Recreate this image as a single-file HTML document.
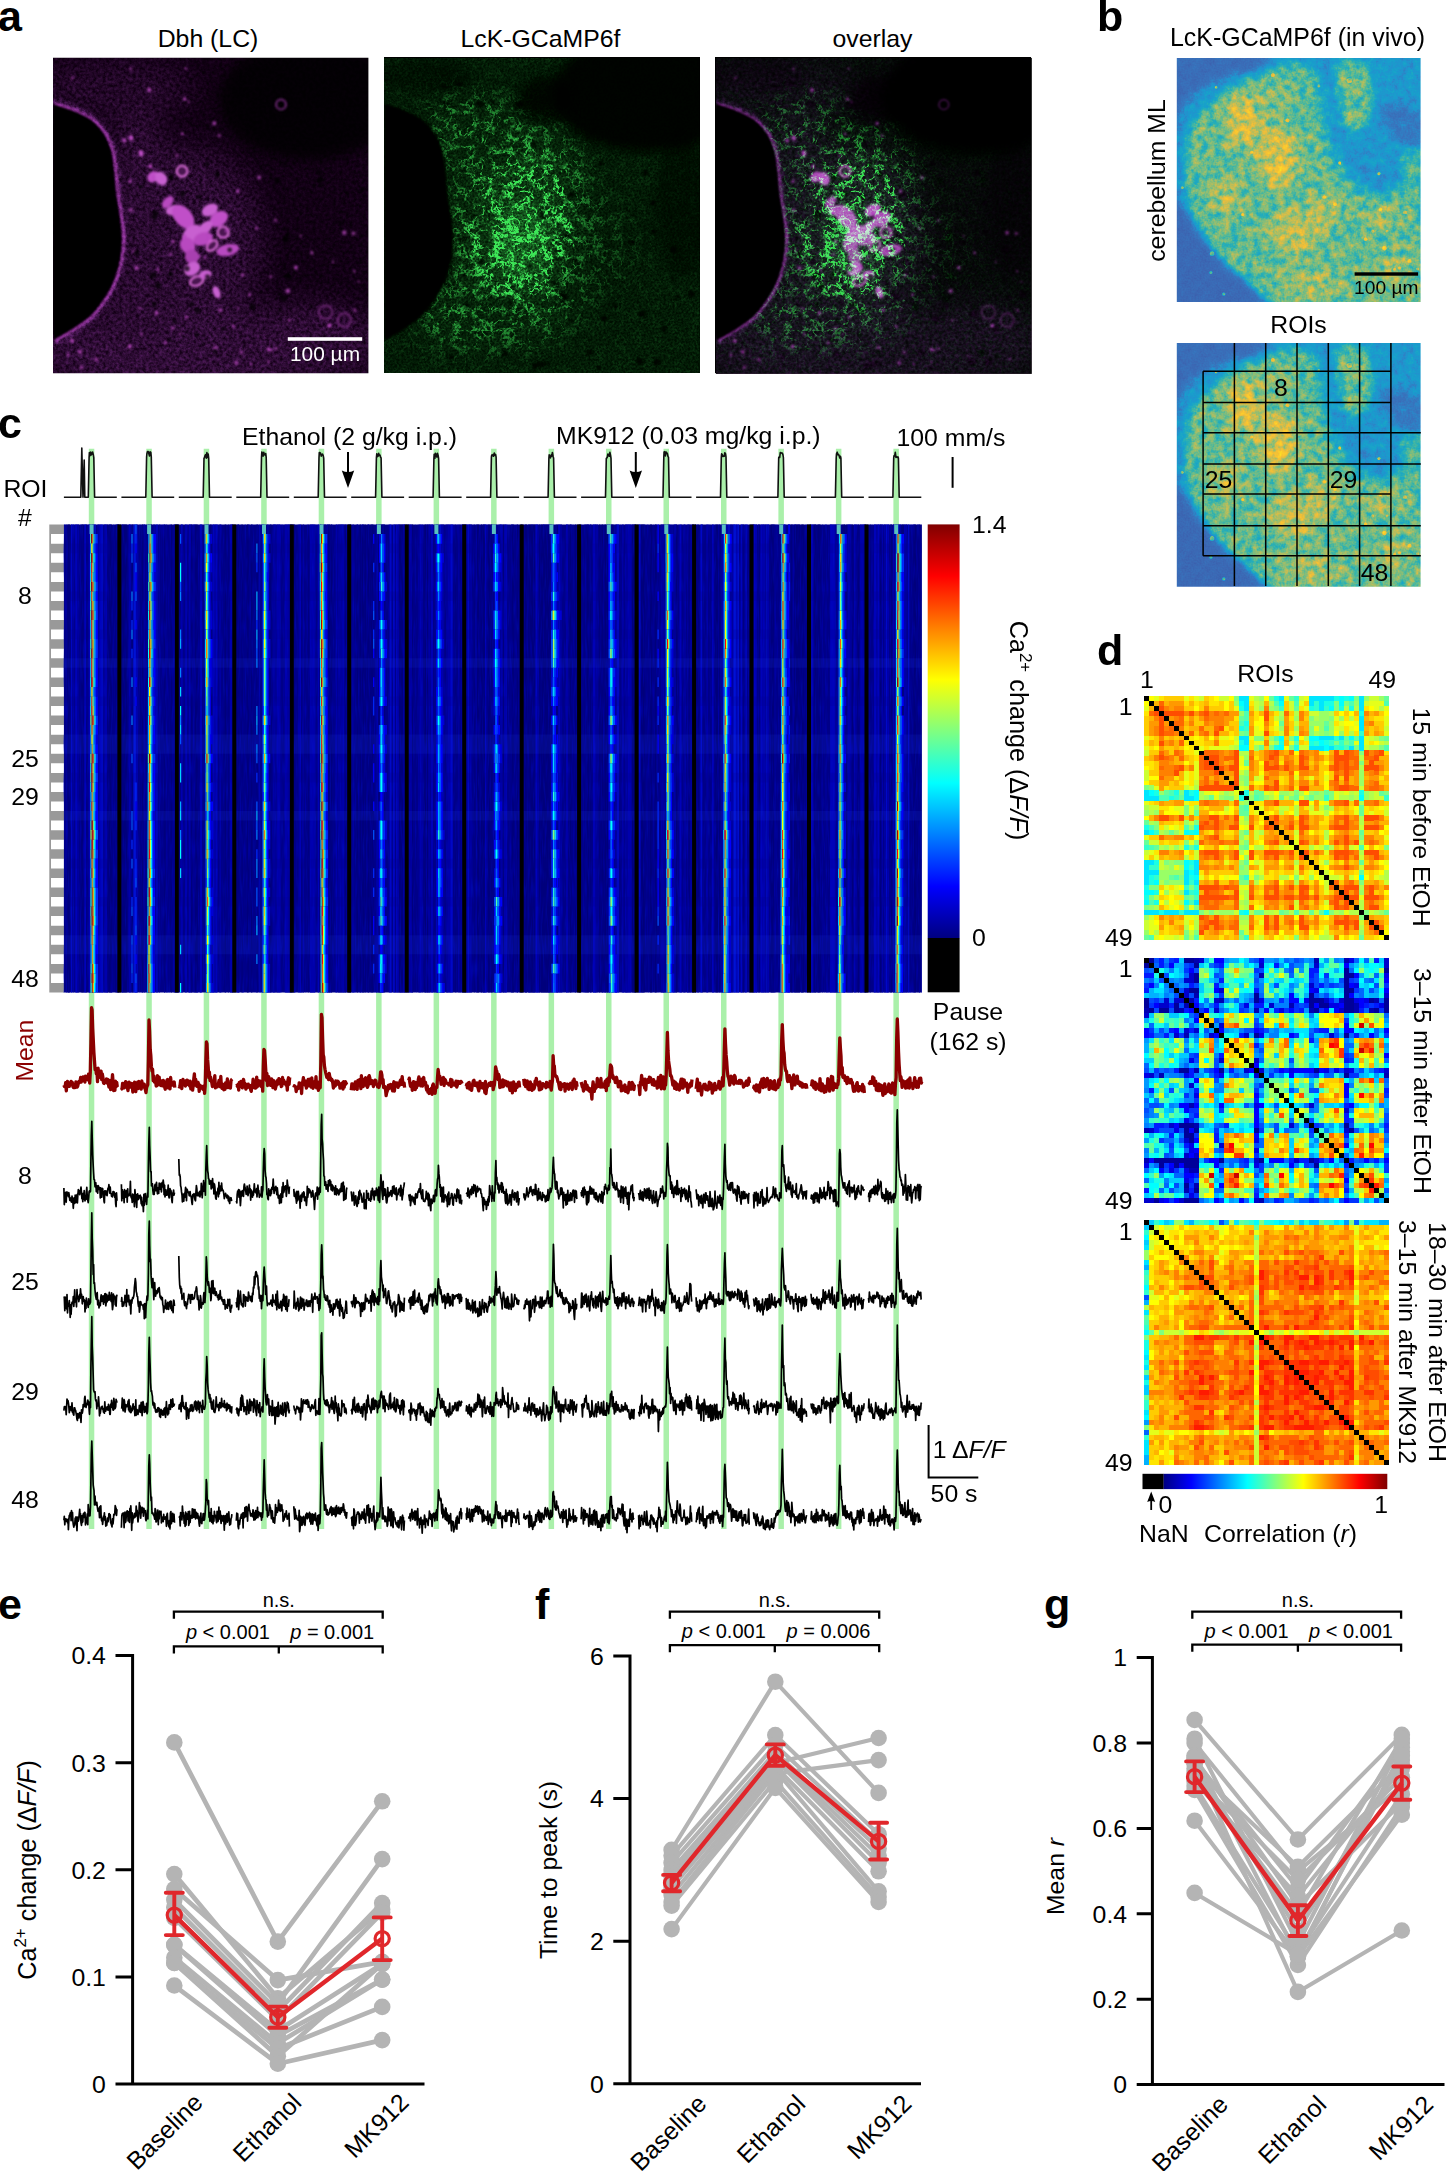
<!DOCTYPE html>
<html><head><meta charset="utf-8"><title>Figure</title>
<style>html,body{margin:0;padding:0;background:#fff}body{width:1449px;height:2171px;overflow:hidden}
svg{display:block}text{font-family:"Liberation Sans",sans-serif;fill:#000}</style></head>
<body><svg width="1449" height="2171" viewBox="0 0 1449 2171">
<rect width="1449" height="2171" fill="#fff"/>
<g stroke="#b4b4b4" stroke-width="4.7" fill="none" stroke-linecap="round" stroke-linejoin="round">
<path d="M174.3 1742.4L277.8 1941.6L382.2 1801.3"/>
<path d="M174.3 1874.1L277.8 1998.3L382.2 1909.4"/>
<path d="M174.3 1889.1L277.8 1980.1L382.2 1961.9"/>
<path d="M174.3 1899.8L277.8 2003.7L382.2 1859.1"/>
<path d="M174.3 1907.3L277.8 2011.2L382.2 1903"/>
<path d="M174.3 1918L277.8 2019.7L382.2 1912.6"/>
<path d="M174.3 1944.8L277.8 2030.5L382.2 1964"/>
<path d="M174.3 1944.8L277.8 2035.8L382.2 1979.6"/>
<path d="M174.3 1957.6L277.8 2043.3L382.2 1979.6"/>
<path d="M174.3 1963L277.8 2048.7L382.2 2006.9"/>
<path d="M174.3 1963L277.8 2056.2L382.2 1964"/>
<path d="M174.3 1985.5L277.8 2063.7L382.2 2040.1"/>
</g><g fill="#b4b4b4">
<circle cx="174.3" cy="1742.4" r="8.3"/>
<circle cx="277.8" cy="1941.6" r="8.3"/>
<circle cx="382.2" cy="1801.3" r="8.3"/>
<circle cx="174.3" cy="1874.1" r="8.3"/>
<circle cx="277.8" cy="1998.3" r="8.3"/>
<circle cx="382.2" cy="1909.4" r="8.3"/>
<circle cx="174.3" cy="1889.1" r="8.3"/>
<circle cx="277.8" cy="1980.1" r="8.3"/>
<circle cx="382.2" cy="1961.9" r="8.3"/>
<circle cx="174.3" cy="1899.8" r="8.3"/>
<circle cx="277.8" cy="2003.7" r="8.3"/>
<circle cx="382.2" cy="1859.1" r="8.3"/>
<circle cx="174.3" cy="1907.3" r="8.3"/>
<circle cx="277.8" cy="2011.2" r="8.3"/>
<circle cx="382.2" cy="1903" r="8.3"/>
<circle cx="174.3" cy="1918" r="8.3"/>
<circle cx="277.8" cy="2019.7" r="8.3"/>
<circle cx="382.2" cy="1912.6" r="8.3"/>
<circle cx="174.3" cy="1944.8" r="8.3"/>
<circle cx="277.8" cy="2030.5" r="8.3"/>
<circle cx="382.2" cy="1964" r="8.3"/>
<circle cx="174.3" cy="1944.8" r="8.3"/>
<circle cx="277.8" cy="2035.8" r="8.3"/>
<circle cx="382.2" cy="1979.6" r="8.3"/>
<circle cx="174.3" cy="1957.6" r="8.3"/>
<circle cx="277.8" cy="2043.3" r="8.3"/>
<circle cx="382.2" cy="1979.6" r="8.3"/>
<circle cx="174.3" cy="1963" r="8.3"/>
<circle cx="277.8" cy="2048.7" r="8.3"/>
<circle cx="382.2" cy="2006.9" r="8.3"/>
<circle cx="174.3" cy="1963" r="8.3"/>
<circle cx="277.8" cy="2056.2" r="8.3"/>
<circle cx="382.2" cy="1964" r="8.3"/>
<circle cx="174.3" cy="1985.5" r="8.3"/>
<circle cx="277.8" cy="2063.7" r="8.3"/>
<circle cx="382.2" cy="2040.1" r="8.3"/>
</g>
<g stroke="#e0272b" fill="none">
<path stroke-width="4.4" stroke-linejoin="round" d="M174.3 1915.1L277.8 2017.2L382.2 1938.6"/>
<path stroke-width="3.9" stroke-linecap="round" d="M174.3 1892.7V1935.1M165.8 1892.7h17M165.8 1935.1h17"/>
<circle cx="174.3" cy="1915.1" r="7.1" stroke-width="3.2"/>
<path stroke-width="3.9" stroke-linecap="round" d="M277.8 2006.6V2027.7M269.3 2006.6h17M269.3 2027.7h17"/>
<circle cx="277.8" cy="2017.2" r="7.1" stroke-width="3.2"/>
<path stroke-width="3.9" stroke-linecap="round" d="M382.2 1917.4V1960.1M373.7 1917.4h17M373.7 1960.1h17"/>
<circle cx="382.2" cy="1938.6" r="7.1" stroke-width="3.2"/>
</g>
<path d="M132.6 1654.1V2084M115.5 2084H424.5M115.5 1976.9H132.6M115.5 1869.8H132.6M115.5 1762.7H132.6M115.5 1655.6H132.6" stroke="#000" stroke-width="3" fill="none"/>
<text x="105.9" y="2092.8" font-size="24.8" text-anchor="end">0</text>
<text x="105.9" y="1985.7" font-size="24.8" text-anchor="end">0.1</text>
<text x="105.9" y="1878.6" font-size="24.8" text-anchor="end">0.2</text>
<text x="105.9" y="1771.5" font-size="24.8" text-anchor="end">0.3</text>
<text x="105.9" y="1664.4" font-size="24.8" text-anchor="end">0.4</text>
<text transform="translate(36,1870) rotate(-90)" font-size="25.2" text-anchor="middle">Ca<tspan font-size="17" dy="-10.5">2+</tspan><tspan dy="10.5"> change (Δ</tspan><tspan font-style="italic">F/F</tspan>)</text>
<path d="M173.9 1618.7V1611.7H382.7V1618.7M173.9 1653.4V1646.4H382.7V1653.4M278.8 1646.4V1653.4" stroke="#000" stroke-width="2.3" fill="none"/>
<text x="278.8" y="1607" font-size="20" text-anchor="middle">n.s.</text>
<text x="227.9" y="1639.2" font-size="20" text-anchor="middle"><tspan font-style="italic">p</tspan> &lt; 0.001</text>
<text x="332.2" y="1639.2" font-size="20" text-anchor="middle"><tspan font-style="italic">p</tspan> = 0.001</text>
<text font-size="24.8" text-anchor="end" transform="translate(204.3,2104) rotate(-45)">Baseline</text>
<text font-size="24.8" text-anchor="end" transform="translate(302.8,2104) rotate(-45)">Ethanol</text>
<text font-size="24.8" text-anchor="end" transform="translate(410.2,2104) rotate(-45)">MK912</text>
<text x="-2" y="1618.6" font-size="43" font-weight="bold">e</text>
<g stroke="#b4b4b4" stroke-width="4.1" fill="none" stroke-linecap="round" stroke-linejoin="round">
<path d="M671.6 1849.9L775.3 1681.7L878.6 1792.9"/>
<path d="M671.6 1855.6L775.3 1735.1L878.6 1834.2"/>
<path d="M671.6 1862.8L775.3 1745.1L878.6 1841.4"/>
<path d="M671.6 1869.9L775.3 1752.3L878.6 1848.5"/>
<path d="M671.6 1873.5L775.3 1755.8L878.6 1855.6"/>
<path d="M671.6 1877L775.3 1759.4L878.6 1862.8"/>
<path d="M671.6 1884.2L775.3 1763L878.6 1738"/>
<path d="M671.6 1887.7L775.3 1766.5L878.6 1871.3"/>
<path d="M671.6 1894.9L775.3 1770.1L878.6 1891.3"/>
<path d="M671.6 1902L775.3 1773.6L878.6 1760.1"/>
<path d="M671.6 1905.6L775.3 1780.8L878.6 1897"/>
<path d="M671.6 1929.1L775.3 1787.9L878.6 1902"/>
</g><g fill="#b4b4b4">
<circle cx="671.6" cy="1849.9" r="8.3"/>
<circle cx="775.3" cy="1681.7" r="8.3"/>
<circle cx="878.6" cy="1792.9" r="8.3"/>
<circle cx="671.6" cy="1855.6" r="8.3"/>
<circle cx="775.3" cy="1735.1" r="8.3"/>
<circle cx="878.6" cy="1834.2" r="8.3"/>
<circle cx="671.6" cy="1862.8" r="8.3"/>
<circle cx="775.3" cy="1745.1" r="8.3"/>
<circle cx="878.6" cy="1841.4" r="8.3"/>
<circle cx="671.6" cy="1869.9" r="8.3"/>
<circle cx="775.3" cy="1752.3" r="8.3"/>
<circle cx="878.6" cy="1848.5" r="8.3"/>
<circle cx="671.6" cy="1873.5" r="8.3"/>
<circle cx="775.3" cy="1755.8" r="8.3"/>
<circle cx="878.6" cy="1855.6" r="8.3"/>
<circle cx="671.6" cy="1877" r="8.3"/>
<circle cx="775.3" cy="1759.4" r="8.3"/>
<circle cx="878.6" cy="1862.8" r="8.3"/>
<circle cx="671.6" cy="1884.2" r="8.3"/>
<circle cx="775.3" cy="1763" r="8.3"/>
<circle cx="878.6" cy="1738" r="8.3"/>
<circle cx="671.6" cy="1887.7" r="8.3"/>
<circle cx="775.3" cy="1766.5" r="8.3"/>
<circle cx="878.6" cy="1871.3" r="8.3"/>
<circle cx="671.6" cy="1894.9" r="8.3"/>
<circle cx="775.3" cy="1770.1" r="8.3"/>
<circle cx="878.6" cy="1891.3" r="8.3"/>
<circle cx="671.6" cy="1902" r="8.3"/>
<circle cx="775.3" cy="1773.6" r="8.3"/>
<circle cx="878.6" cy="1760.1" r="8.3"/>
<circle cx="671.6" cy="1905.6" r="8.3"/>
<circle cx="775.3" cy="1780.8" r="8.3"/>
<circle cx="878.6" cy="1897" r="8.3"/>
<circle cx="671.6" cy="1929.1" r="8.3"/>
<circle cx="775.3" cy="1787.9" r="8.3"/>
<circle cx="878.6" cy="1902" r="8.3"/>
</g>
<g stroke="#e0272b" fill="none">
<path stroke-width="4.4" stroke-linejoin="round" d="M671.6 1882.9L775.3 1755.1L878.6 1841.4"/>
<path stroke-width="3.9" stroke-linecap="round" d="M671.6 1874.9V1891.3M663.1 1874.9h17M663.1 1891.3h17"/>
<circle cx="671.6" cy="1882.9" r="7.1" stroke-width="3.2"/>
<path stroke-width="3.9" stroke-linecap="round" d="M775.3 1744.4V1765.8M766.8 1744.4h17M766.8 1765.8h17"/>
<circle cx="775.3" cy="1755.1" r="7.1" stroke-width="3.2"/>
<path stroke-width="3.9" stroke-linecap="round" d="M878.6 1822.8V1859.5M870.1 1822.8h17M870.1 1859.5h17"/>
<circle cx="878.6" cy="1841.4" r="7.1" stroke-width="3.2"/>
</g>
<path d="M630 1654.5V2083.8M613.3 2083.8H921M613.3 1941.2H630M613.3 1798.6H630M613.3 1656H630" stroke="#000" stroke-width="3" fill="none"/>
<text x="603.7" y="2092.6" font-size="24.8" text-anchor="end">0</text>
<text x="603.7" y="1950" font-size="24.8" text-anchor="end">2</text>
<text x="603.7" y="1807.4" font-size="24.8" text-anchor="end">4</text>
<text x="603.7" y="1664.8" font-size="24.8" text-anchor="end">6</text>
<text transform="translate(556.5,1870) rotate(-90)" font-size="24.8" text-anchor="middle">Time to peak (s)</text>
<path d="M669.9 1618.7V1611.7H879.2V1618.7M669.9 1652.2V1645.2H879.2V1652.2M774.8 1645.2V1652.2" stroke="#000" stroke-width="2.3" fill="none"/>
<text x="774.8" y="1607" font-size="20" text-anchor="middle">n.s.</text>
<text x="723.8" y="1638" font-size="20" text-anchor="middle"><tspan font-style="italic">p</tspan> &lt; 0.001</text>
<text x="828.5" y="1638" font-size="20" text-anchor="middle"><tspan font-style="italic">p</tspan> = 0.006</text>
<text font-size="24.8" text-anchor="end" transform="translate(708.1,2105.3) rotate(-45)">Baseline</text>
<text font-size="24.8" text-anchor="end" transform="translate(806.8,2105.3) rotate(-45)">Ethanol</text>
<text font-size="24.8" text-anchor="end" transform="translate(913.1,2105.3) rotate(-45)">MK912</text>
<text x="535" y="1618.6" font-size="43" font-weight="bold">f</text>
<g stroke="#b4b4b4" stroke-width="4.1" fill="none" stroke-linecap="round" stroke-linejoin="round">
<path d="M1194.6 1719.9L1297.9 1839.5L1401.8 1734.9"/>
<path d="M1194.6 1738.7L1297.9 1943.7L1401.8 1743"/>
<path d="M1194.6 1743L1297.9 1871.1L1401.8 1785.7"/>
<path d="M1194.6 1755.8L1297.9 1956.5L1401.8 1751.5"/>
<path d="M1194.6 1760.1L1297.9 1888.2L1401.8 1747.3"/>
<path d="M1194.6 1764.3L1297.9 1930.9L1401.8 1760.1"/>
<path d="M1194.6 1768.6L1297.9 1866.8L1401.8 1764.3"/>
<path d="M1194.6 1772.9L1297.9 1913.8L1401.8 1738.7"/>
<path d="M1194.6 1777.2L1297.9 1879.6L1401.8 1777.2"/>
<path d="M1194.6 1781.4L1297.9 1896.7L1401.8 1768.6"/>
<path d="M1194.6 1785.7L1297.9 1952.2L1401.8 1794.2"/>
<path d="M1194.6 1790L1297.9 1965L1401.8 1807"/>
<path d="M1194.6 1820.7L1297.9 1956.5L1401.8 1814.7"/>
<path d="M1194.6 1892.9L1297.9 1954.4L1401.8 1755.8"/>
<path d="M1194.6 1762.2L1297.9 1991.9L1401.8 1930.5"/>
<path d="M1194.6 1757.9L1297.9 1905.3L1401.8 1802.8"/>
</g><g fill="#b4b4b4">
<circle cx="1194.6" cy="1719.9" r="8.3"/>
<circle cx="1297.9" cy="1839.5" r="8.3"/>
<circle cx="1401.8" cy="1734.9" r="8.3"/>
<circle cx="1194.6" cy="1738.7" r="8.3"/>
<circle cx="1297.9" cy="1943.7" r="8.3"/>
<circle cx="1401.8" cy="1743" r="8.3"/>
<circle cx="1194.6" cy="1743" r="8.3"/>
<circle cx="1297.9" cy="1871.1" r="8.3"/>
<circle cx="1401.8" cy="1785.7" r="8.3"/>
<circle cx="1194.6" cy="1755.8" r="8.3"/>
<circle cx="1297.9" cy="1956.5" r="8.3"/>
<circle cx="1401.8" cy="1751.5" r="8.3"/>
<circle cx="1194.6" cy="1760.1" r="8.3"/>
<circle cx="1297.9" cy="1888.2" r="8.3"/>
<circle cx="1401.8" cy="1747.3" r="8.3"/>
<circle cx="1194.6" cy="1764.3" r="8.3"/>
<circle cx="1297.9" cy="1930.9" r="8.3"/>
<circle cx="1401.8" cy="1760.1" r="8.3"/>
<circle cx="1194.6" cy="1768.6" r="8.3"/>
<circle cx="1297.9" cy="1866.8" r="8.3"/>
<circle cx="1401.8" cy="1764.3" r="8.3"/>
<circle cx="1194.6" cy="1772.9" r="8.3"/>
<circle cx="1297.9" cy="1913.8" r="8.3"/>
<circle cx="1401.8" cy="1738.7" r="8.3"/>
<circle cx="1194.6" cy="1777.2" r="8.3"/>
<circle cx="1297.9" cy="1879.6" r="8.3"/>
<circle cx="1401.8" cy="1777.2" r="8.3"/>
<circle cx="1194.6" cy="1781.4" r="8.3"/>
<circle cx="1297.9" cy="1896.7" r="8.3"/>
<circle cx="1401.8" cy="1768.6" r="8.3"/>
<circle cx="1194.6" cy="1785.7" r="8.3"/>
<circle cx="1297.9" cy="1952.2" r="8.3"/>
<circle cx="1401.8" cy="1794.2" r="8.3"/>
<circle cx="1194.6" cy="1790" r="8.3"/>
<circle cx="1297.9" cy="1965" r="8.3"/>
<circle cx="1401.8" cy="1807" r="8.3"/>
<circle cx="1194.6" cy="1820.7" r="8.3"/>
<circle cx="1297.9" cy="1956.5" r="8.3"/>
<circle cx="1401.8" cy="1814.7" r="8.3"/>
<circle cx="1194.6" cy="1892.9" r="8.3"/>
<circle cx="1297.9" cy="1954.4" r="8.3"/>
<circle cx="1401.8" cy="1755.8" r="8.3"/>
<circle cx="1194.6" cy="1762.2" r="8.3"/>
<circle cx="1297.9" cy="1991.9" r="8.3"/>
<circle cx="1401.8" cy="1930.5" r="8.3"/>
<circle cx="1194.6" cy="1757.9" r="8.3"/>
<circle cx="1297.9" cy="1905.3" r="8.3"/>
<circle cx="1401.8" cy="1802.8" r="8.3"/>
</g>
<g stroke="#e0272b" fill="none">
<path stroke-width="4.4" stroke-linejoin="round" d="M1194.6 1776.7L1297.9 1920.4L1401.8 1783.1"/>
<path stroke-width="3.9" stroke-linecap="round" d="M1194.6 1761.4V1792.1M1186.1 1761.4h17M1186.1 1792.1h17"/>
<circle cx="1194.6" cy="1776.7" r="7.1" stroke-width="3.2"/>
<path stroke-width="3.9" stroke-linecap="round" d="M1297.9 1905.3V1936M1289.4 1905.3h17M1289.4 1936h17"/>
<circle cx="1297.9" cy="1920.4" r="7.1" stroke-width="3.2"/>
<path stroke-width="3.9" stroke-linecap="round" d="M1401.8 1766.5V1799.8M1393.3 1766.5h17M1393.3 1799.8h17"/>
<circle cx="1401.8" cy="1783.1" r="7.1" stroke-width="3.2"/>
</g>
<path d="M1152.4 1656.1V2084.6M1136.7 2084.6H1444.5M1136.7 1999.2H1152.4M1136.7 1913.8H1152.4M1136.7 1828.4H1152.4M1136.7 1743H1152.4M1136.7 1657.6H1152.4" stroke="#000" stroke-width="3" fill="none"/>
<text x="1127.1" y="2093.4" font-size="24.8" text-anchor="end">0</text>
<text x="1127.1" y="2008" font-size="24.8" text-anchor="end">0.2</text>
<text x="1127.1" y="1922.6" font-size="24.8" text-anchor="end">0.4</text>
<text x="1127.1" y="1837.2" font-size="24.8" text-anchor="end">0.6</text>
<text x="1127.1" y="1751.8" font-size="24.8" text-anchor="end">0.8</text>
<text x="1127.1" y="1666.4" font-size="24.8" text-anchor="end">1</text>
<text transform="translate(1063.5,1876.5) rotate(-90)" font-size="24.8" text-anchor="middle">Mean <tspan font-style="italic">r</tspan></text>
<path d="M1192.3 1618.7V1611.7H1401.1V1618.7M1192.3 1651.7V1644.7H1401.1V1651.7M1297.9 1644.7V1651.7" stroke="#000" stroke-width="2.3" fill="none"/>
<text x="1297.9" y="1607" font-size="20" text-anchor="middle">n.s.</text>
<text x="1246.6" y="1637.5" font-size="20" text-anchor="middle"><tspan font-style="italic">p</tspan> &lt; 0.001</text>
<text x="1351" y="1637.5" font-size="20" text-anchor="middle"><tspan font-style="italic">p</tspan> &lt; 0.001</text>
<text font-size="24.8" text-anchor="end" transform="translate(1229.6,2106.1) rotate(-45)">Baseline</text>
<text font-size="24.8" text-anchor="end" transform="translate(1327.9,2106.1) rotate(-45)">Ethanol</text>
<text font-size="24.8" text-anchor="end" transform="translate(1434.8,2106.1) rotate(-45)">MK912</text>
<text x="1044" y="1618.6" font-size="43" font-weight="bold">g</text>
<defs><filter id="fg" x="0" y="0" width="315.4" height="315.4" filterUnits="userSpaceOnUse" color-interpolation-filters="sRGB"><feTurbulence type="fractalNoise" baseFrequency="0.055" numOctaves="4" seed="4" result="t"/><feComponentTransfer in="t" result="r"><feFuncR type="table" tableValues="0 0 0 0 0 0 0 0 0 0 0 0 0 0 0 0 0 0 0 .55 1 .55 0 0 0 0 0 0 0 0 0 0 0 0 0 0 0 0 0 0 0"/><feFuncG type="table" tableValues="0 0 0 0 0 0 0 0 0 0 0 0 0 0 0 0 0 0 0 .55 1 .55 0 0 0 0 0 0 0 0 0 0 0 0 0 0 0 0 0 0 0"/><feFuncB type="table" tableValues="0 0 0 0 0 0 0 0 0 0 0 0 0 0 0 0 0 0 0 .55 1 .55 0 0 0 0 0 0 0 0 0 0 0 0 0 0 0 0 0 0 0"/><feFuncA type="linear" slope="0" intercept="1"/></feComponentTransfer><feColorMatrix in="r" type="matrix" values="1 1 .5 0 0  1 1 .5 0 0  1 1 .5 0 0  0 0 0 0 1" result="rr0"/><feGaussianBlur in="rr0" stdDeviation="0.45" result="rr"/><feTurbulence type="fractalNoise" baseFrequency="0.45" numOctaves="2" seed="9" result="g0"/><feColorMatrix in="g0" type="matrix" values="2.2 0 0 0 -.6  2.2 0 0 0 -.6  2.2 0 0 0 -.6  0 0 0 0 1" result="g"/><feTurbulence type="fractalNoise" baseFrequency="0.1" numOctaves="2" seed="31" result="t3"/><feColorMatrix in="t3" type="matrix" values="4.5 0 0 0 -1.7  4.5 0 0 0 -1.7  4.5 0 0 0 -1.7  0 0 0 0 1" result="brk"/><feComposite in="rr" in2="brk" operator="arithmetic" k1="1" k2=".12" k3="0" k4="0" result="rrb"/><feComposite in="rrb" in2="g" operator="arithmetic" k1="1.3" k2=".3" k3="0" k4="0" result="rg"/><feColorMatrix in="SourceGraphic" type="matrix" values="1 0 0 0 0  1 0 0 0 0  1 0 0 0 0  0 0 0 0 1" result="sR"/><feColorMatrix in="SourceGraphic" type="matrix" values="0 1 0 0 0  0 1 0 0 0  0 1 0 0 0  0 0 0 0 1" result="sG"/><feComposite in="rg" in2="sR" operator="arithmetic" k1="1.15" k2="0" k3="0" k4="0" result="fil"/><feComposite in="g" in2="sG" operator="arithmetic" k1=".9" k2="0" k3=".5" k4="0" result="bas"/><feComposite in="fil" in2="bas" operator="arithmetic" k1="0" k2="1" k3="1" k4="0" result="m"/><feColorMatrix in="m" type="matrix" values=".26 0 0 0 -.02  .9 0 0 0 0  .36 0 0 0 -.02  0 0 0 0 1"/></filter><filter id="fm" x="0" y="0" width="315.4" height="315.4" filterUnits="userSpaceOnUse" color-interpolation-filters="sRGB"><feTurbulence type="fractalNoise" baseFrequency="0.3" numOctaves="3" seed="17" result="g0"/><feColorMatrix in="g0" type="matrix" values="0 1.8 0 0 -.4  0 1.8 0 0 -.4  0 1.8 0 0 -.4  0 0 0 0 1" result="g1"/><feGaussianBlur in="g1" stdDeviation=".6" result="g"/><feComposite in="g" in2="SourceGraphic" operator="arithmetic" k1="1.1" k2="0" k3=".45" k4="0" result="m"/><feColorMatrix in="m" type="matrix" values=".8 0 0 0 0  .36 0 0 0 -.035  .92 0 0 0 0  0 0 0 0 1"/></filter><filter id="dk" x="0" y="0" width="100%" height="100%" color-interpolation-filters="sRGB"><feComponentTransfer><feFuncR type="gamma" exponent="1.45"/><feFuncG type="gamma" exponent="1.45"/><feFuncB type="gamma" exponent="1.45"/></feComponentTransfer></filter><filter id="b2"><feGaussianBlur stdDeviation="2"/></filter><filter id="b5"><feGaussianBlur stdDeviation="6"/></filter><filter id="b12"><feGaussianBlur stdDeviation="14"/></filter><filter id="b1"><feGaussianBlur stdDeviation="0.8"/></filter><clipPath id="ca"><rect width="315.4" height="315.4"/></clipPath></defs>
<text x="-2" y="30.5" font-size="43" font-weight="bold">a</text>
<text x="208" y="46.8" font-size="24.8" text-anchor="middle">Dbh (LC)</text>
<text x="540.5" y="46.8" font-size="24.8" text-anchor="middle">LcK-GCaMP6f</text>
<text x="872.5" y="46.8" font-size="24.8" text-anchor="middle">overlay</text>
<g transform="translate(53,57.8)"><g clip-path="url(#ca)"><g filter="url(#fm)"><rect width="315.4" height="315.4" fill="#000"/><rect width="315.4" height="315.4" fill="#161616"/><g filter="url(#b12)"><ellipse cx="135" cy="185" rx="75" ry="95" fill="#363636"/><ellipse cx="130" cy="295" rx="150" ry="45" fill="#3a3a3a"/><ellipse cx="250" cy="285" rx="80" ry="40" fill="#383838"/><ellipse cx="60" cy="30" rx="80" ry="30" fill="#2c2c2c"/><ellipse cx="85" cy="120" rx="30" ry="70" fill="#343434"/><ellipse cx="85" cy="250" rx="40" ry="40" fill="#363636"/></g><g filter="url(#b5)"><ellipse cx="255" cy="42" rx="90" ry="60" fill="#000" opacity=".8"/></g><path d="M0 45.6C3.2 46.7 12.8 49.4 19 52C25.2 54.6 31.8 57.3 37 61C42.2 64.7 46.5 69.2 50 74.4C53.5 79.6 56.1 85.4 58 92C59.9 98.6 60.4 106.5 61.3 114C62.2 121.5 62.5 129.5 63.5 137C64.5 144.5 66.1 151.7 67 159C67.9 166.3 69 173.7 69 181C69 188.3 68.5 195.6 67 203C65.5 210.4 62.8 218.8 60 225.5C57.2 232.2 53.8 237.4 50 243C46.2 248.6 42.2 254.2 37 259C31.8 263.8 25.2 268 19 272C12.8 276 3.2 281.2 0 283" fill="none" stroke="#777" stroke-width="8" filter="url(#b2)"/><path d="M0 45.6C3.2 46.7 12.8 49.4 19 52C25.2 54.6 31.8 57.3 37 61C42.2 64.7 46.5 69.2 50 74.4C53.5 79.6 56.1 85.4 58 92C59.9 98.6 60.4 106.5 61.3 114C62.2 121.5 62.5 129.5 63.5 137C64.5 144.5 66.1 151.7 67 159C67.9 166.3 69 173.7 69 181C69 188.3 68.5 195.6 67 203C65.5 210.4 62.8 218.8 60 225.5C57.2 232.2 53.8 237.4 50 243C46.2 248.6 42.2 254.2 37 259C31.8 263.8 25.2 268 19 272C12.8 276 3.2 281.2 0 283Z" fill="#000" filter="url(#b1)"/></g><path d="M0 45.6C3.2 46.7 12.8 49.4 19 52C25.2 54.6 31.8 57.3 37 61C42.2 64.7 46.5 69.2 50 74.4C53.5 79.6 56.1 85.4 58 92C59.9 98.6 60.4 106.5 61.3 114C62.2 121.5 62.5 129.5 63.5 137C64.5 144.5 66.1 151.7 67 159C67.9 166.3 69 173.7 69 181C69 188.3 68.5 195.6 67 203C65.5 210.4 62.8 218.8 60 225.5C57.2 232.2 53.8 237.4 50 243C46.2 248.6 42.2 254.2 37 259C31.8 263.8 25.2 268 19 272C12.8 276 3.2 281.2 0 283" fill="none" stroke="#b040b8" stroke-width="2" opacity=".85" filter="url(#b1)" transform="translate(1.8,0)"/><g filter="url(#b1)"><ellipse cx="100.2" cy="118.9" rx="6.4" ry="5.2" fill="#c050c8" transform="rotate(-40.5 100.2 118.9)"/><ellipse cx="108" cy="120.7" rx="5.8" ry="7.2" fill="#c860d0" transform="rotate(-35.2 108 120.7)"/><ellipse cx="129.1" cy="113.3" rx="5.6" ry="5.6" fill="#4a1450" stroke="#e070e0" stroke-width="1.8" transform="rotate(-25 129.1 113.3)"/><ellipse cx="114.7" cy="144.4" rx="7.2" ry="4.3" fill="#b848c0" transform="rotate(-47.4 114.7 144.4)"/><ellipse cx="121.3" cy="152.2" rx="8.7" ry="5.2" fill="#c860d0" transform="rotate(-13.6 121.3 152.2)"/><ellipse cx="130.2" cy="158.9" rx="8.7" ry="13.9" fill="#c050c8" transform="rotate(-39.6 130.2 158.9)"/><ellipse cx="139.1" cy="176.7" rx="11.6" ry="8.1" fill="#c860d0" transform="rotate(-42.3 139.1 176.7)"/><ellipse cx="156.9" cy="152.2" rx="8.7" ry="5.8" fill="#c860d0" transform="rotate(-28.4 156.9 152.2)"/><ellipse cx="165.8" cy="161.1" rx="10.1" ry="7.2" fill="#c050c8" transform="rotate(-34.1 165.8 161.1)"/><ellipse cx="170.2" cy="174.4" rx="5.8" ry="5.8" fill="#4a1450" stroke="#e070e0" stroke-width="1.8" transform="rotate(-40.7 170.2 174.4)"/><ellipse cx="152.4" cy="170" rx="8.7" ry="5.2" fill="#c860d0" transform="rotate(-43.9 152.4 170)"/><ellipse cx="150.2" cy="181.1" rx="10.1" ry="6.4" fill="#b848c0" transform="rotate(-20.3 150.2 181.1)"/><ellipse cx="159.1" cy="187.8" rx="6.5" ry="4.2" fill="#4a1450" stroke="#e070e0" stroke-width="1.8" transform="rotate(-43.6 159.1 187.8)"/><ellipse cx="174.7" cy="192.2" rx="11.6" ry="5.8" fill="#b848c0" transform="rotate(-11.7 174.7 192.2)"/><ellipse cx="134.7" cy="187.8" rx="7.2" ry="8.7" fill="#b848c0" transform="rotate(-37.9 134.7 187.8)"/><ellipse cx="139.1" cy="198.9" rx="7.2" ry="7.2" fill="#a840b0" transform="rotate(-17.1 139.1 198.9)"/><ellipse cx="139.1" cy="211.1" rx="8.7" ry="6.4" fill="#c860d0" transform="rotate(-31.1 139.1 211.1)"/><ellipse cx="143.6" cy="223.3" rx="7" ry="4.7" fill="#4a1450" stroke="#e070e0" stroke-width="1.8" transform="rotate(-21.4 143.6 223.3)"/><ellipse cx="152.4" cy="216.7" rx="6.4" ry="4.3" fill="#c860d0" transform="rotate(-13.2 152.4 216.7)"/><ellipse cx="163.6" cy="234.4" rx="3.5" ry="6.4" fill="#c860d0" transform="rotate(-20.9 163.6 234.4)"/><ellipse cx="88" cy="95.6" rx="2.3" ry="3.5" fill="#c050c8" transform="rotate(-11.4 88 95.6)"/><ellipse cx="78" cy="80" rx="2.3" ry="2.9" fill="#b848c0" transform="rotate(-14.8 78 80)"/><circle cx="272.4" cy="254.4" r="6.7" fill="none" stroke="#702878" stroke-width="2"/><circle cx="291.3" cy="262.2" r="6.7" fill="none" stroke="#702878" stroke-width="2"/><circle cx="228" cy="46.7" r="4.9" fill="none" stroke="#702878" stroke-width="2"/><circle cx="83.7" cy="210" r="2" fill="#b848c0" opacity=".94"/><circle cx="133.5" cy="259.2" r="1.7" fill="#b848c0" opacity=".81"/><circle cx="129.3" cy="75.9" r="1.4" fill="#b848c0" opacity=".97"/><circle cx="189.8" cy="217.1" r="1.9" fill="#b848c0" opacity=".73"/><circle cx="170.2" cy="179.4" r="1.1" fill="#b848c0" opacity=".86"/><circle cx="198.1" cy="306.4" r="1.3" fill="#b848c0" opacity=".65"/><circle cx="152" cy="199.8" r="1.6" fill="#b848c0" opacity=".74"/><circle cx="131.6" cy="41.3" r="1.8" fill="#b848c0" opacity=".9"/><circle cx="120.2" cy="183.8" r="1.7" fill="#b848c0" opacity=".97"/><circle cx="90.1" cy="77" r="1" fill="#b848c0" opacity=".6"/><circle cx="294.4" cy="301.3" r="1.4" fill="#b848c0" opacity=".71"/><circle cx="215.4" cy="303.9" r="1.4" fill="#b848c0" opacity=".74"/><circle cx="119.9" cy="270.3" r="1.5" fill="#b848c0" opacity=".95"/><circle cx="301.7" cy="252.5" r="1.4" fill="#b848c0" opacity=".85"/><circle cx="223.3" cy="290.6" r="1.6" fill="#b848c0" opacity=".7"/><circle cx="97.4" cy="108.4" r="2" fill="#b848c0" opacity=".99"/><circle cx="101" cy="119.8" r="1.8" fill="#b848c0" opacity=".65"/><circle cx="112.6" cy="284.8" r="1.8" fill="#b848c0" opacity=".71"/><circle cx="154.3" cy="184.8" r="2.2" fill="#b848c0" opacity=".61"/><circle cx="117.6" cy="196.5" r="1.4" fill="#b848c0" opacity=".84"/><circle cx="236.2" cy="262.4" r="1.3" fill="#b848c0" opacity=".91"/><circle cx="301.3" cy="213.5" r="1.2" fill="#b848c0" opacity=".8"/><circle cx="105" cy="211.8" r="1.8" fill="#b848c0" opacity=".64"/><circle cx="188.2" cy="294.5" r="1.9" fill="#b848c0" opacity=".69"/><circle cx="252" cy="298" r="1.1" fill="#b848c0" opacity=".9"/><circle cx="71.5" cy="178.4" r="1.4" fill="#b848c0" opacity=".91"/><circle cx="15.3" cy="297.1" r="1.4" fill="#b848c0" opacity=".93"/><circle cx="180.3" cy="268.4" r="1.4" fill="#b848c0" opacity=".93"/><circle cx="184.8" cy="133.5" r="1.7" fill="#b848c0" opacity=".94"/><circle cx="146.7" cy="198.4" r="1.4" fill="#b848c0" opacity=".83"/><circle cx="258.9" cy="194.9" r="1.7" fill="#b848c0" opacity=".82"/><circle cx="305.7" cy="223.8" r="1" fill="#b848c0" opacity=".78"/><circle cx="234.8" cy="233.1" r="2.3" fill="#b848c0" opacity=".82"/><circle cx="276.4" cy="267.8" r="2.1" fill="#b848c0" opacity=".99"/><circle cx="161.3" cy="65.5" r="2.1" fill="#b848c0" opacity=".77"/><circle cx="77.9" cy="11.1" r="1.7" fill="#b848c0" opacity=".62"/><circle cx="43.2" cy="301.5" r="1.7" fill="#b848c0" opacity=".92"/><circle cx="88.5" cy="276.3" r="1.2" fill="#b848c0" opacity=".97"/><circle cx="153.7" cy="179.1" r="1.5" fill="#b848c0" opacity=".9"/><circle cx="80.7" cy="193.5" r="1.7" fill="#b848c0" opacity=".62"/><circle cx="103.6" cy="255" r="2.1" fill="#b848c0" opacity=".91"/><circle cx="19.1" cy="20.2" r="1.6" fill="#b848c0" opacity=".61"/><circle cx="222.4" cy="162.2" r="1.6" fill="#b848c0" opacity=".66"/><circle cx="123.8" cy="97.8" r="1.3" fill="#b848c0" opacity="1"/><circle cx="135.8" cy="43.9" r="1" fill="#b848c0" opacity=".89"/><circle cx="247.6" cy="177.9" r="1.1" fill="#b848c0" opacity=".78"/><circle cx="203.3" cy="170.1" r="1.8" fill="#b848c0" opacity=".62"/><circle cx="196.4" cy="236.8" r="1.4" fill="#b848c0" opacity=".98"/><circle cx="132.6" cy="10.5" r="1.3" fill="#b848c0" opacity=".71"/><circle cx="184.9" cy="250" r="1.3" fill="#b848c0" opacity=".65"/><circle cx="300.5" cy="175.5" r="2.1" fill="#b848c0" opacity=".65"/><circle cx="215.6" cy="291.4" r="2" fill="#b848c0" opacity=".94"/><circle cx="166.7" cy="119.8" r="1.1" fill="#b848c0" opacity=".73"/><circle cx="167.3" cy="252.5" r="1.9" fill="#b848c0" opacity=".79"/><circle cx="77" cy="123.5" r="1.7" fill="#b848c0" opacity=".83"/><circle cx="206.1" cy="119.6" r="2.1" fill="#b848c0" opacity=".74"/><circle cx="96.3" cy="32.1" r="2.3" fill="#b848c0" opacity=".83"/><circle cx="166.3" cy="77.7" r="1.7" fill="#b848c0" opacity=".64"/><circle cx="173.8" cy="172.8" r="2.1" fill="#b848c0" opacity=".67"/><circle cx="28.6" cy="309.5" r="1.8" fill="#b848c0" opacity=".78"/><circle cx="218.5" cy="292.5" r="1.3" fill="#b848c0" opacity=".84"/><circle cx="291.3" cy="174.8" r="2.3" fill="#b848c0" opacity=".75"/><circle cx="76.8" cy="288.5" r="2.1" fill="#b848c0" opacity=".99"/><circle cx="131.7" cy="178.4" r="1.8" fill="#b848c0" opacity=".97"/><circle cx="127.3" cy="275.7" r="1.2" fill="#b848c0" opacity=".8"/><circle cx="152.5" cy="218.1" r="2.2" fill="#b848c0" opacity=".83"/><circle cx="162.3" cy="290.1" r="2.1" fill="#b848c0" opacity=".82"/><circle cx="242.8" cy="209.8" r="2.1" fill="#b848c0" opacity=".84"/><circle cx="183.3" cy="305" r="2.2" fill="#b848c0" opacity=".72"/><circle cx="86.8" cy="250.2" r="1.3" fill="#b848c0" opacity=".83"/><circle cx="77.8" cy="152.2" r="2.1" fill="#b848c0" opacity=".77"/><circle cx="217.8" cy="219" r="1.3" fill="#b848c0" opacity=".83"/><circle cx="280" cy="204" r="1" fill="#b848c0" opacity="1"/><circle cx="27.1" cy="294" r="2" fill="#b848c0" opacity=".95"/><circle cx="19" cy="282.8" r="2.2" fill="#b848c0" opacity=".86"/><circle cx="71.3" cy="82.5" r="2.2" fill="#b848c0" opacity=".91"/></g><g fill="#000" opacity=".75" filter="url(#b1)"><circle cx="294.4" cy="135.6" r="1.6"/><circle cx="118.1" cy="119.1" r="2.9"/><circle cx="102.7" cy="155.5" r="3.1"/><circle cx="83.5" cy="195" r="2.7"/><circle cx="154.1" cy="106.2" r="2.1"/><circle cx="164.2" cy="116.4" r="2.6"/><circle cx="249.5" cy="202.9" r="1.7"/><circle cx="149.9" cy="285.5" r="1.6"/><circle cx="176.7" cy="192.1" r="2.4"/><circle cx="134" cy="210.8" r="2.7"/><circle cx="234.4" cy="177.4" r="2.3"/><circle cx="230.8" cy="240.7" r="3.1"/><circle cx="267.1" cy="122.5" r="3.1"/><circle cx="154.6" cy="218.9" r="2.4"/><circle cx="231.7" cy="206.8" r="1.6"/><circle cx="144.2" cy="252.9" r="2.8"/><circle cx="226.8" cy="253.3" r="1.8"/><circle cx="162.1" cy="293.2" r="2.3"/><circle cx="100.4" cy="217.6" r="3.1"/><circle cx="226.6" cy="236.4" r="2.2"/><circle cx="145.6" cy="139.2" r="2.3"/><circle cx="258.8" cy="248.1" r="1.7"/><circle cx="117.6" cy="216.3" r="2.5"/><circle cx="167.1" cy="121" r="2"/><circle cx="87.6" cy="128.7" r="2.3"/><circle cx="138.7" cy="246" r="2.4"/><circle cx="280.7" cy="298.5" r="2.3"/><circle cx="265.2" cy="114.5" r="2.3"/><circle cx="309" cy="131.8" r="2.5"/><circle cx="235.1" cy="218.5" r="3"/><circle cx="101.3" cy="246.6" r="2.5"/><circle cx="232.5" cy="182.1" r="3.2"/><circle cx="105.2" cy="227.7" r="3"/><circle cx="262.6" cy="214.4" r="1.8"/><circle cx="117" cy="282.4" r="2.1"/><circle cx="143.9" cy="276.9" r="2.3"/><circle cx="170.7" cy="271" r="2"/><circle cx="287.9" cy="165" r="2.3"/><circle cx="199.3" cy="248.5" r="3"/><circle cx="231.9" cy="106.3" r="1.8"/><circle cx="224" cy="122.6" r="2.8"/><circle cx="129.9" cy="136.4" r="2.6"/><circle cx="121.7" cy="264.3" r="1.9"/><circle cx="266" cy="294.5" r="3.1"/><circle cx="101.2" cy="159.5" r="2.6"/></g></g></g>
<g transform="translate(384.3,57.8)"><g clip-path="url(#ca)"><g filter="url(#fg)"><rect width="315.4" height="315.4" fill="#000"/><rect width="315.4" height="315.4" fill="#0c1e00"/><g filter="url(#b12)"><ellipse cx="138" cy="172" rx="72" ry="112" fill="#802e00"/><ellipse cx="92" cy="258" rx="62" ry="34" fill="#702800"/><ellipse cx="88" cy="72" rx="48" ry="34" fill="#702600"/><ellipse cx="200" cy="190" rx="50" ry="50" fill="#401e00" opacity=".7"/></g><g filter="url(#b5)"><ellipse cx="138" cy="172" rx="52" ry="72" fill="#d03a00" opacity=".85"/><ellipse cx="138" cy="182" rx="26" ry="40" fill="#ff7000" opacity=".75"/></g><g filter="url(#b5)"><ellipse cx="262" cy="36" rx="95" ry="58" fill="#000" opacity=".9"/><ellipse cx="160" cy="42" rx="26" ry="24" fill="#000" opacity=".75"/><ellipse cx="40" cy="18" rx="50" ry="16" fill="#000" opacity=".4"/><ellipse cx="300" cy="150" rx="30" ry="70" fill="#000" opacity=".45"/></g><g fill="#000" opacity=".8" filter="url(#b1)"><ellipse cx="261.4" cy="115.2" rx="2.4" ry="3.1"/><ellipse cx="89" cy="159.1" rx="3.3" ry="2.7"/><ellipse cx="96.7" cy="204.1" rx="3.2" ry="3.2"/><ellipse cx="67.1" cy="299.5" rx="2.3" ry="3.1"/><ellipse cx="187.8" cy="264" rx="2.3" ry="2.1"/><ellipse cx="82" cy="247.4" rx="3.2" ry="1.9"/><ellipse cx="108.3" cy="43.6" rx="2.3" ry="2.6"/><ellipse cx="170.3" cy="225.6" rx="2" ry="3.2"/><ellipse cx="307.5" cy="236" rx="3.8" ry="3.2"/><ellipse cx="83.9" cy="154.7" rx="2" ry="3.1"/><ellipse cx="172.1" cy="246.8" rx="3.3" ry="1.7"/><ellipse cx="272.5" cy="304.4" rx="3.8" ry="3.4"/><ellipse cx="179" cy="235.5" rx="3.9" ry="2.3"/><ellipse cx="150.2" cy="308.9" rx="2.1" ry="3.5"/><ellipse cx="288.1" cy="221" rx="2" ry="2.4"/><ellipse cx="135.2" cy="46.8" rx="4.1" ry="3.3"/><ellipse cx="292.8" cy="239.2" rx="3.4" ry="1.6"/><ellipse cx="181.3" cy="242.1" rx="3.8" ry="1.6"/><ellipse cx="62.1" cy="45.7" rx="4.3" ry="1.7"/><ellipse cx="158.3" cy="159" rx="4.2" ry="1.8"/><ellipse cx="125.9" cy="245.4" rx="2" ry="1.8"/><ellipse cx="66.3" cy="299.8" rx="2.4" ry="2.5"/><ellipse cx="155.5" cy="306.6" rx="3.7" ry="2.7"/><ellipse cx="216.7" cy="106.2" rx="2.5" ry="2.4"/><ellipse cx="107.7" cy="192.8" rx="2" ry="1.5"/><ellipse cx="95.6" cy="46.3" rx="4.2" ry="2.5"/><ellipse cx="231" cy="247.5" rx="2.2" ry="3.4"/><ellipse cx="156.8" cy="154.4" rx="3.1" ry="2.9"/><ellipse cx="268.7" cy="145" rx="2.5" ry="3.2"/><ellipse cx="279.7" cy="270.5" rx="2.7" ry="3.3"/><ellipse cx="255.5" cy="303.3" rx="3.8" ry="3.5"/><ellipse cx="180.5" cy="238.8" rx="3.9" ry="2.5"/><ellipse cx="187.1" cy="136.9" rx="4.1" ry="2.3"/><ellipse cx="248.1" cy="184.1" rx="3.7" ry="2.1"/><ellipse cx="79.9" cy="217.1" rx="2.2" ry="2.2"/><ellipse cx="289.6" cy="191.9" rx="3.3" ry="2.9"/><ellipse cx="74.4" cy="26.5" rx="3.7" ry="2.7"/><ellipse cx="221.1" cy="260.4" rx="2.5" ry="1.8"/><ellipse cx="189.9" cy="202.2" rx="4.4" ry="1.7"/><ellipse cx="174.4" cy="201.1" rx="4.1" ry="1.6"/><ellipse cx="162" cy="306.5" rx="4.1" ry="1.7"/><ellipse cx="61.2" cy="29.2" rx="3.9" ry="1.6"/><ellipse cx="257.8" cy="255.8" rx="4" ry="3.4"/><ellipse cx="219.6" cy="260.9" rx="3.3" ry="2.8"/><ellipse cx="77.6" cy="180.8" rx="4.5" ry="2.3"/><ellipse cx="181.4" cy="178.1" rx="3.9" ry="2.1"/><ellipse cx="205.5" cy="294.4" rx="2.8" ry="2.8"/><ellipse cx="214.7" cy="310.3" rx="2.6" ry="2.8"/><ellipse cx="145.6" cy="208.1" rx="2.3" ry="2.5"/><ellipse cx="149.4" cy="85.9" rx="2.2" ry="2.8"/><ellipse cx="269.5" cy="173.8" rx="3" ry="2.1"/><ellipse cx="120.3" cy="295.2" rx="3.1" ry="2.9"/></g><path d="M0 45.6C3.2 46.7 12.8 49.4 19 52C25.2 54.6 31.8 57.3 37 61C42.2 64.7 46.5 69.2 50 74.4C53.5 79.6 56.1 85.4 58 92C59.9 98.6 60.4 106.5 61.3 114C62.2 121.5 62.5 129.5 63.5 137C64.5 144.5 66.1 151.7 67 159C67.9 166.3 69 173.7 69 181C69 188.3 68.5 195.6 67 203C65.5 210.4 62.8 218.8 60 225.5C57.2 232.2 53.8 237.4 50 243C46.2 248.6 42.2 254.2 37 259C31.8 263.8 25.2 268 19 272C12.8 276 3.2 281.2 0 283Z" fill="#000" filter="url(#b1)"/></g></g></g>
<g transform="translate(715.8,57.9)"><g filter="url(#dk)"><g style="isolation:isolate"><g clip-path="url(#ca)"><g filter="url(#fm)"><rect width="315.4" height="315.4" fill="#000"/><rect width="315.4" height="315.4" fill="#161616"/><g filter="url(#b12)"><ellipse cx="135" cy="185" rx="75" ry="95" fill="#363636"/><ellipse cx="130" cy="295" rx="150" ry="45" fill="#3a3a3a"/><ellipse cx="250" cy="285" rx="80" ry="40" fill="#383838"/><ellipse cx="60" cy="30" rx="80" ry="30" fill="#2c2c2c"/><ellipse cx="85" cy="120" rx="30" ry="70" fill="#343434"/><ellipse cx="85" cy="250" rx="40" ry="40" fill="#363636"/></g><g filter="url(#b5)"><ellipse cx="255" cy="42" rx="90" ry="60" fill="#000" opacity=".8"/></g><path d="M0 45.6C3.2 46.7 12.8 49.4 19 52C25.2 54.6 31.8 57.3 37 61C42.2 64.7 46.5 69.2 50 74.4C53.5 79.6 56.1 85.4 58 92C59.9 98.6 60.4 106.5 61.3 114C62.2 121.5 62.5 129.5 63.5 137C64.5 144.5 66.1 151.7 67 159C67.9 166.3 69 173.7 69 181C69 188.3 68.5 195.6 67 203C65.5 210.4 62.8 218.8 60 225.5C57.2 232.2 53.8 237.4 50 243C46.2 248.6 42.2 254.2 37 259C31.8 263.8 25.2 268 19 272C12.8 276 3.2 281.2 0 283" fill="none" stroke="#777" stroke-width="8" filter="url(#b2)"/><path d="M0 45.6C3.2 46.7 12.8 49.4 19 52C25.2 54.6 31.8 57.3 37 61C42.2 64.7 46.5 69.2 50 74.4C53.5 79.6 56.1 85.4 58 92C59.9 98.6 60.4 106.5 61.3 114C62.2 121.5 62.5 129.5 63.5 137C64.5 144.5 66.1 151.7 67 159C67.9 166.3 69 173.7 69 181C69 188.3 68.5 195.6 67 203C65.5 210.4 62.8 218.8 60 225.5C57.2 232.2 53.8 237.4 50 243C46.2 248.6 42.2 254.2 37 259C31.8 263.8 25.2 268 19 272C12.8 276 3.2 281.2 0 283Z" fill="#000" filter="url(#b1)"/></g><path d="M0 45.6C3.2 46.7 12.8 49.4 19 52C25.2 54.6 31.8 57.3 37 61C42.2 64.7 46.5 69.2 50 74.4C53.5 79.6 56.1 85.4 58 92C59.9 98.6 60.4 106.5 61.3 114C62.2 121.5 62.5 129.5 63.5 137C64.5 144.5 66.1 151.7 67 159C67.9 166.3 69 173.7 69 181C69 188.3 68.5 195.6 67 203C65.5 210.4 62.8 218.8 60 225.5C57.2 232.2 53.8 237.4 50 243C46.2 248.6 42.2 254.2 37 259C31.8 263.8 25.2 268 19 272C12.8 276 3.2 281.2 0 283" fill="none" stroke="#b040b8" stroke-width="2" opacity=".85" filter="url(#b1)" transform="translate(1.8,0)"/><g filter="url(#b1)"><ellipse cx="100.2" cy="118.9" rx="6.4" ry="5.2" fill="#c050c8" transform="rotate(-40.5 100.2 118.9)"/><ellipse cx="108" cy="120.7" rx="5.8" ry="7.2" fill="#c860d0" transform="rotate(-35.2 108 120.7)"/><ellipse cx="129.1" cy="113.3" rx="5.6" ry="5.6" fill="#4a1450" stroke="#e070e0" stroke-width="1.8" transform="rotate(-25 129.1 113.3)"/><ellipse cx="114.7" cy="144.4" rx="7.2" ry="4.3" fill="#b848c0" transform="rotate(-47.4 114.7 144.4)"/><ellipse cx="121.3" cy="152.2" rx="8.7" ry="5.2" fill="#c860d0" transform="rotate(-13.6 121.3 152.2)"/><ellipse cx="130.2" cy="158.9" rx="8.7" ry="13.9" fill="#c050c8" transform="rotate(-39.6 130.2 158.9)"/><ellipse cx="139.1" cy="176.7" rx="11.6" ry="8.1" fill="#c860d0" transform="rotate(-42.3 139.1 176.7)"/><ellipse cx="156.9" cy="152.2" rx="8.7" ry="5.8" fill="#c860d0" transform="rotate(-28.4 156.9 152.2)"/><ellipse cx="165.8" cy="161.1" rx="10.1" ry="7.2" fill="#c050c8" transform="rotate(-34.1 165.8 161.1)"/><ellipse cx="170.2" cy="174.4" rx="5.8" ry="5.8" fill="#4a1450" stroke="#e070e0" stroke-width="1.8" transform="rotate(-40.7 170.2 174.4)"/><ellipse cx="152.4" cy="170" rx="8.7" ry="5.2" fill="#c860d0" transform="rotate(-43.9 152.4 170)"/><ellipse cx="150.2" cy="181.1" rx="10.1" ry="6.4" fill="#b848c0" transform="rotate(-20.3 150.2 181.1)"/><ellipse cx="159.1" cy="187.8" rx="6.5" ry="4.2" fill="#4a1450" stroke="#e070e0" stroke-width="1.8" transform="rotate(-43.6 159.1 187.8)"/><ellipse cx="174.7" cy="192.2" rx="11.6" ry="5.8" fill="#b848c0" transform="rotate(-11.7 174.7 192.2)"/><ellipse cx="134.7" cy="187.8" rx="7.2" ry="8.7" fill="#b848c0" transform="rotate(-37.9 134.7 187.8)"/><ellipse cx="139.1" cy="198.9" rx="7.2" ry="7.2" fill="#a840b0" transform="rotate(-17.1 139.1 198.9)"/><ellipse cx="139.1" cy="211.1" rx="8.7" ry="6.4" fill="#c860d0" transform="rotate(-31.1 139.1 211.1)"/><ellipse cx="143.6" cy="223.3" rx="7" ry="4.7" fill="#4a1450" stroke="#e070e0" stroke-width="1.8" transform="rotate(-21.4 143.6 223.3)"/><ellipse cx="152.4" cy="216.7" rx="6.4" ry="4.3" fill="#c860d0" transform="rotate(-13.2 152.4 216.7)"/><ellipse cx="163.6" cy="234.4" rx="3.5" ry="6.4" fill="#c860d0" transform="rotate(-20.9 163.6 234.4)"/><ellipse cx="88" cy="95.6" rx="2.3" ry="3.5" fill="#c050c8" transform="rotate(-11.4 88 95.6)"/><ellipse cx="78" cy="80" rx="2.3" ry="2.9" fill="#b848c0" transform="rotate(-14.8 78 80)"/><circle cx="272.4" cy="254.4" r="6.7" fill="none" stroke="#702878" stroke-width="2"/><circle cx="291.3" cy="262.2" r="6.7" fill="none" stroke="#702878" stroke-width="2"/><circle cx="228" cy="46.7" r="4.9" fill="none" stroke="#702878" stroke-width="2"/><circle cx="83.7" cy="210" r="2" fill="#b848c0" opacity=".94"/><circle cx="133.5" cy="259.2" r="1.7" fill="#b848c0" opacity=".81"/><circle cx="129.3" cy="75.9" r="1.4" fill="#b848c0" opacity=".97"/><circle cx="189.8" cy="217.1" r="1.9" fill="#b848c0" opacity=".73"/><circle cx="170.2" cy="179.4" r="1.1" fill="#b848c0" opacity=".86"/><circle cx="198.1" cy="306.4" r="1.3" fill="#b848c0" opacity=".65"/><circle cx="152" cy="199.8" r="1.6" fill="#b848c0" opacity=".74"/><circle cx="131.6" cy="41.3" r="1.8" fill="#b848c0" opacity=".9"/><circle cx="120.2" cy="183.8" r="1.7" fill="#b848c0" opacity=".97"/><circle cx="90.1" cy="77" r="1" fill="#b848c0" opacity=".6"/><circle cx="294.4" cy="301.3" r="1.4" fill="#b848c0" opacity=".71"/><circle cx="215.4" cy="303.9" r="1.4" fill="#b848c0" opacity=".74"/><circle cx="119.9" cy="270.3" r="1.5" fill="#b848c0" opacity=".95"/><circle cx="301.7" cy="252.5" r="1.4" fill="#b848c0" opacity=".85"/><circle cx="223.3" cy="290.6" r="1.6" fill="#b848c0" opacity=".7"/><circle cx="97.4" cy="108.4" r="2" fill="#b848c0" opacity=".99"/><circle cx="101" cy="119.8" r="1.8" fill="#b848c0" opacity=".65"/><circle cx="112.6" cy="284.8" r="1.8" fill="#b848c0" opacity=".71"/><circle cx="154.3" cy="184.8" r="2.2" fill="#b848c0" opacity=".61"/><circle cx="117.6" cy="196.5" r="1.4" fill="#b848c0" opacity=".84"/><circle cx="236.2" cy="262.4" r="1.3" fill="#b848c0" opacity=".91"/><circle cx="301.3" cy="213.5" r="1.2" fill="#b848c0" opacity=".8"/><circle cx="105" cy="211.8" r="1.8" fill="#b848c0" opacity=".64"/><circle cx="188.2" cy="294.5" r="1.9" fill="#b848c0" opacity=".69"/><circle cx="252" cy="298" r="1.1" fill="#b848c0" opacity=".9"/><circle cx="71.5" cy="178.4" r="1.4" fill="#b848c0" opacity=".91"/><circle cx="15.3" cy="297.1" r="1.4" fill="#b848c0" opacity=".93"/><circle cx="180.3" cy="268.4" r="1.4" fill="#b848c0" opacity=".93"/><circle cx="184.8" cy="133.5" r="1.7" fill="#b848c0" opacity=".94"/><circle cx="146.7" cy="198.4" r="1.4" fill="#b848c0" opacity=".83"/><circle cx="258.9" cy="194.9" r="1.7" fill="#b848c0" opacity=".82"/><circle cx="305.7" cy="223.8" r="1" fill="#b848c0" opacity=".78"/><circle cx="234.8" cy="233.1" r="2.3" fill="#b848c0" opacity=".82"/><circle cx="276.4" cy="267.8" r="2.1" fill="#b848c0" opacity=".99"/><circle cx="161.3" cy="65.5" r="2.1" fill="#b848c0" opacity=".77"/><circle cx="77.9" cy="11.1" r="1.7" fill="#b848c0" opacity=".62"/><circle cx="43.2" cy="301.5" r="1.7" fill="#b848c0" opacity=".92"/><circle cx="88.5" cy="276.3" r="1.2" fill="#b848c0" opacity=".97"/><circle cx="153.7" cy="179.1" r="1.5" fill="#b848c0" opacity=".9"/><circle cx="80.7" cy="193.5" r="1.7" fill="#b848c0" opacity=".62"/><circle cx="103.6" cy="255" r="2.1" fill="#b848c0" opacity=".91"/><circle cx="19.1" cy="20.2" r="1.6" fill="#b848c0" opacity=".61"/><circle cx="222.4" cy="162.2" r="1.6" fill="#b848c0" opacity=".66"/><circle cx="123.8" cy="97.8" r="1.3" fill="#b848c0" opacity="1"/><circle cx="135.8" cy="43.9" r="1" fill="#b848c0" opacity=".89"/><circle cx="247.6" cy="177.9" r="1.1" fill="#b848c0" opacity=".78"/><circle cx="203.3" cy="170.1" r="1.8" fill="#b848c0" opacity=".62"/><circle cx="196.4" cy="236.8" r="1.4" fill="#b848c0" opacity=".98"/><circle cx="132.6" cy="10.5" r="1.3" fill="#b848c0" opacity=".71"/><circle cx="184.9" cy="250" r="1.3" fill="#b848c0" opacity=".65"/><circle cx="300.5" cy="175.5" r="2.1" fill="#b848c0" opacity=".65"/><circle cx="215.6" cy="291.4" r="2" fill="#b848c0" opacity=".94"/><circle cx="166.7" cy="119.8" r="1.1" fill="#b848c0" opacity=".73"/><circle cx="167.3" cy="252.5" r="1.9" fill="#b848c0" opacity=".79"/><circle cx="77" cy="123.5" r="1.7" fill="#b848c0" opacity=".83"/><circle cx="206.1" cy="119.6" r="2.1" fill="#b848c0" opacity=".74"/><circle cx="96.3" cy="32.1" r="2.3" fill="#b848c0" opacity=".83"/><circle cx="166.3" cy="77.7" r="1.7" fill="#b848c0" opacity=".64"/><circle cx="173.8" cy="172.8" r="2.1" fill="#b848c0" opacity=".67"/><circle cx="28.6" cy="309.5" r="1.8" fill="#b848c0" opacity=".78"/><circle cx="218.5" cy="292.5" r="1.3" fill="#b848c0" opacity=".84"/><circle cx="291.3" cy="174.8" r="2.3" fill="#b848c0" opacity=".75"/><circle cx="76.8" cy="288.5" r="2.1" fill="#b848c0" opacity=".99"/><circle cx="131.7" cy="178.4" r="1.8" fill="#b848c0" opacity=".97"/><circle cx="127.3" cy="275.7" r="1.2" fill="#b848c0" opacity=".8"/><circle cx="152.5" cy="218.1" r="2.2" fill="#b848c0" opacity=".83"/><circle cx="162.3" cy="290.1" r="2.1" fill="#b848c0" opacity=".82"/><circle cx="242.8" cy="209.8" r="2.1" fill="#b848c0" opacity=".84"/><circle cx="183.3" cy="305" r="2.2" fill="#b848c0" opacity=".72"/><circle cx="86.8" cy="250.2" r="1.3" fill="#b848c0" opacity=".83"/><circle cx="77.8" cy="152.2" r="2.1" fill="#b848c0" opacity=".77"/><circle cx="217.8" cy="219" r="1.3" fill="#b848c0" opacity=".83"/><circle cx="280" cy="204" r="1" fill="#b848c0" opacity="1"/><circle cx="27.1" cy="294" r="2" fill="#b848c0" opacity=".95"/><circle cx="19" cy="282.8" r="2.2" fill="#b848c0" opacity=".86"/><circle cx="71.3" cy="82.5" r="2.2" fill="#b848c0" opacity=".91"/></g><g fill="#000" opacity=".75" filter="url(#b1)"><circle cx="294.4" cy="135.6" r="1.6"/><circle cx="118.1" cy="119.1" r="2.9"/><circle cx="102.7" cy="155.5" r="3.1"/><circle cx="83.5" cy="195" r="2.7"/><circle cx="154.1" cy="106.2" r="2.1"/><circle cx="164.2" cy="116.4" r="2.6"/><circle cx="249.5" cy="202.9" r="1.7"/><circle cx="149.9" cy="285.5" r="1.6"/><circle cx="176.7" cy="192.1" r="2.4"/><circle cx="134" cy="210.8" r="2.7"/><circle cx="234.4" cy="177.4" r="2.3"/><circle cx="230.8" cy="240.7" r="3.1"/><circle cx="267.1" cy="122.5" r="3.1"/><circle cx="154.6" cy="218.9" r="2.4"/><circle cx="231.7" cy="206.8" r="1.6"/><circle cx="144.2" cy="252.9" r="2.8"/><circle cx="226.8" cy="253.3" r="1.8"/><circle cx="162.1" cy="293.2" r="2.3"/><circle cx="100.4" cy="217.6" r="3.1"/><circle cx="226.6" cy="236.4" r="2.2"/><circle cx="145.6" cy="139.2" r="2.3"/><circle cx="258.8" cy="248.1" r="1.7"/><circle cx="117.6" cy="216.3" r="2.5"/><circle cx="167.1" cy="121" r="2"/><circle cx="87.6" cy="128.7" r="2.3"/><circle cx="138.7" cy="246" r="2.4"/><circle cx="280.7" cy="298.5" r="2.3"/><circle cx="265.2" cy="114.5" r="2.3"/><circle cx="309" cy="131.8" r="2.5"/><circle cx="235.1" cy="218.5" r="3"/><circle cx="101.3" cy="246.6" r="2.5"/><circle cx="232.5" cy="182.1" r="3.2"/><circle cx="105.2" cy="227.7" r="3"/><circle cx="262.6" cy="214.4" r="1.8"/><circle cx="117" cy="282.4" r="2.1"/><circle cx="143.9" cy="276.9" r="2.3"/><circle cx="170.7" cy="271" r="2"/><circle cx="287.9" cy="165" r="2.3"/><circle cx="199.3" cy="248.5" r="3"/><circle cx="231.9" cy="106.3" r="1.8"/><circle cx="224" cy="122.6" r="2.8"/><circle cx="129.9" cy="136.4" r="2.6"/><circle cx="121.7" cy="264.3" r="1.9"/><circle cx="266" cy="294.5" r="3.1"/><circle cx="101.2" cy="159.5" r="2.6"/></g></g><g style="mix-blend-mode:screen"><g clip-path="url(#ca)"><g filter="url(#fg)"><rect width="315.4" height="315.4" fill="#000"/><rect width="315.4" height="315.4" fill="#0c1e00"/><g filter="url(#b12)"><ellipse cx="138" cy="172" rx="72" ry="112" fill="#802e00"/><ellipse cx="92" cy="258" rx="62" ry="34" fill="#702800"/><ellipse cx="88" cy="72" rx="48" ry="34" fill="#702600"/><ellipse cx="200" cy="190" rx="50" ry="50" fill="#401e00" opacity=".7"/></g><g filter="url(#b5)"><ellipse cx="138" cy="172" rx="52" ry="72" fill="#d03a00" opacity=".85"/><ellipse cx="138" cy="182" rx="26" ry="40" fill="#ff7000" opacity=".75"/></g><g filter="url(#b5)"><ellipse cx="262" cy="36" rx="95" ry="58" fill="#000" opacity=".9"/><ellipse cx="160" cy="42" rx="26" ry="24" fill="#000" opacity=".75"/><ellipse cx="40" cy="18" rx="50" ry="16" fill="#000" opacity=".4"/><ellipse cx="300" cy="150" rx="30" ry="70" fill="#000" opacity=".45"/></g><g fill="#000" opacity=".8" filter="url(#b1)"><ellipse cx="261.4" cy="115.2" rx="2.4" ry="3.1"/><ellipse cx="89" cy="159.1" rx="3.3" ry="2.7"/><ellipse cx="96.7" cy="204.1" rx="3.2" ry="3.2"/><ellipse cx="67.1" cy="299.5" rx="2.3" ry="3.1"/><ellipse cx="187.8" cy="264" rx="2.3" ry="2.1"/><ellipse cx="82" cy="247.4" rx="3.2" ry="1.9"/><ellipse cx="108.3" cy="43.6" rx="2.3" ry="2.6"/><ellipse cx="170.3" cy="225.6" rx="2" ry="3.2"/><ellipse cx="307.5" cy="236" rx="3.8" ry="3.2"/><ellipse cx="83.9" cy="154.7" rx="2" ry="3.1"/><ellipse cx="172.1" cy="246.8" rx="3.3" ry="1.7"/><ellipse cx="272.5" cy="304.4" rx="3.8" ry="3.4"/><ellipse cx="179" cy="235.5" rx="3.9" ry="2.3"/><ellipse cx="150.2" cy="308.9" rx="2.1" ry="3.5"/><ellipse cx="288.1" cy="221" rx="2" ry="2.4"/><ellipse cx="135.2" cy="46.8" rx="4.1" ry="3.3"/><ellipse cx="292.8" cy="239.2" rx="3.4" ry="1.6"/><ellipse cx="181.3" cy="242.1" rx="3.8" ry="1.6"/><ellipse cx="62.1" cy="45.7" rx="4.3" ry="1.7"/><ellipse cx="158.3" cy="159" rx="4.2" ry="1.8"/><ellipse cx="125.9" cy="245.4" rx="2" ry="1.8"/><ellipse cx="66.3" cy="299.8" rx="2.4" ry="2.5"/><ellipse cx="155.5" cy="306.6" rx="3.7" ry="2.7"/><ellipse cx="216.7" cy="106.2" rx="2.5" ry="2.4"/><ellipse cx="107.7" cy="192.8" rx="2" ry="1.5"/><ellipse cx="95.6" cy="46.3" rx="4.2" ry="2.5"/><ellipse cx="231" cy="247.5" rx="2.2" ry="3.4"/><ellipse cx="156.8" cy="154.4" rx="3.1" ry="2.9"/><ellipse cx="268.7" cy="145" rx="2.5" ry="3.2"/><ellipse cx="279.7" cy="270.5" rx="2.7" ry="3.3"/><ellipse cx="255.5" cy="303.3" rx="3.8" ry="3.5"/><ellipse cx="180.5" cy="238.8" rx="3.9" ry="2.5"/><ellipse cx="187.1" cy="136.9" rx="4.1" ry="2.3"/><ellipse cx="248.1" cy="184.1" rx="3.7" ry="2.1"/><ellipse cx="79.9" cy="217.1" rx="2.2" ry="2.2"/><ellipse cx="289.6" cy="191.9" rx="3.3" ry="2.9"/><ellipse cx="74.4" cy="26.5" rx="3.7" ry="2.7"/><ellipse cx="221.1" cy="260.4" rx="2.5" ry="1.8"/><ellipse cx="189.9" cy="202.2" rx="4.4" ry="1.7"/><ellipse cx="174.4" cy="201.1" rx="4.1" ry="1.6"/><ellipse cx="162" cy="306.5" rx="4.1" ry="1.7"/><ellipse cx="61.2" cy="29.2" rx="3.9" ry="1.6"/><ellipse cx="257.8" cy="255.8" rx="4" ry="3.4"/><ellipse cx="219.6" cy="260.9" rx="3.3" ry="2.8"/><ellipse cx="77.6" cy="180.8" rx="4.5" ry="2.3"/><ellipse cx="181.4" cy="178.1" rx="3.9" ry="2.1"/><ellipse cx="205.5" cy="294.4" rx="2.8" ry="2.8"/><ellipse cx="214.7" cy="310.3" rx="2.6" ry="2.8"/><ellipse cx="145.6" cy="208.1" rx="2.3" ry="2.5"/><ellipse cx="149.4" cy="85.9" rx="2.2" ry="2.8"/><ellipse cx="269.5" cy="173.8" rx="3" ry="2.1"/><ellipse cx="120.3" cy="295.2" rx="3.1" ry="2.9"/></g><path d="M0 45.6C3.2 46.7 12.8 49.4 19 52C25.2 54.6 31.8 57.3 37 61C42.2 64.7 46.5 69.2 50 74.4C53.5 79.6 56.1 85.4 58 92C59.9 98.6 60.4 106.5 61.3 114C62.2 121.5 62.5 129.5 63.5 137C64.5 144.5 66.1 151.7 67 159C67.9 166.3 69 173.7 69 181C69 188.3 68.5 195.6 67 203C65.5 210.4 62.8 218.8 60 225.5C57.2 232.2 53.8 237.4 50 243C46.2 248.6 42.2 254.2 37 259C31.8 263.8 25.2 268 19 272C12.8 276 3.2 281.2 0 283Z" fill="#000" filter="url(#b1)"/></g></g></g></g></g></g>
<rect x="287.8" y="337.2" width="74.4" height="3.6" fill="#fff"/>
<text x="325" y="361.3" font-size="20.9" text-anchor="middle" style="fill:#fff">100 µm</text>
<defs><filter id="fp" x="0" y="0" width="243.8" height="243.8" filterUnits="userSpaceOnUse" color-interpolation-filters="sRGB"><feTurbulence type="fractalNoise" baseFrequency="0.13" numOctaves="3" seed="12" result="t1"/><feColorMatrix in="t1" type="matrix" values="1 0 0 0 0 1 0 0 0 0 1 0 0 0 0 0 0 0 0 1" result="n1"/><feTurbulence type="fractalNoise" baseFrequency="0.6" numOctaves="1" seed="3" result="t2"/><feColorMatrix in="t2" type="matrix" values="1 0 0 0 0 1 0 0 0 0 1 0 0 0 0 0 0 0 0 1" result="n2"/><feComposite in="SourceGraphic" in2="n1" operator="arithmetic" k1="0.8" k2="0.6" k3="0" k4="0" result="v1"/><feComposite in="v1" in2="n2" operator="arithmetic" k1="0" k2="1" k3=".14" k4="-.07" result="v2"/><feComponentTransfer in="v2"><feFuncR type="table" tableValues=".227 .23 .232 .235 .229 .222 .215 .193 .163 .133 .114 .096 .099 .127 .154 .217 .305 .393 .482 .57 .654 .737 .814 .872 .93 .959 .975 .988 .988 .988 .985 .979 .973"/><feFuncG type="table" tableValues=".345 .365 .384 .404 .424 .443 .463 .494 .534 .574 .598 .623 .644 .664 .683 .701 .718 .732 .738 .744 .745 .745 .745 .745 .745 .758 .776 .796 .826 .857 .886 .914 .941"/><feFuncB type="table" tableValues=".659 .674 .688 .703 .718 .732 .747 .766 .787 .808 .805 .802 .784 .752 .719 .67 .611 .554 .502 .45 .4 .351 .305 .268 .231 .209 .194 .179 .17 .161 .148 .133 .118"/></feComponentTransfer></filter><filter id="pb3"><feGaussianBlur stdDeviation="3.5"/></filter><filter id="pb6"><feGaussianBlur stdDeviation="7"/></filter><clipPath id="cb"><rect width="243.8" height="243.8"/></clipPath></defs>
<text x="1097" y="30.8" font-size="43" font-weight="bold">b</text>
<text x="1297.5" y="46" font-size="24.95" text-anchor="middle">LcK-GCaMP6f (in vivo)</text>
<text font-size="24.8" text-anchor="middle" transform="translate(1164.5,180.5) rotate(-90)">cerebellum ML</text>
<text x="1298.5" y="332.5" font-size="24.8" text-anchor="middle">ROIs</text>
<g transform="translate(1176.8,58.1)"><g clip-path="url(#cb)"><g filter="url(#fp)"><rect x="-20" y="-20" width="290" height="290" fill="#4f4f4f"/><g filter="url(#pb3)"><path d="M96 12 120 4 140 14 151 37 155 67 164 92 182 117 200 135 244 118 250 250 100 250 70 228 48 208 24 175 10 140 8 95 16 62 40 38 66 22Z" fill="#878787"/><path d="M160 3 190 3 198 28 194 60 180 76 166 64 158 33Z" fill="#808080"/><path d="M223 92 250 85 250 132 227 128Z" fill="#7a7a7a"/></g><g filter="url(#pb6)"><ellipse cx="67" cy="64" rx="16" ry="26" fill="#c2c2c2" opacity=".85"/><ellipse cx="101" cy="100" rx="20" ry="30" fill="#bdbdbd" opacity=".85"/><ellipse cx="120" cy="172" rx="26" ry="24" fill="#adadad" opacity=".85"/><ellipse cx="48" cy="138" rx="14" ry="22" fill="#a8a8a8" opacity=".85"/><ellipse cx="150" cy="150" rx="16" ry="14" fill="#a8a8a8" opacity=".85"/><ellipse cx="205" cy="158" rx="20" ry="16" fill="#999999" opacity=".85"/><ellipse cx="215" cy="215" rx="22" ry="22" fill="#999999" opacity=".85"/><ellipse cx="135" cy="225" rx="34" ry="16" fill="#9e9e9e" opacity=".85"/><ellipse cx="175" cy="24" rx="8" ry="10" fill="#a8a8a8" opacity=".85"/><ellipse cx="177" cy="58" rx="9" ry="10" fill="#999999" opacity=".85"/><ellipse cx="90" cy="40" rx="22" ry="12" fill="#999999" opacity=".85"/><path d="M148 12 166 78 187 107 220 121 216 139 183 132 162 107 151 78 140 28Z" fill="#454545" opacity=".9"/></g><g filter="url(#pb3)"><path d="M-5 -5 98 -5 80 12 55 16 38 24 22 31 8 45 -5 75Z" fill="#212121"/><path d="M-5 136 0 141 20 173 47 207 68.5 223 92 250 -5 250Z" fill="#1f1f1f"/><path d="M200 48 225 44 250 62 250 90 218 84Z" fill="#333333"/></g><g fill="#fff"><circle cx="96" cy="17" r="1.9" opacity=".5"/><circle cx="39.5" cy="29.2" r="1.5" opacity=".5"/><circle cx="110.7" cy="62.3" r="1.9" opacity=".5"/><circle cx="202.2" cy="115.7" r="1.7" opacity=".5"/><circle cx="162.9" cy="105" r="1.5" opacity=".5"/><circle cx="5.4" cy="129.6" r="1.5" opacity=".5"/><circle cx="35.3" cy="195.6" r="2.4" opacity=".5"/><circle cx="34.1" cy="214.4" r="1.5" opacity=".5"/><circle cx="47" cy="236" r="1.7" opacity=".5"/><circle cx="228.2" cy="154.3" r="1.9" opacity=".5"/><circle cx="203.7" cy="151.3" r="1.7" opacity=".5"/><circle cx="207.6" cy="190.2" r="2.2" opacity=".5"/><circle cx="232.7" cy="202.8" r="1.9" opacity=".5"/><circle cx="188.8" cy="181.2" r="1.7" opacity=".5"/><circle cx="217.8" cy="211.2" r="1.5" opacity=".5"/><circle cx="172.6" cy="22.4" r="2.6" opacity=".5"/><circle cx="65.9" cy="156.5" r="1.5" opacity=".5"/><circle cx="74.8" cy="94.2" r="1.5" opacity=".5"/><circle cx="147.5" cy="139.1" r="1.7" opacity=".5"/><circle cx="158.3" cy="146.2" r="1.7" opacity=".5"/><circle cx="99" cy="79.8" r="1.7" opacity=".5"/><circle cx="222.9" cy="209.9" r="1.5" opacity=".5"/><circle cx="195.9" cy="173.2" r="1.5" opacity=".5"/><circle cx="210.3" cy="173.2" r="1.3" opacity=".5"/><circle cx="240.8" cy="210.8" r="1.5" opacity=".5"/><circle cx="142.1" cy="27.8" r="1.7" opacity=".5"/></g></g></g></g>
<g transform="translate(1176.8,342.9)"><g clip-path="url(#cb)"><g filter="url(#fp)"><rect x="-20" y="-20" width="290" height="290" fill="#4f4f4f"/><g filter="url(#pb3)"><path d="M96 12 120 4 140 14 151 37 155 67 164 92 182 117 200 135 244 118 250 250 100 250 70 228 48 208 24 175 10 140 8 95 16 62 40 38 66 22Z" fill="#878787"/><path d="M160 3 190 3 198 28 194 60 180 76 166 64 158 33Z" fill="#808080"/><path d="M223 92 250 85 250 132 227 128Z" fill="#7a7a7a"/></g><g filter="url(#pb6)"><ellipse cx="67" cy="64" rx="16" ry="26" fill="#c2c2c2" opacity=".85"/><ellipse cx="101" cy="100" rx="20" ry="30" fill="#bdbdbd" opacity=".85"/><ellipse cx="120" cy="172" rx="26" ry="24" fill="#adadad" opacity=".85"/><ellipse cx="48" cy="138" rx="14" ry="22" fill="#a8a8a8" opacity=".85"/><ellipse cx="150" cy="150" rx="16" ry="14" fill="#a8a8a8" opacity=".85"/><ellipse cx="205" cy="158" rx="20" ry="16" fill="#999999" opacity=".85"/><ellipse cx="215" cy="215" rx="22" ry="22" fill="#999999" opacity=".85"/><ellipse cx="135" cy="225" rx="34" ry="16" fill="#9e9e9e" opacity=".85"/><ellipse cx="175" cy="24" rx="8" ry="10" fill="#a8a8a8" opacity=".85"/><ellipse cx="177" cy="58" rx="9" ry="10" fill="#999999" opacity=".85"/><ellipse cx="90" cy="40" rx="22" ry="12" fill="#999999" opacity=".85"/><path d="M148 12 166 78 187 107 220 121 216 139 183 132 162 107 151 78 140 28Z" fill="#454545" opacity=".9"/></g><g filter="url(#pb3)"><path d="M-5 -5 98 -5 80 12 55 16 38 24 22 31 8 45 -5 75Z" fill="#212121"/><path d="M-5 136 0 141 20 173 47 207 68.5 223 92 250 -5 250Z" fill="#1f1f1f"/><path d="M200 48 225 44 250 62 250 90 218 84Z" fill="#333333"/></g><g fill="#fff"><circle cx="96" cy="17" r="1.9" opacity=".5"/><circle cx="39.5" cy="29.2" r="1.5" opacity=".5"/><circle cx="110.7" cy="62.3" r="1.9" opacity=".5"/><circle cx="202.2" cy="115.7" r="1.7" opacity=".5"/><circle cx="162.9" cy="105" r="1.5" opacity=".5"/><circle cx="5.4" cy="129.6" r="1.5" opacity=".5"/><circle cx="35.3" cy="195.6" r="2.4" opacity=".5"/><circle cx="34.1" cy="214.4" r="1.5" opacity=".5"/><circle cx="47" cy="236" r="1.7" opacity=".5"/><circle cx="228.2" cy="154.3" r="1.9" opacity=".5"/><circle cx="203.7" cy="151.3" r="1.7" opacity=".5"/><circle cx="207.6" cy="190.2" r="2.2" opacity=".5"/><circle cx="232.7" cy="202.8" r="1.9" opacity=".5"/><circle cx="188.8" cy="181.2" r="1.7" opacity=".5"/><circle cx="217.8" cy="211.2" r="1.5" opacity=".5"/><circle cx="172.6" cy="22.4" r="2.6" opacity=".5"/><circle cx="65.9" cy="156.5" r="1.5" opacity=".5"/><circle cx="74.8" cy="94.2" r="1.5" opacity=".5"/><circle cx="147.5" cy="139.1" r="1.7" opacity=".5"/><circle cx="158.3" cy="146.2" r="1.7" opacity=".5"/><circle cx="99" cy="79.8" r="1.7" opacity=".5"/><circle cx="222.9" cy="209.9" r="1.5" opacity=".5"/><circle cx="195.9" cy="173.2" r="1.5" opacity=".5"/><circle cx="210.3" cy="173.2" r="1.3" opacity=".5"/><circle cx="240.8" cy="210.8" r="1.5" opacity=".5"/><circle cx="142.1" cy="27.8" r="1.7" opacity=".5"/></g></g></g></g>
<rect x="1354.6" y="272.3" width="63.5" height="3.4"/>
<text x="1386.3" y="293.5" font-size="19.2" text-anchor="middle">100 µm</text>
<path d="M1234.4 342.9V585.9M1265.7 342.9V585.9M1297 342.9V585.9M1328.3 342.9V585.9M1359.6 342.9V585.9M1390.9 342.9V585.9M1203.1 371.3V555.8M1203.1 371.3H1390.9M1203.1 402.4H1390.9M1203.1 432.7H1420.8M1203.1 464H1420.8M1203.1 494.1H1390.9M1203.1 525.7H1420.8M1203.1 555.8H1420.8" stroke="#000" stroke-width="1.5" fill="none"/>
<text x="1281" y="395.5" font-size="24.8" text-anchor="middle">8</text>
<text x="1218.5" y="488" font-size="24.8" text-anchor="middle">25</text>
<text x="1343.5" y="488" font-size="24.8" text-anchor="middle">29</text>
<text x="1374.5" y="580.5" font-size="24.8" text-anchor="middle">48</text>
<path d="M88.8 448.7h5.5V1529h-5.5zM146.3 448.7h5.5V1529h-5.5zM203.7 448.7h5.5V1529h-5.5zM261.2 448.7h5.5V1529h-5.5zM318.7 448.7h5.5V1529h-5.5zM376.1 448.7h5.5V1529h-5.5zM433.6 448.7h5.5V1529h-5.5zM491.1 448.7h5.5V1529h-5.5zM548.6 448.7h5.5V1529h-5.5zM606 448.7h5.5V1529h-5.5zM663.5 448.7h5.5V1529h-5.5zM721 448.7h5.5V1529h-5.5zM778.4 448.7h5.5V1529h-5.5zM835.9 448.7h5.5V1529h-5.5zM893.4 448.7h5.5V1529h-5.5z" fill="#aaf0aa"/>
<path d="M63.9 497.2H80.8L80.8 497 81.8 448 83 497.2 84.2 460 84.8 497.2H88.3L88.3 497.2 89.1 457.6 89.4 452.6 90 455.6 90.7 452.1 91.3 454.9 92 453.8 92.6 452 93.3 454.7 93.8 457.6 94.6 497.2H116.8M121.4 497.2H145.8L145.8 497.2 146.6 457.1 146.9 453.7 147.5 451.5 148.2 451.6 148.8 453.6 149.5 456 150.1 451.8 150.8 452.4 151.3 457.1 152.1 497.2H174.2M178.8 497.2H203.2L203.2 497.2 204 458.3 204.3 457.9 205 455.7 205.6 454.6 206.3 458.1 206.9 452.5 207.6 457.4 208.2 454 208.7 458.3 209.5 497.2H231.7M236.3 497.2H260.7L260.7 497.2 261.5 457.3 261.8 452 262.5 453.1 263.1 456.2 263.8 452.4 264.4 454.8 265.1 455.1 265.7 453.5 266.2 457.3 267 497.2H289.2M293.8 497.2H318.2L318.2 497.2 319 458.1 319.3 452.5 319.9 452.5 320.6 453.3 321.2 456.2 321.9 454.7 322.5 454 323.2 455.6 323.7 458.1 324.5 497.2H346.6M351.2 497.2H375.6L375.6 497.2 376.4 457.9 376.8 453.7 377.4 456.7 378.1 456.1 378.7 453.4 379.4 455.4 380 455.1 380.6 457.2 381.1 457.9 381.9 497.2H404.1M408.7 497.2H433.1L433.1 497.2 433.9 458.5 434.2 454.2 434.9 458.3 435.5 453.2 436.2 455 436.8 457 437.5 453.4 438.1 455.4 438.6 458.5 439.4 497.2H461.6M466.2 497.2H490.6L490.6 497.2 491.4 457.1 491.7 455.1 492.3 455.7 493 454.5 493.6 456.3 494.3 453 494.9 455.3 495.6 454.6 496.1 457.1 496.9 497.2H519.1M523.7 497.2H548.1L548.1 497.2 548.9 458.2 549.2 454.9 549.8 457.2 550.5 457.8 551.1 455 551.8 456.1 552.4 452.5 553.1 456.4 553.6 458.2 554.4 497.2H576.5M581.1 497.2H605.5L605.5 497.2 606.3 458.3 606.6 458.3 607.3 457.2 607.9 454 608.6 454.6 609.2 456.3 609.9 452.4 610.5 455.1 611 458.3 611.8 497.2H634M638.6 497.2H663L663 497.2 663.8 457.3 664.1 452 664.8 451.7 665.4 455.9 666.1 452.1 666.7 452.8 667.4 453.7 668 456.6 668.5 457.3 669.3 497.2H691.5M696.1 497.2H720.5L720.5 497.2 721.3 457.2 721.6 453.9 722.2 454.5 722.9 456.5 723.5 456.1 724.2 456.3 724.8 452.8 725.5 453.7 726 457.2 726.8 497.2H748.9M753.5 497.2H777.9L777.9 497.2 778.7 457.7 779 457 779.7 457.5 780.3 452.6 781 452.8 781.6 453.1 782.3 453.1 782.9 454.6 783.4 457.7 784.2 497.2H806.4M811 497.2H835.4L835.4 497.2 836.2 458.2 836.5 453.8 837.2 452.2 837.8 454.7 838.5 454.4 839.1 455.6 839.8 457.9 840.4 456.3 840.9 458.2 841.7 497.2H863.9M868.5 497.2H892.9L892.9 497.2 893.7 458 894 455.7 894.6 456.1 895.3 452.4 895.9 457.4 896.6 456.7 897.2 457.3 897.9 456.8 898.4 458 899.2 497.2H921.3" stroke="#111" stroke-width="1.6" fill="none" stroke-linejoin="round"/>
<text x="-2" y="437.5" font-size="43" font-weight="bold">c</text>
<text x="242" y="444.9" font-size="24.8">Ethanol (2 g/kg i.p.)</text>
<text x="556" y="444.2" font-size="24.8">MK912 (0.03 mg/kg i.p.)</text>
<text x="896.5" y="445.5" font-size="24.8">100 mm/s</text>
<path d="M952.6 457V487.8" stroke="#000" stroke-width="2"/>
<path d="M348 452V476" stroke="#000" stroke-width="2"/><path d="M348 488l-6.2-17.5q6.2 3 12.4 0z"/>
<path d="M635.8 452V476" stroke="#000" stroke-width="2"/><path d="M635.8 488l-6.2-17.5q6.2 3 12.4 0z"/>
<text x="3.4" y="496.9" font-size="24.8">ROI</text>
<text x="25" y="525.6" font-size="24.8" text-anchor="middle">#</text>
<text x="25" y="604.4" font-size="24.8" text-anchor="middle">8</text>
<text x="25" y="766.8" font-size="24.8" text-anchor="middle">25</text>
<text x="25" y="805" font-size="24.8" text-anchor="middle">29</text>
<text x="25" y="986.5" font-size="24.8" text-anchor="middle">48</text>
<text x="25" y="1184.3" font-size="24.8" text-anchor="middle">8</text>
<text x="25" y="1290" font-size="24.8" text-anchor="middle">25</text>
<text x="25" y="1399.6" font-size="24.8" text-anchor="middle">29</text>
<text x="25" y="1508" font-size="24.8" text-anchor="middle">48</text>
<text font-size="24.8" text-anchor="middle" transform="translate(33,1050.6) rotate(-90)" style="fill:#8b0000">Mean</text>
<text x="972" y="533.3" font-size="24.8">1.4</text>
<text x="972" y="946.3" font-size="24.8">0</text>
<text transform="translate(1009.5,730.5) rotate(90)" font-size="25.2" text-anchor="middle">Ca<tspan font-size="17" dy="-10.5">2+</tspan><tspan dy="10.5"> change (Δ</tspan><tspan font-style="italic">F/F</tspan>)</text>
<text x="968" y="1020" font-size="24.8" text-anchor="middle">Pause</text>
<text x="968" y="1050" font-size="24.8" text-anchor="middle">(162 s)</text>
<text x="932.7" y="1458" font-size="24.8">1 Δ<tspan font-style="italic">F/F</tspan></text>
<text x="930.6" y="1501.7" font-size="24.8">50 s</text>
<path d="M928.6 1425V1477.6H978.3" stroke="#000" stroke-width="2" fill="none"/>
<rect x="49.3" y="524.5" width="14.8" height="468" fill="#999"/><path d="M51 534.1h13.1v9.6h-13.1zM51 553.2h13.1v9.6h-13.1zM51 572.3h13.1v9.6h-13.1zM51 591.4h13.1v9.6h-13.1zM51 610.5h13.1v9.6h-13.1zM51 629.6h13.1v9.6h-13.1zM51 648.7h13.1v9.6h-13.1zM51 667.8h13.1v9.6h-13.1zM51 686.9h13.1v9.6h-13.1zM51 706h13.1v9.6h-13.1zM51 725.1h13.1v9.6h-13.1zM51 744.2h13.1v9.6h-13.1zM51 763.3h13.1v9.6h-13.1zM51 782.4h13.1v9.6h-13.1zM51 801.5h13.1v9.6h-13.1zM51 820.6h13.1v9.6h-13.1zM51 839.7h13.1v9.6h-13.1zM51 858.8h13.1v9.6h-13.1zM51 877.9h13.1v9.6h-13.1zM51 897h13.1v9.6h-13.1zM51 916.1h13.1v9.6h-13.1zM51 935.2h13.1v9.6h-13.1zM51 954.3h13.1v9.6h-13.1zM51 973.4h13.1v9.6h-13.1z" fill="#fff"/>
<defs><linearGradient id="jetv" x1="0" y1="1" x2="0" y2="0">
<stop offset="0" stop-color="#000080"/>
<stop offset=".031" stop-color="#00009f"/>
<stop offset=".062" stop-color="#0000bf"/>
<stop offset=".094" stop-color="#0000df"/>
<stop offset=".125" stop-color="#00f"/>
<stop offset=".156" stop-color="#0020ff"/>
<stop offset=".188" stop-color="#0040ff"/>
<stop offset=".219" stop-color="#0060ff"/>
<stop offset=".25" stop-color="#0080ff"/>
<stop offset=".281" stop-color="#009fff"/>
<stop offset=".312" stop-color="#00bfff"/>
<stop offset=".344" stop-color="#00dfff"/>
<stop offset=".375" stop-color="#0ff"/>
<stop offset=".406" stop-color="#20ffdf"/>
<stop offset=".438" stop-color="#40ffbf"/>
<stop offset=".469" stop-color="#60ff9f"/>
<stop offset=".5" stop-color="#80ff80"/>
<stop offset=".531" stop-color="#9fff60"/>
<stop offset=".562" stop-color="#bfff40"/>
<stop offset=".594" stop-color="#dfff20"/>
<stop offset=".625" stop-color="#ff0"/>
<stop offset=".656" stop-color="#ffdf00"/>
<stop offset=".688" stop-color="#ffbf00"/>
<stop offset=".719" stop-color="#ff9f00"/>
<stop offset=".75" stop-color="#ff8000"/>
<stop offset=".781" stop-color="#ff6000"/>
<stop offset=".812" stop-color="#ff4000"/>
<stop offset=".844" stop-color="#ff2000"/>
<stop offset=".875" stop-color="#f00"/>
<stop offset=".906" stop-color="#df0000"/>
<stop offset=".938" stop-color="#bf0000"/>
<stop offset=".969" stop-color="#9f0000"/>
<stop offset="1" stop-color="#800000"/>
</linearGradient></defs>
<rect x="927.7" y="524.4" width="31.9" height="413.8" fill="url(#jetv)"/><rect x="927.7" y="938" width="31.9" height="54.3" fill="#000"/>
<defs><filter id="hn" x="0" y="0" width="100%" height="100%" color-interpolation-filters="sRGB"><feTurbulence type="fractalNoise" baseFrequency="0.6 0.05" numOctaves="1" seed="5" result="n"/><feColorMatrix in="n" type="matrix" values="0 0 0 0 0  0.3 0 0 0 -0.14  0 0 0 0 .8  0 1.2 0 0 -0.54"/></filter></defs>
<rect x="63.9" y="524.5" width="858" height="468" fill="#000088"/>
<path d="M66.3 524.5h.6v468h-.6zM77.1 524.5h1.8v468h-1.8zM83.7 524.5h.6v468h-.6zM92.1 524.5h1.2v468h-1.2zM93.9 524.5h.6v468h-.6zM98.1 524.5h1.2v468h-1.2zM103.5 524.5h1.2v468h-1.2zM116.1 524.5h.6v468h-.6zM130.5 524.5h.6v468h-.6zM132.9 524.5h.6v468h-.6zM143.7 524.5h1.2v468h-1.2zM153.3 524.5h1.2v468h-1.2zM158.7 524.5h.6v468h-.6zM159.3 524.5h.6v468h-.6zM166.5 524.5h.6v468h-.6zM177.9 524.5h.6v468h-.6zM193.5 524.5h1.2v468h-1.2zM219.3 524.5h1.8v468h-1.8zM272.7 524.5h1.8v468h-1.8zM274.5 524.5h1.2v468h-1.2zM276.3 524.5h.6v468h-.6zM287.7 524.5h1.2v468h-1.2zM298.5 524.5h1.2v468h-1.2zM302.7 524.5h1.2v468h-1.2zM324.3 524.5h.6v468h-.6zM324.9 524.5h.6v468h-.6zM337.5 524.5h1.2v468h-1.2zM338.7 524.5h1.2v468h-1.2zM339.9 524.5h1.2v468h-1.2zM341.1 524.5h1.2v468h-1.2zM344.1 524.5h.6v468h-.6zM345.9 524.5h.6v468h-.6zM348.3 524.5h1.2v468h-1.2zM350.7 524.5h.6v468h-.6zM352.5 524.5h1.2v468h-1.2zM375.9 524.5h1.2v468h-1.2zM395.7 524.5h.6v468h-.6zM406.5 524.5h.6v468h-.6zM409.5 524.5h1.2v468h-1.2zM411.3 524.5h.6v468h-.6zM418.5 524.5h1.2v468h-1.2zM428.1 524.5h1.8v468h-1.8zM429.9 524.5h.6v468h-.6zM437.1 524.5h1.2v468h-1.2zM443.1 524.5h1.2v468h-1.2zM446.1 524.5h1.8v468h-1.8zM459.3 524.5h.6v468h-.6zM465.9 524.5h.6v468h-.6zM466.5 524.5h1.2v468h-1.2zM468.9 524.5h1.2v468h-1.2zM470.1 524.5h1.2v468h-1.2zM471.3 524.5h.6v468h-.6zM500.1 524.5h1.2v468h-1.2zM510.9 524.5h.6v468h-.6zM521.1 524.5h.6v468h-.6zM537.3 524.5h1.2v468h-1.2zM560.1 524.5h1.8v468h-1.8zM585.3 524.5h1.2v468h-1.2zM594.9 524.5h1.8v468h-1.8zM597.3 524.5h.6v468h-.6zM615.3 524.5h1.8v468h-1.8zM622.5 524.5h1.2v468h-1.2zM624.9 524.5h1.2v468h-1.2zM626.1 524.5h1.8v468h-1.8zM660.9 524.5h1.8v468h-1.8zM662.7 524.5h1.8v468h-1.8zM673.5 524.5h1.2v468h-1.2zM674.7 524.5h.6v468h-.6zM675.3 524.5h.6v468h-.6zM681.3 524.5h.6v468h-.6zM683.7 524.5h1.2v468h-1.2zM687.3 524.5h1.2v468h-1.2zM690.3 524.5h.6v468h-.6zM691.5 524.5h1.2v468h-1.2zM717.9 524.5h.6v468h-.6zM729.9 524.5h1.2v468h-1.2zM731.1 524.5h1.8v468h-1.8zM743.7 524.5h.6v468h-.6zM752.7 524.5h1.2v468h-1.2zM758.1 524.5h.6v468h-.6zM764.7 524.5h1.2v468h-1.2zM765.9 524.5h.6v468h-.6zM774.3 524.5h1.2v468h-1.2zM781.5 524.5h1.2v468h-1.2zM792.3 524.5h1.2v468h-1.2zM810.3 524.5h1.2v468h-1.2zM822.3 524.5h.6v468h-.6zM825.9 524.5h.6v468h-.6zM834.9 524.5h.6v468h-.6zM835.5 524.5h.6v468h-.6zM836.1 524.5h.6v468h-.6zM837.9 524.5h1.8v468h-1.8zM849.9 524.5h1.8v468h-1.8zM855.3 524.5h1.2v468h-1.2zM863.7 524.5h1.8v468h-1.8zM869.7 524.5h.6v468h-.6zM876.3 524.5h1.2v468h-1.2zM884.1 524.5h1.8v468h-1.8zM890.1 524.5h.6v468h-.6zM896.7 524.5h.6v468h-.6zM899.1 524.5h1.8v468h-1.8zM905.7 524.5h1.8v468h-1.8zM918.9 524.5h.6v468h-.6z" fill="#00009c"/>
<path d="M67.5 524.5h.6v468h-.6zM68.1 524.5h1.2v468h-1.2zM69.3 524.5h.6v468h-.6zM81.3 524.5h.6v468h-.6zM81.9 524.5h1.2v468h-1.2zM83.1 524.5h.6v468h-.6zM86.1 524.5h1.2v468h-1.2zM107.1 524.5h1.2v468h-1.2zM108.9 524.5h1.2v468h-1.2zM110.1 524.5h1.8v468h-1.8zM115.5 524.5h.6v468h-.6zM116.7 524.5h.6v468h-.6zM117.3 524.5h1.8v468h-1.8zM122.1 524.5h.6v468h-.6zM122.7 524.5h1.8v468h-1.8zM124.5 524.5h1.2v468h-1.2zM125.7 524.5h1.2v468h-1.2zM131.7 524.5h1.2v468h-1.2zM141.9 524.5h1.2v468h-1.2zM147.9 524.5h1.8v468h-1.8zM150.3 524.5h.6v468h-.6zM150.9 524.5h.6v468h-.6zM151.5 524.5h.6v468h-.6zM164.1 524.5h1.2v468h-1.2zM170.7 524.5h1.2v468h-1.2zM190.5 524.5h1.8v468h-1.8zM194.7 524.5h1.2v468h-1.2zM195.9 524.5h1.8v468h-1.8zM206.1 524.5h.6v468h-.6zM206.7 524.5h.6v468h-.6zM207.3 524.5h1.2v468h-1.2zM209.7 524.5h.6v468h-.6zM210.3 524.5h1.2v468h-1.2zM224.7 524.5h1.2v468h-1.2zM228.3 524.5h.6v468h-.6zM237.3 524.5h1.8v468h-1.8zM241.5 524.5h1.2v468h-1.2zM246.9 524.5h1.2v468h-1.2zM248.1 524.5h.6v468h-.6zM251.1 524.5h1.2v468h-1.2zM256.5 524.5h.6v468h-.6zM257.1 524.5h.6v468h-.6zM266.7 524.5h.6v468h-.6zM269.7 524.5h.6v468h-.6zM270.3 524.5h1.2v468h-1.2zM293.7 524.5h1.2v468h-1.2zM300.9 524.5h.6v468h-.6zM308.1 524.5h.6v468h-.6zM320.1 524.5h1.2v468h-1.2zM323.7 524.5h.6v468h-.6zM325.5 524.5h.6v468h-.6zM327.3 524.5h1.2v468h-1.2zM328.5 524.5h1.8v468h-1.8zM330.9 524.5h1.2v468h-1.2zM344.7 524.5h1.2v468h-1.2zM356.7 524.5h1.2v468h-1.2zM359.7 524.5h1.2v468h-1.2zM362.1 524.5h.6v468h-.6zM362.7 524.5h1.2v468h-1.2zM364.5 524.5h.6v468h-.6zM365.1 524.5h.6v468h-.6zM367.5 524.5h.6v468h-.6zM368.1 524.5h.6v468h-.6zM368.7 524.5h.6v468h-.6zM369.9 524.5h.6v468h-.6zM371.1 524.5h.6v468h-.6zM371.7 524.5h1.8v468h-1.8zM378.3 524.5h1.2v468h-1.2zM379.5 524.5h1.2v468h-1.2zM380.7 524.5h.6v468h-.6zM381.3 524.5h1.2v468h-1.2zM382.5 524.5h.6v468h-.6zM383.1 524.5h.6v468h-.6zM383.7 524.5h1.2v468h-1.2zM395.1 524.5h.6v468h-.6zM398.7 524.5h1.2v468h-1.2zM399.9 524.5h.6v468h-.6zM400.5 524.5h.6v468h-.6zM401.1 524.5h.6v468h-.6zM401.7 524.5h1.2v468h-1.2zM402.9 524.5h.6v468h-.6zM411.9 524.5h1.2v468h-1.2zM424.5 524.5h.6v468h-.6zM425.1 524.5h1.2v468h-1.2zM426.9 524.5h1.2v468h-1.2zM455.1 524.5h.6v468h-.6zM459.9 524.5h.6v468h-.6zM474.3 524.5h.6v468h-.6zM476.7 524.5h1.2v468h-1.2zM477.9 524.5h1.2v468h-1.2zM480.9 524.5h1.2v468h-1.2zM482.7 524.5h.6v468h-.6zM483.3 524.5h1.8v468h-1.8zM488.1 524.5h1.8v468h-1.8zM490.5 524.5h1.8v468h-1.8zM499.5 524.5h.6v468h-.6zM503.1 524.5h1.2v468h-1.2zM511.5 524.5h1.8v468h-1.8zM513.3 524.5h.6v468h-.6zM516.9 524.5h1.2v468h-1.2zM521.7 524.5h.6v468h-.6zM524.7 524.5h1.2v468h-1.2zM525.9 524.5h1.2v468h-1.2zM528.3 524.5h1.2v468h-1.2zM529.5 524.5h1.8v468h-1.8zM531.3 524.5h1.2v468h-1.2zM532.5 524.5h.6v468h-.6zM533.1 524.5h1.2v468h-1.2zM534.3 524.5h1.2v468h-1.2zM539.1 524.5h1.2v468h-1.2zM540.9 524.5h1.2v468h-1.2zM542.1 524.5h1.8v468h-1.8zM543.9 524.5h1.2v468h-1.2zM545.1 524.5h1.2v468h-1.2zM546.3 524.5h1.2v468h-1.2zM547.5 524.5h1.2v468h-1.2zM548.7 524.5h1.2v468h-1.2zM549.9 524.5h.6v468h-.6zM550.5 524.5h1.2v468h-1.2zM556.5 524.5h.6v468h-.6zM557.1 524.5h.6v468h-.6zM568.5 524.5h.6v468h-.6zM569.7 524.5h1.8v468h-1.8zM575.1 524.5h1.2v468h-1.2zM578.7 524.5h1.8v468h-1.8zM584.7 524.5h.6v468h-.6zM586.5 524.5h.6v468h-.6zM587.1 524.5h.6v468h-.6zM587.7 524.5h1.2v468h-1.2zM590.1 524.5h1.2v468h-1.2zM599.1 524.5h1.2v468h-1.2zM601.5 524.5h.6v468h-.6zM602.1 524.5h.6v468h-.6zM602.7 524.5h.6v468h-.6zM604.5 524.5h1.2v468h-1.2zM605.7 524.5h.6v468h-.6zM606.9 524.5h.6v468h-.6zM607.5 524.5h.6v468h-.6zM611.1 524.5h.6v468h-.6zM611.7 524.5h1.8v468h-1.8zM632.1 524.5h1.2v468h-1.2zM633.3 524.5h.6v468h-.6zM633.9 524.5h1.8v468h-1.8zM640.5 524.5h1.8v468h-1.8zM642.3 524.5h1.2v468h-1.2zM643.5 524.5h1.2v468h-1.2zM650.1 524.5h1.8v468h-1.8zM654.9 524.5h1.8v468h-1.8zM675.9 524.5h1.2v468h-1.2zM688.5 524.5h.6v468h-.6zM689.1 524.5h.6v468h-.6zM695.1 524.5h.6v468h-.6zM697.5 524.5h1.2v468h-1.2zM702.3 524.5h.6v468h-.6zM715.5 524.5h.6v468h-.6zM716.1 524.5h1.8v468h-1.8zM719.1 524.5h.6v468h-.6zM719.7 524.5h.6v468h-.6zM742.5 524.5h1.2v468h-1.2zM758.7 524.5h1.2v468h-1.2zM770.7 524.5h.6v468h-.6zM771.3 524.5h1.2v468h-1.2zM772.5 524.5h.6v468h-.6zM773.1 524.5h1.2v468h-1.2zM790.5 524.5h.6v468h-.6zM791.1 524.5h1.2v468h-1.2zM794.1 524.5h1.2v468h-1.2zM795.3 524.5h1.2v468h-1.2zM796.5 524.5h.6v468h-.6zM797.1 524.5h1.8v468h-1.8zM798.9 524.5h1.2v468h-1.2zM801.3 524.5h1.8v468h-1.8zM803.1 524.5h.6v468h-.6zM813.3 524.5h1.2v468h-1.2zM814.5 524.5h1.8v468h-1.8zM817.5 524.5h1.8v468h-1.8zM819.3 524.5h.6v468h-.6zM819.9 524.5h.6v468h-.6zM836.7 524.5h.6v468h-.6zM842.1 524.5h.6v468h-.6zM843.3 524.5h1.8v468h-1.8zM846.3 524.5h.6v468h-.6zM846.9 524.5h.6v468h-.6zM851.7 524.5h1.2v468h-1.2zM857.7 524.5h1.2v468h-1.2zM870.3 524.5h.6v468h-.6zM879.9 524.5h1.2v468h-1.2zM881.1 524.5h.6v468h-.6zM890.7 524.5h1.2v468h-1.2zM901.5 524.5h1.2v468h-1.2zM902.7 524.5h1.2v468h-1.2zM913.5 524.5h1.2v468h-1.2zM914.7 524.5h.6v468h-.6zM915.3 524.5h.6v468h-.6zM917.7 524.5h.6v468h-.6zM919.5 524.5h.6v468h-.6z" fill="#00007c"/>
<path d="M71.1 524.5h1.2v468h-1.2zM101.1 524.5h1.2v468h-1.2zM156.3 524.5h1.2v468h-1.2zM186.3 524.5h.6v468h-.6zM258.9 524.5h.6v468h-.6zM389.7 524.5h1.8v468h-1.8zM396.3 524.5h1.2v468h-1.2zM450.9 524.5h1.8v468h-1.8zM467.7 524.5h1.2v468h-1.2zM506.1 524.5h.6v468h-.6zM617.1 524.5h1.8v468h-1.8zM638.7 524.5h1.8v468h-1.8zM700.5 524.5h1.8v468h-1.8zM722.7 524.5h1.2v468h-1.2zM724.5 524.5h1.2v468h-1.2zM727.5 524.5h1.8v468h-1.8zM736.5 524.5h1.2v468h-1.2zM740.7 524.5h1.2v468h-1.2zM745.5 524.5h1.2v468h-1.2zM811.5 524.5h.6v468h-.6zM854.1 524.5h.6v468h-.6zM861.9 524.5h.6v468h-.6zM885.9 524.5h1.2v468h-1.2zM908.1 524.5h1.2v468h-1.2z" fill="#0008c6"/>
<path d="M73.5 524.5h.6v468h-.6zM88.5 524.5h.6v468h-.6zM93.3 524.5h.6v468h-.6zM97.5 524.5h.6v468h-.6zM104.7 524.5h.6v468h-.6zM105.3 524.5h1.8v468h-1.8zM128.7 524.5h1.2v468h-1.2zM129.9 524.5h.6v468h-.6zM135.9 524.5h1.2v468h-1.2zM173.7 524.5h1.2v468h-1.2zM180.9 524.5h1.8v468h-1.8zM185.1 524.5h1.2v468h-1.2zM188.7 524.5h1.8v468h-1.8zM214.5 524.5h1.2v468h-1.2zM230.1 524.5h1.2v468h-1.2zM231.3 524.5h1.2v468h-1.2zM232.5 524.5h.6v468h-.6zM267.3 524.5h1.2v468h-1.2zM276.9 524.5h1.2v468h-1.2zM278.1 524.5h1.2v468h-1.2zM279.3 524.5h1.2v468h-1.2zM284.7 524.5h1.2v468h-1.2zM285.9 524.5h1.8v468h-1.8zM288.9 524.5h1.8v468h-1.8zM291.3 524.5h1.2v468h-1.2zM309.9 524.5h1.8v468h-1.8zM311.7 524.5h1.2v468h-1.2zM312.9 524.5h1.8v468h-1.8zM335.7 524.5h1.2v468h-1.2zM342.3 524.5h1.8v468h-1.8zM389.1 524.5h.6v468h-.6zM397.5 524.5h1.2v468h-1.2zM403.5 524.5h1.8v468h-1.8zM408.3 524.5h1.2v468h-1.2zM419.7 524.5h.6v468h-.6zM422.1 524.5h.6v468h-.6zM426.3 524.5h.6v468h-.6zM440.7 524.5h1.2v468h-1.2zM441.9 524.5h1.2v468h-1.2zM448.5 524.5h.6v468h-.6zM449.1 524.5h.6v468h-.6zM458.1 524.5h.6v468h-.6zM461.7 524.5h.6v468h-.6zM464.7 524.5h1.2v468h-1.2zM476.1 524.5h.6v468h-.6zM496.5 524.5h.6v468h-.6zM501.9 524.5h.6v468h-.6zM504.9 524.5h1.2v468h-1.2zM566.1 524.5h1.8v468h-1.8zM608.7 524.5h1.2v468h-1.2zM627.9 524.5h1.8v468h-1.8zM629.7 524.5h1.8v468h-1.8zM667.5 524.5h.6v468h-.6zM668.1 524.5h1.8v468h-1.8zM669.9 524.5h.6v468h-.6zM684.9 524.5h.6v468h-.6zM692.7 524.5h1.2v468h-1.2zM706.5 524.5h1.2v468h-1.2zM721.5 524.5h1.2v468h-1.2zM725.7 524.5h1.8v468h-1.8zM732.9 524.5h.6v468h-.6zM741.9 524.5h.6v468h-.6zM744.9 524.5h.6v468h-.6zM755.7 524.5h1.2v468h-1.2zM762.3 524.5h1.8v468h-1.8zM767.1 524.5h1.8v468h-1.8zM788.1 524.5h1.8v468h-1.8zM837.3 524.5h.6v468h-.6zM847.5 524.5h.6v468h-.6zM848.1 524.5h1.8v468h-1.8zM854.7 524.5h.6v468h-.6zM860.1 524.5h1.2v468h-1.2zM862.5 524.5h1.2v468h-1.2zM865.5 524.5h.6v468h-.6zM881.7 524.5h1.2v468h-1.2zM887.1 524.5h.6v468h-.6zM887.7 524.5h1.2v468h-1.2zM893.1 524.5h1.2v468h-1.2zM903.9 524.5h.6v468h-.6zM904.5 524.5h1.2v468h-1.2z" fill="#0000aa"/>
<path d="M75.3 524.5h1.8v468h-1.8zM84.3 524.5h.6v468h-.6zM84.9 524.5h1.2v468h-1.2zM89.1 524.5h1.2v468h-1.2zM99.3 524.5h1.8v468h-1.8zM137.1 524.5h.6v468h-.6zM155.7 524.5h.6v468h-.6zM175.5 524.5h.6v468h-.6zM176.1 524.5h1.2v468h-1.2zM177.3 524.5h.6v468h-.6zM200.1 524.5h1.8v468h-1.8zM212.7 524.5h1.8v468h-1.8zM215.7 524.5h1.8v468h-1.8zM261.9 524.5h.6v468h-.6zM262.5 524.5h1.2v468h-1.2zM290.7 524.5h.6v468h-.6zM299.7 524.5h1.2v468h-1.2zM314.7 524.5h.6v468h-.6zM317.7 524.5h1.2v468h-1.2zM349.5 524.5h1.2v468h-1.2zM377.1 524.5h.6v468h-.6zM393.9 524.5h1.2v468h-1.2zM410.7 524.5h.6v468h-.6zM420.3 524.5h1.2v468h-1.2zM431.1 524.5h.6v468h-.6zM431.7 524.5h.6v468h-.6zM432.3 524.5h.6v468h-.6zM435.9 524.5h1.2v468h-1.2zM447.9 524.5h.6v468h-.6zM449.7 524.5h1.2v468h-1.2zM462.3 524.5h1.2v468h-1.2zM464.1 524.5h.6v468h-.6zM485.1 524.5h1.2v468h-1.2zM501.3 524.5h.6v468h-.6zM504.3 524.5h.6v468h-.6zM535.5 524.5h1.8v468h-1.8zM558.3 524.5h1.8v468h-1.8zM593.1 524.5h1.8v468h-1.8zM621.9 524.5h.6v468h-.6zM679.5 524.5h.6v468h-.6zM680.1 524.5h1.2v468h-1.2zM711.9 524.5h1.8v468h-1.8zM735.9 524.5h.6v468h-.6zM753.9 524.5h1.8v468h-1.8zM760.5 524.5h.6v468h-.6zM761.1 524.5h1.2v468h-1.2zM764.1 524.5h.6v468h-.6zM783.9 524.5h1.8v468h-1.8zM812.1 524.5h1.2v468h-1.2zM830.1 524.5h1.8v468h-1.8zM831.9 524.5h1.2v468h-1.2zM833.1 524.5h1.8v468h-1.8zM861.3 524.5h.6v468h-.6zM873.9 524.5h.6v468h-.6zM874.5 524.5h1.8v468h-1.8zM877.5 524.5h1.8v468h-1.8zM897.9 524.5h1.2v468h-1.2z" fill="#0002b8"/>
<path d="M94.5 524.5h1.2v468h-1.2zM102.3 524.5h.6v468h-.6zM133.5 524.5h1.2v468h-1.2zM134.7 524.5h1.2v468h-1.2zM174.9 524.5h.6v468h-.6zM393.3 524.5h.6v468h-.6zM439.5 524.5h1.2v468h-1.2zM463.5 524.5h.6v468h-.6zM723.9 524.5h.6v468h-.6zM729.3 524.5h.6v468h-.6zM733.5 524.5h1.8v468h-1.8zM735.3 524.5h.6v468h-.6zM737.7 524.5h.6v468h-.6zM738.3 524.5h.6v468h-.6zM766.5 524.5h.6v468h-.6zM895.5 524.5h1.2v468h-1.2z" fill="#0012d4"/>
<rect x="63.9" y="524.5" width="858" height="468" filter="url(#hn)"/>
<path d="M63.9 658.2h858v9.6h-858zM63.9 734.6h858v9.6h-858zM63.9 744.2h858v9.6h-858zM63.9 811h858v9.6h-858zM63.9 935.2h858v9.6h-858zM63.9 944.7h858v9.6h-858z" fill="#2858ff" opacity=".1"/>
<path d="M63.9 543.6h858v9.6h-858zM63.9 591.4h858v9.6h-858zM63.9 629.6h858v9.6h-858zM63.9 696.4h858v9.6h-858zM63.9 772.8h858v9.6h-858zM63.9 858.8h858v9.6h-858zM63.9 897h858v9.6h-858z" fill="#00008c" opacity=".2"/>
<path d="M89.6 524.5h4v9.6h-4zM147.1 524.5h4v9.6h-4zM204.5 524.5h4v9.6h-4zM262 524.5h4v9.6h-4zM319.5 524.5h4v9.6h-4zM376.9 524.5h4v9.6h-4zM434.4 524.5h4v9.6h-4zM491.9 524.5h4v9.6h-4zM549.4 524.5h4v9.6h-4zM606.8 524.5h4v9.6h-4zM664.3 524.5h4v9.6h-4zM721.8 524.5h4v9.6h-4zM779.2 524.5h4v9.6h-4zM836.7 524.5h4v9.6h-4zM894.2 524.5h4v9.6h-4z" fill="#58c0c0"/>
<path d="M90.1 534.1h1.2v9.6h-1.2zM90.1 581.8h1.2v9.6h-1.2zM93.4 581.8h1.2v9.6h-1.2zM90.2 610.5h1.2v9.6h-1.2zM93.5 610.5h1.2v9.6h-1.2zM90.2 648.7h1.2v9.6h-1.2zM93.6 715.5h1.2v9.6h-1.2zM92.5 744.2h1.2v9.6h-1.2zM93.6 753.7h1.2v9.6h-1.2zM90.3 772.8h1.2v9.6h-1.2zM92.5 791.9h1.2v9.6h-1.2zM92.6 811h1.2v9.6h-1.2zM90.4 849.2h1.2v9.6h-1.2zM92.6 877.9h1.2v9.6h-1.2zM90.4 906.5h1.2v9.6h-1.2zM90.5 916.1h1.2v9.6h-1.2zM93.8 916.1h1.2v9.6h-1.2zM92.7 944.7h1.2v9.6h-1.2zM92.7 954.3h1.2v9.6h-1.2zM90.5 973.4h1.2v9.6h-1.2zM93.8 973.4h1.2v9.6h-1.2zM150.4 562.7h1.2v9.6h-1.2zM150.3 620h1.2v9.6h-1.2zM150.2 667.8h1.2v9.6h-1.2zM150.1 706h1.2v9.6h-1.2zM150.1 725.1h1.2v9.6h-1.2zM150 734.6h1.2v9.6h-1.2zM147.8 753.7h1.2v9.6h-1.2zM149.6 906.5h1.2v9.6h-1.2zM149.5 954.3h1.2v9.6h-1.2zM206.8 534.1h1.2v9.6h-1.2zM205.7 543.6h1.2v9.6h-1.2zM206.8 553.2h1.2v9.6h-1.2zM205.8 572.3h1.2v9.6h-1.2zM207 610.5h1.2v9.6h-1.2zM207.2 677.3h1.2v9.6h-1.2zM206.2 706h1.2v9.6h-1.2zM207.3 715.5h1.2v9.6h-1.2zM207.6 801.5h1.2v9.6h-1.2zM207.7 849.2h1.2v9.6h-1.2zM206.7 877.9h1.2v9.6h-1.2zM206.8 925.6h1.2v9.6h-1.2zM208.1 982.9h1.2v9.6h-1.2zM265.1 534.1h1.2v9.6h-1.2zM264 562.7h1.2v9.6h-1.2zM264 572.3h1.2v9.6h-1.2zM264 591.4h1.2v9.6h-1.2zM265 715.5h1.2v9.6h-1.2zM264.9 753.7h1.2v9.6h-1.2zM263.8 763.3h1.2v9.6h-1.2zM263.8 772.8h1.2v9.6h-1.2zM263.8 791.9h1.2v9.6h-1.2zM264.8 868.3h1.2v9.6h-1.2zM263.7 877.9h1.2v9.6h-1.2zM319.7 562.7h1.2v9.6h-1.2zM322.1 629.6h1.2v9.6h-1.2zM323.2 639.1h1.2v9.6h-1.2zM319.9 648.7h1.2v9.6h-1.2zM320 677.3h1.2v9.6h-1.2zM322.3 706h1.2v9.6h-1.2zM320.2 753.7h1.2v9.6h-1.2zM322.5 791.9h1.2v9.6h-1.2zM320.3 801.5h1.2v9.6h-1.2zM322.5 811h1.2v9.6h-1.2zM320.3 830.1h1.2v9.6h-1.2zM320.4 868.3h1.2v9.6h-1.2zM322.6 877.9h1.2v9.6h-1.2zM320.7 982.9h1.2v9.6h-1.2zM324 982.9h1.2v9.6h-1.2zM380.2 897h1.7v9.6h-1.7zM380.2 916.1h1.7v9.6h-1.7zM495.6 897h1.7v9.6h-1.7zM552.5 553.2h1.7v9.6h-1.7zM552.6 658.2h1.7v9.6h-1.7zM552.9 849.2h1.7v9.6h-1.7zM552.9 897h1.7v9.6h-1.7zM553 963.8h1.7v9.6h-1.7zM610 534.1h1.7v9.6h-1.7zM610.1 581.8h1.7v9.6h-1.7zM610.4 973.4h1.7v9.6h-1.7zM667.8 553.2h1.2v9.6h-1.2zM667.8 562.7h1.2v9.6h-1.2zM668.1 696.4h1.2v9.6h-1.2zM668.2 715.5h1.2v9.6h-1.2zM668.2 725.1h1.2v9.6h-1.2zM668.2 753.7h1.2v9.6h-1.2zM667.2 811h1.2v9.6h-1.2zM668.4 839.7h1.2v9.6h-1.2zM668.5 906.5h1.2v9.6h-1.2zM668.7 982.9h1.2v9.6h-1.2zM726.1 553.2h1.2v9.6h-1.2zM726 600.9h1.2v9.6h-1.2zM726 610.5h1.2v9.6h-1.2zM724.7 686.9h1.2v9.6h-1.2zM725.8 725.1h1.2v9.6h-1.2zM724.5 811h1.2v9.6h-1.2zM725.6 839.7h1.2v9.6h-1.2zM725.5 849.2h1.2v9.6h-1.2zM725.5 877.9h1.2v9.6h-1.2zM725.4 897h1.2v9.6h-1.2zM725.4 925.6h1.2v9.6h-1.2zM725.4 935.2h1.2v9.6h-1.2zM725.3 982.9h1.2v9.6h-1.2zM783.5 562.7h1.2v9.6h-1.2zM783.5 581.8h1.2v9.6h-1.2zM783.4 620h1.2v9.6h-1.2zM783.3 715.5h1.2v9.6h-1.2zM783.2 744.2h1.2v9.6h-1.2zM783.2 763.3h1.2v9.6h-1.2zM783.1 782.4h1.2v9.6h-1.2zM782.9 897h1.2v9.6h-1.2zM782.9 916.1h1.2v9.6h-1.2zM841.2 553.2h1.2v9.6h-1.2zM841.1 562.7h1.2v9.6h-1.2zM841 620h1.2v9.6h-1.2zM840.9 648.7h1.2v9.6h-1.2zM840.9 658.2h1.2v9.6h-1.2zM839.7 667.8h1.2v9.6h-1.2zM840.7 753.7h1.2v9.6h-1.2zM840.5 830.1h1.2v9.6h-1.2zM840.3 887.4h1.2v9.6h-1.2zM840.3 906.5h1.2v9.6h-1.2zM839 944.7h1.2v9.6h-1.2zM898.5 572.3h1.2v9.6h-1.2zM898.1 744.2h1.2v9.6h-1.2zM898.1 791.9h1.2v9.6h-1.2zM898 811h1.2v9.6h-1.2zM895.7 830.1h1.2v9.6h-1.2zM898 839.7h1.2v9.6h-1.2zM895.6 897h1.2v9.6h-1.2z" fill="#5fa"/>
<path d="M91.2 534.1h1.2v9.6h-1.2zM91.2 581.8h1.2v9.6h-1.2zM91.2 600.9h1.2v9.6h-1.2zM91.3 610.5h1.2v9.6h-1.2zM91.3 639.1h1.2v9.6h-1.2zM91.3 648.7h1.2v9.6h-1.2zM91.4 715.5h1.2v9.6h-1.2zM91.4 753.7h1.2v9.6h-1.2zM91.4 772.8h1.2v9.6h-1.2zM91.5 830.1h1.2v9.6h-1.2zM91.5 849.2h1.2v9.6h-1.2zM91.5 887.4h1.2v9.6h-1.2zM91.5 897h1.2v9.6h-1.2zM91.5 906.5h1.2v9.6h-1.2zM91.6 916.1h1.2v9.6h-1.2zM91.6 963.8h1.2v9.6h-1.2zM91.6 973.4h1.2v9.6h-1.2zM91.6 982.9h1.2v9.6h-1.2zM149.3 553.2h1.2v9.6h-1.2zM149.3 581.8h1.2v9.6h-1.2zM149.1 639.1h1.2v9.6h-1.2zM148.9 753.7h1.2v9.6h-1.2zM148.6 868.3h1.2v9.6h-1.2zM148.6 897h1.2v9.6h-1.2zM320.8 534.1h1.2v9.6h-1.2zM320.8 562.7h1.2v9.6h-1.2zM321 639.1h1.2v9.6h-1.2zM321 648.7h1.2v9.6h-1.2zM321.1 677.3h1.2v9.6h-1.2zM321.3 753.7h1.2v9.6h-1.2zM321.4 801.5h1.2v9.6h-1.2zM321.4 830.1h1.2v9.6h-1.2zM321.5 849.2h1.2v9.6h-1.2zM321.5 868.3h1.2v9.6h-1.2zM321.6 897h1.2v9.6h-1.2zM321.8 982.9h1.2v9.6h-1.2zM897.2 648.7h1.2v9.6h-1.2zM896.8 830.1h1.2v9.6h-1.2zM896.7 897h1.2v9.6h-1.2z" fill="#a80000"/>
<path d="M92.3 534.1h1.2v9.6h-1.2zM92.4 648.7h1.2v9.6h-1.2zM91.4 744.2h1.2v9.6h-1.2zM92.5 772.8h1.2v9.6h-1.2zM91.4 791.9h1.2v9.6h-1.2zM91.5 811h1.2v9.6h-1.2zM92.6 849.2h1.2v9.6h-1.2zM91.5 877.9h1.2v9.6h-1.2zM92.6 906.5h1.2v9.6h-1.2zM91.6 944.7h1.2v9.6h-1.2zM91.6 954.3h1.2v9.6h-1.2zM149.4 534.1h1.2v9.6h-1.2zM149.3 562.7h1.2v9.6h-1.2zM149.2 620h1.2v9.6h-1.2zM149.1 667.8h1.2v9.6h-1.2zM148.9 725.1h1.2v9.6h-1.2zM148.9 734.6h1.2v9.6h-1.2zM150 753.7h1.2v9.6h-1.2zM148.5 906.5h1.2v9.6h-1.2zM205.7 553.2h1.2v9.6h-1.2zM206.5 801.5h1.2v9.6h-1.2zM263.8 753.7h1.2v9.6h-1.2zM322 562.7h1.2v9.6h-1.2zM322.1 648.7h1.2v9.6h-1.2zM322.2 677.3h1.2v9.6h-1.2zM321.2 706h1.2v9.6h-1.2zM322.4 753.7h1.2v9.6h-1.2zM322.5 801.5h1.2v9.6h-1.2zM322.5 830.1h1.2v9.6h-1.2zM322.6 868.3h1.2v9.6h-1.2zM322.9 982.9h1.2v9.6h-1.2zM666.7 553.2h1.2v9.6h-1.2zM666.7 562.7h1.2v9.6h-1.2zM667 715.5h1.2v9.6h-1.2zM724.9 600.9h1.2v9.6h-1.2zM724.4 839.7h1.2v9.6h-1.2zM724.4 849.2h1.2v9.6h-1.2zM724.2 925.6h1.2v9.6h-1.2zM724.1 982.9h1.2v9.6h-1.2zM782.4 562.7h1.2v9.6h-1.2zM782.4 581.8h1.2v9.6h-1.2zM782.1 715.5h1.2v9.6h-1.2zM782.1 744.2h1.2v9.6h-1.2zM782 763.3h1.2v9.6h-1.2zM781.8 897h1.2v9.6h-1.2zM781.8 916.1h1.2v9.6h-1.2zM840 562.7h1.2v9.6h-1.2zM839.9 620h1.2v9.6h-1.2zM839.8 648.7h1.2v9.6h-1.2zM839.5 753.7h1.2v9.6h-1.2zM839.1 906.5h1.2v9.6h-1.2zM897.3 572.3h1.2v9.6h-1.2zM897 744.2h1.2v9.6h-1.2zM896.9 811h1.2v9.6h-1.2zM898 830.1h1.2v9.6h-1.2zM896.8 839.7h1.2v9.6h-1.2zM897.9 897h1.2v9.6h-1.2z" fill="#fa0"/>
<path d="M93.4 534.1h1.2v9.6h-1.2zM92.3 543.6h1.2v9.6h-1.2zM90.1 553.2h1.2v9.6h-1.2zM90.1 600.9h1.2v9.6h-1.2zM93.5 600.9h1.2v9.6h-1.2zM90.2 639.1h1.2v9.6h-1.2zM93.5 639.1h1.2v9.6h-1.2zM93.5 648.7h1.2v9.6h-1.2zM92.4 686.9h1.2v9.6h-1.2zM92.5 734.6h1.2v9.6h-1.2zM93.6 772.8h1.2v9.6h-1.2zM90.4 820.6h1.2v9.6h-1.2zM93.7 849.2h1.2v9.6h-1.2zM90.4 887.4h1.2v9.6h-1.2zM93.7 887.4h1.2v9.6h-1.2zM90.4 897h1.2v9.6h-1.2zM93.7 897h1.2v9.6h-1.2zM93.8 906.5h1.2v9.6h-1.2zM90.5 963.8h1.2v9.6h-1.2zM90.5 982.9h1.2v9.6h-1.2zM148.2 553.2h1.2v9.6h-1.2zM151.5 553.2h1.2v9.6h-1.2zM148.2 581.8h1.2v9.6h-1.2zM150.4 591.4h1.2v9.6h-1.2zM148 639.1h1.2v9.6h-1.2zM151.4 639.1h1.2v9.6h-1.2zM150.1 686.9h1.2v9.6h-1.2zM150 744.2h1.2v9.6h-1.2zM151.1 753.7h1.2v9.6h-1.2zM149.9 811h1.2v9.6h-1.2zM147.5 868.3h1.2v9.6h-1.2zM149.7 877.9h1.2v9.6h-1.2zM147.4 897h1.2v9.6h-1.2zM150.8 897h1.2v9.6h-1.2zM149.5 944.7h1.2v9.6h-1.2zM206.9 562.7h1.2v9.6h-1.2zM206.9 581.8h1.2v9.6h-1.2zM207 620h1.2v9.6h-1.2zM207.3 725.1h1.2v9.6h-1.2zM207.5 782.4h1.2v9.6h-1.2zM206.5 811h1.2v9.6h-1.2zM207.8 887.4h1.2v9.6h-1.2zM208 935.2h1.2v9.6h-1.2zM206.9 944.7h1.2v9.6h-1.2zM208 954.3h1.2v9.6h-1.2zM265.1 553.2h1.2v9.6h-1.2zM265.1 610.5h1.2v9.6h-1.2zM265 639.1h1.2v9.6h-1.2zM263.9 706h1.2v9.6h-1.2zM263.8 725.1h1.2v9.6h-1.2zM264.9 801.5h1.2v9.6h-1.2zM264.8 858.8h1.2v9.6h-1.2zM264.8 906.5h1.2v9.6h-1.2zM264.8 916.1h1.2v9.6h-1.2zM263.6 935.2h1.2v9.6h-1.2zM263.6 954.3h1.2v9.6h-1.2zM264.7 963.8h1.2v9.6h-1.2zM264.7 973.4h1.2v9.6h-1.2zM264.7 982.9h1.2v9.6h-1.2zM319.7 534.1h1.2v9.6h-1.2zM323 534.1h1.2v9.6h-1.2zM323.1 562.7h1.2v9.6h-1.2zM319.9 620h1.2v9.6h-1.2zM323.2 648.7h1.2v9.6h-1.2zM323.3 677.3h1.2v9.6h-1.2zM322.2 686.9h1.2v9.6h-1.2zM323.5 753.7h1.2v9.6h-1.2zM323.6 801.5h1.2v9.6h-1.2zM323.6 830.1h1.2v9.6h-1.2zM320.4 849.2h1.2v9.6h-1.2zM323.7 849.2h1.2v9.6h-1.2zM323.7 868.3h1.2v9.6h-1.2zM320.5 897h1.2v9.6h-1.2zM323.8 897h1.2v9.6h-1.2zM322.8 944.7h1.2v9.6h-1.2zM380.5 581.8h1.7v9.6h-1.7zM380.5 648.7h1.7v9.6h-1.7zM438 830.1h1.7v9.6h-1.7zM494.8 553.2h1.7v9.6h-1.7zM495 620h1.7v9.6h-1.7zM495.3 753.7h1.7v9.6h-1.7zM495.7 916.1h1.7v9.6h-1.7zM495.8 973.4h1.7v9.6h-1.7zM552.5 534.1h1.7v9.6h-1.7zM552.6 591.4h1.7v9.6h-1.7zM552.6 629.6h1.7v9.6h-1.7zM552.8 791.9h1.7v9.6h-1.7zM552.9 858.8h1.7v9.6h-1.7zM552.9 868.3h1.7v9.6h-1.7zM552.9 887.4h1.7v9.6h-1.7zM553 916.1h1.7v9.6h-1.7zM610.1 639.1h1.7v9.6h-1.7zM610.4 935.2h1.7v9.6h-1.7zM610.4 982.9h1.7v9.6h-1.7zM667.8 534.1h1.2v9.6h-1.2zM667.8 543.6h1.2v9.6h-1.2zM667.9 572.3h1.2v9.6h-1.2zM668 620h1.2v9.6h-1.2zM668 648.7h1.2v9.6h-1.2zM668 658.2h1.2v9.6h-1.2zM668.3 772.8h1.2v9.6h-1.2zM668.3 782.4h1.2v9.6h-1.2zM668.4 820.6h1.2v9.6h-1.2zM668.5 887.4h1.2v9.6h-1.2zM668.6 944.7h1.2v9.6h-1.2zM668.6 954.3h1.2v9.6h-1.2zM668.7 973.4h1.2v9.6h-1.2zM726 581.8h1.2v9.6h-1.2zM726 620h1.2v9.6h-1.2zM726 629.6h1.2v9.6h-1.2zM725.9 667.8h1.2v9.6h-1.2zM725.7 763.3h1.2v9.6h-1.2zM725.7 772.8h1.2v9.6h-1.2zM725.7 782.4h1.2v9.6h-1.2zM725.5 887.4h1.2v9.6h-1.2zM725.4 906.5h1.2v9.6h-1.2zM725.3 954.3h1.2v9.6h-1.2zM725.3 963.8h1.2v9.6h-1.2zM725.3 973.4h1.2v9.6h-1.2zM783.5 591.4h1.2v9.6h-1.2zM783.2 725.1h1.2v9.6h-1.2zM780.9 753.7h1.2v9.6h-1.2zM783.2 772.8h1.2v9.6h-1.2zM783.1 791.9h1.2v9.6h-1.2zM783.1 811h1.2v9.6h-1.2zM783.1 820.6h1.2v9.6h-1.2zM782.9 935.2h1.2v9.6h-1.2zM782.8 954.3h1.2v9.6h-1.2zM841 610.5h1.2v9.6h-1.2zM840.8 715.5h1.2v9.6h-1.2zM840.7 744.2h1.2v9.6h-1.2zM840.4 839.7h1.2v9.6h-1.2zM898.5 543.6h1.2v9.6h-1.2zM896.2 553.2h1.2v9.6h-1.2zM896.2 562.7h1.2v9.6h-1.2zM898.4 629.6h1.2v9.6h-1.2zM896 648.7h1.2v9.6h-1.2zM899.5 648.7h1.2v9.6h-1.2zM896 677.3h1.2v9.6h-1.2zM895.8 801.5h1.2v9.6h-1.2zM898 820.6h1.2v9.6h-1.2zM899.1 830.1h1.2v9.6h-1.2zM897.9 858.8h1.2v9.6h-1.2zM895.6 868.3h1.2v9.6h-1.2zM899 897h1.2v9.6h-1.2zM895.5 916.1h1.2v9.6h-1.2zM897.8 925.6h1.2v9.6h-1.2zM897.8 935.2h1.2v9.6h-1.2zM897.8 954.3h1.2v9.6h-1.2z" fill="#2bffd4"/>
<path d="M94.5 534.1h1.3v9.6h-1.3zM90.1 543.6h1.2v9.6h-1.2zM93.4 543.6h1.2v9.6h-1.2zM94.5 553.2h1.3v9.6h-1.3zM94.6 600.9h1.3v9.6h-1.3zM94.6 639.1h1.3v9.6h-1.3zM94.6 648.7h1.3v9.6h-1.3zM94.6 677.3h1.3v9.6h-1.3zM93.5 686.9h1.2v9.6h-1.2zM90.3 734.6h1.2v9.6h-1.2zM93.6 734.6h1.2v9.6h-1.2zM94.7 772.8h1.3v9.6h-1.3zM94.8 820.6h1.3v9.6h-1.3zM94.8 839.7h1.3v9.6h-1.3zM94.8 849.2h1.3v9.6h-1.3zM94.8 887.4h1.3v9.6h-1.3zM94.8 897h1.3v9.6h-1.3zM94.9 906.5h1.3v9.6h-1.3zM94.9 963.8h1.3v9.6h-1.3zM94.9 982.9h1.3v9.6h-1.3zM152.7 553.2h1.3v9.6h-1.3zM148.2 572.3h1.2v9.6h-1.2zM151.5 572.3h1.2v9.6h-1.2zM152.6 581.8h1.3v9.6h-1.3zM148.1 591.4h1.2v9.6h-1.2zM151.5 591.4h1.2v9.6h-1.2zM152.5 639.1h1.3v9.6h-1.3zM152.4 648.7h1.3v9.6h-1.3zM147.9 686.9h1.2v9.6h-1.2zM151.2 686.9h1.2v9.6h-1.2zM147.8 744.2h1.2v9.6h-1.2zM151.1 744.2h1.2v9.6h-1.2zM152.2 753.7h1.3v9.6h-1.3zM147.6 811h1.2v9.6h-1.2zM151 811h1.2v9.6h-1.2zM151.9 868.3h1.3v9.6h-1.3zM150.8 877.9h1.2v9.6h-1.2zM151.9 887.4h1.3v9.6h-1.3zM151.9 897h1.3v9.6h-1.3zM151.8 916.1h1.3v9.6h-1.3zM147.3 944.7h1.2v9.6h-1.2zM150.7 944.7h1.2v9.6h-1.2zM150.6 954.3h1.2v9.6h-1.2zM204.6 562.7h1.2v9.6h-1.2zM208 562.7h1.2v9.6h-1.2zM208 581.8h1.2v9.6h-1.2zM208.1 610.5h1.2v9.6h-1.2zM204.8 620h1.2v9.6h-1.2zM208.1 620h1.2v9.6h-1.2zM204.9 658.2h1.2v9.6h-1.2zM208.2 658.2h1.2v9.6h-1.2zM205 667.8h1.2v9.6h-1.2zM208.3 667.8h1.2v9.6h-1.2zM208.3 677.3h1.2v9.6h-1.2zM205.1 725.1h1.2v9.6h-1.2zM208.4 725.1h1.2v9.6h-1.2zM205.2 734.6h1.2v9.6h-1.2zM205.2 744.2h1.2v9.6h-1.2zM205.3 772.8h1.2v9.6h-1.2zM205.3 782.4h1.2v9.6h-1.2zM208.6 782.4h1.2v9.6h-1.2zM205.4 820.6h1.2v9.6h-1.2zM205.5 830.1h1.2v9.6h-1.2zM208.8 830.1h1.2v9.6h-1.2zM205.5 839.7h1.2v9.6h-1.2zM208.8 849.2h1.2v9.6h-1.2zM208.9 887.4h1.2v9.6h-1.2zM205.7 906.5h1.2v9.6h-1.2zM205.7 916.1h1.2v9.6h-1.2zM205.8 935.2h1.2v9.6h-1.2zM209.1 935.2h1.2v9.6h-1.2zM205.8 954.3h1.2v9.6h-1.2zM209.1 954.3h1.2v9.6h-1.2zM205.9 973.4h1.2v9.6h-1.2zM266.2 534.1h1.2v9.6h-1.2zM266.2 553.2h1.2v9.6h-1.2zM262.8 610.5h1.2v9.6h-1.2zM266.2 610.5h1.2v9.6h-1.2zM262.8 620h1.2v9.6h-1.2zM266.1 620h1.2v9.6h-1.2zM262.8 639.1h1.2v9.6h-1.2zM266.1 639.1h1.2v9.6h-1.2zM262.8 648.7h1.2v9.6h-1.2zM266.1 648.7h1.2v9.6h-1.2zM262.7 734.6h1.2v9.6h-1.2zM266 801.5h1.2v9.6h-1.2zM262.6 820.6h1.2v9.6h-1.2zM266 820.6h1.2v9.6h-1.2zM262.6 839.7h1.2v9.6h-1.2zM262.6 849.2h1.2v9.6h-1.2zM262.6 858.8h1.2v9.6h-1.2zM265.9 858.8h1.2v9.6h-1.2zM265.9 868.3h1.2v9.6h-1.2zM262.6 887.4h1.2v9.6h-1.2zM265.9 887.4h1.2v9.6h-1.2zM265.9 906.5h1.2v9.6h-1.2zM262.6 916.1h1.2v9.6h-1.2zM265.9 916.1h1.2v9.6h-1.2zM262.5 963.8h1.2v9.6h-1.2zM265.8 963.8h1.2v9.6h-1.2zM262.5 973.4h1.2v9.6h-1.2zM265.8 973.4h1.2v9.6h-1.2zM262.5 982.9h1.2v9.6h-1.2zM265.8 982.9h1.2v9.6h-1.2zM324.1 534.1h1.3v9.6h-1.3zM324.2 562.7h1.3v9.6h-1.3zM324.3 620h1.3v9.6h-1.3zM323.2 629.6h1.2v9.6h-1.2zM324.4 648.7h1.3v9.6h-1.3zM323.3 686.9h1.2v9.6h-1.2zM324.6 753.7h1.3v9.6h-1.3zM323.6 791.9h1.2v9.6h-1.2zM324.7 801.5h1.3v9.6h-1.3zM323.6 811h1.2v9.6h-1.2zM324.7 830.1h1.3v9.6h-1.3zM324.8 849.2h1.3v9.6h-1.3zM324.8 858.8h1.3v9.6h-1.3zM323.8 877.9h1.2v9.6h-1.2zM324.9 897h1.3v9.6h-1.3zM323.9 944.7h1.2v9.6h-1.2zM380.6 534.1h1.7v9.6h-1.7zM380.5 591.4h1.7v9.6h-1.7zM382.1 620h1.7v9.6h-1.7zM380.5 629.6h1.7v9.6h-1.7zM382 639.1h1.7v9.6h-1.7zM380.5 658.2h1.7v9.6h-1.7zM382 696.4h1.7v9.6h-1.7zM381.9 725.1h1.7v9.6h-1.7zM381.9 744.2h1.7v9.6h-1.7zM380.3 763.3h1.7v9.6h-1.7zM381.9 772.8h1.7v9.6h-1.7zM381.9 782.4h1.7v9.6h-1.7zM381.8 820.6h1.7v9.6h-1.7zM381.8 830.1h1.7v9.6h-1.7zM380.3 839.7h1.7v9.6h-1.7zM380.2 858.8h1.7v9.6h-1.7zM381.8 868.3h1.7v9.6h-1.7zM380.2 877.9h1.7v9.6h-1.7zM381.8 887.4h1.7v9.6h-1.7zM381.7 935.2h1.7v9.6h-1.7zM381.7 954.3h1.7v9.6h-1.7zM381.7 963.8h1.7v9.6h-1.7zM438.9 553.2h1.7v9.6h-1.7zM437.4 572.3h1.7v9.6h-1.7zM437.4 591.4h1.7v9.6h-1.7zM437.5 610.5h1.7v9.6h-1.7zM437.5 629.6h1.7v9.6h-1.7zM439.1 639.1h1.7v9.6h-1.7zM437.6 686.9h1.7v9.6h-1.7zM439.3 715.5h1.7v9.6h-1.7zM437.8 763.3h1.7v9.6h-1.7zM439.6 830.1h1.7v9.6h-1.7zM496.4 562.7h1.7v9.6h-1.7zM494.8 572.3h1.7v9.6h-1.7zM496.4 581.8h1.7v9.6h-1.7zM496.5 610.5h1.7v9.6h-1.7zM496.5 620h1.7v9.6h-1.7zM496.6 658.2h1.7v9.6h-1.7zM495.1 686.9h1.7v9.6h-1.7zM495.2 706h1.7v9.6h-1.7zM495.2 725.1h1.7v9.6h-1.7zM496.8 744.2h1.7v9.6h-1.7zM496.8 753.7h1.7v9.6h-1.7zM495.3 782.4h1.7v9.6h-1.7zM497 801.5h1.7v9.6h-1.7zM495.5 839.7h1.7v9.6h-1.7zM497.1 849.2h1.7v9.6h-1.7zM495.7 944.7h1.7v9.6h-1.7zM497.3 954.3h1.7v9.6h-1.7zM497.4 973.4h1.7v9.6h-1.7zM554.1 543.6h1.7v9.6h-1.7zM552.5 581.8h1.7v9.6h-1.7zM554.1 591.4h1.7v9.6h-1.7zM552.6 600.9h1.7v9.6h-1.7zM551 610.5h1.7v9.6h-1.7zM555.7 610.5h1.7v9.6h-1.7zM552.6 620h1.7v9.6h-1.7zM552.7 667.8h1.7v9.6h-1.7zM554.2 686.9h1.7v9.6h-1.7zM552.7 696.4h1.7v9.6h-1.7zM554.3 744.2h1.7v9.6h-1.7zM552.8 801.5h1.7v9.6h-1.7zM554.4 811h1.7v9.6h-1.7zM552.9 839.7h1.7v9.6h-1.7zM554.4 858.8h1.7v9.6h-1.7zM554.5 887.4h1.7v9.6h-1.7zM552.9 906.5h1.7v9.6h-1.7zM554.5 916.1h1.7v9.6h-1.7zM553 944.7h1.7v9.6h-1.7zM553 982.9h1.7v9.6h-1.7zM610 543.6h1.7v9.6h-1.7zM610.1 553.2h1.7v9.6h-1.7zM610.1 591.4h1.7v9.6h-1.7zM611.7 610.5h1.7v9.6h-1.7zM610.1 620h1.7v9.6h-1.7zM611.7 667.8h1.7v9.6h-1.7zM611.7 677.3h1.7v9.6h-1.7zM611.8 763.3h1.7v9.6h-1.7zM611.8 782.4h1.7v9.6h-1.7zM611.8 820.6h1.7v9.6h-1.7zM610.3 830.1h1.7v9.6h-1.7zM611.9 868.3h1.7v9.6h-1.7zM611.9 887.4h1.7v9.6h-1.7zM611.9 906.5h1.7v9.6h-1.7zM611.9 935.2h1.7v9.6h-1.7zM612 954.3h1.7v9.6h-1.7zM665.5 534.1h1.2v9.6h-1.2zM668.9 534.1h1.2v9.6h-1.2zM665.5 543.6h1.2v9.6h-1.2zM668.9 543.6h1.2v9.6h-1.2zM665.6 572.3h1.2v9.6h-1.2zM669 572.3h1.2v9.6h-1.2zM665.6 581.8h1.2v9.6h-1.2zM669 581.8h1.2v9.6h-1.2zM665.7 620h1.2v9.6h-1.2zM669.1 620h1.2v9.6h-1.2zM665.7 648.7h1.2v9.6h-1.2zM669.2 648.7h1.2v9.6h-1.2zM665.8 658.2h1.2v9.6h-1.2zM669.2 658.2h1.2v9.6h-1.2zM665.8 667.8h1.2v9.6h-1.2zM665.8 677.3h1.2v9.6h-1.2zM669.2 677.3h1.2v9.6h-1.2zM669.3 696.4h1.2v9.6h-1.2zM669.3 725.1h1.2v9.6h-1.2zM665.9 734.6h1.2v9.6h-1.2zM666 772.8h1.2v9.6h-1.2zM669.4 772.8h1.2v9.6h-1.2zM669.4 782.4h1.2v9.6h-1.2zM666 801.5h1.2v9.6h-1.2zM669.5 820.6h1.2v9.6h-1.2zM669.5 839.7h1.2v9.6h-1.2zM669.6 887.4h1.2v9.6h-1.2zM669.7 906.5h1.2v9.6h-1.2zM666.3 944.7h1.2v9.6h-1.2zM669.8 944.7h1.2v9.6h-1.2zM669.8 954.3h1.2v9.6h-1.2zM666.4 963.8h1.2v9.6h-1.2zM666.4 973.4h1.2v9.6h-1.2zM669.8 973.4h1.2v9.6h-1.2zM669.8 982.9h1.2v9.6h-1.2zM723.8 543.6h1.2v9.6h-1.2zM727.3 543.6h1.2v9.6h-1.2zM723.8 581.8h1.2v9.6h-1.2zM727.2 581.8h1.2v9.6h-1.2zM727.1 610.5h1.2v9.6h-1.2zM723.7 620h1.2v9.6h-1.2zM727.1 620h1.2v9.6h-1.2zM723.7 629.6h1.2v9.6h-1.2zM727.1 629.6h1.2v9.6h-1.2zM723.6 667.8h1.2v9.6h-1.2zM727 667.8h1.2v9.6h-1.2zM723.5 696.4h1.2v9.6h-1.2zM727 696.4h1.2v9.6h-1.2zM723.5 706h1.2v9.6h-1.2zM727 706h1.2v9.6h-1.2zM726.9 725.1h1.2v9.6h-1.2zM723.5 734.6h1.2v9.6h-1.2zM723.4 763.3h1.2v9.6h-1.2zM726.8 763.3h1.2v9.6h-1.2zM723.4 772.8h1.2v9.6h-1.2zM726.8 772.8h1.2v9.6h-1.2zM726.8 782.4h1.2v9.6h-1.2zM723.3 801.5h1.2v9.6h-1.2zM723.3 820.6h1.2v9.6h-1.2zM726.7 820.6h1.2v9.6h-1.2zM723.2 858.8h1.2v9.6h-1.2zM726.7 858.8h1.2v9.6h-1.2zM723.2 887.4h1.2v9.6h-1.2zM726.6 887.4h1.2v9.6h-1.2zM723.1 906.5h1.2v9.6h-1.2zM726.6 906.5h1.2v9.6h-1.2zM723.1 944.7h1.2v9.6h-1.2zM726.5 944.7h1.2v9.6h-1.2zM723.1 954.3h1.2v9.6h-1.2zM726.5 954.3h1.2v9.6h-1.2zM723 963.8h1.2v9.6h-1.2zM726.5 963.8h1.2v9.6h-1.2zM726.4 973.4h1.2v9.6h-1.2zM781.3 543.6h1.2v9.6h-1.2zM781.2 572.3h1.2v9.6h-1.2zM781.2 591.4h1.2v9.6h-1.2zM784.6 591.4h1.2v9.6h-1.2zM784.6 620h1.2v9.6h-1.2zM781.1 658.2h1.2v9.6h-1.2zM781.1 667.8h1.2v9.6h-1.2zM784.5 667.8h1.2v9.6h-1.2zM781 706h1.2v9.6h-1.2zM784.4 706h1.2v9.6h-1.2zM784.4 725.1h1.2v9.6h-1.2zM785.5 753.7h1.4v9.6h-1.4zM780.9 772.8h1.2v9.6h-1.2zM784.3 772.8h1.2v9.6h-1.2zM784.3 782.4h1.2v9.6h-1.2zM780.8 791.9h1.2v9.6h-1.2zM784.3 791.9h1.2v9.6h-1.2zM780.8 811h1.2v9.6h-1.2zM784.2 811h1.2v9.6h-1.2zM780.8 820.6h1.2v9.6h-1.2zM784.2 820.6h1.2v9.6h-1.2zM780.7 877.9h1.2v9.6h-1.2zM784.1 877.9h1.2v9.6h-1.2zM780.6 906.5h1.2v9.6h-1.2zM784 906.5h1.2v9.6h-1.2zM780.6 925.6h1.2v9.6h-1.2zM784 925.6h1.2v9.6h-1.2zM780.6 935.2h1.2v9.6h-1.2zM784 935.2h1.2v9.6h-1.2zM780.5 954.3h1.2v9.6h-1.2zM784 954.3h1.2v9.6h-1.2zM838.9 543.6h1.2v9.6h-1.2zM842.3 543.6h1.2v9.6h-1.2zM842.3 553.2h1.2v9.6h-1.2zM838.8 581.8h1.2v9.6h-1.2zM842.2 581.8h1.2v9.6h-1.2zM838.7 610.5h1.2v9.6h-1.2zM842.2 610.5h1.2v9.6h-1.2zM838.5 686.9h1.2v9.6h-1.2zM838.5 696.4h1.2v9.6h-1.2zM841.9 696.4h1.2v9.6h-1.2zM838.5 706h1.2v9.6h-1.2zM838.5 715.5h1.2v9.6h-1.2zM841.9 715.5h1.2v9.6h-1.2zM838.4 734.6h1.2v9.6h-1.2zM841.8 744.2h1.2v9.6h-1.2zM838.3 782.4h1.2v9.6h-1.2zM841.7 782.4h1.2v9.6h-1.2zM838.3 801.5h1.2v9.6h-1.2zM841.7 801.5h1.2v9.6h-1.2zM838.2 820.6h1.2v9.6h-1.2zM841.6 820.6h1.2v9.6h-1.2zM841.6 839.7h1.2v9.6h-1.2zM838.1 849.2h1.2v9.6h-1.2zM841.6 849.2h1.2v9.6h-1.2zM838 925.6h1.2v9.6h-1.2zM841.4 925.6h1.2v9.6h-1.2zM837.9 963.8h1.2v9.6h-1.2zM896.2 543.6h1.2v9.6h-1.2zM899.7 543.6h1.2v9.6h-1.2zM900.8 553.2h1.4v9.6h-1.4zM900.8 562.7h1.4v9.6h-1.4zM896.1 591.4h1.2v9.6h-1.2zM899.6 591.4h1.2v9.6h-1.2zM896.1 629.6h1.2v9.6h-1.2zM899.5 629.6h1.2v9.6h-1.2zM900.6 648.7h1.4v9.6h-1.4zM900.6 677.3h1.4v9.6h-1.4zM896 686.9h1.2v9.6h-1.2zM895.9 706h1.2v9.6h-1.2zM895.9 734.6h1.2v9.6h-1.2zM899.3 734.6h1.2v9.6h-1.2zM900.3 801.5h1.4v9.6h-1.4zM899.1 820.6h1.2v9.6h-1.2zM900.3 830.1h1.4v9.6h-1.4zM899.1 858.8h1.2v9.6h-1.2zM900.2 868.3h1.4v9.6h-1.4zM900.1 916.1h1.4v9.6h-1.4zM895.5 925.6h1.2v9.6h-1.2zM899 925.6h1.2v9.6h-1.2zM895.5 935.2h1.2v9.6h-1.2zM898.9 935.2h1.2v9.6h-1.2zM895.5 954.3h1.2v9.6h-1.2zM898.9 954.3h1.2v9.6h-1.2zM131.4 534.1h1.2v9.6h-1.2zM131.4 591.4h1.2v9.6h-1.2zM131.4 629.6h1.2v9.6h-1.2zM131.4 677.3h1.2v9.6h-1.2zM131.4 715.5h1.2v9.6h-1.2zM256.3 543.6h1.2v9.6h-1.2zM256.3 610.5h1.2v9.6h-1.2zM256.3 639.1h1.2v9.6h-1.2zM256.3 658.2h1.2v9.6h-1.2zM256.3 706h1.2v9.6h-1.2zM256.3 725.1h1.2v9.6h-1.2zM256.3 744.2h1.2v9.6h-1.2zM256.3 830.1h1.2v9.6h-1.2zM256.3 858.8h1.2v9.6h-1.2zM256.3 868.3h1.2v9.6h-1.2zM256.3 916.1h1.2v9.6h-1.2zM256.3 954.3h1.2v9.6h-1.2zM180 591.4h1.2v9.6h-1.2zM180 629.6h1.2v9.6h-1.2zM180 667.8h1.2v9.6h-1.2zM180 715.5h1.2v9.6h-1.2zM180 830.1h1.2v9.6h-1.2z" fill="#0080ff"/>
<path d="M95.8 534.1h1.9v9.6h-1.9zM94.5 543.6h1.3v9.6h-1.3zM95.8 581.8h1.9v9.6h-1.9zM95.8 600.9h1.9v9.6h-1.9zM95.9 610.5h1.9v9.6h-1.9zM95.9 639.1h1.9v9.6h-1.9zM95.9 648.7h1.9v9.6h-1.9zM94.6 686.9h1.3v9.6h-1.3zM96 715.5h1.9v9.6h-1.9zM94.7 734.6h1.3v9.6h-1.3zM94.7 744.2h1.3v9.6h-1.3zM96 753.7h1.9v9.6h-1.9zM96 772.8h1.9v9.6h-1.9zM94.7 791.9h1.3v9.6h-1.3zM94.8 811h1.3v9.6h-1.3zM96.1 849.2h1.9v9.6h-1.9zM94.8 858.8h1.3v9.6h-1.3zM94.8 877.9h1.3v9.6h-1.3zM96.1 887.4h1.9v9.6h-1.9zM96.1 897h1.9v9.6h-1.9zM96.1 906.5h1.9v9.6h-1.9zM96.2 916.1h1.9v9.6h-1.9zM94.9 944.7h1.3v9.6h-1.3zM94.9 954.3h1.3v9.6h-1.3zM96.2 963.8h1.9v9.6h-1.9zM96.2 973.4h1.9v9.6h-1.9zM96.2 982.9h1.9v9.6h-1.9zM152.7 534.1h1.3v9.6h-1.3zM152.7 543.6h1.3v9.6h-1.3zM153.9 553.2h1.9v9.6h-1.9zM152.6 562.7h1.3v9.6h-1.3zM152.6 572.3h1.3v9.6h-1.3zM153.9 581.8h1.9v9.6h-1.9zM152.6 591.4h1.3v9.6h-1.3zM152.5 620h1.3v9.6h-1.3zM153.7 639.1h1.9v9.6h-1.9zM152.4 667.8h1.3v9.6h-1.3zM152.3 686.9h1.3v9.6h-1.3zM152.3 706h1.3v9.6h-1.3zM152.3 725.1h1.3v9.6h-1.3zM152.2 734.6h1.3v9.6h-1.3zM152.2 744.2h1.3v9.6h-1.3zM153.5 753.7h1.9v9.6h-1.9zM152.2 763.3h1.3v9.6h-1.3zM152.1 772.8h1.3v9.6h-1.3zM152.1 811h1.3v9.6h-1.3zM153.2 868.3h1.9v9.6h-1.9zM151.9 877.9h1.3v9.6h-1.3zM153.2 897h1.9v9.6h-1.9zM151.8 906.5h1.3v9.6h-1.3zM151.8 944.7h1.3v9.6h-1.3zM151.7 954.3h1.3v9.6h-1.3zM209 534.1h1.3v9.6h-1.3zM207.9 543.6h1.2v9.6h-1.2zM209 553.2h1.3v9.6h-1.3zM209.1 562.7h1.3v9.6h-1.3zM208 572.3h1.2v9.6h-1.2zM209.1 581.8h1.3v9.6h-1.3zM209.2 610.5h1.3v9.6h-1.3zM209.2 620h1.3v9.6h-1.3zM209.4 677.3h1.3v9.6h-1.3zM209.5 715.5h1.3v9.6h-1.3zM209.6 725.1h1.3v9.6h-1.3zM209.7 782.4h1.3v9.6h-1.3zM209.8 801.5h1.3v9.6h-1.3zM205.4 811h1.2v9.6h-1.2zM208.7 811h1.2v9.6h-1.2zM209.9 830.1h1.3v9.6h-1.3zM209.9 849.2h1.3v9.6h-1.3zM205.6 877.9h1.2v9.6h-1.2zM208.9 877.9h1.2v9.6h-1.2zM210 887.4h1.3v9.6h-1.3zM210.2 935.2h1.3v9.6h-1.3zM205.8 944.7h1.2v9.6h-1.2zM209.1 944.7h1.2v9.6h-1.2zM210.2 954.3h1.3v9.6h-1.3zM210.3 982.9h1.3v9.6h-1.3zM267.3 534.1h1.3v9.6h-1.3zM267.3 553.2h1.3v9.6h-1.3zM266.2 572.3h1.2v9.6h-1.2zM267.3 610.5h1.3v9.6h-1.3zM267.3 620h1.3v9.6h-1.3zM267.2 639.1h1.3v9.6h-1.3zM267.2 648.7h1.3v9.6h-1.3zM262.8 706h1.2v9.6h-1.2zM266.1 706h1.2v9.6h-1.2zM267.2 715.5h1.3v9.6h-1.3zM262.7 725.1h1.2v9.6h-1.2zM266 725.1h1.2v9.6h-1.2zM267.1 753.7h1.3v9.6h-1.3zM266 772.8h1.2v9.6h-1.2zM262.7 791.9h1.2v9.6h-1.2zM266 791.9h1.2v9.6h-1.2zM267.1 801.5h1.3v9.6h-1.3zM267.1 830.1h1.3v9.6h-1.3zM267 858.8h1.3v9.6h-1.3zM267 868.3h1.3v9.6h-1.3zM265.9 877.9h1.2v9.6h-1.2zM267 906.5h1.3v9.6h-1.3zM267 916.1h1.3v9.6h-1.3zM262.5 935.2h1.2v9.6h-1.2zM265.9 935.2h1.2v9.6h-1.2zM262.5 954.3h1.2v9.6h-1.2zM265.8 954.3h1.2v9.6h-1.2zM266.9 963.8h1.3v9.6h-1.3zM266.9 973.4h1.3v9.6h-1.3zM266.9 982.9h1.3v9.6h-1.3zM325.4 534.1h1.9v9.6h-1.9zM324.1 543.6h1.3v9.6h-1.3zM325.4 562.7h1.9v9.6h-1.9zM324.2 591.4h1.3v9.6h-1.3zM325.6 620h1.9v9.6h-1.9zM324.3 629.6h1.3v9.6h-1.3zM325.6 639.1h1.9v9.6h-1.9zM325.6 648.7h1.9v9.6h-1.9zM325.7 677.3h1.9v9.6h-1.9zM324.4 686.9h1.3v9.6h-1.3zM324.5 706h1.3v9.6h-1.3zM324.5 725.1h1.3v9.6h-1.3zM325.9 753.7h1.9v9.6h-1.9zM324.6 772.8h1.3v9.6h-1.3zM324.7 791.9h1.3v9.6h-1.3zM326 801.5h1.9v9.6h-1.9zM324.7 811h1.3v9.6h-1.3zM326 830.1h1.9v9.6h-1.9zM326.1 849.2h1.9v9.6h-1.9zM326.1 868.3h1.9v9.6h-1.9zM324.9 877.9h1.3v9.6h-1.3zM326.2 897h1.9v9.6h-1.9zM325 944.7h1.3v9.6h-1.3zM326.4 982.9h1.9v9.6h-1.9zM382.1 534.1h1.7v9.6h-1.7zM379 581.8h1.7v9.6h-1.7zM383.6 581.8h1.7v9.6h-1.7zM382.1 591.4h1.7v9.6h-1.7zM378.9 620h1.7v9.6h-1.7zM383.6 620h1.7v9.6h-1.7zM382 629.6h1.7v9.6h-1.7zM378.9 639.1h1.7v9.6h-1.7zM378.9 648.7h1.7v9.6h-1.7zM383.6 648.7h1.7v9.6h-1.7zM382 658.2h1.7v9.6h-1.7zM378.9 696.4h1.7v9.6h-1.7zM380.4 706h1.7v9.6h-1.7zM378.8 725.1h1.7v9.6h-1.7zM378.8 744.2h1.7v9.6h-1.7zM383.5 744.2h1.7v9.6h-1.7zM381.9 763.3h1.7v9.6h-1.7zM378.8 772.8h1.7v9.6h-1.7zM378.8 782.4h1.7v9.6h-1.7zM383.4 782.4h1.7v9.6h-1.7zM380.3 811h1.7v9.6h-1.7zM378.7 820.6h1.7v9.6h-1.7zM383.4 820.6h1.7v9.6h-1.7zM378.7 830.1h1.7v9.6h-1.7zM383.4 830.1h1.7v9.6h-1.7zM381.8 839.7h1.7v9.6h-1.7zM381.8 858.8h1.7v9.6h-1.7zM378.7 868.3h1.7v9.6h-1.7zM383.4 868.3h1.7v9.6h-1.7zM381.8 877.9h1.7v9.6h-1.7zM378.7 887.4h1.7v9.6h-1.7zM383.3 887.4h1.7v9.6h-1.7zM378.6 897h1.7v9.6h-1.7zM383.3 897h1.7v9.6h-1.7zM383.3 916.1h1.7v9.6h-1.7zM380.2 925.6h1.7v9.6h-1.7zM378.6 935.2h1.7v9.6h-1.7zM378.6 954.3h1.7v9.6h-1.7zM378.6 963.8h1.7v9.6h-1.7zM383.3 963.8h1.7v9.6h-1.7zM381.7 973.4h1.7v9.6h-1.7zM380.1 982.9h1.7v9.6h-1.7zM435.8 553.2h1.7v9.6h-1.7zM438.9 562.7h1.7v9.6h-1.7zM438.9 572.3h1.7v9.6h-1.7zM439 591.4h1.7v9.6h-1.7zM437.4 600.9h1.7v9.6h-1.7zM439 610.5h1.7v9.6h-1.7zM437.5 620h1.7v9.6h-1.7zM439.1 629.6h1.7v9.6h-1.7zM436 639.1h1.7v9.6h-1.7zM440.7 639.1h1.7v9.6h-1.7zM437.6 667.8h1.7v9.6h-1.7zM439.2 686.9h1.7v9.6h-1.7zM436.2 715.5h1.7v9.6h-1.7zM439.3 734.6h1.7v9.6h-1.7zM439.3 744.2h1.7v9.6h-1.7zM439.4 753.7h1.7v9.6h-1.7zM439.4 763.3h1.7v9.6h-1.7zM437.9 791.9h1.7v9.6h-1.7zM436.4 830.1h1.7v9.6h-1.7zM441.1 830.1h1.7v9.6h-1.7zM438 839.7h1.7v9.6h-1.7zM438.1 858.8h1.7v9.6h-1.7zM439.7 887.4h1.7v9.6h-1.7zM438.2 897h1.7v9.6h-1.7zM438.2 916.1h1.7v9.6h-1.7zM438.3 973.4h1.7v9.6h-1.7zM493.2 553.2h1.7v9.6h-1.7zM497.9 553.2h1.7v9.6h-1.7zM493.3 562.7h1.7v9.6h-1.7zM497.9 562.7h1.7v9.6h-1.7zM496.4 572.3h1.7v9.6h-1.7zM493.3 581.8h1.7v9.6h-1.7zM494.9 591.4h1.7v9.6h-1.7zM494.9 600.9h1.7v9.6h-1.7zM493.4 610.5h1.7v9.6h-1.7zM493.4 620h1.7v9.6h-1.7zM498.1 620h1.7v9.6h-1.7zM495 639.1h1.7v9.6h-1.7zM493.5 658.2h1.7v9.6h-1.7zM498.2 658.2h1.7v9.6h-1.7zM496.7 686.9h1.7v9.6h-1.7zM496.7 706h1.7v9.6h-1.7zM496.8 725.1h1.7v9.6h-1.7zM495.2 734.6h1.7v9.6h-1.7zM493.7 744.2h1.7v9.6h-1.7zM493.7 753.7h1.7v9.6h-1.7zM498.4 753.7h1.7v9.6h-1.7zM495.3 772.8h1.7v9.6h-1.7zM496.9 782.4h1.7v9.6h-1.7zM493.8 801.5h1.7v9.6h-1.7zM498.5 801.5h1.7v9.6h-1.7zM497 820.6h1.7v9.6h-1.7zM495.5 830.1h1.7v9.6h-1.7zM497 839.7h1.7v9.6h-1.7zM494 849.2h1.7v9.6h-1.7zM495.5 858.8h1.7v9.6h-1.7zM495.6 887.4h1.7v9.6h-1.7zM498.7 897h1.7v9.6h-1.7zM494.1 916.1h1.7v9.6h-1.7zM498.8 916.1h1.7v9.6h-1.7zM497.3 944.7h1.7v9.6h-1.7zM494.2 954.3h1.7v9.6h-1.7zM495.8 963.8h1.7v9.6h-1.7zM494.3 973.4h1.7v9.6h-1.7zM498.9 973.4h1.7v9.6h-1.7zM550.9 534.1h1.7v9.6h-1.7zM555.6 534.1h1.7v9.6h-1.7zM550.9 543.6h1.7v9.6h-1.7zM555.6 543.6h1.7v9.6h-1.7zM551 553.2h1.7v9.6h-1.7zM555.6 553.2h1.7v9.6h-1.7zM554.1 562.7h1.7v9.6h-1.7zM554.1 572.3h1.7v9.6h-1.7zM554.1 581.8h1.7v9.6h-1.7zM551 591.4h1.7v9.6h-1.7zM555.7 591.4h1.7v9.6h-1.7zM554.1 600.9h1.7v9.6h-1.7zM554.2 620h1.7v9.6h-1.7zM551 629.6h1.7v9.6h-1.7zM555.7 629.6h1.7v9.6h-1.7zM555.8 658.2h1.7v9.6h-1.7zM554.2 667.8h1.7v9.6h-1.7zM551.1 686.9h1.7v9.6h-1.7zM554.2 696.4h1.7v9.6h-1.7zM552.7 734.6h1.7v9.6h-1.7zM551.2 744.2h1.7v9.6h-1.7zM555.9 744.2h1.7v9.6h-1.7zM554.3 772.8h1.7v9.6h-1.7zM551.2 791.9h1.7v9.6h-1.7zM555.9 791.9h1.7v9.6h-1.7zM554.4 801.5h1.7v9.6h-1.7zM551.3 811h1.7v9.6h-1.7zM555.9 811h1.7v9.6h-1.7zM554.4 839.7h1.7v9.6h-1.7zM551.3 849.2h1.7v9.6h-1.7zM556 849.2h1.7v9.6h-1.7zM551.3 858.8h1.7v9.6h-1.7zM556 858.8h1.7v9.6h-1.7zM551.3 868.3h1.7v9.6h-1.7zM556 868.3h1.7v9.6h-1.7zM552.9 877.9h1.7v9.6h-1.7zM551.4 887.4h1.7v9.6h-1.7zM556 887.4h1.7v9.6h-1.7zM554.5 906.5h1.7v9.6h-1.7zM551.4 916.1h1.7v9.6h-1.7zM556.1 916.1h1.7v9.6h-1.7zM554.5 944.7h1.7v9.6h-1.7zM554.6 973.4h1.7v9.6h-1.7zM554.6 982.9h1.7v9.6h-1.7zM613.2 534.1h1.7v9.6h-1.7zM611.6 543.6h1.7v9.6h-1.7zM611.6 553.2h1.7v9.6h-1.7zM611.6 562.7h1.7v9.6h-1.7zM613.2 581.8h1.7v9.6h-1.7zM611.6 591.4h1.7v9.6h-1.7zM608.5 610.5h1.7v9.6h-1.7zM613.2 610.5h1.7v9.6h-1.7zM611.7 620h1.7v9.6h-1.7zM608.6 639.1h1.7v9.6h-1.7zM613.2 639.1h1.7v9.6h-1.7zM610.1 658.2h1.7v9.6h-1.7zM608.6 667.8h1.7v9.6h-1.7zM613.3 667.8h1.7v9.6h-1.7zM608.6 677.3h1.7v9.6h-1.7zM610.2 744.2h1.7v9.6h-1.7zM608.7 763.3h1.7v9.6h-1.7zM613.4 763.3h1.7v9.6h-1.7zM608.7 782.4h1.7v9.6h-1.7zM613.4 782.4h1.7v9.6h-1.7zM610.3 801.5h1.7v9.6h-1.7zM608.7 820.6h1.7v9.6h-1.7zM613.4 820.6h1.7v9.6h-1.7zM611.9 830.1h1.7v9.6h-1.7zM611.9 849.2h1.7v9.6h-1.7zM610.3 858.8h1.7v9.6h-1.7zM608.8 868.3h1.7v9.6h-1.7zM613.4 868.3h1.7v9.6h-1.7zM610.3 877.9h1.7v9.6h-1.7zM608.8 887.4h1.7v9.6h-1.7zM608.8 906.5h1.7v9.6h-1.7zM613.5 906.5h1.7v9.6h-1.7zM610.4 925.6h1.7v9.6h-1.7zM608.8 935.2h1.7v9.6h-1.7zM613.5 935.2h1.7v9.6h-1.7zM612 944.7h1.7v9.6h-1.7zM608.8 954.3h1.7v9.6h-1.7zM608.9 982.9h1.7v9.6h-1.7zM613.5 982.9h1.7v9.6h-1.7zM670.1 534.1h1.4v9.6h-1.4zM670.1 543.6h1.4v9.6h-1.4zM670.1 553.2h1.4v9.6h-1.4zM670.1 562.7h1.4v9.6h-1.4zM670.1 572.3h1.4v9.6h-1.4zM670.2 620h1.4v9.6h-1.4zM670.3 648.7h1.4v9.6h-1.4zM670.3 658.2h1.4v9.6h-1.4zM670.4 696.4h1.4v9.6h-1.4zM670.4 715.5h1.4v9.6h-1.4zM670.5 725.1h1.4v9.6h-1.4zM670.5 753.7h1.4v9.6h-1.4zM670.5 772.8h1.4v9.6h-1.4zM670.6 782.4h1.4v9.6h-1.4zM669.5 811h1.2v9.6h-1.2zM670.6 820.6h1.4v9.6h-1.4zM670.7 839.7h1.4v9.6h-1.4zM670.7 849.2h1.4v9.6h-1.4zM670.8 887.4h1.4v9.6h-1.4zM670.8 906.5h1.4v9.6h-1.4zM670.9 944.7h1.4v9.6h-1.4zM670.9 954.3h1.4v9.6h-1.4zM671 973.4h1.4v9.6h-1.4zM671 982.9h1.4v9.6h-1.4zM728.4 553.2h1.4v9.6h-1.4zM728.4 562.7h1.4v9.6h-1.4zM728.3 581.8h1.4v9.6h-1.4zM728.3 600.9h1.4v9.6h-1.4zM728.3 610.5h1.4v9.6h-1.4zM728.3 620h1.4v9.6h-1.4zM728.2 629.6h1.4v9.6h-1.4zM728.2 648.7h1.4v9.6h-1.4zM728.2 667.8h1.4v9.6h-1.4zM727 686.9h1.2v9.6h-1.2zM728.1 696.4h1.4v9.6h-1.4zM728.1 725.1h1.4v9.6h-1.4zM728 763.3h1.4v9.6h-1.4zM728 772.8h1.4v9.6h-1.4zM727.9 782.4h1.4v9.6h-1.4zM726.7 811h1.2v9.6h-1.2zM727.8 839.7h1.4v9.6h-1.4zM727.8 849.2h1.4v9.6h-1.4zM727.8 858.8h1.4v9.6h-1.4zM727.8 877.9h1.4v9.6h-1.4zM727.7 887.4h1.4v9.6h-1.4zM727.7 897h1.4v9.6h-1.4zM727.7 906.5h1.4v9.6h-1.4zM727.7 925.6h1.4v9.6h-1.4zM727.7 935.2h1.4v9.6h-1.4zM727.6 944.7h1.4v9.6h-1.4zM727.6 954.3h1.4v9.6h-1.4zM727.6 963.8h1.4v9.6h-1.4zM727.6 973.4h1.4v9.6h-1.4zM727.6 982.9h1.4v9.6h-1.4zM785.8 562.7h1.4v9.6h-1.4zM785.8 581.8h1.4v9.6h-1.4zM785.8 591.4h1.4v9.6h-1.4zM785.7 600.9h1.4v9.6h-1.4zM785.7 610.5h1.4v9.6h-1.4zM785.7 620h1.4v9.6h-1.4zM785.6 667.8h1.4v9.6h-1.4zM785.6 696.4h1.4v9.6h-1.4zM785.6 706h1.4v9.6h-1.4zM785.5 715.5h1.4v9.6h-1.4zM785.5 725.1h1.4v9.6h-1.4zM785.5 744.2h1.4v9.6h-1.4zM785.5 763.3h1.4v9.6h-1.4zM785.4 772.8h1.4v9.6h-1.4zM785.4 782.4h1.4v9.6h-1.4zM785.4 791.9h1.4v9.6h-1.4zM785.4 811h1.4v9.6h-1.4zM785.3 820.6h1.4v9.6h-1.4zM785.2 877.9h1.4v9.6h-1.4zM785.2 897h1.4v9.6h-1.4zM785.2 916.1h1.4v9.6h-1.4zM785.1 935.2h1.4v9.6h-1.4zM785.1 954.3h1.4v9.6h-1.4zM785.1 963.8h1.4v9.6h-1.4zM785.1 973.4h1.4v9.6h-1.4zM785 982.9h1.4v9.6h-1.4zM843.5 543.6h1.4v9.6h-1.4zM843.4 553.2h1.4v9.6h-1.4zM843.4 562.7h1.4v9.6h-1.4zM843.4 581.8h1.4v9.6h-1.4zM843.3 610.5h1.4v9.6h-1.4zM843.3 620h1.4v9.6h-1.4zM843.2 648.7h1.4v9.6h-1.4zM843.2 658.2h1.4v9.6h-1.4zM843.1 677.3h1.4v9.6h-1.4zM843.1 696.4h1.4v9.6h-1.4zM843 715.5h1.4v9.6h-1.4zM843 744.2h1.4v9.6h-1.4zM842.9 753.7h1.4v9.6h-1.4zM842.9 782.4h1.4v9.6h-1.4zM842.8 801.5h1.4v9.6h-1.4zM842.8 820.6h1.4v9.6h-1.4zM842.8 830.1h1.4v9.6h-1.4zM842.7 839.7h1.4v9.6h-1.4zM842.6 887.4h1.4v9.6h-1.4zM842.6 906.5h1.4v9.6h-1.4zM842.5 925.6h1.4v9.6h-1.4zM841.3 944.7h1.2v9.6h-1.2zM842.4 982.9h1.4v9.6h-1.4zM900.8 534.1h1.4v9.6h-1.4zM900.8 543.6h1.4v9.6h-1.4zM902.1 553.2h1.9v9.6h-1.9zM902.1 562.7h1.9v9.6h-1.9zM900.7 572.3h1.4v9.6h-1.4zM900.7 591.4h1.4v9.6h-1.4zM900.6 629.6h1.4v9.6h-1.4zM901.9 648.7h1.9v9.6h-1.9zM900.4 734.6h1.4v9.6h-1.4zM900.4 744.2h1.4v9.6h-1.4zM900.4 782.4h1.4v9.6h-1.4zM900.3 791.9h1.4v9.6h-1.4zM900.3 811h1.4v9.6h-1.4zM900.3 820.6h1.4v9.6h-1.4zM901.6 830.1h1.9v9.6h-1.9zM900.2 839.7h1.4v9.6h-1.4zM900.2 858.8h1.4v9.6h-1.4zM901.5 868.3h1.9v9.6h-1.9zM901.5 897h1.9v9.6h-1.9zM900.1 925.6h1.4v9.6h-1.4zM900.1 935.2h1.4v9.6h-1.4zM900 954.3h1.4v9.6h-1.4zM900 982.9h1.4v9.6h-1.4zM131.4 543.6h1.2v9.6h-1.2zM131.4 600.9h1.2v9.6h-1.2zM131.4 620h1.2v9.6h-1.2zM131.4 648.7h1.2v9.6h-1.2zM131.4 839.7h1.2v9.6h-1.2zM131.4 897h1.2v9.6h-1.2zM131.4 944.7h1.2v9.6h-1.2zM131.4 954.3h1.2v9.6h-1.2zM131.4 973.4h1.2v9.6h-1.2zM135.4 534.1h1.2v9.6h-1.2zM135.4 782.4h1.2v9.6h-1.2zM135.4 791.9h1.2v9.6h-1.2zM135.4 820.6h1.2v9.6h-1.2zM135.4 858.8h1.2v9.6h-1.2zM135.4 868.3h1.2v9.6h-1.2zM135.4 897h1.2v9.6h-1.2zM135.4 906.5h1.2v9.6h-1.2zM135.4 916.1h1.2v9.6h-1.2zM135.4 982.9h1.2v9.6h-1.2zM256.3 562.7h1.2v9.6h-1.2zM256.3 620h1.2v9.6h-1.2zM256.3 772.8h1.2v9.6h-1.2zM256.3 849.2h1.2v9.6h-1.2zM373.1 562.7h1.2v9.6h-1.2zM373.1 600.9h1.2v9.6h-1.2zM373.1 629.6h1.2v9.6h-1.2zM373.1 696.4h1.2v9.6h-1.2zM373.1 706h1.2v9.6h-1.2zM373.1 868.3h1.2v9.6h-1.2zM373.1 887.4h1.2v9.6h-1.2zM373.1 944.7h1.2v9.6h-1.2zM373.1 963.8h1.2v9.6h-1.2zM496.2 534.1h1.2v9.6h-1.2zM496.2 543.6h1.2v9.6h-1.2zM496.2 648.7h1.2v9.6h-1.2zM496.2 677.3h1.2v9.6h-1.2zM496.2 696.4h1.2v9.6h-1.2zM496.2 715.5h1.2v9.6h-1.2zM496.2 725.1h1.2v9.6h-1.2zM496.2 734.6h1.2v9.6h-1.2zM496.2 782.4h1.2v9.6h-1.2zM496.2 820.6h1.2v9.6h-1.2zM496.2 858.8h1.2v9.6h-1.2zM496.2 877.9h1.2v9.6h-1.2zM496.2 887.4h1.2v9.6h-1.2zM496.2 906.5h1.2v9.6h-1.2zM496.2 944.7h1.2v9.6h-1.2zM496.2 973.4h1.2v9.6h-1.2zM496.2 982.9h1.2v9.6h-1.2zM556.7 543.6h1.2v9.6h-1.2zM556.7 591.4h1.2v9.6h-1.2zM556.7 610.5h1.2v9.6h-1.2zM556.7 744.2h1.2v9.6h-1.2zM556.7 772.8h1.2v9.6h-1.2zM556.7 830.1h1.2v9.6h-1.2zM556.7 858.8h1.2v9.6h-1.2zM556.7 887.4h1.2v9.6h-1.2zM556.7 897h1.2v9.6h-1.2zM657.5 543.6h1.2v9.6h-1.2zM657.5 629.6h1.2v9.6h-1.2zM657.5 658.2h1.2v9.6h-1.2zM657.5 677.3h1.2v9.6h-1.2zM657.5 696.4h1.2v9.6h-1.2zM657.5 715.5h1.2v9.6h-1.2zM657.5 772.8h1.2v9.6h-1.2zM657.5 801.5h1.2v9.6h-1.2zM657.5 811h1.2v9.6h-1.2zM657.5 820.6h1.2v9.6h-1.2zM657.5 830.1h1.2v9.6h-1.2zM657.5 839.7h1.2v9.6h-1.2zM657.5 868.3h1.2v9.6h-1.2zM657.5 906.5h1.2v9.6h-1.2zM657.5 935.2h1.2v9.6h-1.2zM657.5 963.8h1.2v9.6h-1.2zM788.5 562.7h1.2v9.6h-1.2zM788.5 581.8h1.2v9.6h-1.2zM788.5 591.4h1.2v9.6h-1.2zM788.5 658.2h1.2v9.6h-1.2zM788.5 706h1.2v9.6h-1.2zM788.5 725.1h1.2v9.6h-1.2zM788.5 753.7h1.2v9.6h-1.2zM788.5 916.1h1.2v9.6h-1.2zM788.5 935.2h1.2v9.6h-1.2z" fill="#002aff"/>
<path d="M91.2 543.6h1.2v9.6h-1.2zM92.3 553.2h1.2v9.6h-1.2zM92.4 677.3h1.2v9.6h-1.2zM91.4 734.6h1.2v9.6h-1.2zM92.6 820.6h1.2v9.6h-1.2zM92.6 839.7h1.2v9.6h-1.2zM150.2 648.7h1.2v9.6h-1.2zM149 686.9h1.2v9.6h-1.2zM148.9 744.2h1.2v9.6h-1.2zM148.7 811h1.2v9.6h-1.2zM149.7 887.4h1.2v9.6h-1.2zM149.6 916.1h1.2v9.6h-1.2zM148.4 944.7h1.2v9.6h-1.2zM205.8 562.7h1.2v9.6h-1.2zM205.9 620h1.2v9.6h-1.2zM206.4 782.4h1.2v9.6h-1.2zM206.9 935.2h1.2v9.6h-1.2zM206.9 954.3h1.2v9.6h-1.2zM263.9 610.5h1.2v9.6h-1.2zM263.9 639.1h1.2v9.6h-1.2zM263.7 858.8h1.2v9.6h-1.2zM263.7 916.1h1.2v9.6h-1.2zM263.6 973.4h1.2v9.6h-1.2zM263.6 982.9h1.2v9.6h-1.2zM322.1 620h1.2v9.6h-1.2zM322.6 858.8h1.2v9.6h-1.2zM666.6 534.1h1.2v9.6h-1.2zM666.7 543.6h1.2v9.6h-1.2zM666.7 572.3h1.2v9.6h-1.2zM666.8 620h1.2v9.6h-1.2zM666.9 648.7h1.2v9.6h-1.2zM666.9 658.2h1.2v9.6h-1.2zM667.1 772.8h1.2v9.6h-1.2zM667.5 944.7h1.2v9.6h-1.2zM667.5 973.4h1.2v9.6h-1.2zM724.9 581.8h1.2v9.6h-1.2zM724.8 620h1.2v9.6h-1.2zM724.8 629.6h1.2v9.6h-1.2zM724.7 667.8h1.2v9.6h-1.2zM724.6 763.3h1.2v9.6h-1.2zM724.5 772.8h1.2v9.6h-1.2zM724.3 906.5h1.2v9.6h-1.2zM724.2 954.3h1.2v9.6h-1.2zM724.2 963.8h1.2v9.6h-1.2zM782.3 591.4h1.2v9.6h-1.2zM783.2 753.7h1.2v9.6h-1.2zM782 772.8h1.2v9.6h-1.2zM782 791.9h1.2v9.6h-1.2zM781.9 811h1.2v9.6h-1.2zM781.9 820.6h1.2v9.6h-1.2zM781.7 935.2h1.2v9.6h-1.2zM781.7 954.3h1.2v9.6h-1.2zM839.9 610.5h1.2v9.6h-1.2zM839.6 715.5h1.2v9.6h-1.2zM839.3 839.7h1.2v9.6h-1.2zM898.5 553.2h1.2v9.6h-1.2zM898.5 562.7h1.2v9.6h-1.2zM897.2 629.6h1.2v9.6h-1.2zM898.3 677.3h1.2v9.6h-1.2zM898 801.5h1.2v9.6h-1.2zM897.9 868.3h1.2v9.6h-1.2zM897.8 916.1h1.2v9.6h-1.2zM896.7 925.6h1.2v9.6h-1.2zM896.7 935.2h1.2v9.6h-1.2zM896.6 954.3h1.2v9.6h-1.2z" fill="#ff0"/>
<path d="M95.8 543.6h1.9v9.6h-1.9zM95.9 686.9h1.9v9.6h-1.9zM96 734.6h1.9v9.6h-1.9zM96.2 954.3h1.9v9.6h-1.9zM153.9 572.3h1.9v9.6h-1.9zM153.9 591.4h1.9v9.6h-1.9zM153.6 686.9h1.9v9.6h-1.9zM153.6 706h1.9v9.6h-1.9zM153.5 744.2h1.9v9.6h-1.9zM153.3 811h1.9v9.6h-1.9zM153.2 877.9h1.9v9.6h-1.9zM153 944.7h1.9v9.6h-1.9zM153 954.3h1.9v9.6h-1.9zM210.3 534.1h1.9v9.6h-1.9zM210.4 562.7h1.9v9.6h-1.9zM210.4 581.8h1.9v9.6h-1.9zM210.5 610.5h1.9v9.6h-1.9zM210.5 620h1.9v9.6h-1.9zM210.6 658.2h1.9v9.6h-1.9zM210.7 667.8h1.9v9.6h-1.9zM210.7 677.3h1.9v9.6h-1.9zM210.8 715.5h1.9v9.6h-1.9zM210.8 725.1h1.9v9.6h-1.9zM210.9 734.6h1.9v9.6h-1.9zM211 782.4h1.9v9.6h-1.9zM211.1 820.6h1.9v9.6h-1.9zM211.2 830.1h1.9v9.6h-1.9zM211.2 849.2h1.9v9.6h-1.9zM211.3 887.4h1.9v9.6h-1.9zM211.4 906.5h1.9v9.6h-1.9zM211.5 935.2h1.9v9.6h-1.9zM210.2 944.7h1.3v9.6h-1.3zM211.5 954.3h1.9v9.6h-1.9zM211.6 982.9h1.9v9.6h-1.9zM268.6 534.1h1.9v9.6h-1.9zM268.6 553.2h1.9v9.6h-1.9zM268.5 610.5h1.9v9.6h-1.9zM268.5 620h1.9v9.6h-1.9zM268.5 639.1h1.9v9.6h-1.9zM268.5 648.7h1.9v9.6h-1.9zM268.5 715.5h1.9v9.6h-1.9zM268.4 801.5h1.9v9.6h-1.9zM268.4 820.6h1.9v9.6h-1.9zM268.3 839.7h1.9v9.6h-1.9zM268.3 858.8h1.9v9.6h-1.9zM268.3 868.3h1.9v9.6h-1.9zM268.3 887.4h1.9v9.6h-1.9zM268.3 906.5h1.9v9.6h-1.9zM268.3 916.1h1.9v9.6h-1.9zM268.2 963.8h1.9v9.6h-1.9zM268.2 973.4h1.9v9.6h-1.9zM268.2 982.9h1.9v9.6h-1.9zM325.6 629.6h1.9v9.6h-1.9zM325.7 686.9h1.9v9.6h-1.9zM326 791.9h1.9v9.6h-1.9zM326 811h1.9v9.6h-1.9zM326.1 877.9h1.9v9.6h-1.9zM326.3 944.7h1.9v9.6h-1.9zM379 534.1h1.7v9.6h-1.7zM383.7 534.1h1.7v9.6h-1.7zM385.2 581.8h1.9v9.6h-1.9zM382.1 600.9h1.7v9.6h-1.7zM385.2 620h1.9v9.6h-1.9zM378.9 629.6h1.7v9.6h-1.7zM383.6 629.6h1.7v9.6h-1.7zM385.2 639.1h1.9v9.6h-1.9zM378.9 658.2h1.7v9.6h-1.7zM383.6 658.2h1.7v9.6h-1.7zM385.1 696.4h1.9v9.6h-1.9zM382 706h1.7v9.6h-1.7zM385.1 725.1h1.9v9.6h-1.9zM385 744.2h1.9v9.6h-1.9zM383.5 763.3h1.7v9.6h-1.7zM385 772.8h1.9v9.6h-1.9zM385 782.4h1.9v9.6h-1.9zM381.9 791.9h1.7v9.6h-1.7zM378.7 801.5h1.7v9.6h-1.7zM385 820.6h1.9v9.6h-1.9zM385 830.1h1.9v9.6h-1.9zM378.7 858.8h1.7v9.6h-1.7zM383.4 858.8h1.7v9.6h-1.7zM384.9 868.3h1.9v9.6h-1.9zM384.9 887.4h1.9v9.6h-1.9zM384.9 935.2h1.9v9.6h-1.9zM381.7 944.7h1.7v9.6h-1.7zM384.8 954.3h1.9v9.6h-1.9zM384.8 963.8h1.9v9.6h-1.9zM438.9 543.6h1.7v9.6h-1.7zM442 553.2h1.9v9.6h-1.9zM435.8 572.3h1.7v9.6h-1.7zM440.5 572.3h1.7v9.6h-1.7zM435.9 591.4h1.7v9.6h-1.7zM440.5 591.4h1.7v9.6h-1.7zM440.6 610.5h1.7v9.6h-1.7zM442.2 639.1h1.9v9.6h-1.9zM440.8 686.9h1.7v9.6h-1.7zM436.1 706h1.7v9.6h-1.7zM440.8 706h1.7v9.6h-1.7zM442.4 715.5h1.9v9.6h-1.9zM436.2 734.6h1.7v9.6h-1.7zM440.9 734.6h1.7v9.6h-1.7zM436.3 763.3h1.7v9.6h-1.7zM441 763.3h1.7v9.6h-1.7zM442.7 830.1h1.9v9.6h-1.9zM439.6 839.7h1.7v9.6h-1.7zM439.7 897h1.7v9.6h-1.7zM439.8 925.6h1.7v9.6h-1.7zM436.7 944.7h1.7v9.6h-1.7zM439.9 973.4h1.7v9.6h-1.7zM443 982.9h1.9v9.6h-1.9zM499.5 562.7h1.9v9.6h-1.9zM498 572.3h1.7v9.6h-1.7zM499.5 581.8h1.9v9.6h-1.9zM499.6 610.5h1.9v9.6h-1.9zM499.6 620h1.9v9.6h-1.9zM499.7 658.2h1.9v9.6h-1.9zM493.6 686.9h1.7v9.6h-1.7zM498.2 686.9h1.7v9.6h-1.7zM493.6 706h1.7v9.6h-1.7zM498.3 706h1.7v9.6h-1.7zM496.8 734.6h1.7v9.6h-1.7zM499.9 744.2h1.9v9.6h-1.9zM500 753.7h1.9v9.6h-1.9zM493.8 782.4h1.7v9.6h-1.7zM498.5 782.4h1.7v9.6h-1.7zM500.1 801.5h1.9v9.6h-1.9zM498.6 839.7h1.7v9.6h-1.7zM500.2 849.2h1.9v9.6h-1.9zM494 868.3h1.7v9.6h-1.7zM498.9 944.7h1.7v9.6h-1.7zM500.4 954.3h1.9v9.6h-1.9zM500.5 973.4h1.9v9.6h-1.9zM557.2 543.6h1.9v9.6h-1.9zM551 562.7h1.7v9.6h-1.7zM555.6 562.7h1.7v9.6h-1.7zM551 572.3h1.7v9.6h-1.7zM555.7 572.3h1.7v9.6h-1.7zM551 581.8h1.7v9.6h-1.7zM555.7 581.8h1.7v9.6h-1.7zM557.2 591.4h1.9v9.6h-1.9zM551 600.9h1.7v9.6h-1.7zM555.7 600.9h1.7v9.6h-1.7zM559.1 610.5h2.6v9.6h-2.6zM551 620h1.7v9.6h-1.7zM555.7 620h1.7v9.6h-1.7zM551.1 667.8h1.7v9.6h-1.7zM555.8 667.8h1.7v9.6h-1.7zM551.1 677.3h1.7v9.6h-1.7zM555.8 677.3h1.7v9.6h-1.7zM557.4 686.9h1.9v9.6h-1.9zM554.3 706h1.7v9.6h-1.7zM557.4 744.2h1.9v9.6h-1.9zM551.2 772.8h1.7v9.6h-1.7zM555.9 772.8h1.7v9.6h-1.7zM555.9 801.5h1.7v9.6h-1.7zM557.5 811h1.9v9.6h-1.9zM551.3 820.6h1.7v9.6h-1.7zM551.3 839.7h1.7v9.6h-1.7zM556 839.7h1.7v9.6h-1.7zM557.6 858.8h1.9v9.6h-1.9zM557.6 887.4h1.9v9.6h-1.9zM551.4 906.5h1.7v9.6h-1.7zM556.1 906.5h1.7v9.6h-1.7zM557.6 916.1h1.9v9.6h-1.9zM551.4 925.6h1.7v9.6h-1.7zM557.7 935.2h1.9v9.6h-1.9zM551.4 944.7h1.7v9.6h-1.7zM556.1 944.7h1.7v9.6h-1.7zM551.5 973.4h1.7v9.6h-1.7zM556.1 973.4h1.7v9.6h-1.7zM551.5 982.9h1.7v9.6h-1.7zM556.2 982.9h1.7v9.6h-1.7zM613.2 553.2h1.7v9.6h-1.7zM614.8 610.5h1.9v9.6h-1.9zM613.2 620h1.7v9.6h-1.7zM614.8 667.8h1.9v9.6h-1.9zM614.8 677.3h1.9v9.6h-1.9zM608.6 696.4h1.7v9.6h-1.7zM613.3 696.4h1.7v9.6h-1.7zM608.6 725.1h1.7v9.6h-1.7zM614.9 734.6h1.9v9.6h-1.9zM614.9 763.3h1.9v9.6h-1.9zM614.9 782.4h1.9v9.6h-1.9zM615 820.6h1.9v9.6h-1.9zM613.4 830.1h1.7v9.6h-1.7zM608.7 849.2h1.7v9.6h-1.7zM613.4 849.2h1.7v9.6h-1.7zM615 868.3h1.9v9.6h-1.9zM615 887.4h1.9v9.6h-1.9zM615 906.5h1.9v9.6h-1.9zM615.1 935.2h1.9v9.6h-1.9zM615.1 954.3h1.9v9.6h-1.9zM615.1 963.8h1.9v9.6h-1.9zM671.4 534.1h1.9v9.6h-1.9zM671.4 543.6h1.9v9.6h-1.9zM671.5 572.3h1.9v9.6h-1.9zM671.5 581.8h1.9v9.6h-1.9zM671.6 620h1.9v9.6h-1.9zM671.6 648.7h1.9v9.6h-1.9zM671.6 658.2h1.9v9.6h-1.9zM671.7 677.3h1.9v9.6h-1.9zM671.7 696.4h1.9v9.6h-1.9zM671.8 725.1h1.9v9.6h-1.9zM671.8 734.6h1.9v9.6h-1.9zM671.8 753.7h1.9v9.6h-1.9zM671.9 772.8h1.9v9.6h-1.9zM671.9 782.4h1.9v9.6h-1.9zM672 820.6h1.9v9.6h-1.9zM672 839.7h1.9v9.6h-1.9zM672.1 887.4h1.9v9.6h-1.9zM672.2 906.5h1.9v9.6h-1.9zM672.2 944.7h1.9v9.6h-1.9zM672.3 954.3h1.9v9.6h-1.9zM672.3 973.4h1.9v9.6h-1.9zM672.3 982.9h1.9v9.6h-1.9zM729.7 543.6h1.9v9.6h-1.9zM729.7 553.2h1.9v9.6h-1.9zM729.7 581.8h1.9v9.6h-1.9zM729.6 610.5h1.9v9.6h-1.9zM729.6 620h1.9v9.6h-1.9zM729.6 629.6h1.9v9.6h-1.9zM729.5 667.8h1.9v9.6h-1.9zM729.4 696.4h1.9v9.6h-1.9zM729.4 706h1.9v9.6h-1.9zM729.4 725.1h1.9v9.6h-1.9zM729.3 763.3h1.9v9.6h-1.9zM729.3 772.8h1.9v9.6h-1.9zM729.3 782.4h1.9v9.6h-1.9zM729.2 801.5h1.9v9.6h-1.9zM729.2 820.6h1.9v9.6h-1.9zM729.1 858.8h1.9v9.6h-1.9zM729.1 877.9h1.9v9.6h-1.9zM729.1 887.4h1.9v9.6h-1.9zM729.1 897h1.9v9.6h-1.9zM729 906.5h1.9v9.6h-1.9zM729 925.6h1.9v9.6h-1.9zM729 935.2h1.9v9.6h-1.9zM729 944.7h1.9v9.6h-1.9zM728.9 954.3h1.9v9.6h-1.9zM728.9 963.8h1.9v9.6h-1.9zM728.9 973.4h1.9v9.6h-1.9zM787.1 562.7h1.9v9.6h-1.9zM787.1 581.8h1.9v9.6h-1.9zM787.1 591.4h1.9v9.6h-1.9zM787 620h1.9v9.6h-1.9zM787 658.2h1.9v9.6h-1.9zM787 667.8h1.9v9.6h-1.9zM786.9 706h1.9v9.6h-1.9zM786.9 725.1h1.9v9.6h-1.9zM786.8 772.8h1.9v9.6h-1.9zM786.7 782.4h1.9v9.6h-1.9zM786.7 791.9h1.9v9.6h-1.9zM786.7 811h1.9v9.6h-1.9zM786.7 820.6h1.9v9.6h-1.9zM786.6 877.9h1.9v9.6h-1.9zM786.5 906.5h1.9v9.6h-1.9zM786.5 925.6h1.9v9.6h-1.9zM786.5 935.2h1.9v9.6h-1.9zM786.4 954.3h1.9v9.6h-1.9zM844.8 543.6h1.9v9.6h-1.9zM844.8 553.2h1.9v9.6h-1.9zM844.7 581.8h1.9v9.6h-1.9zM844.6 610.5h1.9v9.6h-1.9zM844.5 658.2h1.9v9.6h-1.9zM844.4 696.4h1.9v9.6h-1.9zM844.4 715.5h1.9v9.6h-1.9zM844.3 744.2h1.9v9.6h-1.9zM844.2 782.4h1.9v9.6h-1.9zM844.2 801.5h1.9v9.6h-1.9zM844.1 820.6h1.9v9.6h-1.9zM844.1 830.1h1.9v9.6h-1.9zM844.1 839.7h1.9v9.6h-1.9zM844 849.2h1.9v9.6h-1.9zM843.9 887.4h1.9v9.6h-1.9zM843.8 925.6h1.9v9.6h-1.9zM902.1 543.6h1.9v9.6h-1.9zM902 591.4h1.9v9.6h-1.9zM902 629.6h1.9v9.6h-1.9zM901.8 734.6h1.9v9.6h-1.9zM901.8 744.2h1.9v9.6h-1.9zM901.7 791.9h1.9v9.6h-1.9zM901.6 820.6h1.9v9.6h-1.9zM901.5 858.8h1.9v9.6h-1.9zM901.4 925.6h1.9v9.6h-1.9zM901.4 935.2h1.9v9.6h-1.9zM901.4 954.3h1.9v9.6h-1.9zM556.7 620h1.2v9.6h-1.2zM556.7 686.9h1.2v9.6h-1.2zM556.7 782.4h1.2v9.6h-1.2zM788.5 639.1h1.2v9.6h-1.2z" fill="#0000d4"/>
<path d="M91.2 553.2h1.2v9.6h-1.2zM91.5 820.6h1.2v9.6h-1.2zM321 620h1.2v9.6h-1.2zM782 753.7h1.2v9.6h-1.2zM897.4 553.2h1.2v9.6h-1.2zM897.3 562.7h1.2v9.6h-1.2zM897.1 677.3h1.2v9.6h-1.2zM896.9 801.5h1.2v9.6h-1.2zM896.8 868.3h1.2v9.6h-1.2zM896.7 916.1h1.2v9.6h-1.2z" fill="#a00"/>
<path d="M93.4 553.2h1.2v9.6h-1.2zM90.2 677.3h1.2v9.6h-1.2zM93.5 677.3h1.2v9.6h-1.2zM90.2 706h1.2v9.6h-1.2zM90.3 763.3h1.2v9.6h-1.2zM93.6 763.3h1.2v9.6h-1.2zM90.3 782.4h1.2v9.6h-1.2zM93.6 782.4h1.2v9.6h-1.2zM93.7 820.6h1.2v9.6h-1.2zM90.4 839.7h1.2v9.6h-1.2zM93.7 839.7h1.2v9.6h-1.2zM90.4 868.3h1.2v9.6h-1.2zM93.7 868.3h1.2v9.6h-1.2zM93.8 963.8h1.2v9.6h-1.2zM93.8 982.9h1.2v9.6h-1.2zM150.4 572.3h1.2v9.6h-1.2zM151.5 581.8h1.2v9.6h-1.2zM148.1 610.5h1.2v9.6h-1.2zM151.4 610.5h1.2v9.6h-1.2zM148 648.7h1.2v9.6h-1.2zM151.3 648.7h1.2v9.6h-1.2zM148 677.3h1.2v9.6h-1.2zM147.7 782.4h1.2v9.6h-1.2zM147.6 839.7h1.2v9.6h-1.2zM150.9 839.7h1.2v9.6h-1.2zM147.6 849.2h1.2v9.6h-1.2zM150.9 849.2h1.2v9.6h-1.2zM150.8 868.3h1.2v9.6h-1.2zM147.5 887.4h1.2v9.6h-1.2zM150.8 887.4h1.2v9.6h-1.2zM147.4 916.1h1.2v9.6h-1.2zM150.7 916.1h1.2v9.6h-1.2zM147.4 935.2h1.2v9.6h-1.2zM207.1 629.6h1.2v9.6h-1.2zM207.1 658.2h1.2v9.6h-1.2zM207.2 667.8h1.2v9.6h-1.2zM207.4 734.6h1.2v9.6h-1.2zM207.4 744.2h1.2v9.6h-1.2zM207.5 772.8h1.2v9.6h-1.2zM207.5 791.9h1.2v9.6h-1.2zM207.6 820.6h1.2v9.6h-1.2zM207.7 830.1h1.2v9.6h-1.2zM207.7 839.7h1.2v9.6h-1.2zM207.9 906.5h1.2v9.6h-1.2zM207.9 916.1h1.2v9.6h-1.2zM208.1 963.8h1.2v9.6h-1.2zM208.1 973.4h1.2v9.6h-1.2zM265.1 600.9h1.2v9.6h-1.2zM265 620h1.2v9.6h-1.2zM265 648.7h1.2v9.6h-1.2zM264.9 734.6h1.2v9.6h-1.2zM264.9 820.6h1.2v9.6h-1.2zM264.8 839.7h1.2v9.6h-1.2zM264.8 849.2h1.2v9.6h-1.2zM264.8 887.4h1.2v9.6h-1.2zM264.8 897h1.2v9.6h-1.2zM319.7 553.2h1.2v9.6h-1.2zM319.8 581.8h1.2v9.6h-1.2zM319.9 610.5h1.2v9.6h-1.2zM323.2 610.5h1.2v9.6h-1.2zM323.2 620h1.2v9.6h-1.2zM320.1 715.5h1.2v9.6h-1.2zM323.4 715.5h1.2v9.6h-1.2zM320.2 782.4h1.2v9.6h-1.2zM320.3 820.6h1.2v9.6h-1.2zM320.4 858.8h1.2v9.6h-1.2zM323.7 858.8h1.2v9.6h-1.2zM320.5 906.5h1.2v9.6h-1.2zM323.8 906.5h1.2v9.6h-1.2zM320.5 925.6h1.2v9.6h-1.2zM323.9 925.6h1.2v9.6h-1.2zM320.6 935.2h1.2v9.6h-1.2zM323.9 935.2h1.2v9.6h-1.2zM320.6 954.3h1.2v9.6h-1.2zM380.5 620h1.7v9.6h-1.7zM380.5 639.1h1.7v9.6h-1.7zM380.4 696.4h1.7v9.6h-1.7zM380.4 744.2h1.7v9.6h-1.7zM380.3 772.8h1.7v9.6h-1.7zM380.3 782.4h1.7v9.6h-1.7zM380.3 820.6h1.7v9.6h-1.7zM380.3 830.1h1.7v9.6h-1.7zM380.2 868.3h1.7v9.6h-1.7zM380.2 887.4h1.7v9.6h-1.7zM380.2 954.3h1.7v9.6h-1.7zM380.1 963.8h1.7v9.6h-1.7zM437.3 553.2h1.7v9.6h-1.7zM437.5 639.1h1.7v9.6h-1.7zM437.7 715.5h1.7v9.6h-1.7zM494.8 562.7h1.7v9.6h-1.7zM495 658.2h1.7v9.6h-1.7zM495.4 801.5h1.7v9.6h-1.7zM495.5 849.2h1.7v9.6h-1.7zM495.8 954.3h1.7v9.6h-1.7zM552.5 543.6h1.7v9.6h-1.7zM554.1 610.5h1.7v9.6h-1.7zM554.2 648.7h1.7v9.6h-1.7zM552.7 744.2h1.7v9.6h-1.7zM552.8 811h1.7v9.6h-1.7zM610.1 610.5h1.7v9.6h-1.7zM610.2 667.8h1.7v9.6h-1.7zM610.2 677.3h1.7v9.6h-1.7zM610.2 763.3h1.7v9.6h-1.7zM610.3 782.4h1.7v9.6h-1.7zM610.3 820.6h1.7v9.6h-1.7zM610.3 868.3h1.7v9.6h-1.7zM610.4 906.5h1.7v9.6h-1.7zM610.4 954.3h1.7v9.6h-1.7zM667.9 581.8h1.2v9.6h-1.2zM665.7 639.1h1.2v9.6h-1.2zM668.1 667.8h1.2v9.6h-1.2zM668.1 677.3h1.2v9.6h-1.2zM668.2 734.6h1.2v9.6h-1.2zM668.2 744.2h1.2v9.6h-1.2zM668.3 791.9h1.2v9.6h-1.2zM668.3 801.5h1.2v9.6h-1.2zM666.1 830.1h1.2v9.6h-1.2zM668.5 877.9h1.2v9.6h-1.2zM668.7 963.8h1.2v9.6h-1.2zM726.1 543.6h1.2v9.6h-1.2zM723.7 639.1h1.2v9.6h-1.2zM725.8 696.4h1.2v9.6h-1.2zM725.8 706h1.2v9.6h-1.2zM725.8 734.6h1.2v9.6h-1.2zM723.4 753.7h1.2v9.6h-1.2zM725.6 801.5h1.2v9.6h-1.2zM725.6 820.6h1.2v9.6h-1.2zM723.3 830.1h1.2v9.6h-1.2zM725.5 858.8h1.2v9.6h-1.2zM725.4 944.7h1.2v9.6h-1.2zM783.6 543.6h1.2v9.6h-1.2zM781.3 553.2h1.2v9.6h-1.2zM784.7 553.2h1.2v9.6h-1.2zM783.5 572.3h1.2v9.6h-1.2zM783.4 629.6h1.2v9.6h-1.2zM783.4 658.2h1.2v9.6h-1.2zM783.3 667.8h1.2v9.6h-1.2zM783.3 706h1.2v9.6h-1.2zM784.3 753.7h1.2v9.6h-1.2zM780.7 849.2h1.2v9.6h-1.2zM783 877.9h1.2v9.6h-1.2zM782.9 906.5h1.2v9.6h-1.2zM782.9 925.6h1.2v9.6h-1.2zM841.2 543.6h1.2v9.6h-1.2zM841.1 581.8h1.2v9.6h-1.2zM840.8 686.9h1.2v9.6h-1.2zM840.8 696.4h1.2v9.6h-1.2zM840.8 706h1.2v9.6h-1.2zM840.7 734.6h1.2v9.6h-1.2zM840.6 782.4h1.2v9.6h-1.2zM840.5 801.5h1.2v9.6h-1.2zM840.5 820.6h1.2v9.6h-1.2zM840.4 849.2h1.2v9.6h-1.2zM840.4 858.8h1.2v9.6h-1.2zM838 897h1.2v9.6h-1.2zM840.2 925.6h1.2v9.6h-1.2zM840.2 935.2h1.2v9.6h-1.2zM840.1 963.8h1.2v9.6h-1.2zM899.6 553.2h1.2v9.6h-1.2zM899.6 562.7h1.2v9.6h-1.2zM896.2 581.8h1.2v9.6h-1.2zM898.4 591.4h1.2v9.6h-1.2zM896.1 620h1.2v9.6h-1.2zM899.5 620h1.2v9.6h-1.2zM896.1 639.1h1.2v9.6h-1.2zM899.4 677.3h1.2v9.6h-1.2zM898.3 686.9h1.2v9.6h-1.2zM898.2 706h1.2v9.6h-1.2zM898.2 734.6h1.2v9.6h-1.2zM899.2 801.5h1.2v9.6h-1.2zM895.7 849.2h1.2v9.6h-1.2zM899.1 868.3h1.2v9.6h-1.2zM895.6 906.5h1.2v9.6h-1.2zM899 916.1h1.2v9.6h-1.2zM895.5 963.8h1.2v9.6h-1.2zM180 562.7h1.2v9.6h-1.2zM180 572.3h1.2v9.6h-1.2zM180 706h1.2v9.6h-1.2zM180 839.7h1.2v9.6h-1.2zM180 849.2h1.2v9.6h-1.2zM180 982.9h1.2v9.6h-1.2z" fill="#0ff"/>
<path d="M95.8 553.2h1.9v9.6h-1.9zM95.8 562.7h1.9v9.6h-1.9zM95.8 572.3h1.9v9.6h-1.9zM95.8 591.4h1.9v9.6h-1.9zM95.9 620h1.9v9.6h-1.9zM95.9 629.6h1.9v9.6h-1.9zM95.9 658.2h1.9v9.6h-1.9zM95.9 667.8h1.9v9.6h-1.9zM95.9 677.3h1.9v9.6h-1.9zM95.9 696.4h1.9v9.6h-1.9zM95.9 706h1.9v9.6h-1.9zM96 725.1h1.9v9.6h-1.9zM96 744.2h1.9v9.6h-1.9zM96 763.3h1.9v9.6h-1.9zM96 782.4h1.9v9.6h-1.9zM96 791.9h1.9v9.6h-1.9zM96 801.5h1.9v9.6h-1.9zM96.1 811h1.9v9.6h-1.9zM96.1 820.6h1.9v9.6h-1.9zM96.1 839.7h1.9v9.6h-1.9zM96.1 858.8h1.9v9.6h-1.9zM96.1 868.3h1.9v9.6h-1.9zM96.1 877.9h1.9v9.6h-1.9zM96.2 925.6h1.9v9.6h-1.9zM96.2 935.2h1.9v9.6h-1.9zM96.2 944.7h1.9v9.6h-1.9zM154 534.1h1.9v9.6h-1.9zM154 543.6h1.9v9.6h-1.9zM153.9 562.7h1.9v9.6h-1.9zM153.8 600.9h1.9v9.6h-1.9zM153.8 610.5h1.9v9.6h-1.9zM153.8 620h1.9v9.6h-1.9zM153.8 629.6h1.9v9.6h-1.9zM153.7 648.7h1.9v9.6h-1.9zM153.7 658.2h1.9v9.6h-1.9zM153.7 667.8h1.9v9.6h-1.9zM153.7 677.3h1.9v9.6h-1.9zM153.6 696.4h1.9v9.6h-1.9zM153.6 715.5h1.9v9.6h-1.9zM153.5 725.1h1.9v9.6h-1.9zM153.5 734.6h1.9v9.6h-1.9zM153.5 763.3h1.9v9.6h-1.9zM153.4 772.8h1.9v9.6h-1.9zM153.4 782.4h1.9v9.6h-1.9zM153.4 791.9h1.9v9.6h-1.9zM153.4 801.5h1.9v9.6h-1.9zM153.3 820.6h1.9v9.6h-1.9zM153.3 830.1h1.9v9.6h-1.9zM153.3 839.7h1.9v9.6h-1.9zM153.3 849.2h1.9v9.6h-1.9zM153.2 858.8h1.9v9.6h-1.9zM153.2 887.4h1.9v9.6h-1.9zM153.1 906.5h1.9v9.6h-1.9zM153.1 916.1h1.9v9.6h-1.9zM153.1 925.6h1.9v9.6h-1.9zM153.1 935.2h1.9v9.6h-1.9zM153 963.8h1.9v9.6h-1.9zM153 973.4h1.9v9.6h-1.9zM153 982.9h1.9v9.6h-1.9zM209 543.6h1.3v9.6h-1.3zM210.3 553.2h1.9v9.6h-1.9zM209.1 572.3h1.3v9.6h-1.3zM209.2 591.4h1.3v9.6h-1.3zM209.2 600.9h1.3v9.6h-1.3zM209.3 629.6h1.3v9.6h-1.3zM210.6 639.1h1.9v9.6h-1.9zM210.6 648.7h1.9v9.6h-1.9zM209.4 658.2h1.3v9.6h-1.3zM209.4 667.8h1.3v9.6h-1.3zM209.4 686.9h1.3v9.6h-1.3zM209.5 696.4h1.3v9.6h-1.3zM209.5 706h1.3v9.6h-1.3zM209.6 734.6h1.3v9.6h-1.3zM209.6 744.2h1.3v9.6h-1.3zM210.9 753.7h1.9v9.6h-1.9zM209.7 763.3h1.3v9.6h-1.3zM209.7 772.8h1.3v9.6h-1.3zM209.8 791.9h1.3v9.6h-1.3zM211.1 801.5h1.9v9.6h-1.9zM209.8 811h1.3v9.6h-1.3zM209.8 820.6h1.3v9.6h-1.3zM209.9 839.7h1.3v9.6h-1.3zM210 858.8h1.3v9.6h-1.3zM210 868.3h1.3v9.6h-1.3zM210 877.9h1.3v9.6h-1.3zM211.4 897h1.9v9.6h-1.9zM210.1 906.5h1.3v9.6h-1.3zM210.1 916.1h1.3v9.6h-1.3zM210.2 925.6h1.3v9.6h-1.3zM210.3 963.8h1.3v9.6h-1.3zM210.3 973.4h1.3v9.6h-1.3zM267.3 543.6h1.3v9.6h-1.3zM267.3 562.7h1.3v9.6h-1.3zM267.3 572.3h1.3v9.6h-1.3zM267.3 581.8h1.3v9.6h-1.3zM267.3 591.4h1.3v9.6h-1.3zM267.3 600.9h1.3v9.6h-1.3zM267.2 629.6h1.3v9.6h-1.3zM267.2 658.2h1.3v9.6h-1.3zM267.2 667.8h1.3v9.6h-1.3zM267.2 677.3h1.3v9.6h-1.3zM267.2 686.9h1.3v9.6h-1.3zM267.2 696.4h1.3v9.6h-1.3zM267.2 706h1.3v9.6h-1.3zM267.2 725.1h1.3v9.6h-1.3zM267.1 734.6h1.3v9.6h-1.3zM267.1 744.2h1.3v9.6h-1.3zM268.4 753.7h1.9v9.6h-1.9zM267.1 763.3h1.3v9.6h-1.3zM267.1 772.8h1.3v9.6h-1.3zM267.1 782.4h1.3v9.6h-1.3zM267.1 791.9h1.3v9.6h-1.3zM267.1 811h1.3v9.6h-1.3zM267.1 820.6h1.3v9.6h-1.3zM268.3 830.1h1.9v9.6h-1.9zM267 839.7h1.3v9.6h-1.3zM267 849.2h1.3v9.6h-1.3zM267 877.9h1.3v9.6h-1.3zM267 887.4h1.3v9.6h-1.3zM267 897h1.3v9.6h-1.3zM267 925.6h1.3v9.6h-1.3zM267 935.2h1.3v9.6h-1.3zM266.9 944.7h1.3v9.6h-1.3zM266.9 954.3h1.3v9.6h-1.3zM325.4 543.6h1.9v9.6h-1.9zM325.4 553.2h1.9v9.6h-1.9zM325.5 572.3h1.9v9.6h-1.9zM325.5 581.8h1.9v9.6h-1.9zM325.5 591.4h1.9v9.6h-1.9zM325.5 600.9h1.9v9.6h-1.9zM325.6 610.5h1.9v9.6h-1.9zM325.7 658.2h1.9v9.6h-1.9zM325.7 667.8h1.9v9.6h-1.9zM325.7 696.4h1.9v9.6h-1.9zM325.8 706h1.9v9.6h-1.9zM325.8 715.5h1.9v9.6h-1.9zM325.8 725.1h1.9v9.6h-1.9zM325.8 734.6h1.9v9.6h-1.9zM325.8 744.2h1.9v9.6h-1.9zM325.9 763.3h1.9v9.6h-1.9zM325.9 772.8h1.9v9.6h-1.9zM325.9 782.4h1.9v9.6h-1.9zM326 820.6h1.9v9.6h-1.9zM326.1 839.7h1.9v9.6h-1.9zM326.1 858.8h1.9v9.6h-1.9zM326.2 887.4h1.9v9.6h-1.9zM326.2 906.5h1.9v9.6h-1.9zM326.2 916.1h1.9v9.6h-1.9zM326.2 925.6h1.9v9.6h-1.9zM326.3 935.2h1.9v9.6h-1.9zM326.3 954.3h1.9v9.6h-1.9zM326.3 963.8h1.9v9.6h-1.9zM326.4 973.4h1.9v9.6h-1.9zM379 543.6h1.7v9.6h-1.7zM383.7 543.6h1.7v9.6h-1.7zM379 553.2h1.7v9.6h-1.7zM383.7 553.2h1.7v9.6h-1.7zM382.1 562.7h1.7v9.6h-1.7zM379 572.3h1.7v9.6h-1.7zM383.7 572.3h1.7v9.6h-1.7zM379 591.4h1.7v9.6h-1.7zM383.6 591.4h1.7v9.6h-1.7zM380.5 600.9h1.7v9.6h-1.7zM382.1 610.5h1.7v9.6h-1.7zM383.6 639.1h1.7v9.6h-1.7zM385.1 648.7h1.9v9.6h-1.9zM378.9 667.8h1.7v9.6h-1.7zM383.6 667.8h1.7v9.6h-1.7zM378.9 677.3h1.7v9.6h-1.7zM383.6 677.3h1.7v9.6h-1.7zM378.9 686.9h1.7v9.6h-1.7zM383.5 686.9h1.7v9.6h-1.7zM383.5 696.4h1.7v9.6h-1.7zM382 715.5h1.7v9.6h-1.7zM383.5 725.1h1.7v9.6h-1.7zM378.8 734.6h1.7v9.6h-1.7zM383.5 734.6h1.7v9.6h-1.7zM378.8 753.7h1.7v9.6h-1.7zM383.5 753.7h1.7v9.6h-1.7zM378.8 763.3h1.7v9.6h-1.7zM383.5 772.8h1.7v9.6h-1.7zM380.3 791.9h1.7v9.6h-1.7zM381.9 801.5h1.7v9.6h-1.7zM381.9 811h1.7v9.6h-1.7zM378.7 839.7h1.7v9.6h-1.7zM383.4 839.7h1.7v9.6h-1.7zM378.7 849.2h1.7v9.6h-1.7zM383.4 849.2h1.7v9.6h-1.7zM378.7 877.9h1.7v9.6h-1.7zM383.3 877.9h1.7v9.6h-1.7zM384.9 897h1.9v9.6h-1.9zM378.6 906.5h1.7v9.6h-1.7zM383.3 906.5h1.7v9.6h-1.7zM384.9 916.1h1.9v9.6h-1.9zM381.7 925.6h1.7v9.6h-1.7zM383.3 935.2h1.7v9.6h-1.7zM380.2 944.7h1.7v9.6h-1.7zM383.3 954.3h1.7v9.6h-1.7zM378.6 973.4h1.7v9.6h-1.7zM383.3 973.4h1.7v9.6h-1.7zM381.7 982.9h1.7v9.6h-1.7zM435.7 534.1h1.7v9.6h-1.7zM440.4 534.1h1.7v9.6h-1.7zM437.3 543.6h1.7v9.6h-1.7zM440.4 553.2h1.7v9.6h-1.7zM435.8 562.7h1.7v9.6h-1.7zM440.5 562.7h1.7v9.6h-1.7zM435.8 581.8h1.7v9.6h-1.7zM440.5 581.8h1.7v9.6h-1.7zM439 600.9h1.7v9.6h-1.7zM435.9 610.5h1.7v9.6h-1.7zM439 620h1.7v9.6h-1.7zM436 629.6h1.7v9.6h-1.7zM440.6 629.6h1.7v9.6h-1.7zM439.1 648.7h1.7v9.6h-1.7zM436 658.2h1.7v9.6h-1.7zM440.7 658.2h1.7v9.6h-1.7zM439.2 667.8h1.7v9.6h-1.7zM439.2 677.3h1.7v9.6h-1.7zM436.1 686.9h1.7v9.6h-1.7zM436.1 696.4h1.7v9.6h-1.7zM440.8 696.4h1.7v9.6h-1.7zM439.3 706h1.7v9.6h-1.7zM440.8 715.5h1.7v9.6h-1.7zM436.2 725.1h1.7v9.6h-1.7zM440.9 725.1h1.7v9.6h-1.7zM436.2 744.2h1.7v9.6h-1.7zM440.9 744.2h1.7v9.6h-1.7zM436.2 753.7h1.7v9.6h-1.7zM440.9 753.7h1.7v9.6h-1.7zM436.3 772.8h1.7v9.6h-1.7zM441 772.8h1.7v9.6h-1.7zM436.3 782.4h1.7v9.6h-1.7zM441 782.4h1.7v9.6h-1.7zM439.5 791.9h1.7v9.6h-1.7zM436.4 801.5h1.7v9.6h-1.7zM441 801.5h1.7v9.6h-1.7zM436.4 811h1.7v9.6h-1.7zM441.1 811h1.7v9.6h-1.7zM436.4 820.6h1.7v9.6h-1.7zM441.1 820.6h1.7v9.6h-1.7zM436.5 849.2h1.7v9.6h-1.7zM441.2 849.2h1.7v9.6h-1.7zM439.6 858.8h1.7v9.6h-1.7zM436.5 868.3h1.7v9.6h-1.7zM441.2 868.3h1.7v9.6h-1.7zM436.5 877.9h1.7v9.6h-1.7zM441.2 877.9h1.7v9.6h-1.7zM436.6 887.4h1.7v9.6h-1.7zM441.2 887.4h1.7v9.6h-1.7zM436.6 906.5h1.7v9.6h-1.7zM441.3 906.5h1.7v9.6h-1.7zM439.8 916.1h1.7v9.6h-1.7zM438.2 925.6h1.7v9.6h-1.7zM436.7 935.2h1.7v9.6h-1.7zM441.4 935.2h1.7v9.6h-1.7zM439.8 944.7h1.7v9.6h-1.7zM438.3 954.3h1.7v9.6h-1.7zM436.8 963.8h1.7v9.6h-1.7zM441.4 963.8h1.7v9.6h-1.7zM436.8 982.9h1.7v9.6h-1.7zM441.5 982.9h1.7v9.6h-1.7zM496.3 534.1h1.7v9.6h-1.7zM493.2 543.6h1.7v9.6h-1.7zM497.9 543.6h1.7v9.6h-1.7zM499.5 553.2h1.9v9.6h-1.9zM493.3 572.3h1.7v9.6h-1.7zM498 581.8h1.7v9.6h-1.7zM496.4 591.4h1.7v9.6h-1.7zM496.5 600.9h1.7v9.6h-1.7zM498 610.5h1.7v9.6h-1.7zM493.4 629.6h1.7v9.6h-1.7zM498.1 629.6h1.7v9.6h-1.7zM496.6 639.1h1.7v9.6h-1.7zM493.5 648.7h1.7v9.6h-1.7zM498.1 648.7h1.7v9.6h-1.7zM493.5 667.8h1.7v9.6h-1.7zM498.2 667.8h1.7v9.6h-1.7zM493.5 677.3h1.7v9.6h-1.7zM498.2 677.3h1.7v9.6h-1.7zM493.6 696.4h1.7v9.6h-1.7zM498.3 696.4h1.7v9.6h-1.7zM496.7 715.5h1.7v9.6h-1.7zM493.6 725.1h1.7v9.6h-1.7zM498.3 725.1h1.7v9.6h-1.7zM498.4 744.2h1.7v9.6h-1.7zM493.7 763.3h1.7v9.6h-1.7zM498.4 763.3h1.7v9.6h-1.7zM496.9 772.8h1.7v9.6h-1.7zM493.8 791.9h1.7v9.6h-1.7zM498.5 791.9h1.7v9.6h-1.7zM493.9 811h1.7v9.6h-1.7zM498.5 811h1.7v9.6h-1.7zM493.9 820.6h1.7v9.6h-1.7zM498.6 820.6h1.7v9.6h-1.7zM497 830.1h1.7v9.6h-1.7zM493.9 839.7h1.7v9.6h-1.7zM498.6 849.2h1.7v9.6h-1.7zM497.1 858.8h1.7v9.6h-1.7zM497.1 868.3h1.7v9.6h-1.7zM494 877.9h1.7v9.6h-1.7zM498.7 877.9h1.7v9.6h-1.7zM497.2 887.4h1.7v9.6h-1.7zM500.3 897h1.9v9.6h-1.9zM494.1 906.5h1.7v9.6h-1.7zM498.8 906.5h1.7v9.6h-1.7zM500.4 916.1h1.9v9.6h-1.9zM494.1 925.6h1.7v9.6h-1.7zM498.8 925.6h1.7v9.6h-1.7zM494.2 935.2h1.7v9.6h-1.7zM498.8 935.2h1.7v9.6h-1.7zM494.2 944.7h1.7v9.6h-1.7zM498.9 954.3h1.7v9.6h-1.7zM497.3 963.8h1.7v9.6h-1.7zM494.3 982.9h1.7v9.6h-1.7zM499 982.9h1.7v9.6h-1.7zM557.2 534.1h1.9v9.6h-1.9zM557.2 553.2h1.9v9.6h-1.9zM557.3 610.5h1.9v9.6h-1.9zM557.3 629.6h1.9v9.6h-1.9zM557.3 639.1h1.9v9.6h-1.9zM557.3 648.7h1.9v9.6h-1.9zM557.3 658.2h1.9v9.6h-1.9zM554.2 677.3h1.7v9.6h-1.7zM555.8 686.9h1.7v9.6h-1.7zM551.1 696.4h1.7v9.6h-1.7zM555.8 696.4h1.7v9.6h-1.7zM552.7 706h1.7v9.6h-1.7zM551.1 715.5h1.7v9.6h-1.7zM555.8 715.5h1.7v9.6h-1.7zM554.3 725.1h1.7v9.6h-1.7zM554.3 734.6h1.7v9.6h-1.7zM551.2 753.7h1.7v9.6h-1.7zM555.9 753.7h1.7v9.6h-1.7zM551.2 763.3h1.7v9.6h-1.7zM555.9 763.3h1.7v9.6h-1.7zM551.2 782.4h1.7v9.6h-1.7zM555.9 782.4h1.7v9.6h-1.7zM557.5 791.9h1.9v9.6h-1.9zM551.3 801.5h1.7v9.6h-1.7zM554.4 820.6h1.7v9.6h-1.7zM557.5 830.1h1.9v9.6h-1.9zM557.5 849.2h1.9v9.6h-1.9zM557.6 868.3h1.9v9.6h-1.9zM554.5 877.9h1.7v9.6h-1.7zM557.6 897h1.9v9.6h-1.9zM554.5 925.6h1.7v9.6h-1.7zM551.4 935.2h1.7v9.6h-1.7zM556.1 935.2h1.7v9.6h-1.7zM554.6 954.3h1.7v9.6h-1.7zM557.7 963.8h1.9v9.6h-1.9zM614.7 534.1h1.9v9.6h-1.9zM608.5 543.6h1.7v9.6h-1.7zM613.2 543.6h1.7v9.6h-1.7zM608.5 553.2h1.7v9.6h-1.7zM608.5 562.7h1.7v9.6h-1.7zM613.2 562.7h1.7v9.6h-1.7zM608.5 572.3h1.7v9.6h-1.7zM613.2 572.3h1.7v9.6h-1.7zM614.8 581.8h1.9v9.6h-1.9zM608.5 591.4h1.7v9.6h-1.7zM613.2 591.4h1.7v9.6h-1.7zM608.5 600.9h1.7v9.6h-1.7zM613.2 600.9h1.7v9.6h-1.7zM608.6 620h1.7v9.6h-1.7zM608.6 629.6h1.7v9.6h-1.7zM613.2 629.6h1.7v9.6h-1.7zM614.8 639.1h1.9v9.6h-1.9zM614.8 648.7h1.9v9.6h-1.9zM611.7 658.2h1.7v9.6h-1.7zM613.3 677.3h1.7v9.6h-1.7zM608.6 686.9h1.7v9.6h-1.7zM613.3 686.9h1.7v9.6h-1.7zM611.7 696.4h1.7v9.6h-1.7zM608.6 706h1.7v9.6h-1.7zM613.3 706h1.7v9.6h-1.7zM614.9 715.5h1.9v9.6h-1.9zM611.8 725.1h1.7v9.6h-1.7zM608.6 734.6h1.7v9.6h-1.7zM613.3 734.6h1.7v9.6h-1.7zM611.8 744.2h1.7v9.6h-1.7zM614.9 753.7h1.9v9.6h-1.9zM608.7 772.8h1.7v9.6h-1.7zM613.4 772.8h1.7v9.6h-1.7zM608.7 791.9h1.7v9.6h-1.7zM613.4 791.9h1.7v9.6h-1.7zM611.8 801.5h1.7v9.6h-1.7zM611.8 811h1.7v9.6h-1.7zM608.7 830.1h1.7v9.6h-1.7zM611.9 839.7h1.7v9.6h-1.7zM611.9 858.8h1.7v9.6h-1.7zM611.9 877.9h1.7v9.6h-1.7zM613.5 887.4h1.7v9.6h-1.7zM615 897h1.9v9.6h-1.9zM615 916.1h1.9v9.6h-1.9zM611.9 925.6h1.7v9.6h-1.7zM608.8 944.7h1.7v9.6h-1.7zM613.5 944.7h1.7v9.6h-1.7zM613.5 954.3h1.7v9.6h-1.7zM608.8 963.8h1.7v9.6h-1.7zM613.5 963.8h1.7v9.6h-1.7zM615.1 973.4h1.9v9.6h-1.9zM615.1 982.9h1.9v9.6h-1.9zM671.4 553.2h1.9v9.6h-1.9zM671.4 562.7h1.9v9.6h-1.9zM670.2 581.8h1.4v9.6h-1.4zM670.2 591.4h1.4v9.6h-1.4zM670.2 600.9h1.4v9.6h-1.4zM671.5 610.5h1.9v9.6h-1.9zM670.3 629.6h1.4v9.6h-1.4zM671.6 639.1h1.9v9.6h-1.9zM670.3 667.8h1.4v9.6h-1.4zM670.4 677.3h1.4v9.6h-1.4zM670.4 686.9h1.4v9.6h-1.4zM670.4 706h1.4v9.6h-1.4zM671.8 715.5h1.9v9.6h-1.9zM670.5 734.6h1.4v9.6h-1.4zM670.5 744.2h1.4v9.6h-1.4zM670.5 763.3h1.4v9.6h-1.4zM670.6 791.9h1.4v9.6h-1.4zM670.6 801.5h1.4v9.6h-1.4zM670.6 811h1.4v9.6h-1.4zM672 830.1h1.9v9.6h-1.9zM672 849.2h1.9v9.6h-1.9zM670.7 858.8h1.4v9.6h-1.4zM672.1 868.3h1.9v9.6h-1.9zM670.8 877.9h1.4v9.6h-1.4zM672.1 897h1.9v9.6h-1.9zM672.2 916.1h1.9v9.6h-1.9zM670.9 925.6h1.4v9.6h-1.4zM670.9 935.2h1.4v9.6h-1.4zM670.9 963.8h1.4v9.6h-1.4zM729.8 534.1h1.9v9.6h-1.9zM728.4 543.6h1.4v9.6h-1.4zM729.7 562.7h1.9v9.6h-1.9zM728.3 572.3h1.4v9.6h-1.4zM728.3 591.4h1.4v9.6h-1.4zM729.6 600.9h1.9v9.6h-1.9zM729.5 639.1h1.9v9.6h-1.9zM729.5 648.7h1.9v9.6h-1.9zM728.2 658.2h1.4v9.6h-1.4zM729.5 677.3h1.9v9.6h-1.9zM728.1 686.9h1.4v9.6h-1.4zM728.1 706h1.4v9.6h-1.4zM729.4 715.5h1.9v9.6h-1.9zM728 734.6h1.4v9.6h-1.4zM728 744.2h1.4v9.6h-1.4zM729.3 753.7h1.9v9.6h-1.9zM727.9 791.9h1.4v9.6h-1.4zM727.9 801.5h1.4v9.6h-1.4zM727.9 811h1.4v9.6h-1.4zM727.9 820.6h1.4v9.6h-1.4zM729.2 830.1h1.9v9.6h-1.9zM729.2 839.7h1.9v9.6h-1.9zM729.1 849.2h1.9v9.6h-1.9zM729.1 868.3h1.9v9.6h-1.9zM729 916.1h1.9v9.6h-1.9zM728.9 982.9h1.9v9.6h-1.9zM787.2 534.1h1.9v9.6h-1.9zM785.9 543.6h1.4v9.6h-1.4zM787.2 553.2h1.9v9.6h-1.9zM785.8 572.3h1.4v9.6h-1.4zM787.1 600.9h1.9v9.6h-1.9zM787.1 610.5h1.9v9.6h-1.9zM785.7 629.6h1.4v9.6h-1.4zM787 639.1h1.9v9.6h-1.9zM787 648.7h1.9v9.6h-1.9zM785.6 658.2h1.4v9.6h-1.4zM786.9 677.3h1.9v9.6h-1.9zM785.6 686.9h1.4v9.6h-1.4zM786.9 696.4h1.9v9.6h-1.9zM786.9 715.5h1.9v9.6h-1.9zM785.5 734.6h1.4v9.6h-1.4zM786.8 744.2h1.9v9.6h-1.9zM786.8 753.7h1.9v9.6h-1.9zM786.8 763.3h1.9v9.6h-1.9zM786.7 801.5h1.9v9.6h-1.9zM786.7 830.1h1.9v9.6h-1.9zM786.6 839.7h1.9v9.6h-1.9zM786.6 849.2h1.9v9.6h-1.9zM786.6 858.8h1.9v9.6h-1.9zM786.6 868.3h1.9v9.6h-1.9zM786.6 887.4h1.9v9.6h-1.9zM786.5 897h1.9v9.6h-1.9zM785.2 906.5h1.4v9.6h-1.4zM786.5 916.1h1.9v9.6h-1.9zM785.2 925.6h1.4v9.6h-1.4zM785.1 944.7h1.4v9.6h-1.4zM786.4 963.8h1.9v9.6h-1.9zM786.4 973.4h1.9v9.6h-1.9zM786.4 982.9h1.9v9.6h-1.9zM844.8 534.1h1.9v9.6h-1.9zM844.7 562.7h1.9v9.6h-1.9zM843.4 572.3h1.4v9.6h-1.4zM843.3 591.4h1.4v9.6h-1.4zM843.3 600.9h1.4v9.6h-1.4zM844.6 620h1.9v9.6h-1.9zM843.3 629.6h1.4v9.6h-1.4zM844.6 639.1h1.9v9.6h-1.9zM844.5 648.7h1.9v9.6h-1.9zM843.2 667.8h1.4v9.6h-1.4zM844.5 677.3h1.9v9.6h-1.9zM843.1 686.9h1.4v9.6h-1.4zM843.1 706h1.4v9.6h-1.4zM843 725.1h1.4v9.6h-1.4zM843 734.6h1.4v9.6h-1.4zM844.3 753.7h1.9v9.6h-1.9zM842.9 763.3h1.4v9.6h-1.4zM842.9 772.8h1.4v9.6h-1.4zM842.8 791.9h1.4v9.6h-1.4zM842.8 811h1.4v9.6h-1.4zM842.7 849.2h1.4v9.6h-1.4zM842.7 858.8h1.4v9.6h-1.4zM844 868.3h1.9v9.6h-1.9zM842.6 877.9h1.4v9.6h-1.4zM843.9 897h1.9v9.6h-1.9zM843.9 906.5h1.9v9.6h-1.9zM843.9 916.1h1.9v9.6h-1.9zM842.5 935.2h1.4v9.6h-1.4zM842.5 944.7h1.4v9.6h-1.4zM842.4 954.3h1.4v9.6h-1.4zM842.4 963.8h1.4v9.6h-1.4zM843.7 973.4h1.9v9.6h-1.9zM843.7 982.9h1.9v9.6h-1.9zM902.1 534.1h1.9v9.6h-1.9zM902.1 572.3h1.9v9.6h-1.9zM902.1 581.8h1.9v9.6h-1.9zM902 600.9h1.9v9.6h-1.9zM902 610.5h1.9v9.6h-1.9zM902 620h1.9v9.6h-1.9zM902 639.1h1.9v9.6h-1.9zM901.9 658.2h1.9v9.6h-1.9zM901.9 667.8h1.9v9.6h-1.9zM901.9 677.3h1.9v9.6h-1.9zM900.5 686.9h1.4v9.6h-1.4zM901.8 696.4h1.9v9.6h-1.9zM900.5 706h1.4v9.6h-1.4zM901.8 715.5h1.9v9.6h-1.9zM901.8 725.1h1.9v9.6h-1.9zM901.7 753.7h1.9v9.6h-1.9zM901.7 763.3h1.9v9.6h-1.9zM901.7 772.8h1.9v9.6h-1.9zM901.7 782.4h1.9v9.6h-1.9zM901.7 801.5h1.9v9.6h-1.9zM901.6 811h1.9v9.6h-1.9zM901.6 839.7h1.9v9.6h-1.9zM901.6 849.2h1.9v9.6h-1.9zM901.5 877.9h1.9v9.6h-1.9zM901.5 887.4h1.9v9.6h-1.9zM901.5 906.5h1.9v9.6h-1.9zM901.4 916.1h1.9v9.6h-1.9zM901.4 944.7h1.9v9.6h-1.9zM901.3 963.8h1.9v9.6h-1.9zM901.3 973.4h1.9v9.6h-1.9zM901.3 982.9h1.9v9.6h-1.9zM135.4 543.6h1.2v9.6h-1.2zM135.4 572.3h1.2v9.6h-1.2zM135.4 581.8h1.2v9.6h-1.2zM135.4 620h1.2v9.6h-1.2zM135.4 677.3h1.2v9.6h-1.2zM135.4 696.4h1.2v9.6h-1.2zM135.4 801.5h1.2v9.6h-1.2zM135.4 811h1.2v9.6h-1.2zM135.4 935.2h1.2v9.6h-1.2zM135.4 954.3h1.2v9.6h-1.2zM373.1 534.1h1.2v9.6h-1.2zM373.1 648.7h1.2v9.6h-1.2zM373.1 677.3h1.2v9.6h-1.2zM373.1 744.2h1.2v9.6h-1.2zM373.1 763.3h1.2v9.6h-1.2zM373.1 772.8h1.2v9.6h-1.2zM373.1 801.5h1.2v9.6h-1.2zM373.1 916.1h1.2v9.6h-1.2zM373.1 925.6h1.2v9.6h-1.2zM496.2 572.3h1.2v9.6h-1.2zM496.2 629.6h1.2v9.6h-1.2zM496.2 667.8h1.2v9.6h-1.2zM496.2 791.9h1.2v9.6h-1.2zM556.7 534.1h1.2v9.6h-1.2zM556.7 572.3h1.2v9.6h-1.2zM556.7 629.6h1.2v9.6h-1.2zM556.7 667.8h1.2v9.6h-1.2zM556.7 696.4h1.2v9.6h-1.2zM556.7 734.6h1.2v9.6h-1.2zM556.7 753.7h1.2v9.6h-1.2zM556.7 801.5h1.2v9.6h-1.2zM556.7 877.9h1.2v9.6h-1.2zM556.7 944.7h1.2v9.6h-1.2zM556.7 963.8h1.2v9.6h-1.2zM657.5 524.5h1.2v9.6h-1.2zM657.5 534.1h1.2v9.6h-1.2zM657.5 553.2h1.2v9.6h-1.2zM657.5 562.7h1.2v9.6h-1.2zM657.5 591.4h1.2v9.6h-1.2zM657.5 648.7h1.2v9.6h-1.2zM657.5 706h1.2v9.6h-1.2zM657.5 734.6h1.2v9.6h-1.2zM657.5 744.2h1.2v9.6h-1.2zM657.5 849.2h1.2v9.6h-1.2zM657.5 858.8h1.2v9.6h-1.2zM657.5 877.9h1.2v9.6h-1.2zM657.5 887.4h1.2v9.6h-1.2zM657.5 897h1.2v9.6h-1.2zM788.5 524.5h1.2v9.6h-1.2zM788.5 572.3h1.2v9.6h-1.2zM788.5 648.7h1.2v9.6h-1.2zM788.5 667.8h1.2v9.6h-1.2zM788.5 677.3h1.2v9.6h-1.2zM788.5 734.6h1.2v9.6h-1.2zM788.5 782.4h1.2v9.6h-1.2zM788.5 791.9h1.2v9.6h-1.2zM788.5 811h1.2v9.6h-1.2zM788.5 820.6h1.2v9.6h-1.2zM788.5 849.2h1.2v9.6h-1.2zM788.5 877.9h1.2v9.6h-1.2zM788.5 887.4h1.2v9.6h-1.2zM788.5 906.5h1.2v9.6h-1.2zM788.5 925.6h1.2v9.6h-1.2zM788.5 954.3h1.2v9.6h-1.2zM788.5 963.8h1.2v9.6h-1.2zM788.5 982.9h1.2v9.6h-1.2z" fill="#00f"/>
<path d="M90.1 562.7h1.2v9.6h-1.2zM93.4 562.7h1.2v9.6h-1.2zM90.1 572.3h1.2v9.6h-1.2zM90.1 591.4h1.2v9.6h-1.2zM90.2 620h1.2v9.6h-1.2zM93.5 620h1.2v9.6h-1.2zM90.2 629.6h1.2v9.6h-1.2zM93.5 629.6h1.2v9.6h-1.2zM90.2 658.2h1.2v9.6h-1.2zM93.5 658.2h1.2v9.6h-1.2zM90.2 667.8h1.2v9.6h-1.2zM93.5 667.8h1.2v9.6h-1.2zM90.2 696.4h1.2v9.6h-1.2zM93.5 696.4h1.2v9.6h-1.2zM93.6 706h1.2v9.6h-1.2zM90.3 725.1h1.2v9.6h-1.2zM90.3 801.5h1.2v9.6h-1.2zM93.7 801.5h1.2v9.6h-1.2zM94.8 830.1h1.3v9.6h-1.3zM90.5 925.6h1.2v9.6h-1.2zM93.8 925.6h1.2v9.6h-1.2zM90.5 935.2h1.2v9.6h-1.2zM148.1 600.9h1.2v9.6h-1.2zM151.4 600.9h1.2v9.6h-1.2zM148.1 629.6h1.2v9.6h-1.2zM148 658.2h1.2v9.6h-1.2zM151.3 677.3h1.2v9.6h-1.2zM147.9 696.4h1.2v9.6h-1.2zM151.2 696.4h1.2v9.6h-1.2zM147.9 715.5h1.2v9.6h-1.2zM151.2 715.5h1.2v9.6h-1.2zM147.8 763.3h1.2v9.6h-1.2zM151 782.4h1.2v9.6h-1.2zM147.7 791.9h1.2v9.6h-1.2zM147.7 801.5h1.2v9.6h-1.2zM151 801.5h1.2v9.6h-1.2zM147.6 820.6h1.2v9.6h-1.2zM150.9 820.6h1.2v9.6h-1.2zM147.6 830.1h1.2v9.6h-1.2zM150.9 830.1h1.2v9.6h-1.2zM147.5 858.8h1.2v9.6h-1.2zM150.8 858.8h1.2v9.6h-1.2zM147.4 925.6h1.2v9.6h-1.2zM150.7 935.2h1.2v9.6h-1.2zM147.3 963.8h1.2v9.6h-1.2zM150.6 963.8h1.2v9.6h-1.2zM147.3 973.4h1.2v9.6h-1.2zM150.6 973.4h1.2v9.6h-1.2zM147.3 982.9h1.2v9.6h-1.2zM206.9 591.4h1.2v9.6h-1.2zM207 600.9h1.2v9.6h-1.2zM204.9 639.1h1.2v9.6h-1.2zM204.9 648.7h1.2v9.6h-1.2zM207.2 686.9h1.2v9.6h-1.2zM207.3 696.4h1.2v9.6h-1.2zM207.3 706h1.2v9.6h-1.2zM205.2 753.7h1.2v9.6h-1.2zM208.5 753.7h1.2v9.6h-1.2zM207.5 763.3h1.2v9.6h-1.2zM207.7 858.8h1.2v9.6h-1.2zM207.8 868.3h1.2v9.6h-1.2zM205.7 897h1.2v9.6h-1.2zM209 897h1.2v9.6h-1.2zM265.1 543.6h1.2v9.6h-1.2zM265.1 581.8h1.2v9.6h-1.2zM265 629.6h1.2v9.6h-1.2zM265 658.2h1.2v9.6h-1.2zM265 667.8h1.2v9.6h-1.2zM265 677.3h1.2v9.6h-1.2zM265 686.9h1.2v9.6h-1.2zM265 696.4h1.2v9.6h-1.2zM264.9 744.2h1.2v9.6h-1.2zM264.9 763.3h1.2v9.6h-1.2zM264.9 782.4h1.2v9.6h-1.2zM264.9 811h1.2v9.6h-1.2zM264.8 925.6h1.2v9.6h-1.2zM264.7 944.7h1.2v9.6h-1.2zM323 553.2h1.2v9.6h-1.2zM319.8 572.3h1.2v9.6h-1.2zM323.1 572.3h1.2v9.6h-1.2zM323.1 581.8h1.2v9.6h-1.2zM319.8 591.4h1.2v9.6h-1.2zM319.8 600.9h1.2v9.6h-1.2zM323.1 600.9h1.2v9.6h-1.2zM320 658.2h1.2v9.6h-1.2zM323.3 658.2h1.2v9.6h-1.2zM320 667.8h1.2v9.6h-1.2zM320 696.4h1.2v9.6h-1.2zM323.4 696.4h1.2v9.6h-1.2zM320.1 734.6h1.2v9.6h-1.2zM323.4 734.6h1.2v9.6h-1.2zM320.1 744.2h1.2v9.6h-1.2zM323.5 744.2h1.2v9.6h-1.2zM320.2 763.3h1.2v9.6h-1.2zM323.5 763.3h1.2v9.6h-1.2zM323.5 782.4h1.2v9.6h-1.2zM323.6 820.6h1.2v9.6h-1.2zM320.4 839.7h1.2v9.6h-1.2zM320.5 887.4h1.2v9.6h-1.2zM323.8 887.4h1.2v9.6h-1.2zM320.5 916.1h1.2v9.6h-1.2zM323.8 916.1h1.2v9.6h-1.2zM323.9 954.3h1.2v9.6h-1.2zM320.6 963.8h1.2v9.6h-1.2zM323.9 963.8h1.2v9.6h-1.2zM320.6 973.4h1.2v9.6h-1.2zM324 973.4h1.2v9.6h-1.2zM380.6 543.6h1.7v9.6h-1.7zM380.6 553.2h1.7v9.6h-1.7zM380.5 572.3h1.7v9.6h-1.7zM380.4 667.8h1.7v9.6h-1.7zM380.4 677.3h1.7v9.6h-1.7zM380.4 725.1h1.7v9.6h-1.7zM380.4 734.6h1.7v9.6h-1.7zM380.3 849.2h1.7v9.6h-1.7zM380.2 906.5h1.7v9.6h-1.7zM380.2 935.2h1.7v9.6h-1.7zM437.3 534.1h1.7v9.6h-1.7zM437.4 581.8h1.7v9.6h-1.7zM437.6 658.2h1.7v9.6h-1.7zM437.9 782.4h1.7v9.6h-1.7zM438.1 868.3h1.7v9.6h-1.7zM438.2 906.5h1.7v9.6h-1.7zM438.2 935.2h1.7v9.6h-1.7zM438.4 982.9h1.7v9.6h-1.7zM494.8 543.6h1.7v9.6h-1.7zM494.9 581.8h1.7v9.6h-1.7zM494.9 610.5h1.7v9.6h-1.7zM495 629.6h1.7v9.6h-1.7zM495 648.7h1.7v9.6h-1.7zM495.1 667.8h1.7v9.6h-1.7zM495.1 677.3h1.7v9.6h-1.7zM495.3 744.2h1.7v9.6h-1.7zM495.3 763.3h1.7v9.6h-1.7zM495.4 811h1.7v9.6h-1.7zM495.7 906.5h1.7v9.6h-1.7zM495.7 925.6h1.7v9.6h-1.7zM495.7 935.2h1.7v9.6h-1.7zM495.8 982.9h1.7v9.6h-1.7zM554.2 639.1h1.7v9.6h-1.7zM552.7 686.9h1.7v9.6h-1.7zM552.7 715.5h1.7v9.6h-1.7zM552.8 753.7h1.7v9.6h-1.7zM552.8 763.3h1.7v9.6h-1.7zM554.4 830.1h1.7v9.6h-1.7zM553 935.2h1.7v9.6h-1.7zM610.1 572.3h1.7v9.6h-1.7zM611.7 648.7h1.7v9.6h-1.7zM610.2 686.9h1.7v9.6h-1.7zM611.8 715.5h1.7v9.6h-1.7zM610.2 734.6h1.7v9.6h-1.7zM611.8 753.7h1.7v9.6h-1.7zM610.3 791.9h1.7v9.6h-1.7zM610.3 887.4h1.7v9.6h-1.7zM611.9 897h1.7v9.6h-1.7zM611.9 916.1h1.7v9.6h-1.7zM610.4 963.8h1.7v9.6h-1.7zM667.9 591.4h1.2v9.6h-1.2zM667.9 600.9h1.2v9.6h-1.2zM665.7 610.5h1.2v9.6h-1.2zM668 629.6h1.2v9.6h-1.2zM669.1 639.1h1.2v9.6h-1.2zM668.1 686.9h1.2v9.6h-1.2zM668.1 706h1.2v9.6h-1.2zM668.2 763.3h1.2v9.6h-1.2zM669.5 830.1h1.2v9.6h-1.2zM666.1 849.2h1.2v9.6h-1.2zM668.4 858.8h1.2v9.6h-1.2zM666.2 868.3h1.2v9.6h-1.2zM669.6 868.3h1.2v9.6h-1.2zM666.2 897h1.2v9.6h-1.2zM669.7 897h1.2v9.6h-1.2zM666.3 916.1h1.2v9.6h-1.2zM668.6 925.6h1.2v9.6h-1.2zM668.6 935.2h1.2v9.6h-1.2zM723.9 534.1h1.2v9.6h-1.2zM727.3 534.1h1.2v9.6h-1.2zM726.1 572.3h1.2v9.6h-1.2zM726 591.4h1.2v9.6h-1.2zM727.1 639.1h1.2v9.6h-1.2zM725.9 658.2h1.2v9.6h-1.2zM723.6 677.3h1.2v9.6h-1.2zM723.5 715.5h1.2v9.6h-1.2zM726.9 715.5h1.2v9.6h-1.2zM725.7 744.2h1.2v9.6h-1.2zM726.9 753.7h1.2v9.6h-1.2zM725.6 791.9h1.2v9.6h-1.2zM726.7 830.1h1.2v9.6h-1.2zM723.2 868.3h1.2v9.6h-1.2zM726.6 868.3h1.2v9.6h-1.2zM723.1 916.1h1.2v9.6h-1.2zM726.5 916.1h1.2v9.6h-1.2zM781.3 534.1h1.2v9.6h-1.2zM784.7 534.1h1.2v9.6h-1.2zM781.2 610.5h1.2v9.6h-1.2zM781.1 639.1h1.2v9.6h-1.2zM784.5 639.1h1.2v9.6h-1.2zM781.1 648.7h1.2v9.6h-1.2zM781 677.3h1.2v9.6h-1.2zM784.5 677.3h1.2v9.6h-1.2zM783.3 686.9h1.2v9.6h-1.2zM781 696.4h1.2v9.6h-1.2zM783.2 734.6h1.2v9.6h-1.2zM780.8 801.5h1.2v9.6h-1.2zM780.8 830.1h1.2v9.6h-1.2zM784.2 830.1h1.2v9.6h-1.2zM780.8 839.7h1.2v9.6h-1.2zM784.2 849.2h1.2v9.6h-1.2zM780.7 858.8h1.2v9.6h-1.2zM780.7 868.3h1.2v9.6h-1.2zM784.1 868.3h1.2v9.6h-1.2zM780.7 887.4h1.2v9.6h-1.2zM782.8 944.7h1.2v9.6h-1.2zM838.9 534.1h1.2v9.6h-1.2zM841.1 572.3h1.2v9.6h-1.2zM841.1 591.4h1.2v9.6h-1.2zM841 600.9h1.2v9.6h-1.2zM841 629.6h1.2v9.6h-1.2zM838.7 639.1h1.2v9.6h-1.2zM842.1 639.1h1.2v9.6h-1.2zM840.9 667.8h1.2v9.6h-1.2zM840.7 725.1h1.2v9.6h-1.2zM840.6 763.3h1.2v9.6h-1.2zM840.6 772.8h1.2v9.6h-1.2zM840.6 791.9h1.2v9.6h-1.2zM840.5 811h1.2v9.6h-1.2zM838.1 868.3h1.2v9.6h-1.2zM841.5 868.3h1.2v9.6h-1.2zM840.4 877.9h1.2v9.6h-1.2zM841.4 897h1.2v9.6h-1.2zM838 916.1h1.2v9.6h-1.2zM840.2 954.3h1.2v9.6h-1.2zM837.8 973.4h1.2v9.6h-1.2zM899.6 581.8h1.2v9.6h-1.2zM896.1 600.9h1.2v9.6h-1.2zM899.6 600.9h1.2v9.6h-1.2zM896.1 610.5h1.2v9.6h-1.2zM899.5 610.5h1.2v9.6h-1.2zM899.5 639.1h1.2v9.6h-1.2zM896 658.2h1.2v9.6h-1.2zM896 667.8h1.2v9.6h-1.2zM899.4 667.8h1.2v9.6h-1.2zM896 696.4h1.2v9.6h-1.2zM895.9 715.5h1.2v9.6h-1.2zM899.3 715.5h1.2v9.6h-1.2zM895.9 725.1h1.2v9.6h-1.2zM899.3 725.1h1.2v9.6h-1.2zM895.8 753.7h1.2v9.6h-1.2zM899.3 753.7h1.2v9.6h-1.2zM895.8 763.3h1.2v9.6h-1.2zM895.8 772.8h1.2v9.6h-1.2zM899.2 772.8h1.2v9.6h-1.2zM899.1 849.2h1.2v9.6h-1.2zM895.6 877.9h1.2v9.6h-1.2zM899 877.9h1.2v9.6h-1.2zM895.6 887.4h1.2v9.6h-1.2zM899 906.5h1.2v9.6h-1.2zM895.5 944.7h1.2v9.6h-1.2zM898.9 963.8h1.2v9.6h-1.2zM895.4 973.4h1.2v9.6h-1.2zM898.9 973.4h1.2v9.6h-1.2zM180 686.9h1.2v9.6h-1.2zM180 725.1h1.2v9.6h-1.2zM180 763.3h1.2v9.6h-1.2zM180 772.8h1.2v9.6h-1.2zM180 811h1.2v9.6h-1.2zM180 868.3h1.2v9.6h-1.2zM180 944.7h1.2v9.6h-1.2z" fill="#00d4ff"/>
<path d="M91.2 562.7h1.2v9.6h-1.2zM91.3 620h1.2v9.6h-1.2zM91.3 629.6h1.2v9.6h-1.2zM91.3 658.2h1.2v9.6h-1.2zM91.3 667.8h1.2v9.6h-1.2zM91.3 706h1.2v9.6h-1.2zM91.4 801.5h1.2v9.6h-1.2zM92.6 830.1h1.2v9.6h-1.2zM91.6 925.6h1.2v9.6h-1.2zM149.2 600.9h1.2v9.6h-1.2zM149 715.5h1.2v9.6h-1.2zM148.7 820.6h1.2v9.6h-1.2zM148.7 830.1h1.2v9.6h-1.2zM148.4 963.8h1.2v9.6h-1.2zM320.8 553.2h1.2v9.6h-1.2zM321.1 696.4h1.2v9.6h-1.2zM321.2 734.6h1.2v9.6h-1.2zM321.2 744.2h1.2v9.6h-1.2zM321.3 763.3h1.2v9.6h-1.2zM321.6 887.4h1.2v9.6h-1.2zM321.6 916.1h1.2v9.6h-1.2zM725 534.1h1.2v9.6h-1.2zM724.7 715.5h1.2v9.6h-1.2zM724.6 753.7h1.2v9.6h-1.2zM782.5 534.1h1.2v9.6h-1.2zM781.9 830.1h1.2v9.6h-1.2zM897.3 610.5h1.2v9.6h-1.2zM897.1 715.5h1.2v9.6h-1.2zM896.7 906.5h1.2v9.6h-1.2zM896.6 963.8h1.2v9.6h-1.2zM896.6 973.4h1.2v9.6h-1.2z" fill="#ff2a00"/>
<path d="M92.3 562.7h1.2v9.6h-1.2zM92.4 620h1.2v9.6h-1.2zM92.4 629.6h1.2v9.6h-1.2zM92.4 658.2h1.2v9.6h-1.2zM92.4 667.8h1.2v9.6h-1.2zM92.5 801.5h1.2v9.6h-1.2zM90.4 830.1h1.2v9.6h-1.2zM92.7 925.6h1.2v9.6h-1.2zM150.3 600.9h1.2v9.6h-1.2zM150.1 696.4h1.2v9.6h-1.2zM150.1 715.5h1.2v9.6h-1.2zM149.9 801.5h1.2v9.6h-1.2zM149.8 820.6h1.2v9.6h-1.2zM149.8 830.1h1.2v9.6h-1.2zM149.5 963.8h1.2v9.6h-1.2zM149.5 973.4h1.2v9.6h-1.2zM205.8 591.4h1.2v9.6h-1.2zM206 629.6h1.2v9.6h-1.2zM207.4 753.7h1.2v9.6h-1.2zM206.4 772.8h1.2v9.6h-1.2zM206.4 791.9h1.2v9.6h-1.2zM206.6 839.7h1.2v9.6h-1.2zM206.6 858.8h1.2v9.6h-1.2zM206.7 868.3h1.2v9.6h-1.2zM207.9 897h1.2v9.6h-1.2zM206.8 916.1h1.2v9.6h-1.2zM207 963.8h1.2v9.6h-1.2zM207 973.4h1.2v9.6h-1.2zM264 543.6h1.2v9.6h-1.2zM264 581.8h1.2v9.6h-1.2zM264 600.9h1.2v9.6h-1.2zM263.9 629.6h1.2v9.6h-1.2zM263.8 734.6h1.2v9.6h-1.2zM263.7 849.2h1.2v9.6h-1.2zM263.7 897h1.2v9.6h-1.2zM321.9 553.2h1.2v9.6h-1.2zM322.2 696.4h1.2v9.6h-1.2zM322.3 734.6h1.2v9.6h-1.2zM322.4 744.2h1.2v9.6h-1.2zM322.4 763.3h1.2v9.6h-1.2zM322.7 887.4h1.2v9.6h-1.2zM322.7 916.1h1.2v9.6h-1.2zM322.8 963.8h1.2v9.6h-1.2zM322.9 973.4h1.2v9.6h-1.2zM552.6 639.1h1.7v9.6h-1.7zM552.6 648.7h1.7v9.6h-1.7zM667.1 744.2h1.2v9.6h-1.2zM667.1 763.3h1.2v9.6h-1.2zM667.2 791.9h1.2v9.6h-1.2zM667.2 801.5h1.2v9.6h-1.2zM668.5 868.3h1.2v9.6h-1.2zM667.3 877.9h1.2v9.6h-1.2zM668.5 897h1.2v9.6h-1.2zM667.5 963.8h1.2v9.6h-1.2zM726.1 534.1h1.2v9.6h-1.2zM724.9 572.3h1.2v9.6h-1.2zM725.8 715.5h1.2v9.6h-1.2zM724.6 734.6h1.2v9.6h-1.2zM724.6 744.2h1.2v9.6h-1.2zM725.7 753.7h1.2v9.6h-1.2zM724.5 791.9h1.2v9.6h-1.2zM725.5 868.3h1.2v9.6h-1.2zM725.4 916.1h1.2v9.6h-1.2zM783.6 534.1h1.2v9.6h-1.2zM782.4 543.6h1.2v9.6h-1.2zM782.4 572.3h1.2v9.6h-1.2zM782.3 629.6h1.2v9.6h-1.2zM783.4 639.1h1.2v9.6h-1.2zM783.3 677.3h1.2v9.6h-1.2zM783 830.1h1.2v9.6h-1.2zM783 868.3h1.2v9.6h-1.2zM781.7 944.7h1.2v9.6h-1.2zM839.8 629.6h1.2v9.6h-1.2zM840.9 639.1h1.2v9.6h-1.2zM839.7 686.9h1.2v9.6h-1.2zM839.6 706h1.2v9.6h-1.2zM839.6 734.6h1.2v9.6h-1.2zM839.5 772.8h1.2v9.6h-1.2zM839.4 811h1.2v9.6h-1.2zM839.3 858.8h1.2v9.6h-1.2zM840.4 868.3h1.2v9.6h-1.2zM839.2 877.9h1.2v9.6h-1.2zM839.1 935.2h1.2v9.6h-1.2zM839 963.8h1.2v9.6h-1.2zM898.4 600.9h1.2v9.6h-1.2zM898.4 610.5h1.2v9.6h-1.2zM897.1 686.9h1.2v9.6h-1.2zM897.1 706h1.2v9.6h-1.2zM898.2 715.5h1.2v9.6h-1.2zM898.2 725.1h1.2v9.6h-1.2zM898.1 753.7h1.2v9.6h-1.2zM898.1 772.8h1.2v9.6h-1.2zM897.9 877.9h1.2v9.6h-1.2zM897.8 906.5h1.2v9.6h-1.2zM897.7 963.8h1.2v9.6h-1.2zM897.7 973.4h1.2v9.6h-1.2z" fill="#af5"/>
<path d="M94.5 562.7h1.3v9.6h-1.3zM94.5 572.3h1.3v9.6h-1.3zM94.5 591.4h1.3v9.6h-1.3zM94.6 620h1.3v9.6h-1.3zM94.6 629.6h1.3v9.6h-1.3zM94.6 658.2h1.3v9.6h-1.3zM94.6 667.8h1.3v9.6h-1.3zM94.7 696.4h1.3v9.6h-1.3zM94.7 706h1.3v9.6h-1.3zM94.7 725.1h1.3v9.6h-1.3zM94.7 763.3h1.3v9.6h-1.3zM94.7 782.4h1.3v9.6h-1.3zM94.8 801.5h1.3v9.6h-1.3zM96.1 830.1h1.9v9.6h-1.9zM94.8 868.3h1.3v9.6h-1.3zM94.9 925.6h1.3v9.6h-1.3zM94.9 935.2h1.3v9.6h-1.3zM152.5 600.9h1.3v9.6h-1.3zM152.5 610.5h1.3v9.6h-1.3zM152.5 629.6h1.3v9.6h-1.3zM152.4 658.2h1.3v9.6h-1.3zM152.4 677.3h1.3v9.6h-1.3zM152.3 696.4h1.3v9.6h-1.3zM152.3 715.5h1.3v9.6h-1.3zM152.1 782.4h1.3v9.6h-1.3zM152.1 791.9h1.3v9.6h-1.3zM152.1 801.5h1.3v9.6h-1.3zM152 820.6h1.3v9.6h-1.3zM152 830.1h1.3v9.6h-1.3zM152 839.7h1.3v9.6h-1.3zM152 849.2h1.3v9.6h-1.3zM152 858.8h1.3v9.6h-1.3zM151.8 925.6h1.3v9.6h-1.3zM151.8 935.2h1.3v9.6h-1.3zM151.7 963.8h1.3v9.6h-1.3zM151.7 973.4h1.3v9.6h-1.3zM151.7 982.9h1.3v9.6h-1.3zM204.6 543.6h1.2v9.6h-1.2zM204.7 572.3h1.2v9.6h-1.2zM204.7 591.4h1.2v9.6h-1.2zM208 591.4h1.2v9.6h-1.2zM204.8 600.9h1.2v9.6h-1.2zM208.1 600.9h1.2v9.6h-1.2zM204.8 629.6h1.2v9.6h-1.2zM208.2 629.6h1.2v9.6h-1.2zM209.3 639.1h1.3v9.6h-1.3zM209.3 648.7h1.3v9.6h-1.3zM205 686.9h1.2v9.6h-1.2zM208.3 686.9h1.2v9.6h-1.2zM205 696.4h1.2v9.6h-1.2zM208.4 696.4h1.2v9.6h-1.2zM205.1 706h1.2v9.6h-1.2zM208.4 706h1.2v9.6h-1.2zM208.5 734.6h1.2v9.6h-1.2zM208.5 744.2h1.2v9.6h-1.2zM209.6 753.7h1.3v9.6h-1.3zM205.3 763.3h1.2v9.6h-1.2zM208.6 763.3h1.2v9.6h-1.2zM208.6 772.8h1.2v9.6h-1.2zM205.3 791.9h1.2v9.6h-1.2zM208.6 791.9h1.2v9.6h-1.2zM208.7 820.6h1.2v9.6h-1.2zM208.8 839.7h1.2v9.6h-1.2zM205.5 858.8h1.2v9.6h-1.2zM208.8 858.8h1.2v9.6h-1.2zM205.6 868.3h1.2v9.6h-1.2zM208.9 868.3h1.2v9.6h-1.2zM210.1 897h1.3v9.6h-1.3zM209 906.5h1.2v9.6h-1.2zM209 916.1h1.2v9.6h-1.2zM205.7 925.6h1.2v9.6h-1.2zM209 925.6h1.2v9.6h-1.2zM205.9 963.8h1.2v9.6h-1.2zM209.2 963.8h1.2v9.6h-1.2zM209.2 973.4h1.2v9.6h-1.2zM262.9 543.6h1.2v9.6h-1.2zM266.2 543.6h1.2v9.6h-1.2zM262.9 562.7h1.2v9.6h-1.2zM266.2 562.7h1.2v9.6h-1.2zM262.9 572.3h1.2v9.6h-1.2zM262.9 581.8h1.2v9.6h-1.2zM266.2 581.8h1.2v9.6h-1.2zM262.9 591.4h1.2v9.6h-1.2zM266.2 591.4h1.2v9.6h-1.2zM262.9 600.9h1.2v9.6h-1.2zM266.2 600.9h1.2v9.6h-1.2zM262.8 629.6h1.2v9.6h-1.2zM266.1 629.6h1.2v9.6h-1.2zM262.8 658.2h1.2v9.6h-1.2zM266.1 658.2h1.2v9.6h-1.2zM262.8 667.8h1.2v9.6h-1.2zM266.1 667.8h1.2v9.6h-1.2zM262.8 677.3h1.2v9.6h-1.2zM266.1 677.3h1.2v9.6h-1.2zM262.8 686.9h1.2v9.6h-1.2zM266.1 686.9h1.2v9.6h-1.2zM262.8 696.4h1.2v9.6h-1.2zM266.1 696.4h1.2v9.6h-1.2zM266 734.6h1.2v9.6h-1.2zM262.7 744.2h1.2v9.6h-1.2zM266 744.2h1.2v9.6h-1.2zM262.7 763.3h1.2v9.6h-1.2zM266 763.3h1.2v9.6h-1.2zM262.7 772.8h1.2v9.6h-1.2zM262.7 782.4h1.2v9.6h-1.2zM266 782.4h1.2v9.6h-1.2zM262.7 811h1.2v9.6h-1.2zM266 811h1.2v9.6h-1.2zM265.9 839.7h1.2v9.6h-1.2zM265.9 849.2h1.2v9.6h-1.2zM262.6 877.9h1.2v9.6h-1.2zM262.6 897h1.2v9.6h-1.2zM265.9 897h1.2v9.6h-1.2zM262.6 925.6h1.2v9.6h-1.2zM265.9 925.6h1.2v9.6h-1.2zM262.5 944.7h1.2v9.6h-1.2zM265.8 944.7h1.2v9.6h-1.2zM324.1 553.2h1.3v9.6h-1.3zM324.2 572.3h1.3v9.6h-1.3zM324.2 581.8h1.3v9.6h-1.3zM324.2 600.9h1.3v9.6h-1.3zM324.3 610.5h1.3v9.6h-1.3zM324.4 658.2h1.3v9.6h-1.3zM324.4 667.8h1.3v9.6h-1.3zM324.5 696.4h1.3v9.6h-1.3zM324.5 715.5h1.3v9.6h-1.3zM324.5 734.6h1.3v9.6h-1.3zM324.6 744.2h1.3v9.6h-1.3zM324.6 763.3h1.3v9.6h-1.3zM324.6 782.4h1.3v9.6h-1.3zM324.7 820.6h1.3v9.6h-1.3zM324.8 839.7h1.3v9.6h-1.3zM324.9 887.4h1.3v9.6h-1.3zM324.9 906.5h1.3v9.6h-1.3zM324.9 916.1h1.3v9.6h-1.3zM325 925.6h1.3v9.6h-1.3zM325 935.2h1.3v9.6h-1.3zM325 954.3h1.3v9.6h-1.3zM325 963.8h1.3v9.6h-1.3zM325.1 973.4h1.3v9.6h-1.3zM382.1 543.6h1.7v9.6h-1.7zM382.1 553.2h1.7v9.6h-1.7zM380.5 562.7h1.7v9.6h-1.7zM382.1 572.3h1.7v9.6h-1.7zM380.5 610.5h1.7v9.6h-1.7zM382 667.8h1.7v9.6h-1.7zM382 677.3h1.7v9.6h-1.7zM382 686.9h1.7v9.6h-1.7zM380.4 715.5h1.7v9.6h-1.7zM381.9 734.6h1.7v9.6h-1.7zM381.9 753.7h1.7v9.6h-1.7zM380.3 801.5h1.7v9.6h-1.7zM381.8 849.2h1.7v9.6h-1.7zM381.8 906.5h1.7v9.6h-1.7zM378.6 916.1h1.7v9.6h-1.7zM438.8 534.1h1.7v9.6h-1.7zM439 581.8h1.7v9.6h-1.7zM437.6 648.7h1.7v9.6h-1.7zM439.1 658.2h1.7v9.6h-1.7zM437.6 677.3h1.7v9.6h-1.7zM439.2 696.4h1.7v9.6h-1.7zM437.7 706h1.7v9.6h-1.7zM439.3 725.1h1.7v9.6h-1.7zM437.8 734.6h1.7v9.6h-1.7zM439.4 772.8h1.7v9.6h-1.7zM439.4 782.4h1.7v9.6h-1.7zM439.5 801.5h1.7v9.6h-1.7zM439.5 811h1.7v9.6h-1.7zM439.5 820.6h1.7v9.6h-1.7zM439.6 849.2h1.7v9.6h-1.7zM439.6 868.3h1.7v9.6h-1.7zM439.7 877.9h1.7v9.6h-1.7zM439.7 906.5h1.7v9.6h-1.7zM439.8 935.2h1.7v9.6h-1.7zM438.3 944.7h1.7v9.6h-1.7zM439.9 963.8h1.7v9.6h-1.7zM439.9 982.9h1.7v9.6h-1.7zM494.7 534.1h1.7v9.6h-1.7zM496.3 543.6h1.7v9.6h-1.7zM496.5 629.6h1.7v9.6h-1.7zM496.6 648.7h1.7v9.6h-1.7zM496.6 667.8h1.7v9.6h-1.7zM496.7 677.3h1.7v9.6h-1.7zM496.7 696.4h1.7v9.6h-1.7zM495.2 715.5h1.7v9.6h-1.7zM496.9 763.3h1.7v9.6h-1.7zM496.9 791.9h1.7v9.6h-1.7zM497 811h1.7v9.6h-1.7zM495.6 868.3h1.7v9.6h-1.7zM497.1 877.9h1.7v9.6h-1.7zM494.1 897h1.7v9.6h-1.7zM497.2 906.5h1.7v9.6h-1.7zM497.3 925.6h1.7v9.6h-1.7zM497.3 935.2h1.7v9.6h-1.7zM497.4 982.9h1.7v9.6h-1.7zM552.5 562.7h1.7v9.6h-1.7zM552.5 572.3h1.7v9.6h-1.7zM551.1 639.1h1.7v9.6h-1.7zM555.7 639.1h1.7v9.6h-1.7zM551.1 648.7h1.7v9.6h-1.7zM555.7 648.7h1.7v9.6h-1.7zM551.1 658.2h1.7v9.6h-1.7zM552.7 677.3h1.7v9.6h-1.7zM554.3 715.5h1.7v9.6h-1.7zM552.7 725.1h1.7v9.6h-1.7zM554.3 753.7h1.7v9.6h-1.7zM554.3 763.3h1.7v9.6h-1.7zM552.8 772.8h1.7v9.6h-1.7zM554.3 782.4h1.7v9.6h-1.7zM552.8 820.6h1.7v9.6h-1.7zM551.3 830.1h1.7v9.6h-1.7zM556 830.1h1.7v9.6h-1.7zM551.4 897h1.7v9.6h-1.7zM556 897h1.7v9.6h-1.7zM553 925.6h1.7v9.6h-1.7zM554.5 935.2h1.7v9.6h-1.7zM553 954.3h1.7v9.6h-1.7zM551.4 963.8h1.7v9.6h-1.7zM556.1 963.8h1.7v9.6h-1.7zM553 973.4h1.7v9.6h-1.7zM608.5 534.1h1.7v9.6h-1.7zM611.6 572.3h1.7v9.6h-1.7zM608.5 581.8h1.7v9.6h-1.7zM611.7 600.9h1.7v9.6h-1.7zM611.7 629.6h1.7v9.6h-1.7zM608.6 648.7h1.7v9.6h-1.7zM613.3 648.7h1.7v9.6h-1.7zM611.7 686.9h1.7v9.6h-1.7zM610.2 696.4h1.7v9.6h-1.7zM611.7 706h1.7v9.6h-1.7zM608.6 715.5h1.7v9.6h-1.7zM613.3 715.5h1.7v9.6h-1.7zM610.2 725.1h1.7v9.6h-1.7zM611.8 734.6h1.7v9.6h-1.7zM608.7 753.7h1.7v9.6h-1.7zM613.3 753.7h1.7v9.6h-1.7zM611.8 772.8h1.7v9.6h-1.7zM611.8 791.9h1.7v9.6h-1.7zM610.3 811h1.7v9.6h-1.7zM610.3 839.7h1.7v9.6h-1.7zM610.3 849.2h1.7v9.6h-1.7zM608.8 897h1.7v9.6h-1.7zM613.5 897h1.7v9.6h-1.7zM608.8 916.1h1.7v9.6h-1.7zM613.5 916.1h1.7v9.6h-1.7zM612 963.8h1.7v9.6h-1.7zM608.9 973.4h1.7v9.6h-1.7zM613.5 973.4h1.7v9.6h-1.7zM665.6 591.4h1.2v9.6h-1.2zM669 591.4h1.2v9.6h-1.2zM665.6 600.9h1.2v9.6h-1.2zM669.1 600.9h1.2v9.6h-1.2zM670.2 610.5h1.4v9.6h-1.4zM665.7 629.6h1.2v9.6h-1.2zM669.1 629.6h1.2v9.6h-1.2zM670.3 639.1h1.4v9.6h-1.4zM669.2 667.8h1.2v9.6h-1.2zM665.8 686.9h1.2v9.6h-1.2zM669.2 686.9h1.2v9.6h-1.2zM665.9 706h1.2v9.6h-1.2zM669.3 706h1.2v9.6h-1.2zM669.3 734.6h1.2v9.6h-1.2zM665.9 744.2h1.2v9.6h-1.2zM669.4 744.2h1.2v9.6h-1.2zM666 763.3h1.2v9.6h-1.2zM669.4 763.3h1.2v9.6h-1.2zM666 791.9h1.2v9.6h-1.2zM669.4 791.9h1.2v9.6h-1.2zM669.5 801.5h1.2v9.6h-1.2zM666.1 811h1.2v9.6h-1.2zM670.7 830.1h1.4v9.6h-1.4zM666.2 858.8h1.2v9.6h-1.2zM669.6 858.8h1.2v9.6h-1.2zM670.7 868.3h1.4v9.6h-1.4zM666.2 877.9h1.2v9.6h-1.2zM669.6 877.9h1.2v9.6h-1.2zM670.8 897h1.4v9.6h-1.4zM670.8 916.1h1.4v9.6h-1.4zM666.3 925.6h1.2v9.6h-1.2zM669.7 925.6h1.2v9.6h-1.2zM666.3 935.2h1.2v9.6h-1.2zM669.7 935.2h1.2v9.6h-1.2zM669.8 963.8h1.2v9.6h-1.2zM728.4 534.1h1.4v9.6h-1.4zM723.8 572.3h1.2v9.6h-1.2zM727.2 572.3h1.2v9.6h-1.2zM723.8 591.4h1.2v9.6h-1.2zM727.2 591.4h1.2v9.6h-1.2zM728.2 639.1h1.4v9.6h-1.4zM723.6 658.2h1.2v9.6h-1.2zM727 658.2h1.2v9.6h-1.2zM728.1 677.3h1.4v9.6h-1.4zM723.6 686.9h1.2v9.6h-1.2zM728.1 715.5h1.4v9.6h-1.4zM726.9 734.6h1.2v9.6h-1.2zM723.5 744.2h1.2v9.6h-1.2zM726.9 744.2h1.2v9.6h-1.2zM728 753.7h1.4v9.6h-1.4zM723.4 791.9h1.2v9.6h-1.2zM726.8 791.9h1.2v9.6h-1.2zM726.8 801.5h1.2v9.6h-1.2zM723.3 811h1.2v9.6h-1.2zM727.9 830.1h1.4v9.6h-1.4zM727.8 868.3h1.4v9.6h-1.4zM727.7 916.1h1.4v9.6h-1.4zM785.9 534.1h1.4v9.6h-1.4zM784.7 543.6h1.2v9.6h-1.2zM785.8 553.2h1.4v9.6h-1.4zM784.7 572.3h1.2v9.6h-1.2zM781.1 629.6h1.2v9.6h-1.2zM784.6 629.6h1.2v9.6h-1.2zM785.7 639.1h1.4v9.6h-1.4zM785.7 648.7h1.4v9.6h-1.4zM784.5 658.2h1.2v9.6h-1.2zM785.6 677.3h1.4v9.6h-1.4zM781 686.9h1.2v9.6h-1.2zM784.5 686.9h1.2v9.6h-1.2zM780.9 734.6h1.2v9.6h-1.2zM784.4 734.6h1.2v9.6h-1.2zM785.4 801.5h1.4v9.6h-1.4zM785.3 830.1h1.4v9.6h-1.4zM785.3 839.7h1.4v9.6h-1.4zM785.3 849.2h1.4v9.6h-1.4zM785.3 858.8h1.4v9.6h-1.4zM785.3 868.3h1.4v9.6h-1.4zM785.2 887.4h1.4v9.6h-1.4zM780.6 944.7h1.2v9.6h-1.2zM784 944.7h1.2v9.6h-1.2zM843.5 534.1h1.4v9.6h-1.4zM838.8 572.3h1.2v9.6h-1.2zM842.3 572.3h1.2v9.6h-1.2zM838.8 591.4h1.2v9.6h-1.2zM842.2 591.4h1.2v9.6h-1.2zM838.8 600.9h1.2v9.6h-1.2zM842.2 600.9h1.2v9.6h-1.2zM838.7 629.6h1.2v9.6h-1.2zM842.1 629.6h1.2v9.6h-1.2zM843.2 639.1h1.4v9.6h-1.4zM838.6 667.8h1.2v9.6h-1.2zM842 667.8h1.2v9.6h-1.2zM842 686.9h1.2v9.6h-1.2zM841.9 706h1.2v9.6h-1.2zM838.5 725.1h1.2v9.6h-1.2zM841.9 725.1h1.2v9.6h-1.2zM841.8 734.6h1.2v9.6h-1.2zM838.4 763.3h1.2v9.6h-1.2zM841.8 763.3h1.2v9.6h-1.2zM838.3 772.8h1.2v9.6h-1.2zM841.8 772.8h1.2v9.6h-1.2zM838.3 791.9h1.2v9.6h-1.2zM841.7 791.9h1.2v9.6h-1.2zM838.2 811h1.2v9.6h-1.2zM841.7 811h1.2v9.6h-1.2zM838.1 858.8h1.2v9.6h-1.2zM841.5 858.8h1.2v9.6h-1.2zM842.7 868.3h1.4v9.6h-1.4zM838.1 877.9h1.2v9.6h-1.2zM841.5 877.9h1.2v9.6h-1.2zM842.6 897h1.4v9.6h-1.4zM842.5 916.1h1.4v9.6h-1.4zM837.9 935.2h1.2v9.6h-1.2zM841.3 935.2h1.2v9.6h-1.2zM837.9 944.7h1.2v9.6h-1.2zM837.9 954.3h1.2v9.6h-1.2zM841.3 954.3h1.2v9.6h-1.2zM841.3 963.8h1.2v9.6h-1.2zM842.4 973.4h1.4v9.6h-1.4zM900.7 581.8h1.4v9.6h-1.4zM900.7 600.9h1.4v9.6h-1.4zM900.7 610.5h1.4v9.6h-1.4zM900.7 620h1.4v9.6h-1.4zM900.6 639.1h1.4v9.6h-1.4zM900.6 658.2h1.4v9.6h-1.4zM900.6 667.8h1.4v9.6h-1.4zM899.4 686.9h1.2v9.6h-1.2zM900.5 696.4h1.4v9.6h-1.4zM899.4 706h1.2v9.6h-1.2zM900.5 715.5h1.4v9.6h-1.4zM900.5 725.1h1.4v9.6h-1.4zM900.4 753.7h1.4v9.6h-1.4zM900.4 763.3h1.4v9.6h-1.4zM900.4 772.8h1.4v9.6h-1.4zM900.2 849.2h1.4v9.6h-1.4zM900.2 877.9h1.4v9.6h-1.4zM900.2 887.4h1.4v9.6h-1.4zM900.1 906.5h1.4v9.6h-1.4zM900.1 944.7h1.4v9.6h-1.4zM900 963.8h1.4v9.6h-1.4zM900 973.4h1.4v9.6h-1.4zM131.4 553.2h1.2v9.6h-1.2zM131.4 753.7h1.2v9.6h-1.2zM131.4 811h1.2v9.6h-1.2zM131.4 820.6h1.2v9.6h-1.2zM131.4 858.8h1.2v9.6h-1.2zM131.4 906.5h1.2v9.6h-1.2zM131.4 935.2h1.2v9.6h-1.2zM131.4 963.8h1.2v9.6h-1.2zM135.4 524.5h1.2v9.6h-1.2zM135.4 562.7h1.2v9.6h-1.2zM135.4 591.4h1.2v9.6h-1.2zM135.4 877.9h1.2v9.6h-1.2zM135.4 925.6h1.2v9.6h-1.2zM135.4 973.4h1.2v9.6h-1.2zM256.3 553.2h1.2v9.6h-1.2zM256.3 648.7h1.2v9.6h-1.2zM256.3 753.7h1.2v9.6h-1.2zM256.3 801.5h1.2v9.6h-1.2zM256.3 820.6h1.2v9.6h-1.2zM256.3 887.4h1.2v9.6h-1.2zM256.3 897h1.2v9.6h-1.2zM373.1 610.5h1.2v9.6h-1.2zM373.1 639.1h1.2v9.6h-1.2zM373.1 830.1h1.2v9.6h-1.2zM496.2 553.2h1.2v9.6h-1.2zM496.2 600.9h1.2v9.6h-1.2zM496.2 753.7h1.2v9.6h-1.2zM496.2 811h1.2v9.6h-1.2zM496.2 916.1h1.2v9.6h-1.2zM180 534.1h1.2v9.6h-1.2zM180 581.8h1.2v9.6h-1.2zM180 734.6h1.2v9.6h-1.2zM657.5 916.1h1.2v9.6h-1.2z" fill="#05f"/>
<path d="M91.2 572.3h1.2v9.6h-1.2zM91.2 591.4h1.2v9.6h-1.2zM91.3 696.4h1.2v9.6h-1.2zM92.5 715.5h1.2v9.6h-1.2zM92.5 753.7h1.2v9.6h-1.2zM149 696.4h1.2v9.6h-1.2zM148.8 801.5h1.2v9.6h-1.2zM148.6 858.8h1.2v9.6h-1.2zM148.4 973.4h1.2v9.6h-1.2zM148.4 982.9h1.2v9.6h-1.2zM206.3 753.7h1.2v9.6h-1.2zM206.8 897h1.2v9.6h-1.2zM320.9 572.3h1.2v9.6h-1.2zM320.9 600.9h1.2v9.6h-1.2zM321.1 658.2h1.2v9.6h-1.2zM321.7 963.8h1.2v9.6h-1.2zM321.8 973.4h1.2v9.6h-1.2zM666.8 610.5h1.2v9.6h-1.2zM667.3 868.3h1.2v9.6h-1.2zM667.4 897h1.2v9.6h-1.2zM724.4 868.3h1.2v9.6h-1.2zM724.3 916.1h1.2v9.6h-1.2zM782.3 639.1h1.2v9.6h-1.2zM782.2 648.7h1.2v9.6h-1.2zM782.2 677.3h1.2v9.6h-1.2zM781.9 839.7h1.2v9.6h-1.2zM781.8 868.3h1.2v9.6h-1.2zM781.8 887.4h1.2v9.6h-1.2zM839.8 639.1h1.2v9.6h-1.2zM839.2 868.3h1.2v9.6h-1.2zM897.3 600.9h1.2v9.6h-1.2zM897.2 658.2h1.2v9.6h-1.2zM897.1 667.8h1.2v9.6h-1.2zM897 725.1h1.2v9.6h-1.2zM897 753.7h1.2v9.6h-1.2zM897 772.8h1.2v9.6h-1.2zM896.8 877.9h1.2v9.6h-1.2z" fill="#f50"/>
<path d="M92.3 572.3h1.2v9.6h-1.2zM92.3 591.4h1.2v9.6h-1.2zM92.4 696.4h1.2v9.6h-1.2zM90.3 715.5h1.2v9.6h-1.2zM92.5 725.1h1.2v9.6h-1.2zM90.3 753.7h1.2v9.6h-1.2zM93.7 830.1h1.2v9.6h-1.2zM92.6 858.8h1.2v9.6h-1.2zM92.7 935.2h1.2v9.6h-1.2zM150.5 534.1h1.2v9.6h-1.2zM150.5 543.6h1.2v9.6h-1.2zM150.3 629.6h1.2v9.6h-1.2zM150.2 658.2h1.2v9.6h-1.2zM150 763.3h1.2v9.6h-1.2zM149.9 772.8h1.2v9.6h-1.2zM149.9 791.9h1.2v9.6h-1.2zM149.7 858.8h1.2v9.6h-1.2zM149.6 925.6h1.2v9.6h-1.2zM149.5 982.9h1.2v9.6h-1.2zM205.9 600.9h1.2v9.6h-1.2zM207.1 639.1h1.2v9.6h-1.2zM207.1 648.7h1.2v9.6h-1.2zM206.1 686.9h1.2v9.6h-1.2zM206.2 696.4h1.2v9.6h-1.2zM206.4 763.3h1.2v9.6h-1.2zM263.9 658.2h1.2v9.6h-1.2zM263.9 667.8h1.2v9.6h-1.2zM263.9 677.3h1.2v9.6h-1.2zM263.9 686.9h1.2v9.6h-1.2zM263.9 696.4h1.2v9.6h-1.2zM263.8 744.2h1.2v9.6h-1.2zM263.8 782.4h1.2v9.6h-1.2zM263.8 811h1.2v9.6h-1.2zM264.8 830.1h1.2v9.6h-1.2zM263.7 925.6h1.2v9.6h-1.2zM263.6 944.7h1.2v9.6h-1.2zM321.9 543.6h1.2v9.6h-1.2zM322 572.3h1.2v9.6h-1.2zM322 591.4h1.2v9.6h-1.2zM322 600.9h1.2v9.6h-1.2zM319.9 639.1h1.2v9.6h-1.2zM322.2 658.2h1.2v9.6h-1.2zM322.2 667.8h1.2v9.6h-1.2zM322.3 725.1h1.2v9.6h-1.2zM322.4 772.8h1.2v9.6h-1.2zM322.6 839.7h1.2v9.6h-1.2zM552.8 830.1h1.7v9.6h-1.7zM610.1 648.7h1.7v9.6h-1.7zM610.2 715.5h1.7v9.6h-1.7zM610.2 753.7h1.7v9.6h-1.7zM610.3 897h1.7v9.6h-1.7zM610.4 916.1h1.7v9.6h-1.7zM666.8 591.4h1.2v9.6h-1.2zM666.8 600.9h1.2v9.6h-1.2zM667.9 610.5h1.2v9.6h-1.2zM666.8 629.6h1.2v9.6h-1.2zM667 686.9h1.2v9.6h-1.2zM667 706h1.2v9.6h-1.2zM668.4 849.2h1.2v9.6h-1.2zM667.3 858.8h1.2v9.6h-1.2zM668.6 916.1h1.2v9.6h-1.2zM667.4 925.6h1.2v9.6h-1.2zM667.5 935.2h1.2v9.6h-1.2zM726.1 562.7h1.2v9.6h-1.2zM724.9 591.4h1.2v9.6h-1.2zM725.9 648.7h1.2v9.6h-1.2zM724.8 658.2h1.2v9.6h-1.2zM725.9 677.3h1.2v9.6h-1.2zM783.5 600.9h1.2v9.6h-1.2zM783.5 610.5h1.2v9.6h-1.2zM783.4 648.7h1.2v9.6h-1.2zM782.2 686.9h1.2v9.6h-1.2zM783.3 696.4h1.2v9.6h-1.2zM782.1 734.6h1.2v9.6h-1.2zM783.1 801.5h1.2v9.6h-1.2zM783 839.7h1.2v9.6h-1.2zM783 858.8h1.2v9.6h-1.2zM782.9 887.4h1.2v9.6h-1.2zM782.8 963.8h1.2v9.6h-1.2zM782.8 973.4h1.2v9.6h-1.2zM782.8 982.9h1.2v9.6h-1.2zM841.2 534.1h1.2v9.6h-1.2zM840 572.3h1.2v9.6h-1.2zM839.9 591.4h1.2v9.6h-1.2zM839.9 600.9h1.2v9.6h-1.2zM840.9 677.3h1.2v9.6h-1.2zM839.6 725.1h1.2v9.6h-1.2zM839.5 763.3h1.2v9.6h-1.2zM839.4 791.9h1.2v9.6h-1.2zM840.3 916.1h1.2v9.6h-1.2zM839 954.3h1.2v9.6h-1.2zM840.1 973.4h1.2v9.6h-1.2zM840.1 982.9h1.2v9.6h-1.2zM898.5 534.1h1.2v9.6h-1.2zM898.3 658.2h1.2v9.6h-1.2zM898.3 667.8h1.2v9.6h-1.2zM898.2 696.4h1.2v9.6h-1.2zM898.1 763.3h1.2v9.6h-1.2zM898.1 782.4h1.2v9.6h-1.2zM897.9 887.4h1.2v9.6h-1.2zM897.8 944.7h1.2v9.6h-1.2zM897.7 982.9h1.2v9.6h-1.2z" fill="#80ff80"/>
<path d="M93.4 572.3h1.2v9.6h-1.2zM94.5 581.8h1.3v9.6h-1.3zM93.4 591.4h1.2v9.6h-1.2zM94.6 610.5h1.3v9.6h-1.3zM90.2 686.9h1.2v9.6h-1.2zM94.7 715.5h1.3v9.6h-1.3zM93.6 725.1h1.2v9.6h-1.2zM90.3 744.2h1.2v9.6h-1.2zM93.6 744.2h1.2v9.6h-1.2zM94.7 753.7h1.3v9.6h-1.3zM90.3 791.9h1.2v9.6h-1.2zM93.6 791.9h1.2v9.6h-1.2zM90.3 811h1.2v9.6h-1.2zM93.7 811h1.2v9.6h-1.2zM90.4 858.8h1.2v9.6h-1.2zM93.7 858.8h1.2v9.6h-1.2zM90.4 877.9h1.2v9.6h-1.2zM93.7 877.9h1.2v9.6h-1.2zM94.9 916.1h1.3v9.6h-1.3zM93.8 935.2h1.2v9.6h-1.2zM90.5 944.7h1.2v9.6h-1.2zM93.8 944.7h1.2v9.6h-1.2zM90.5 954.3h1.2v9.6h-1.2zM93.8 954.3h1.2v9.6h-1.2zM94.9 973.4h1.3v9.6h-1.3zM148.3 534.1h1.2v9.6h-1.2zM151.6 534.1h1.2v9.6h-1.2zM148.3 543.6h1.2v9.6h-1.2zM151.6 543.6h1.2v9.6h-1.2zM148.2 562.7h1.2v9.6h-1.2zM151.5 562.7h1.2v9.6h-1.2zM148.1 620h1.2v9.6h-1.2zM151.4 620h1.2v9.6h-1.2zM151.4 629.6h1.2v9.6h-1.2zM151.3 658.2h1.2v9.6h-1.2zM148 667.8h1.2v9.6h-1.2zM151.3 667.8h1.2v9.6h-1.2zM147.9 706h1.2v9.6h-1.2zM151.2 706h1.2v9.6h-1.2zM147.8 725.1h1.2v9.6h-1.2zM151.2 725.1h1.2v9.6h-1.2zM147.8 734.6h1.2v9.6h-1.2zM151.1 734.6h1.2v9.6h-1.2zM151.1 763.3h1.2v9.6h-1.2zM147.7 772.8h1.2v9.6h-1.2zM151 772.8h1.2v9.6h-1.2zM151 791.9h1.2v9.6h-1.2zM147.5 877.9h1.2v9.6h-1.2zM147.4 906.5h1.2v9.6h-1.2zM150.7 906.5h1.2v9.6h-1.2zM150.7 925.6h1.2v9.6h-1.2zM147.3 954.3h1.2v9.6h-1.2zM150.6 982.9h1.2v9.6h-1.2zM204.6 534.1h1.2v9.6h-1.2zM207.9 534.1h1.2v9.6h-1.2zM206.8 543.6h1.2v9.6h-1.2zM204.6 553.2h1.2v9.6h-1.2zM207.9 553.2h1.2v9.6h-1.2zM206.9 572.3h1.2v9.6h-1.2zM204.7 581.8h1.2v9.6h-1.2zM204.8 610.5h1.2v9.6h-1.2zM208.2 639.1h1.2v9.6h-1.2zM208.2 648.7h1.2v9.6h-1.2zM205 677.3h1.2v9.6h-1.2zM205.1 715.5h1.2v9.6h-1.2zM208.4 715.5h1.2v9.6h-1.2zM205.4 801.5h1.2v9.6h-1.2zM208.7 801.5h1.2v9.6h-1.2zM207.6 811h1.2v9.6h-1.2zM205.5 849.2h1.2v9.6h-1.2zM207.8 877.9h1.2v9.6h-1.2zM205.6 887.4h1.2v9.6h-1.2zM207.9 925.6h1.2v9.6h-1.2zM208 944.7h1.2v9.6h-1.2zM205.9 982.9h1.2v9.6h-1.2zM209.2 982.9h1.2v9.6h-1.2zM262.9 534.1h1.2v9.6h-1.2zM262.9 553.2h1.2v9.6h-1.2zM265.1 562.7h1.2v9.6h-1.2zM265.1 572.3h1.2v9.6h-1.2zM265.1 591.4h1.2v9.6h-1.2zM265 706h1.2v9.6h-1.2zM262.7 715.5h1.2v9.6h-1.2zM266.1 715.5h1.2v9.6h-1.2zM264.9 725.1h1.2v9.6h-1.2zM262.7 753.7h1.2v9.6h-1.2zM266 753.7h1.2v9.6h-1.2zM264.9 772.8h1.2v9.6h-1.2zM264.9 791.9h1.2v9.6h-1.2zM262.7 801.5h1.2v9.6h-1.2zM262.6 830.1h1.2v9.6h-1.2zM266 830.1h1.2v9.6h-1.2zM262.6 868.3h1.2v9.6h-1.2zM264.8 877.9h1.2v9.6h-1.2zM262.6 906.5h1.2v9.6h-1.2zM264.7 935.2h1.2v9.6h-1.2zM264.7 954.3h1.2v9.6h-1.2zM319.7 543.6h1.2v9.6h-1.2zM323 543.6h1.2v9.6h-1.2zM323.1 591.4h1.2v9.6h-1.2zM319.9 629.6h1.2v9.6h-1.2zM324.3 639.1h1.3v9.6h-1.3zM323.3 667.8h1.2v9.6h-1.2zM324.4 677.3h1.3v9.6h-1.3zM320 686.9h1.2v9.6h-1.2zM320.1 706h1.2v9.6h-1.2zM323.4 706h1.2v9.6h-1.2zM320.1 725.1h1.2v9.6h-1.2zM323.4 725.1h1.2v9.6h-1.2zM320.2 772.8h1.2v9.6h-1.2zM323.5 772.8h1.2v9.6h-1.2zM320.2 791.9h1.2v9.6h-1.2zM320.3 811h1.2v9.6h-1.2zM323.7 839.7h1.2v9.6h-1.2zM324.8 868.3h1.3v9.6h-1.3zM320.4 877.9h1.2v9.6h-1.2zM320.6 944.7h1.2v9.6h-1.2zM325.1 982.9h1.3v9.6h-1.3zM382.1 581.8h1.7v9.6h-1.7zM382 648.7h1.7v9.6h-1.7zM380.4 686.9h1.7v9.6h-1.7zM380.4 753.7h1.7v9.6h-1.7zM381.8 897h1.7v9.6h-1.7zM381.7 916.1h1.7v9.6h-1.7zM380.1 973.4h1.7v9.6h-1.7zM437.4 562.7h1.7v9.6h-1.7zM437.7 696.4h1.7v9.6h-1.7zM437.7 725.1h1.7v9.6h-1.7zM437.8 744.2h1.7v9.6h-1.7zM437.8 753.7h1.7v9.6h-1.7zM437.9 772.8h1.7v9.6h-1.7zM437.9 801.5h1.7v9.6h-1.7zM437.9 811h1.7v9.6h-1.7zM438 820.6h1.7v9.6h-1.7zM438 849.2h1.7v9.6h-1.7zM438.1 877.9h1.7v9.6h-1.7zM438.1 887.4h1.7v9.6h-1.7zM438.3 963.8h1.7v9.6h-1.7zM496.4 553.2h1.7v9.6h-1.7zM495.1 696.4h1.7v9.6h-1.7zM495.4 791.9h1.7v9.6h-1.7zM495.4 820.6h1.7v9.6h-1.7zM495.6 877.9h1.7v9.6h-1.7zM497.2 897h1.7v9.6h-1.7zM497.2 916.1h1.7v9.6h-1.7zM554 534.1h1.7v9.6h-1.7zM554.1 553.2h1.7v9.6h-1.7zM554.2 629.6h1.7v9.6h-1.7zM554.2 658.2h1.7v9.6h-1.7zM552.8 782.4h1.7v9.6h-1.7zM554.4 791.9h1.7v9.6h-1.7zM554.4 849.2h1.7v9.6h-1.7zM554.5 868.3h1.7v9.6h-1.7zM554.5 897h1.7v9.6h-1.7zM554.6 963.8h1.7v9.6h-1.7zM611.6 534.1h1.7v9.6h-1.7zM610.1 562.7h1.7v9.6h-1.7zM611.6 581.8h1.7v9.6h-1.7zM610.1 600.9h1.7v9.6h-1.7zM610.1 629.6h1.7v9.6h-1.7zM611.7 639.1h1.7v9.6h-1.7zM610.2 706h1.7v9.6h-1.7zM610.2 772.8h1.7v9.6h-1.7zM610.4 944.7h1.7v9.6h-1.7zM612 973.4h1.7v9.6h-1.7zM612 982.9h1.7v9.6h-1.7zM665.5 553.2h1.2v9.6h-1.2zM669 553.2h1.2v9.6h-1.2zM665.6 562.7h1.2v9.6h-1.2zM669 562.7h1.2v9.6h-1.2zM669.1 610.5h1.2v9.6h-1.2zM665.8 696.4h1.2v9.6h-1.2zM665.9 715.5h1.2v9.6h-1.2zM669.3 715.5h1.2v9.6h-1.2zM665.9 725.1h1.2v9.6h-1.2zM666 753.7h1.2v9.6h-1.2zM669.4 753.7h1.2v9.6h-1.2zM666 782.4h1.2v9.6h-1.2zM668.3 811h1.2v9.6h-1.2zM666.1 820.6h1.2v9.6h-1.2zM666.1 839.7h1.2v9.6h-1.2zM669.6 849.2h1.2v9.6h-1.2zM666.2 887.4h1.2v9.6h-1.2zM666.3 906.5h1.2v9.6h-1.2zM669.7 916.1h1.2v9.6h-1.2zM666.4 954.3h1.2v9.6h-1.2zM666.4 982.9h1.2v9.6h-1.2zM723.8 553.2h1.2v9.6h-1.2zM727.2 553.2h1.2v9.6h-1.2zM723.8 562.7h1.2v9.6h-1.2zM727.2 562.7h1.2v9.6h-1.2zM723.7 600.9h1.2v9.6h-1.2zM727.2 600.9h1.2v9.6h-1.2zM723.7 610.5h1.2v9.6h-1.2zM723.6 648.7h1.2v9.6h-1.2zM727.1 648.7h1.2v9.6h-1.2zM727 677.3h1.2v9.6h-1.2zM725.8 686.9h1.2v9.6h-1.2zM723.5 725.1h1.2v9.6h-1.2zM723.4 782.4h1.2v9.6h-1.2zM725.6 811h1.2v9.6h-1.2zM723.3 839.7h1.2v9.6h-1.2zM726.7 839.7h1.2v9.6h-1.2zM723.3 849.2h1.2v9.6h-1.2zM726.7 849.2h1.2v9.6h-1.2zM723.2 877.9h1.2v9.6h-1.2zM726.6 877.9h1.2v9.6h-1.2zM723.2 897h1.2v9.6h-1.2zM726.6 897h1.2v9.6h-1.2zM723.1 925.6h1.2v9.6h-1.2zM726.5 925.6h1.2v9.6h-1.2zM723.1 935.2h1.2v9.6h-1.2zM726.5 935.2h1.2v9.6h-1.2zM723 973.4h1.2v9.6h-1.2zM723 982.9h1.2v9.6h-1.2zM726.4 982.9h1.2v9.6h-1.2zM781.3 562.7h1.2v9.6h-1.2zM784.7 562.7h1.2v9.6h-1.2zM781.2 581.8h1.2v9.6h-1.2zM784.6 581.8h1.2v9.6h-1.2zM781.2 600.9h1.2v9.6h-1.2zM784.6 600.9h1.2v9.6h-1.2zM784.6 610.5h1.2v9.6h-1.2zM781.2 620h1.2v9.6h-1.2zM784.5 648.7h1.2v9.6h-1.2zM784.4 696.4h1.2v9.6h-1.2zM781 715.5h1.2v9.6h-1.2zM784.4 715.5h1.2v9.6h-1.2zM781 725.1h1.2v9.6h-1.2zM780.9 744.2h1.2v9.6h-1.2zM784.3 744.2h1.2v9.6h-1.2zM780.9 763.3h1.2v9.6h-1.2zM784.3 763.3h1.2v9.6h-1.2zM780.9 782.4h1.2v9.6h-1.2zM784.2 801.5h1.2v9.6h-1.2zM784.2 839.7h1.2v9.6h-1.2zM784.1 858.8h1.2v9.6h-1.2zM784.1 887.4h1.2v9.6h-1.2zM780.6 897h1.2v9.6h-1.2zM784.1 897h1.2v9.6h-1.2zM780.6 916.1h1.2v9.6h-1.2zM784 916.1h1.2v9.6h-1.2zM780.5 963.8h1.2v9.6h-1.2zM783.9 963.8h1.2v9.6h-1.2zM780.5 973.4h1.2v9.6h-1.2zM783.9 973.4h1.2v9.6h-1.2zM780.5 982.9h1.2v9.6h-1.2zM783.9 982.9h1.2v9.6h-1.2zM842.4 534.1h1.2v9.6h-1.2zM838.9 553.2h1.2v9.6h-1.2zM838.9 562.7h1.2v9.6h-1.2zM842.3 562.7h1.2v9.6h-1.2zM838.7 620h1.2v9.6h-1.2zM842.1 620h1.2v9.6h-1.2zM838.6 648.7h1.2v9.6h-1.2zM842.1 648.7h1.2v9.6h-1.2zM838.6 658.2h1.2v9.6h-1.2zM842 658.2h1.2v9.6h-1.2zM838.6 677.3h1.2v9.6h-1.2zM842 677.3h1.2v9.6h-1.2zM838.4 744.2h1.2v9.6h-1.2zM838.4 753.7h1.2v9.6h-1.2zM841.8 753.7h1.2v9.6h-1.2zM838.2 830.1h1.2v9.6h-1.2zM841.6 830.1h1.2v9.6h-1.2zM838.2 839.7h1.2v9.6h-1.2zM838 887.4h1.2v9.6h-1.2zM841.5 887.4h1.2v9.6h-1.2zM838 906.5h1.2v9.6h-1.2zM841.4 906.5h1.2v9.6h-1.2zM841.4 916.1h1.2v9.6h-1.2zM840.2 944.7h1.2v9.6h-1.2zM841.3 973.4h1.2v9.6h-1.2zM837.8 982.9h1.2v9.6h-1.2zM841.2 982.9h1.2v9.6h-1.2zM896.3 534.1h1.2v9.6h-1.2zM899.7 534.1h1.2v9.6h-1.2zM896.2 572.3h1.2v9.6h-1.2zM899.6 572.3h1.2v9.6h-1.2zM899.4 658.2h1.2v9.6h-1.2zM899.4 696.4h1.2v9.6h-1.2zM895.9 744.2h1.2v9.6h-1.2zM899.3 744.2h1.2v9.6h-1.2zM899.3 763.3h1.2v9.6h-1.2zM895.8 782.4h1.2v9.6h-1.2zM899.2 782.4h1.2v9.6h-1.2zM895.8 791.9h1.2v9.6h-1.2zM899.2 791.9h1.2v9.6h-1.2zM895.7 811h1.2v9.6h-1.2zM899.2 811h1.2v9.6h-1.2zM895.7 820.6h1.2v9.6h-1.2zM895.7 839.7h1.2v9.6h-1.2zM899.1 839.7h1.2v9.6h-1.2zM895.7 858.8h1.2v9.6h-1.2zM899 887.4h1.2v9.6h-1.2zM900.1 897h1.4v9.6h-1.4zM898.9 944.7h1.2v9.6h-1.2zM895.4 982.9h1.2v9.6h-1.2zM898.8 982.9h1.2v9.6h-1.2zM256.3 591.4h1.2v9.6h-1.2zM256.3 600.9h1.2v9.6h-1.2zM256.3 629.6h1.2v9.6h-1.2zM256.3 715.5h1.2v9.6h-1.2zM256.3 811h1.2v9.6h-1.2zM256.3 925.6h1.2v9.6h-1.2zM180 639.1h1.2v9.6h-1.2zM180 801.5h1.2v9.6h-1.2z" fill="#0af"/>
<path d="M92.3 581.8h1.2v9.6h-1.2zM92.4 610.5h1.2v9.6h-1.2zM91.4 725.1h1.2v9.6h-1.2zM91.5 858.8h1.2v9.6h-1.2zM92.7 916.1h1.2v9.6h-1.2zM91.6 935.2h1.2v9.6h-1.2zM92.7 973.4h1.2v9.6h-1.2zM149.4 543.6h1.2v9.6h-1.2zM149.2 629.6h1.2v9.6h-1.2zM149.1 658.2h1.2v9.6h-1.2zM148.9 763.3h1.2v9.6h-1.2zM148.8 772.8h1.2v9.6h-1.2zM148.8 791.9h1.2v9.6h-1.2zM148.5 925.6h1.2v9.6h-1.2zM206 639.1h1.2v9.6h-1.2zM206 648.7h1.2v9.6h-1.2zM263.7 830.1h1.2v9.6h-1.2zM320.8 543.6h1.2v9.6h-1.2zM320.9 591.4h1.2v9.6h-1.2zM322.1 639.1h1.2v9.6h-1.2zM321.1 667.8h1.2v9.6h-1.2zM321.2 725.1h1.2v9.6h-1.2zM321.3 772.8h1.2v9.6h-1.2zM321.5 839.7h1.2v9.6h-1.2zM667.3 849.2h1.2v9.6h-1.2zM667.4 916.1h1.2v9.6h-1.2zM724.9 562.7h1.2v9.6h-1.2zM724.8 648.7h1.2v9.6h-1.2zM724.7 677.3h1.2v9.6h-1.2zM782.3 600.9h1.2v9.6h-1.2zM782.3 610.5h1.2v9.6h-1.2zM782.2 696.4h1.2v9.6h-1.2zM782 801.5h1.2v9.6h-1.2zM781.9 858.8h1.2v9.6h-1.2zM781.7 963.8h1.2v9.6h-1.2zM781.6 973.4h1.2v9.6h-1.2zM781.6 982.9h1.2v9.6h-1.2zM840.1 534.1h1.2v9.6h-1.2zM839.7 677.3h1.2v9.6h-1.2zM839.1 916.1h1.2v9.6h-1.2zM839 973.4h1.2v9.6h-1.2zM838.9 982.9h1.2v9.6h-1.2zM897.4 534.1h1.2v9.6h-1.2zM897.1 696.4h1.2v9.6h-1.2zM897 763.3h1.2v9.6h-1.2zM896.9 782.4h1.2v9.6h-1.2zM896.7 887.4h1.2v9.6h-1.2zM896.6 944.7h1.2v9.6h-1.2zM896.6 982.9h1.2v9.6h-1.2z" fill="#ff8000"/>
<path d="M92.3 600.9h1.2v9.6h-1.2zM92.4 639.1h1.2v9.6h-1.2zM91.3 686.9h1.2v9.6h-1.2zM92.6 887.4h1.2v9.6h-1.2zM92.6 897h1.2v9.6h-1.2zM92.7 963.8h1.2v9.6h-1.2zM92.7 982.9h1.2v9.6h-1.2zM150.4 553.2h1.2v9.6h-1.2zM150.4 581.8h1.2v9.6h-1.2zM150.2 639.1h1.2v9.6h-1.2zM149 706h1.2v9.6h-1.2zM149.7 868.3h1.2v9.6h-1.2zM148.6 877.9h1.2v9.6h-1.2zM149.7 897h1.2v9.6h-1.2zM148.4 954.3h1.2v9.6h-1.2zM205.7 534.1h1.2v9.6h-1.2zM205.8 581.8h1.2v9.6h-1.2zM205.9 610.5h1.2v9.6h-1.2zM206.1 677.3h1.2v9.6h-1.2zM206.2 715.5h1.2v9.6h-1.2zM206.6 849.2h1.2v9.6h-1.2zM206.7 887.4h1.2v9.6h-1.2zM207 982.9h1.2v9.6h-1.2zM264 534.1h1.2v9.6h-1.2zM264 553.2h1.2v9.6h-1.2zM263.9 715.5h1.2v9.6h-1.2zM263.8 801.5h1.2v9.6h-1.2zM263.7 868.3h1.2v9.6h-1.2zM263.7 906.5h1.2v9.6h-1.2zM321.9 534.1h1.2v9.6h-1.2zM321 629.6h1.2v9.6h-1.2zM321.1 686.9h1.2v9.6h-1.2zM321.4 791.9h1.2v9.6h-1.2zM321.4 811h1.2v9.6h-1.2zM322.6 849.2h1.2v9.6h-1.2zM321.5 877.9h1.2v9.6h-1.2zM322.7 897h1.2v9.6h-1.2zM321.7 944.7h1.2v9.6h-1.2zM667 696.4h1.2v9.6h-1.2zM667 725.1h1.2v9.6h-1.2zM667.1 753.7h1.2v9.6h-1.2zM667.1 782.4h1.2v9.6h-1.2zM667.2 820.6h1.2v9.6h-1.2zM667.3 839.7h1.2v9.6h-1.2zM667.4 887.4h1.2v9.6h-1.2zM667.4 906.5h1.2v9.6h-1.2zM667.5 954.3h1.2v9.6h-1.2zM667.6 982.9h1.2v9.6h-1.2zM725 553.2h1.2v9.6h-1.2zM724.9 610.5h1.2v9.6h-1.2zM724.6 725.1h1.2v9.6h-1.2zM724.5 782.4h1.2v9.6h-1.2zM724.3 877.9h1.2v9.6h-1.2zM724.3 897h1.2v9.6h-1.2zM724.2 935.2h1.2v9.6h-1.2zM724.2 973.4h1.2v9.6h-1.2zM782.3 620h1.2v9.6h-1.2zM782.1 725.1h1.2v9.6h-1.2zM782 782.4h1.2v9.6h-1.2zM840 553.2h1.2v9.6h-1.2zM839.8 658.2h1.2v9.6h-1.2zM839.5 744.2h1.2v9.6h-1.2zM839.3 830.1h1.2v9.6h-1.2zM839.2 887.4h1.2v9.6h-1.2zM898.3 648.7h1.2v9.6h-1.2zM896.9 791.9h1.2v9.6h-1.2zM896.9 820.6h1.2v9.6h-1.2zM896.8 858.8h1.2v9.6h-1.2z" fill="#ffd500"/>
<path d="M91.3 677.3h1.2v9.6h-1.2zM91.4 763.3h1.2v9.6h-1.2zM91.4 782.4h1.2v9.6h-1.2zM91.5 839.7h1.2v9.6h-1.2zM91.5 868.3h1.2v9.6h-1.2zM149.2 610.5h1.2v9.6h-1.2zM149.1 648.7h1.2v9.6h-1.2zM148.7 839.7h1.2v9.6h-1.2zM148.6 887.4h1.2v9.6h-1.2zM148.5 916.1h1.2v9.6h-1.2zM321.2 715.5h1.2v9.6h-1.2zM321.5 858.8h1.2v9.6h-1.2zM321.7 935.2h1.2v9.6h-1.2zM782.4 553.2h1.2v9.6h-1.2zM897.2 620h1.2v9.6h-1.2z" fill="#d50000"/>
<path d="M92.5 706h1.2v9.6h-1.2zM92.5 763.3h1.2v9.6h-1.2zM92.5 782.4h1.2v9.6h-1.2zM92.6 868.3h1.2v9.6h-1.2zM149.3 572.3h1.2v9.6h-1.2zM149.3 591.4h1.2v9.6h-1.2zM150.3 610.5h1.2v9.6h-1.2zM150.2 677.3h1.2v9.6h-1.2zM149.9 782.4h1.2v9.6h-1.2zM149.8 839.7h1.2v9.6h-1.2zM149.8 849.2h1.2v9.6h-1.2zM149.6 935.2h1.2v9.6h-1.2zM206 658.2h1.2v9.6h-1.2zM206.1 667.8h1.2v9.6h-1.2zM206.2 725.1h1.2v9.6h-1.2zM206.3 734.6h1.2v9.6h-1.2zM206.3 744.2h1.2v9.6h-1.2zM206.5 820.6h1.2v9.6h-1.2zM206.6 830.1h1.2v9.6h-1.2zM206.8 906.5h1.2v9.6h-1.2zM263.9 620h1.2v9.6h-1.2zM263.9 648.7h1.2v9.6h-1.2zM263.8 820.6h1.2v9.6h-1.2zM263.7 839.7h1.2v9.6h-1.2zM263.7 887.4h1.2v9.6h-1.2zM263.6 963.8h1.2v9.6h-1.2zM322 581.8h1.2v9.6h-1.2zM322.1 610.5h1.2v9.6h-1.2zM322.3 715.5h1.2v9.6h-1.2zM322.4 782.4h1.2v9.6h-1.2zM322.5 820.6h1.2v9.6h-1.2zM322.7 906.5h1.2v9.6h-1.2zM322.8 925.6h1.2v9.6h-1.2zM322.8 935.2h1.2v9.6h-1.2zM322.8 954.3h1.2v9.6h-1.2zM552.6 610.5h1.7v9.6h-1.7zM666.7 581.8h1.2v9.6h-1.2zM668 639.1h1.2v9.6h-1.2zM666.9 667.8h1.2v9.6h-1.2zM666.9 677.3h1.2v9.6h-1.2zM667.1 734.6h1.2v9.6h-1.2zM668.4 830.1h1.2v9.6h-1.2zM725 543.6h1.2v9.6h-1.2zM725.9 639.1h1.2v9.6h-1.2zM724.7 696.4h1.2v9.6h-1.2zM724.7 706h1.2v9.6h-1.2zM724.5 801.5h1.2v9.6h-1.2zM724.5 820.6h1.2v9.6h-1.2zM725.6 830.1h1.2v9.6h-1.2zM724.4 858.8h1.2v9.6h-1.2zM724.3 887.4h1.2v9.6h-1.2zM724.2 944.7h1.2v9.6h-1.2zM783.6 553.2h1.2v9.6h-1.2zM782.2 658.2h1.2v9.6h-1.2zM782.2 667.8h1.2v9.6h-1.2zM782.1 706h1.2v9.6h-1.2zM783 849.2h1.2v9.6h-1.2zM781.8 877.9h1.2v9.6h-1.2zM781.8 906.5h1.2v9.6h-1.2zM781.7 925.6h1.2v9.6h-1.2zM840 543.6h1.2v9.6h-1.2zM840 581.8h1.2v9.6h-1.2zM839.7 696.4h1.2v9.6h-1.2zM839.5 782.4h1.2v9.6h-1.2zM839.4 801.5h1.2v9.6h-1.2zM839.4 820.6h1.2v9.6h-1.2zM839.3 849.2h1.2v9.6h-1.2zM840.3 897h1.2v9.6h-1.2zM839.1 925.6h1.2v9.6h-1.2zM897.4 543.6h1.2v9.6h-1.2zM898.4 581.8h1.2v9.6h-1.2zM897.3 591.4h1.2v9.6h-1.2zM898.4 620h1.2v9.6h-1.2zM898.3 639.1h1.2v9.6h-1.2zM897 734.6h1.2v9.6h-1.2zM898 849.2h1.2v9.6h-1.2z" fill="#d5ff2a"/>
<path d="M149.1 677.3h1.2v9.6h-1.2zM148.8 782.4h1.2v9.6h-1.2zM148.7 849.2h1.2v9.6h-1.2zM148.5 935.2h1.2v9.6h-1.2zM320.9 581.8h1.2v9.6h-1.2zM321 610.5h1.2v9.6h-1.2zM321.3 782.4h1.2v9.6h-1.2zM321.4 820.6h1.2v9.6h-1.2zM321.6 906.5h1.2v9.6h-1.2zM321.6 925.6h1.2v9.6h-1.2zM321.7 954.3h1.2v9.6h-1.2zM666.9 639.1h1.2v9.6h-1.2zM667.2 830.1h1.2v9.6h-1.2zM724.8 639.1h1.2v9.6h-1.2zM724.4 830.1h1.2v9.6h-1.2zM781.9 849.2h1.2v9.6h-1.2zM839.2 897h1.2v9.6h-1.2zM897.3 581.8h1.2v9.6h-1.2zM897.2 639.1h1.2v9.6h-1.2zM896.8 849.2h1.2v9.6h-1.2z" fill="#f00"/>
<path d="M117.4 524.5h4v468h-4zM174.8 524.5h4v468h-4zM232.3 524.5h4v468h-4zM289.8 524.5h4v468h-4zM347.2 524.5h4v468h-4zM404.7 524.5h4v468h-4zM462.2 524.5h4v468h-4zM519.7 524.5h4v468h-4zM577.1 524.5h4v468h-4zM634.6 524.5h4v468h-4zM692.1 524.5h4v468h-4zM749.5 524.5h4v468h-4zM807 524.5h4v468h-4zM864.5 524.5h4v468h-4z" fill="#000"/>
<path d="M63.9 1085.2 64.5 1086.7 65.1 1086.7 65.7 1082.6 66.3 1090.9 66.9 1084.7 67.5 1081.4 68.1 1085.4 68.7 1082.8 69.3 1086.4 69.9 1082.7 70.5 1083.9 71.1 1081.4 71.7 1081.9 72.3 1082.5 72.9 1086.7 73.5 1087.6 74.1 1087.5 74.7 1084.5 75.3 1087.5 75.9 1082 76.5 1083.1 77.1 1087.2 77.7 1086.1 78.3 1083.3 78.9 1081.4 79.5 1082.6 80.1 1080.5 80.7 1077.4 81.3 1082.1 81.9 1078.1 82.5 1079.4 83.1 1076.9 83.7 1078.1 84.3 1081 84.9 1082 85.5 1076.1 86.1 1076.9 86.7 1077.6 87.3 1077.7 87.9 1079.7 88.5 1074.2 89.1 1077.4 89.7 1083.2 90.3 1072.5 90.9 1042.5 91.5 1007.6 92.1 1009.9 92.7 1028.4 93.3 1040.4 93.9 1052.5 94.5 1061.2 95.1 1069.7 95.7 1068.4 96.3 1073.9 96.9 1070.9 97.5 1081.7 98.1 1068.1 98.7 1077.9 99.3 1075.9 99.9 1073 100.5 1071.1 101.1 1071.2 101.7 1079.7 102.3 1073.9 102.9 1077.3 103.5 1082.9 104.1 1083.4 104.7 1082.5 105.3 1080.7 105.9 1081.4 106.5 1079 107.1 1083.1 107.7 1079.3 108.3 1083.2 108.9 1087.1 109.5 1082.7 110.1 1080.5 110.7 1089.7 111.3 1080.6 111.9 1082.7 112.5 1074.7 113.1 1082.2 113.7 1090.6 114.3 1089.1 114.9 1090.3 115.5 1081.2 116.1 1086.7 116.7 1082.3 117.3 1087M121.4 1087.8 122 1088.9 122.6 1083.3 123.2 1083.5 123.8 1086.5 124.4 1087.7 125 1083.7 125.6 1081.7 126.2 1082.1 126.8 1083.6 127.4 1087.7 128 1090.6 128.6 1085.6 129.2 1082.2 129.8 1084.4 130.4 1087.2 131 1084.6 131.6 1083.4 132.2 1083.8 132.8 1092 133.4 1087 134 1087.1 134.6 1082.2 135.2 1088.8 135.8 1091.7 136.4 1082.9 137 1084.8 137.6 1082.2 138.2 1088.6 138.8 1081.5 139.4 1085.8 140 1084.8 140.6 1085.6 141.2 1089.1 141.8 1081 142.4 1085.1 143 1085.3 143.6 1087 144.2 1084.1 144.8 1088 145.4 1089.8 146 1092.6 146.6 1087.6 147.2 1086 147.8 1084.8 148.4 1058.6 149 1020 149.6 1031.1 150.2 1049.2 150.8 1055.2 151.4 1066.2 152 1071 152.6 1069.4 153.2 1080.6 153.8 1075.9 154.4 1082.1 155 1079.4 155.6 1081.2 156.2 1086 156.8 1085.8 157.4 1075.7 158 1080.4 158.6 1083 159.2 1077.1 159.8 1084.8 160.4 1080.3 161 1085.5 161.6 1084.2 162.2 1085.2 162.8 1085.8 163.4 1080.5 164 1083.3 164.6 1086.8 165.2 1089.2 165.8 1085.3 166.4 1084.2 167 1080.1 167.6 1079.5 168.2 1087.9 168.8 1087.6 169.4 1082.1 170 1088.9 170.6 1077.5 171.2 1082.8 171.8 1083.9 172.4 1085.2 173 1085.1 173.6 1084.1 174.2 1082 174.8 1087.6M178.8 1086.2 179.4 1086.9 180 1085.6 180.6 1080.7 181.2 1081.1 181.8 1088.5 182.4 1083.4 183 1079.5 183.6 1083.7 184.2 1083.8 184.8 1081.1 185.4 1086.1 186 1081.4 186.6 1080.4 187.2 1080.1 187.8 1080.9 188.4 1084.8 189 1082.9 189.6 1086 190.2 1081.1 190.8 1088.8 191.4 1088.3 192 1086.3 192.6 1090.2 193.2 1085.5 193.8 1078.8 194.4 1073.8 195 1085 195.6 1079.1 196.2 1082.7 196.8 1086.3 197.4 1085.1 198 1082.4 198.6 1084.1 199.2 1091.4 199.8 1085.1 200.4 1086.8 201 1088.1 201.6 1086.5 202.2 1086.6 202.8 1089.2 203.4 1089 204 1085.8 204.6 1093.4 205.2 1085.8 205.8 1061.1 206.4 1041.9 207 1043.7 207.6 1059.4 208.2 1066.9 208.8 1077.7 209.4 1072.1 210 1080.5 210.6 1077.1 211.2 1080.2 211.8 1082.8 212.4 1086.6 213 1084.3 213.6 1085.6 214.2 1082.4 214.8 1075.7 215.4 1087.8 216 1085.2 216.6 1084.7 217.2 1086.8 217.8 1085.2 218.4 1083.6 219 1080.5 219.6 1082.4 220.2 1086.9 220.8 1076.4 221.4 1086.5 222 1088.3 222.6 1086.6 223.2 1084.4 223.8 1089.8 224.4 1084.8 225 1089.3 225.6 1083 226.2 1084.6 226.8 1084.6 227.4 1079 228 1087.7 228.6 1085.9 229.2 1083.8 229.8 1084.7 230.4 1088.1 231 1080.9 231.6 1079.6 232.2 1079M236.3 1085.9 236.9 1085.3 237.5 1086.4 238.1 1084.4 238.7 1090 239.3 1082.3 239.9 1086.4 240.5 1085.8 241.1 1081.3 241.7 1083.1 242.3 1087.9 242.9 1084.8 243.5 1079.4 244.1 1082.2 244.7 1083.4 245.3 1086.7 245.9 1089.1 246.5 1084.5 247.1 1085.2 247.7 1087.5 248.3 1084.2 248.9 1085.9 249.5 1085.4 250.1 1087 250.7 1089.8 251.3 1091.4 251.9 1085 252.5 1087.2 253.1 1079.1 253.7 1087.3 254.3 1082 254.9 1088.1 255.5 1088.1 256.1 1087.7 256.7 1077.2 257.3 1086.8 257.9 1083.2 258.5 1080.6 259.1 1085.2 259.7 1085 260.3 1081.1 260.9 1086.3 261.5 1083.4 262.1 1082.8 262.7 1091.2 263.3 1066.6 263.9 1049.5 264.5 1050.4 265.1 1058.6 265.7 1069.1 266.3 1080.4 266.9 1073.3 267.5 1085.5 268.1 1079.8 268.7 1076.7 269.3 1080 269.9 1083.7 270.5 1085.4 271.1 1084.5 271.7 1078.8 272.3 1081.3 272.9 1087.6 273.5 1081.8 274.1 1080.8 274.7 1083.9 275.3 1089.1 275.9 1086.6 276.5 1084 277.1 1084.7 277.7 1080.2 278.3 1083.7 278.9 1078.7 279.5 1080.4 280.1 1081.8 280.7 1079.6 281.3 1086.6 281.9 1085.8 282.5 1077.5 283.1 1083.3 283.7 1080.2 284.3 1083.5 284.9 1082.1 285.5 1082.5 286.1 1085.1 286.7 1082.7 287.3 1090.1 287.9 1080.4 288.5 1077.8 289.1 1084.3 289.7 1077.4M293.8 1087.5 294.4 1085.7 295 1086.5 295.6 1086.7 296.2 1091.6 296.8 1087.4 297.4 1089 298 1088.2 298.6 1088.3 299.2 1082.8 299.8 1084.3 300.4 1086.4 301 1083.3 301.6 1093.5 302.2 1083.6 302.8 1081.5 303.4 1077.7 304 1083.5 304.6 1080.5 305.2 1085.3 305.8 1081.2 306.4 1088.1 307 1084 307.6 1082.1 308.2 1079.3 308.8 1085.9 309.4 1082.2 310 1079.2 310.6 1080.8 311.2 1087 311.8 1077.9 312.4 1084.8 313 1088.3 313.6 1086.5 314.2 1081.9 314.8 1086.7 315.4 1085.8 316 1076.7 316.6 1087.9 317.2 1084.5 317.8 1082.2 318.4 1090.3 319 1084.4 319.6 1084 320.2 1087.8 320.8 1063 321.4 1014.3 322 1017.5 322.6 1038.4 323.2 1054.7 323.8 1056.9 324.4 1065.5 325 1069.2 325.6 1072.3 326.2 1074.9 326.8 1077.4 327.4 1076.1 328 1078.1 328.6 1079.5 329.2 1073.4 329.8 1076.8 330.4 1077.8 331 1080.2 331.6 1079.1 332.2 1080.1 332.8 1083.1 333.4 1088 334 1083 334.6 1085.7 335.2 1086.1 335.8 1080.9 336.4 1083.6 337 1084.3 337.6 1081.2 338.2 1081.6 338.8 1082.7 339.4 1083.4 340 1088.2 340.6 1085.5 341.2 1087.1 341.8 1085.4 342.4 1083 343 1089.1 343.6 1081.6 344.2 1087.2 344.8 1082.1 345.4 1081.8 346 1083 346.6 1084.3 347.2 1084.8M351.2 1090.3 351.9 1083.8 352.4 1085.4 353.1 1084.2 353.6 1085.5 354.2 1089.1 354.9 1084.3 355.4 1081.9 356.1 1082.8 356.6 1086.9 357.2 1089.4 357.9 1080.4 358.4 1085.8 359.1 1081.7 359.6 1079.8 360.2 1082.7 360.9 1088.7 361.4 1075.6 362.1 1084.6 362.6 1081.6 363.2 1086.5 363.9 1079.5 364.4 1083.7 365.1 1078.5 365.6 1077.8 366.2 1085.3 366.9 1086 367.4 1087.4 368.1 1085.7 368.6 1077 369.2 1075.6 369.9 1078.2 370.4 1083.7 371.1 1083.1 371.6 1081.9 372.2 1080.7 372.9 1083.2 373.4 1086.6 374.1 1080.9 374.6 1084.2 375.2 1080.2 375.9 1080.6 376.4 1084.5 377.1 1085 377.6 1086.7 378.2 1086.3 378.9 1087.4 379.4 1085.5 380.1 1077.7 380.6 1071.8 381.2 1071.8 381.9 1075 382.4 1083.2 383.1 1079.7 383.6 1087.5 384.2 1087.4 384.9 1086.5 385.4 1088.2 386.1 1095.6 386.6 1093.1 387.2 1091.3 387.9 1089.4 388.4 1085.3 389.1 1088.4 389.6 1085 390.2 1087.5 390.9 1084.5 391.4 1085.9 392.1 1088.6 392.6 1090.8 393.2 1084.6 393.9 1081.8 394.4 1091.2 395.1 1083.6 395.6 1083 396.2 1085.5 396.9 1082.9 397.4 1084.6 398.1 1087.3 398.6 1083.1 399.2 1085.6 399.9 1081.7 400.4 1080.3 401.1 1084.4 401.6 1081.8 402.2 1076.6 402.9 1083.9 403.4 1084.8 404.1 1083 404.6 1087.7M408.7 1080.5 409.3 1078.1 409.9 1083 410.5 1086.3 411.1 1085.7 411.7 1084.2 412.3 1090.3 412.9 1083.8 413.5 1081.6 414.1 1086.3 414.7 1082.1 415.3 1089.7 415.9 1083 416.5 1087.7 417.1 1082.4 417.7 1085.5 418.3 1079.7 418.9 1076.9 419.5 1081.7 420.1 1083.7 420.7 1085.8 421.3 1079.1 421.9 1082.5 422.5 1086.1 423.1 1080.5 423.7 1077.5 424.3 1083.4 424.9 1084 425.5 1082.4 426.1 1087.4 426.7 1090.1 427.3 1085.8 427.9 1092.1 428.5 1090.4 429.1 1093.5 429.7 1089.6 430.3 1090.3 430.9 1090.2 431.5 1088.2 432.1 1094.3 432.7 1085.2 433.3 1084.1 433.9 1088 434.5 1091.8 435.1 1093.3 435.7 1088.2 436.3 1087.7 436.9 1087.5 437.5 1077.7 438.1 1069.5 438.7 1073.9 439.3 1078.4 439.9 1076.4 440.5 1078.8 441.1 1084.3 441.7 1078.8 442.3 1078.7 442.9 1079.8 443.5 1077.5 444.1 1085.5 444.7 1079.2 445.3 1079.8 445.9 1081.6 446.5 1083.2 447.1 1083.3 447.7 1083.6 448.3 1083.7 448.9 1084.9 449.5 1083.1 450.1 1084.5 450.7 1079.5 451.3 1086.7 451.9 1079.8 452.5 1083.8 453.1 1084 453.7 1084.1 454.3 1085.1 454.9 1082.9 455.5 1084.8 456.1 1081.1 456.7 1087.1 457.3 1085.5 457.9 1081.4 458.5 1082.8 459.1 1083.3 459.7 1081.9 460.3 1083.2 460.9 1081.4 461.5 1082.1 462.1 1083.7M466.2 1086.1 466.8 1084.1 467.4 1087.9 468 1084.7 468.6 1082.8 469.2 1082.5 469.8 1089.1 470.4 1085.7 471 1087 471.6 1090.4 472.2 1085.7 472.8 1083.1 473.4 1080.7 474 1080.2 474.6 1085.3 475.2 1084.4 475.8 1084.6 476.4 1085.7 477 1082.8 477.6 1086.6 478.2 1088.5 478.8 1090.8 479.4 1084.2 480 1081.4 480.6 1085.1 481.2 1087.7 481.8 1083.6 482.4 1085.2 483 1083.8 483.6 1088.5 484.2 1085.7 484.8 1092.3 485.4 1081.4 486 1093.6 486.6 1088 487.2 1087.5 487.8 1086 488.4 1085.1 489 1083.5 489.6 1084.8 490.2 1085.4 490.8 1082.5 491.4 1084.9 492 1084.1 492.6 1082.5 493.2 1089.7 493.8 1086.6 494.4 1084.9 495 1077.8 495.6 1066.8 496.2 1069.4 496.8 1071.2 497.4 1075.3 498 1079.5 498.6 1074.4 499.2 1076.5 499.8 1087.5 500.4 1080.9 501 1084.3 501.6 1086.9 502.2 1083.3 502.8 1079.8 503.4 1086.6 504 1084.8 504.6 1080.9 505.2 1081.5 505.8 1083.8 506.4 1081.5 507 1085.9 507.6 1082.7 508.2 1082.2 508.8 1085 509.4 1087.9 510 1090.4 510.6 1087.5 511.2 1082.9 511.8 1084 512.4 1092.9 513 1087.6 513.6 1081.9 514.2 1086.5 514.8 1085.3 515.4 1090.6 516 1084.4 516.6 1085.1 517.2 1087.3 517.8 1086.1 518.4 1082.3 519 1082.1 519.6 1087.5M523.7 1078.8 524.3 1084.5 524.9 1080.4 525.5 1086.6 526.1 1086.3 526.7 1086.9 527.3 1080.9 527.9 1088.9 528.5 1086.5 529.1 1089.7 529.7 1089.3 530.3 1081.9 530.9 1086.3 531.5 1084 532.1 1090.3 532.7 1086.2 533.3 1089.1 533.9 1089 534.5 1087.4 535.1 1080.9 535.7 1081.8 536.3 1078.3 536.9 1082.7 537.5 1082.4 538.1 1085.3 538.7 1083.2 539.3 1089.9 539.9 1081.8 540.5 1089.5 541.1 1085.3 541.7 1088.9 542.3 1086.8 542.9 1083.6 543.5 1085.1 544.1 1084.7 544.7 1084.4 545.3 1086.1 545.9 1087.7 546.5 1082.3 547.1 1084.5 547.7 1085.4 548.3 1086.6 548.9 1083.5 549.5 1086.9 550.1 1081.3 550.7 1087.6 551.3 1090.1 551.9 1084.5 552.5 1080.4 553.1 1055.7 553.7 1065.5 554.3 1065.9 554.9 1074.9 555.5 1075.4 556.1 1077 556.7 1076.6 557.3 1078.6 557.9 1081.8 558.5 1082.4 559.1 1085.6 559.7 1089 560.3 1082.7 560.9 1089.6 561.5 1084.7 562.1 1084.5 562.7 1086.2 563.3 1084.2 563.9 1085.6 564.5 1083.6 565.1 1091 565.7 1084.1 566.3 1085.6 566.9 1088 567.5 1084.1 568.1 1087.6 568.7 1089.3 569.3 1087.5 569.9 1084.2 570.5 1083.3 571.1 1084.3 571.7 1083.8 572.3 1089.5 572.9 1081 573.5 1083 574.1 1079.2 574.7 1084 575.3 1083.8 575.9 1088.6 576.5 1082.4 577.1 1086.7M581.1 1082 581.7 1084.2 582.3 1087 582.9 1086.9 583.5 1091.1 584.1 1089.1 584.7 1087.2 585.3 1081.6 585.9 1088.8 586.5 1088.9 587.1 1085.2 587.7 1089.9 588.3 1087.7 588.9 1090.5 589.5 1091.2 590.1 1088.8 590.7 1089.1 591.3 1093.1 591.9 1099.2 592.5 1087.9 593.1 1082 593.7 1088.8 594.3 1091.4 594.9 1087.8 595.5 1088.6 596.1 1084.8 596.7 1087.1 597.3 1078.4 597.9 1084.1 598.5 1086.2 599.1 1080.8 599.7 1082.1 600.3 1087 600.9 1078.3 601.5 1086.8 602.1 1087.1 602.7 1086.6 603.3 1084.2 603.9 1083.7 604.5 1087.3 605.1 1081.5 605.7 1080.8 606.3 1090.6 606.9 1079.4 607.5 1079 608.1 1085.5 608.7 1077.6 609.3 1082.1 609.9 1072.6 610.5 1065 611.1 1065.7 611.7 1067.8 612.3 1077.2 612.9 1075.6 613.5 1078.8 614.1 1077.7 614.7 1078.9 615.3 1082.6 615.9 1078 616.5 1077.2 617.1 1080.2 617.7 1082.2 618.3 1086.9 618.9 1083.6 619.5 1083.1 620.1 1081.4 620.7 1081.8 621.3 1090.8 621.9 1087.8 622.5 1090.5 623.1 1086.3 623.7 1086.1 624.3 1086.7 624.9 1085 625.5 1091.3 626.1 1088.5 626.7 1089.7 627.3 1087.5 627.9 1092.8 628.5 1090.4 629.1 1082.5 629.7 1083.8 630.3 1083 630.9 1089.2 631.5 1088.9 632.1 1082.5 632.7 1083.7 633.3 1084.7 633.9 1089.5 634.5 1084.5M638.6 1084.1 639.2 1087.2 639.8 1094.5 640.4 1082.2 641 1082.4 641.6 1075.4 642.2 1081.4 642.8 1081.2 643.4 1085 644 1079.3 644.6 1088 645.2 1079.1 645.8 1090 646.4 1081.7 647 1081.5 647.6 1082.4 648.2 1079.3 648.8 1082.4 649.4 1077.1 650 1077.9 650.6 1078 651.2 1079.9 651.8 1082.3 652.4 1084.5 653 1082.3 653.6 1079.6 654.2 1085.3 654.8 1085.1 655.4 1085.1 656 1083.2 656.6 1081.7 657.2 1088.2 657.8 1082.5 658.4 1077.3 659 1087 659.6 1078.8 660.2 1081.4 660.8 1075.5 661.4 1088.9 662 1082.5 662.6 1081.7 663.2 1076.9 663.8 1079.1 664.4 1088.9 665 1083.8 665.6 1085.1 666.2 1075.8 666.8 1054.3 667.4 1032.5 668 1050.7 668.6 1060.9 669.2 1065.2 669.8 1069 670.4 1075.6 671 1075.5 671.6 1077.1 672.2 1080.6 672.8 1085 673.4 1080.8 674 1081.5 674.6 1088.3 675.2 1082.1 675.8 1083.9 676.4 1089.3 677 1083.8 677.6 1089.1 678.2 1087.3 678.8 1085.1 679.4 1090 680 1088.4 680.6 1081.9 681.2 1079.1 681.8 1085.6 682.4 1079.1 683 1088.1 683.6 1080.6 684.2 1079.9 684.8 1086 685.4 1084.6 686 1084.6 686.6 1083.1 687.2 1086.3 687.8 1092.4 688.4 1084.9 689 1087.3 689.6 1087.2 690.2 1084.3 690.8 1082.9 691.4 1085.9 692 1079.5M696.1 1088.9 696.7 1084.2 697.3 1079.2 697.9 1090.7 698.5 1084.6 699.1 1090.6 699.7 1083.1 700.3 1087.3 700.9 1086.9 701.5 1095 702.1 1089.9 702.7 1087.6 703.3 1086 703.9 1084.5 704.5 1084.7 705.1 1084.2 705.7 1089.5 706.3 1085.8 706.9 1089.8 707.5 1090 708.1 1087.3 708.7 1089.1 709.3 1082.1 709.9 1088.5 710.5 1083.2 711.1 1083.3 711.7 1086 712.3 1093.1 712.9 1090.4 713.5 1088.9 714.1 1090 714.7 1083.5 715.3 1086 715.9 1089.6 716.5 1086.5 717.1 1087.6 717.7 1087 718.3 1087.6 718.9 1081.5 719.5 1086.4 720.1 1089.2 720.7 1087.4 721.3 1086.5 721.9 1083.8 722.5 1077.4 723.1 1085.8 723.7 1074.2 724.3 1049.9 724.9 1028.9 725.5 1043.9 726.1 1054.9 726.7 1061.3 727.3 1070.6 727.9 1076.1 728.5 1077.5 729.1 1080.7 729.7 1085.2 730.3 1082.6 730.9 1076.2 731.5 1076.6 732.1 1077.7 732.7 1079 733.3 1082.9 733.9 1084 734.5 1075.5 735.1 1076.5 735.7 1082.7 736.3 1082.4 736.9 1083 737.5 1082 738.1 1082.6 738.7 1083.3 739.3 1080.5 739.9 1080.5 740.5 1083.5 741.1 1080.5 741.7 1081.8 742.3 1083.3 742.9 1083.7 743.5 1087.1 744.1 1084.5 744.7 1085.7 745.3 1085.2 745.9 1082.1 746.5 1080.9 747.1 1085.4 747.7 1082.4 748.3 1084.7 748.9 1078.1 749.5 1083M753.5 1088.8 754.1 1086.1 754.7 1089.1 755.3 1087.1 755.9 1090.8 756.5 1084.9 757.1 1088.3 757.7 1086.2 758.3 1091 758.9 1085.1 759.5 1092.2 760.1 1086.5 760.7 1082.1 761.3 1082.2 761.9 1079.1 762.5 1084.6 763.1 1087.7 763.7 1078.4 764.3 1082.8 764.9 1081 765.5 1086.9 766.1 1079.9 766.7 1080.8 767.3 1078.4 767.9 1082.3 768.5 1082.1 769.1 1089.4 769.7 1088.2 770.3 1080.7 770.9 1081.1 771.5 1081.5 772.1 1084.7 772.7 1088.7 773.3 1083.3 773.9 1089.1 774.5 1080.6 775.1 1084 775.7 1089.8 776.3 1087.9 776.9 1086.9 777.5 1086.5 778.1 1087.4 778.7 1079.8 779.3 1085 779.9 1079 780.5 1080.1 781.1 1074.1 781.7 1039.7 782.3 1024.6 782.9 1039.7 783.5 1050.3 784.1 1053.2 784.7 1064.5 785.3 1068.8 785.9 1071 786.5 1071.4 787.1 1077.9 787.7 1081.6 788.3 1078.9 788.9 1078 789.5 1075.7 790.1 1081.5 790.7 1077.6 791.3 1082.2 791.9 1088.6 792.5 1081.6 793.1 1084.9 793.7 1074.8 794.3 1081.7 794.9 1084.9 795.5 1081 796.1 1076.8 796.7 1080.9 797.3 1076.1 797.9 1083.3 798.5 1083.7 799.1 1083.1 799.7 1082.1 800.3 1085.6 800.9 1084.5 801.5 1083 802.1 1087.1 802.7 1083.8 803.3 1085.9 803.9 1086.8 804.5 1086.1 805.1 1084.6 805.7 1087.1 806.3 1084.8 806.9 1088.7M811 1086.4 811.6 1085.5 812.2 1080.8 812.8 1081.2 813.4 1086.6 814 1087.9 814.6 1086.1 815.2 1082.3 815.8 1089.3 816.4 1083.7 817 1086.6 817.6 1086.5 818.2 1085.9 818.8 1088 819.4 1089.7 820 1078.6 820.6 1086.2 821.2 1090.9 821.8 1089 822.4 1083.8 823 1089.9 823.6 1087.2 824.2 1092.4 824.8 1086.1 825.4 1090.8 826 1091.6 826.6 1087.7 827.2 1087.8 827.8 1078.6 828.4 1083.6 829 1080.8 829.6 1091.2 830.2 1087.2 830.8 1082.2 831.4 1076.3 832 1083.3 832.6 1076.9 833.2 1090.1 833.8 1083.2 834.4 1083.5 835 1085.3 835.6 1087.3 836.2 1087.1 836.8 1087.6 837.4 1083.8 838 1084.7 838.6 1078.4 839.2 1056.3 839.8 1037.9 840.4 1048.1 841 1055.8 841.6 1074.3 842.2 1067.4 842.8 1076.9 843.4 1077.6 844 1077.4 844.6 1075.9 845.2 1080.7 845.8 1077.5 846.4 1081.4 847 1083.5 847.6 1077.4 848.2 1078.9 848.8 1081.1 849.4 1079.8 850 1082.8 850.6 1081.2 851.2 1079.5 851.8 1082.9 852.4 1082.4 853 1088 853.6 1091.3 854.2 1086.4 854.8 1091.2 855.4 1089.2 856 1089.5 856.6 1084.2 857.2 1082.6 857.8 1089.8 858.4 1091.1 859 1090.1 859.6 1086.6 860.2 1088.4 860.8 1089.5 861.4 1086.7 862 1090.8 862.6 1084.5 863.2 1090.3 863.8 1086.6 864.4 1093M868.5 1082.1 869.1 1082.6 869.7 1083.6 870.3 1081.6 870.9 1083.3 871.5 1083.4 872.1 1083.1 872.7 1076.9 873.3 1082.4 873.9 1078 874.5 1085.3 875.1 1083.1 875.7 1081.4 876.3 1090 876.9 1085 877.5 1087.3 878.1 1090.7 878.7 1083.9 879.3 1088.6 879.9 1090.5 880.5 1085 881.1 1088 881.7 1085.7 882.3 1090.5 882.9 1095.4 883.5 1092.4 884.1 1088 884.7 1083.9 885.3 1093.5 885.9 1087.7 886.5 1089.6 887.1 1091.7 887.7 1090.9 888.3 1086 888.9 1084 889.5 1087 890.1 1092.4 890.7 1085.6 891.3 1093.2 891.9 1091.9 892.5 1083 893.1 1090 893.7 1087.8 894.3 1089.8 894.9 1094.7 895.5 1083.5 896.1 1077.6 896.7 1038.1 897.3 1019 897.9 1032.3 898.5 1051 899.1 1064 899.7 1072.9 900.3 1080.5 900.9 1076.7 901.5 1080.2 902.1 1087.3 902.7 1085.7 903.3 1080.9 903.9 1084.3 904.5 1082.3 905.1 1082.8 905.7 1088.2 906.3 1081.5 906.9 1082.4 907.5 1087.6 908.1 1079.8 908.7 1084.1 909.3 1088.1 909.9 1078 910.5 1085.7 911.1 1084.2 911.7 1083.4 912.3 1083.8 912.9 1088.7 913.5 1086.2 914.1 1081.5 914.7 1077.7 915.3 1082 915.9 1084.1 916.5 1087.3 917.1 1082 917.7 1086.8 918.3 1087.3 918.9 1080.4 919.5 1078.4 920.1 1080.5 920.7 1078.1 921.3 1083.1 921.9 1081.6" stroke="#8b0000" stroke-width="3.3" fill="none" stroke-linejoin="round"/>
<path d="M63.9 1187.9 64.3 1204.6 64.8 1197.8 65.2 1195.1 65.7 1192.3 66.2 1202.1 66.6 1192.8 67 1192 67.5 1194.8 68 1194.1 68.4 1196.6 68.8 1192.6 69.3 1195.6 69.8 1200.3 70.2 1197.8 70.7 1200 71.1 1201.2 71.5 1202 72 1196.2 72.5 1199.8 72.9 1201.9 73.3 1208.3 73.8 1198.3 74.2 1197.8 74.7 1203.5 75.2 1195.1 75.6 1201.5 76 1202.4 76.5 1201 77 1194.5 77.4 1203 77.8 1195.8 78.3 1189.7 78.8 1190.7 79.2 1191.8 79.7 1194.6 80.1 1190.7 80.5 1190.8 81 1187 81.5 1192.8 81.9 1198.6 82.3 1194.3 82.8 1201.6 83.2 1193.3 83.7 1199.1 84.2 1190.6 84.6 1197.3 85 1200.8 85.5 1196.4 86 1199.5 86.4 1191.5 86.8 1187.4 87.3 1197.7 87.8 1200 88.2 1202.6 88.7 1197.7 89.1 1191.9 89.5 1190.9 90 1191.9 90.5 1191.2 90.9 1160.6 91.3 1135.6 91.8 1121.3 92.2 1137.7 92.7 1154.8 93.2 1165.8 93.6 1173.2 94 1179.4 94.5 1179.7 95 1186.8 95.4 1183.7 95.8 1182.8 96.3 1191.6 96.8 1185.9 97.2 1190.2 97.7 1193.2 98.1 1185.7 98.5 1186.1 99 1189.4 99.5 1189.2 99.9 1187.7 100.3 1198 100.8 1187.9 101.2 1195 101.7 1197.2 102.2 1188.7 102.6 1188.4 103 1191 103.5 1193 104 1201.2 104.4 1202.8 104.8 1190.8 105.3 1190.9 105.8 1192.5 106.2 1194.8 106.7 1191.2 107.1 1195.7 107.5 1191.6 108 1188.2 108.5 1188.7 108.9 1184.7 109.3 1188.2 109.8 1193.2 110.2 1187 110.7 1193.4 111.2 1193.6 111.6 1196.4 112 1194.2 112.5 1196.9 113 1191.6 113.4 1195 113.8 1191.5 114.3 1192.7 114.8 1197.5 115.2 1193.5 115.7 1204.1 116.1 1206.6 116.5 1192.9 117 1200.8M121.4 1184.3 121.8 1200.8 122.3 1189.6 122.7 1193.3 123.2 1198.2 123.6 1191.5 124.1 1202.7 124.5 1189.7 125 1194.8 125.4 1195.4 125.9 1197.3 126.3 1190.6 126.8 1190.9 127.2 1202.1 127.7 1188.8 128.1 1195.9 128.6 1195.2 129 1195.7 129.5 1194.4 129.9 1193.1 130.4 1181.3 130.8 1195.7 131.3 1197.7 131.7 1196.3 132.2 1202.5 132.6 1194.2 133.1 1194.7 133.5 1201.4 134 1199.1 134.4 1206.7 134.9 1189.7 135.3 1194.1 135.8 1194.4 136.2 1201.4 136.7 1207.4 137.1 1196.1 137.6 1193.9 138 1199.7 138.5 1199.3 138.9 1195.7 139.4 1197.9 139.8 1195.9 140.3 1195.1 140.7 1197.5 141.2 1203.8 141.6 1197.3 142.1 1205.7 142.5 1201.4 143 1204.3 143.4 1211.6 143.9 1194.3 144.3 1205.3 144.8 1199.1 145.2 1193.5 145.7 1200.8 146.1 1198.4 146.6 1204.5 147 1197.8 147.5 1193.1 147.9 1197.1 148.4 1165.1 148.8 1143.2 149.3 1127.3 149.7 1146.1 150.2 1158.8 150.6 1171.6 151.1 1171.5 151.5 1186 152 1184.9 152.4 1183.8 152.9 1190.9 153.3 1194.3 153.8 1189.6 154.2 1194.4 154.7 1186.1 155.1 1184.4 155.6 1190.7 156 1190.6 156.5 1182.3 156.9 1187.7 157.4 1193.8 157.8 1192.6 158.3 1187.6 158.7 1193.5 159.2 1183.2 159.6 1186 160.1 1184.8 160.5 1189.5 161 1183.3 161.4 1192 161.9 1185.5 162.3 1182.3 162.8 1187 163.2 1180.1 163.7 1184.4 164.1 1194.7 164.6 1185.4 165 1196.9 165.5 1191.1 165.9 1189.8 166.4 1195.1 166.8 1195.2 167.3 1191 167.7 1192.1 168.2 1185.2 168.6 1195.4 169.1 1197.8 169.5 1197.4 170 1188.6 170.4 1190.2 170.9 1190.3 171.3 1192.6 171.8 1200.3 172.2 1202.7 172.7 1193 173.1 1193.2 173.6 1190.1 174 1195.1 174.5 1192.7M178.8 1159 179.3 1175.3 179.7 1174.3 180.2 1177 180.6 1185.7 181.1 1187.6 181.5 1191.7 182 1195 182.4 1201.9 182.9 1194.3 183.3 1195.1 183.8 1201.2 184.2 1193.6 184.7 1197.4 185.1 1192.8 185.6 1187.3 186 1190.9 186.5 1200.7 186.9 1189.2 187.4 1190.2 187.8 1191.7 188.3 1192.4 188.7 1192.2 189.2 1195.6 189.6 1195.8 190.1 1191.5 190.5 1195.6 191 1195.9 191.4 1198 191.9 1202.9 192.3 1204.5 192.8 1194.7 193.2 1194.4 193.7 1194.8 194.1 1193.7 194.6 1197.9 195 1199.9 195.5 1200.8 195.9 1192.7 196.4 1185.6 196.8 1188.4 197.3 1195.7 197.7 1195.1 198.2 1193.1 198.6 1193.3 199.1 1196.2 199.5 1191.7 200 1197 200.4 1191.2 200.9 1194.6 201.3 1183.4 201.8 1189.9 202.2 1197.8 202.7 1190.7 203.1 1187.8 203.6 1180.7 204 1191.3 204.5 1185.6 204.9 1182.9 205.4 1195.2 205.8 1170.3 206.3 1154.9 206.7 1145.7 207.2 1163.9 207.6 1170.8 208.1 1173.5 208.5 1178.6 209 1179.3 209.4 1184.2 209.9 1181.5 210.3 1182.2 210.8 1180.7 211.2 1188.9 211.7 1184.4 212.1 1183.9 212.6 1178.7 213 1187.9 213.5 1183.2 213.9 1193.9 214.4 1184 214.8 1186.3 215.3 1193.3 215.7 1198.2 216.2 1199.2 216.6 1193.2 217.1 1191.7 217.5 1193.6 218 1188.1 218.4 1196.8 218.9 1182.3 219.3 1193.9 219.8 1188.4 220.2 1186.2 220.7 1191 221.1 1190.8 221.6 1183 222 1188.3 222.5 1190.3 222.9 1190 223.4 1191.4 223.8 1193.9 224.3 1198.7 224.7 1196.5 225.2 1195.2 225.6 1193.4 226.1 1195.6 226.5 1196.4 227 1198 227.4 1195.2 227.9 1195.8 228.3 1200.8 228.8 1196.7 229.2 1201.6 229.7 1203.4 230.1 1198 230.6 1198.8 231 1197.7 231.5 1200.3 231.9 1199.5M236.3 1200.8 236.8 1202.9 237.2 1194.3 237.7 1191 238.1 1192.3 238.6 1189.7 239 1197.1 239.5 1190.2 239.9 1196.9 240.4 1205.7 240.8 1200 241.3 1191.3 241.7 1196.1 242.2 1195.1 242.6 1190.6 243.1 1190.6 243.5 1196.4 244 1186.1 244.4 1184 244.9 1187.3 245.3 1189.1 245.8 1191.5 246.2 1194.3 246.7 1193.2 247.1 1186.2 247.6 1190.4 248 1195.7 248.5 1192.4 248.9 1191.6 249.4 1185 249.8 1192.7 250.3 1188.8 250.7 1200.2 251.2 1190 251.6 1190.7 252.1 1194 252.5 1197.2 253 1191.9 253.4 1195.1 253.9 1189.8 254.3 1183.9 254.8 1189.8 255.2 1192 255.7 1191.2 256.1 1193 256.6 1188.7 257 1197 257.5 1190.5 257.9 1185.2 258.4 1190.9 258.8 1190.6 259.3 1197.3 259.7 1196.4 260.2 1194.4 260.6 1195.4 261.1 1195.7 261.5 1186.8 262 1197.2 262.4 1192.3 262.9 1189.8 263.3 1170.7 263.8 1154.5 264.2 1148.5 264.7 1153.9 265.1 1170.5 265.6 1176.4 266 1177.4 266.5 1183.6 266.9 1194.6 267.4 1193.8 267.8 1198.6 268.3 1199.7 268.7 1188.9 269.2 1195.3 269.6 1194.9 270.1 1190.7 270.5 1195.6 271 1189.4 271.4 1193.7 271.9 1187.3 272.3 1189.1 272.8 1185.8 273.2 1179.1 273.7 1189 274.1 1193.5 274.6 1188.5 275 1187.3 275.5 1190.5 275.9 1186.4 276.4 1190.6 276.8 1194.7 277.3 1187.8 277.7 1191.9 278.2 1198 278.6 1198.1 279.1 1195.4 279.5 1203.5 280 1202.6 280.4 1200.5 280.9 1193.9 281.3 1202.7 281.8 1192.7 282.2 1186.9 282.7 1197.2 283.1 1182.5 283.6 1192.6 284 1191.7 284.5 1186.9 284.9 1187.2 285.4 1185.9 285.8 1187 286.3 1196.3 286.7 1193.2 287.2 1180.2 287.6 1184.1 288.1 1186.4 288.5 1188 289 1193.5 289.4 1186.4M293.8 1188.9 294.2 1196.2 294.7 1192 295.1 1193.9 295.6 1197.9 296 1198.4 296.5 1203.2 296.9 1191.4 297.4 1200.9 297.8 1200.2 298.3 1191.3 298.7 1195 299.2 1198.9 299.6 1196.4 300.1 1208.2 300.5 1197.5 301 1195.1 301.4 1201.5 301.9 1197.2 302.3 1193 302.8 1194.9 303.2 1197 303.7 1191.8 304.1 1192.8 304.6 1200.6 305 1196.6 305.5 1198 305.9 1200.1 306.4 1205.4 306.8 1201 307.3 1186.3 307.7 1197.4 308.2 1193.6 308.6 1188.9 309.1 1193 309.5 1189.3 310 1190.9 310.4 1190.9 310.9 1192.8 311.3 1197.1 311.8 1196.3 312.2 1195.6 312.7 1190.5 313.1 1193.7 313.6 1197.9 314 1200.8 314.5 1209.4 314.9 1202.1 315.4 1193.8 315.8 1193.2 316.3 1192.7 316.7 1195.8 317.2 1187 317.6 1199.2 318.1 1188 318.5 1188.6 319 1194.6 319.4 1192.9 319.9 1187.1 320.3 1192.2 320.8 1153.4 321.2 1125.1 321.7 1114.4 322.1 1139.2 322.6 1143.6 323 1152.5 323.5 1160.1 323.9 1176 324.4 1176.2 324.8 1185.4 325.3 1183.5 325.7 1181.8 326.2 1189.2 326.6 1184.8 327.1 1184.8 327.5 1188 328 1191.4 328.4 1180.5 328.9 1182.6 329.3 1185.8 329.8 1179.8 330.2 1181.8 330.7 1181.3 331.1 1189.8 331.6 1187.3 332 1184.6 332.5 1190.9 332.9 1185.9 333.4 1188 333.8 1187.4 334.3 1188.9 334.7 1194.5 335.2 1192.7 335.6 1185.8 336.1 1193 336.5 1194.9 337 1188.8 337.4 1189.4 337.9 1193.1 338.3 1190.2 338.8 1194.8 339.2 1193.7 339.7 1191.9 340.1 1188.9 340.6 1191.9 341 1188.2 341.5 1183.5 341.9 1191.4 342.4 1183.2 342.8 1183.2 343.3 1182.2 343.7 1200.4 344.2 1186.2 344.6 1197.4 345.1 1199.3 345.5 1195.2 346 1198.7 346.4 1190.2 346.9 1187.5M351.2 1191.3 351.7 1195.9 352.1 1201 352.6 1199.9 353.1 1199.3 353.5 1192.4 353.9 1198.3 354.4 1205.1 354.9 1201.4 355.3 1196 355.8 1195.9 356.2 1201.9 356.6 1204.6 357.1 1206.4 357.6 1202.9 358 1196.9 358.4 1203.5 358.9 1191.9 359.4 1199.1 359.8 1190.4 360.2 1194.4 360.7 1193.3 361.1 1194.1 361.6 1196.9 362.1 1202.1 362.5 1202 362.9 1201.4 363.4 1199.5 363.9 1193.2 364.3 1208.6 364.8 1206.9 365.2 1205.8 365.6 1199.5 366.1 1208.9 366.6 1190.5 367 1198.4 367.4 1195.7 367.9 1194.7 368.4 1193.3 368.8 1200.1 369.2 1198.5 369.7 1200 370.1 1199.6 370.6 1201.2 371.1 1191.1 371.5 1199.2 371.9 1194.2 372.4 1188.3 372.9 1191.4 373.3 1194.6 373.8 1195.8 374.2 1199.9 374.6 1191.2 375.1 1191.1 375.6 1193 376 1195.6 376.4 1188.2 376.9 1191.6 377.4 1189.9 377.8 1194.4 378.2 1200.3 378.7 1187.1 379.1 1199.2 379.6 1202.3 380.1 1189.4 380.5 1185 380.9 1174.8 381.4 1182.1 381.9 1190.1 382.3 1194.8 382.8 1199.5 383.2 1181.4 383.6 1196 384.1 1188.6 384.6 1195.1 385 1189.2 385.4 1189.2 385.9 1197.2 386.4 1202.4 386.8 1202.9 387.2 1200.5 387.7 1187.6 388.1 1193.8 388.6 1196.6 389.1 1192.3 389.5 1195.6 389.9 1194.5 390.4 1194.3 390.9 1190.6 391.3 1194.2 391.8 1196.4 392.2 1193.8 392.6 1186.7 393.1 1191.6 393.6 1192.9 394 1185.9 394.4 1193.8 394.9 1192.6 395.4 1189.2 395.8 1194.6 396.2 1187.8 396.7 1199.9 397.1 1195 397.6 1193.4 398.1 1194.5 398.5 1189.5 398.9 1191.8 399.4 1188.5 399.9 1188.1 400.3 1195.9 400.8 1185.3 401.2 1189 401.6 1189.4 402.1 1200 402.6 1195.5 403 1194.4 403.4 1187.9 403.9 1186.2 404.4 1182.4M408.7 1194.3 409.2 1197.3 409.6 1200.3 410.1 1194.7 410.5 1205.7 411 1201.3 411.4 1199.6 411.9 1196 412.3 1198.1 412.8 1199 413.2 1201.7 413.7 1197.3 414.1 1202.5 414.6 1204.1 415 1204.4 415.5 1194.4 415.9 1193.7 416.4 1196.9 416.8 1197.9 417.3 1197.4 417.7 1193.5 418.2 1191 418.6 1192.2 419.1 1188.8 419.5 1191.2 420 1192.1 420.4 1183.5 420.9 1194.1 421.3 1194.4 421.8 1198.7 422.2 1193.9 422.7 1189.9 423.1 1198.6 423.6 1201.2 424 1201.3 424.5 1200.9 424.9 1201.6 425.4 1198.6 425.8 1198.2 426.3 1191.4 426.7 1196.8 427.2 1199.1 427.6 1199.6 428.1 1193 428.5 1205.6 429 1194.4 429.4 1197.4 429.9 1205.4 430.3 1206.9 430.8 1210.6 431.2 1199.1 431.7 1203.7 432.1 1203.3 432.6 1202.5 433 1199.8 433.5 1195.3 433.9 1199.4 434.4 1201.6 434.8 1198.1 435.3 1190.8 435.7 1189.6 436.2 1191.7 436.6 1195.8 437.1 1184.1 437.5 1179.3 438 1177.5 438.4 1165.3 438.9 1173.9 439.3 1176.8 439.8 1187.4 440.2 1184.5 440.7 1196.3 441.1 1193.1 441.6 1187.3 442 1202 442.5 1197.3 442.9 1196.2 443.4 1187.1 443.8 1202.1 444.3 1198.1 444.7 1197.6 445.2 1194.9 445.6 1195.6 446.1 1196.9 446.5 1200.8 447 1196.6 447.4 1206.7 447.9 1193.9 448.3 1196.9 448.8 1192.2 449.2 1204.6 449.7 1204 450.1 1199.2 450.6 1198.5 451 1196.9 451.5 1193.6 451.9 1193.6 452.4 1197.1 452.8 1204.2 453.3 1205.2 453.7 1197.6 454.2 1197.1 454.6 1194.1 455.1 1197.2 455.5 1198.3 456 1195.7 456.4 1201.5 456.9 1190.1 457.3 1189.1 457.8 1192.6 458.2 1197.8 458.7 1190 459.1 1197.4 459.6 1203 460 1201 460.5 1195.1 460.9 1202.4 461.4 1203.8 461.8 1199.7M466.2 1192.8 466.6 1193.4 467.1 1192.8 467.5 1196.2 468 1188.1 468.4 1190.4 468.9 1192.9 469.3 1197.8 469.8 1195.1 470.2 1190.5 470.7 1189.3 471.1 1190.4 471.6 1194.7 472 1186.7 472.5 1192.6 472.9 1190.2 473.4 1193.2 473.8 1184.5 474.3 1190.2 474.7 1190.6 475.2 1185.3 475.6 1191.2 476.1 1196.6 476.5 1188.3 477 1192.1 477.4 1186.3 477.9 1191.7 478.3 1188.9 478.8 1189.9 479.2 1188.4 479.7 1189.6 480.1 1189.2 480.6 1189.2 481 1193.4 481.5 1193.5 481.9 1197.2 482.4 1197.5 482.8 1205.2 483.3 1210.7 483.7 1197.7 484.2 1200.8 484.6 1199.9 485.1 1204.6 485.5 1204.2 486 1201.6 486.4 1209.5 486.9 1205.2 487.3 1203.1 487.8 1199.1 488.2 1205.3 488.7 1196.6 489.1 1201.9 489.6 1185.6 490 1189.6 490.5 1194.5 490.9 1192.5 491.4 1193.9 491.8 1201.3 492.3 1185.9 492.7 1195.4 493.2 1198.1 493.6 1196.2 494.1 1201.1 494.5 1192.2 495 1193.1 495.4 1172.3 495.9 1160.6 496.3 1179.8 496.8 1177.3 497.2 1184.7 497.7 1182.7 498.1 1189.3 498.6 1184.4 499 1192.9 499.5 1190.2 499.9 1189 500.4 1185.3 500.8 1189.2 501.3 1182.5 501.7 1192.2 502.2 1183.1 502.6 1186.3 503.1 1186.9 503.5 1193.2 504 1192.9 504.4 1191.7 504.9 1192.3 505.3 1200.9 505.8 1203.4 506.2 1189.4 506.7 1199.6 507.1 1193.8 507.6 1204.8 508 1201.9 508.5 1201.5 508.9 1203.2 509.4 1195.3 509.8 1194.6 510.3 1201.7 510.7 1195 511.2 1205.2 511.6 1198.4 512.1 1192.4 512.5 1190.1 513 1196.6 513.4 1197.1 513.9 1194.2 514.3 1199.9 514.8 1192.5 515.2 1196.6 515.7 1193.4 516.1 1196.7 516.6 1202 517 1193.1 517.5 1191.6 517.9 1192.2 518.4 1205 518.8 1202.3 519.3 1198M523.7 1193.2 524.1 1197.8 524.6 1194.1 525 1199.9 525.5 1197.7 525.9 1196.2 526.4 1194.4 526.8 1187.8 527.3 1193 527.7 1192.7 528.2 1196.8 528.6 1192.3 529.1 1193.3 529.5 1189.7 530 1187.3 530.4 1191.6 530.9 1186.6 531.3 1191.2 531.8 1189.6 532.2 1194.4 532.7 1195.4 533.1 1192 533.6 1189.6 534 1191.1 534.5 1192.7 534.9 1194.7 535.4 1184.4 535.8 1184.7 536.3 1194.1 536.7 1190.9 537.2 1197.3 537.6 1200.4 538.1 1192.3 538.5 1188.7 539 1199 539.4 1196.9 539.9 1197.6 540.3 1192.2 540.8 1197.6 541.2 1199.7 541.7 1199 542.1 1200.4 542.6 1192.7 543 1197.6 543.5 1196.8 543.9 1194.8 544.4 1196.3 544.8 1196 545.3 1201.8 545.7 1196.6 546.2 1201.3 546.6 1195.6 547.1 1200.4 547.5 1196.5 548 1189.7 548.4 1200.4 548.9 1198.4 549.3 1195.3 549.8 1193.1 550.2 1188.1 550.7 1192.5 551.1 1191.5 551.6 1189.1 552 1187.9 552.5 1178.7 552.9 1166.9 553.4 1157.3 553.8 1168 554.3 1173.4 554.7 1174 555.2 1186.5 555.6 1189.1 556.1 1182.4 556.5 1181.5 557 1182.3 557.4 1192.8 557.9 1190.1 558.3 1194.7 558.8 1198.9 559.2 1195.9 559.7 1196 560.1 1194.6 560.6 1188.2 561 1187.8 561.5 1194.3 561.9 1188 562.4 1191.6 562.8 1195.7 563.3 1208 563.7 1192.3 564.2 1200.7 564.6 1198.6 565.1 1195.7 565.5 1194.5 566 1205.2 566.4 1197.7 566.9 1194.2 567.3 1204.2 567.8 1190.4 568.2 1197.7 568.7 1200.8 569.1 1196.3 569.6 1195 570 1200.8 570.5 1192.9 570.9 1198.2 571.4 1193.8 571.8 1200.3 572.3 1194.9 572.7 1191.4 573.2 1190.1 573.6 1195.9 574.1 1192.6 574.5 1202.3 575 1190.4 575.4 1193.1 575.9 1197.1 576.3 1191.2 576.8 1199.1M581.1 1191.9 581.6 1195.9 582 1190.5 582.5 1193.6 582.9 1188.1 583.4 1197.5 583.8 1193.9 584.3 1187.1 584.7 1194.6 585.2 1189.9 585.6 1191.4 586.1 1191.8 586.5 1203.9 587 1204.8 587.4 1191.9 587.9 1191.7 588.3 1202.6 588.8 1201 589.2 1191.1 589.7 1190.2 590.1 1186.4 590.6 1192.7 591 1194.2 591.5 1188.1 591.9 1188.5 592.4 1193.6 592.8 1194 593.3 1193.7 593.7 1189.3 594.2 1197.7 594.6 1196.4 595.1 1193 595.5 1199.4 596 1192.5 596.4 1193.8 596.9 1196.9 597.3 1200.3 597.8 1196.4 598.2 1201.9 598.7 1199.8 599.1 1196.8 599.6 1194.1 600 1197.1 600.5 1195 600.9 1201.8 601.4 1197 601.8 1191.6 602.3 1198.2 602.7 1203.2 603.2 1195.5 603.6 1192.5 604.1 1194.7 604.5 1186.6 605 1189.1 605.4 1184.3 605.9 1187.8 606.3 1187.9 606.8 1189.3 607.2 1193.7 607.7 1188 608.1 1190.3 608.6 1185.4 609 1190 609.5 1188.5 609.9 1167.5 610.4 1170.9 610.8 1149.1 611.3 1173.7 611.7 1174.2 612.2 1178.1 612.6 1185.1 613.1 1183.9 613.5 1187.6 614 1182.5 614.4 1184.6 614.9 1188 615.3 1189.8 615.8 1189.4 616.2 1188.9 616.7 1182.7 617.1 1188.8 617.6 1190.4 618 1189.1 618.5 1197 618.9 1191.2 619.4 1191.1 619.8 1190.4 620.3 1196.5 620.7 1202.4 621.2 1186.1 621.6 1192.3 622.1 1197.6 622.5 1194.5 623 1186.9 623.4 1203.3 623.9 1189.5 624.3 1195.2 624.8 1188.4 625.2 1196.2 625.7 1187 626.1 1192.8 626.6 1198.4 627 1193.3 627.5 1204.1 627.9 1192.9 628.4 1192.4 628.8 1209.8 629.3 1198.6 629.7 1193 630.2 1194.1 630.6 1191.3 631.1 1186 631.5 1190.4 632 1188.7 632.4 1184.8 632.9 1198 633.3 1193.4 633.8 1200.6 634.2 1196.9M638.6 1192.8 639.1 1195.4 639.5 1199.5 640 1192.7 640.4 1190.4 640.9 1192.4 641.3 1199.4 641.8 1199.7 642.2 1197.5 642.6 1191.9 643.1 1200.9 643.6 1194.6 644 1197.5 644.5 1188.8 644.9 1192.5 645.4 1190 645.8 1195.9 646.2 1198.5 646.7 1196.1 647.1 1188.7 647.6 1196.5 648.1 1198.1 648.5 1192.2 649 1188.1 649.4 1200.2 649.9 1195.3 650.3 1193.1 650.8 1190.4 651.2 1198.1 651.6 1195 652.1 1201.2 652.6 1203.4 653 1198.6 653.5 1190.8 653.9 1198.1 654.4 1198 654.8 1202.8 655.2 1201.9 655.7 1195.3 656.1 1191.7 656.6 1196 657.1 1201.9 657.5 1206.4 658 1202.7 658.4 1199.7 658.9 1199.7 659.3 1197.1 659.8 1195.2 660.2 1196.9 660.6 1188.5 661.1 1193.2 661.6 1189.8 662 1192.6 662.5 1186.2 662.9 1190.3 663.4 1191.2 663.8 1199 664.2 1193.2 664.7 1194.6 665.1 1192.7 665.6 1196.5 666.1 1191 666.5 1171.1 667 1159.2 667.4 1143.4 667.9 1147.7 668.3 1164.3 668.8 1171.4 669.2 1175.4 669.6 1176.1 670.1 1175.7 670.6 1189.1 671 1185.5 671.5 1182.1 671.9 1193.3 672.4 1185.2 672.8 1189.4 673.2 1192.7 673.7 1197.5 674.1 1192.2 674.6 1187.1 675.1 1191 675.5 1193.4 676 1185.8 676.4 1194.6 676.9 1180.7 677.3 1180.7 677.8 1189.1 678.2 1194.7 678.6 1191 679.1 1188.6 679.6 1193 680 1190.7 680.5 1190.9 680.9 1201.5 681.4 1187.5 681.8 1192.5 682.2 1196.7 682.7 1193.7 683.1 1189.7 683.6 1193.2 684.1 1190.7 684.5 1188.4 685 1195.6 685.4 1197.4 685.9 1199.5 686.3 1190 686.8 1191.6 687.2 1198.2 687.6 1194.4 688.1 1201.7 688.6 1193.5 689 1185.9 689.5 1192.6 689.9 1197.1 690.4 1192.2 690.8 1200.8 691.2 1202.3 691.7 1207.7M696.1 1189.3 696.5 1193.5 697 1198.8 697.4 1194.3 697.9 1196 698.3 1195.1 698.8 1205.7 699.2 1198.1 699.7 1196.9 700.1 1196.4 700.6 1201.3 701 1203.4 701.5 1195.4 701.9 1202.4 702.4 1202.6 702.8 1208 703.3 1199 703.7 1194.4 704.2 1200.2 704.6 1200.3 705.1 1203.1 705.5 1193 706 1192.8 706.4 1199.2 706.9 1200.1 707.3 1195.8 707.8 1196 708.2 1201.3 708.7 1206.5 709.1 1200.4 709.6 1206.5 710 1191.5 710.5 1198.6 710.9 1205.1 711.4 1206.5 711.8 1204.5 712.3 1198.4 712.7 1200.1 713.2 1209.9 713.6 1209.3 714.1 1207 714.5 1205.8 715 1191.2 715.4 1203.1 715.9 1203.5 716.3 1204 716.8 1208.1 717.2 1202.3 717.7 1196.3 718.1 1202 718.6 1201.2 719 1203 719.5 1197.6 719.9 1195.1 720.4 1203.1 720.8 1205.4 721.3 1197.6 721.7 1202.8 722.2 1209.3 722.6 1200 723.1 1199.2 723.5 1189.5 724 1171.2 724.4 1157.1 724.9 1144.3 725.3 1164 725.8 1175.8 726.2 1179.6 726.7 1182.3 727.1 1180.5 727.6 1188.6 728 1187.3 728.5 1189.3 728.9 1190.1 729.4 1184.5 729.8 1189 730.3 1183.2 730.7 1190.4 731.2 1182.7 731.6 1187 732.1 1187.6 732.5 1182.7 733 1191.7 733.4 1193.1 733.9 1192.7 734.3 1190.7 734.8 1189 735.2 1191.6 735.7 1195 736.1 1190.2 736.6 1199.1 737 1201.1 737.5 1185.7 737.9 1192.1 738.4 1193.7 738.8 1186.9 739.3 1190.6 739.7 1197.5 740.2 1195.8 740.6 1200.6 741.1 1204.2 741.5 1191.9 742 1199.1 742.4 1195.6 742.9 1194.8 743.3 1191.3 743.8 1198.7 744.2 1198.5 744.7 1191.8 745.1 1196.1 745.6 1198.3 746 1194.7 746.5 1194.1 746.9 1194.4 747.4 1196 747.8 1198.7 748.3 1203.1 748.7 1194.2 749.2 1192.9M753.5 1194.3 754 1207.9 754.4 1192.5 754.9 1196.1 755.3 1197.1 755.8 1200.8 756.2 1192.2 756.7 1199.6 757.1 1197 757.6 1205.6 758 1193.3 758.5 1196.5 758.9 1202.6 759.4 1203 759.8 1200.8 760.3 1202.9 760.7 1191.8 761.2 1196.9 761.6 1193.9 762.1 1189.7 762.5 1199 763 1206.1 763.4 1197 763.9 1204.7 764.3 1202.3 764.8 1198.7 765.2 1202.3 765.7 1203.7 766.1 1201.5 766.6 1198 767 1187.7 767.5 1200 767.9 1200.5 768.4 1202.4 768.8 1201.2 769.3 1200.5 769.7 1199.3 770.2 1198.6 770.6 1197.3 771.1 1197.5 771.5 1196.7 772 1197.3 772.4 1195 772.9 1193.5 773.3 1186.8 773.8 1189.7 774.2 1195.2 774.7 1197.9 775.1 1194.7 775.6 1188.3 776 1195.2 776.5 1196.4 776.9 1194.8 777.4 1198.2 777.8 1198.6 778.3 1199.9 778.7 1199.5 779.2 1201 779.6 1192.8 780.1 1194.3 780.5 1197.3 781 1197.9 781.4 1175.8 781.9 1150.4 782.3 1145.7 782.8 1164.8 783.2 1166.3 783.7 1164.8 784.1 1170.9 784.6 1182.3 785 1175.8 785.5 1185.7 785.9 1187.9 786.4 1191.5 786.8 1186.6 787.3 1184.2 787.7 1188.4 788.2 1181.6 788.6 1177.2 789.1 1189.6 789.5 1182.4 790 1187.7 790.4 1182.1 790.9 1188.9 791.3 1194.6 791.8 1195.2 792.2 1197.3 792.7 1185.2 793.1 1190.4 793.6 1192.4 794 1192.1 794.5 1191.2 794.9 1190.7 795.4 1194.1 795.8 1191.1 796.3 1183.7 796.7 1196.9 797.2 1197.2 797.6 1195.4 798.1 1199 798.5 1198.4 799 1194.2 799.4 1193.6 799.9 1192.4 800.3 1189.3 800.8 1187.9 801.2 1184.8 801.7 1188 802.1 1194.5 802.6 1191.3 803 1198.9 803.5 1192.1 803.9 1195.9 804.4 1193.9 804.8 1191.6 805.3 1191.9 805.7 1197.3 806.2 1198.9 806.6 1190.2M811 1199.2 811.5 1195.1 811.9 1199.1 812.4 1198.9 812.8 1195.6 813.3 1203.2 813.7 1194 814.2 1202.7 814.6 1202.3 815.1 1192.5 815.5 1198.4 816 1196.6 816.4 1194.5 816.9 1192.8 817.3 1201.7 817.8 1194.2 818.2 1194.9 818.7 1196.6 819.1 1203 819.6 1197.3 820 1187.8 820.5 1191.9 820.9 1190.1 821.4 1198.3 821.8 1192.6 822.3 1197.6 822.7 1197.2 823.2 1192 823.6 1195.4 824.1 1187.3 824.5 1198.2 825 1192.2 825.4 1199.5 825.9 1193.1 826.3 1193.3 826.8 1191.9 827.2 1195.4 827.7 1188.3 828.1 1181.5 828.6 1184.2 829 1190.3 829.5 1187.9 829.9 1198.6 830.4 1192 830.8 1187.1 831.3 1189.3 831.7 1192.6 832.2 1193.7 832.6 1190.7 833.1 1195 833.5 1201.7 834 1196.1 834.4 1189.5 834.9 1201.4 835.3 1197.4 835.8 1189.8 836.2 1206 836.7 1203.6 837.1 1202.3 837.6 1203.1 838 1201.6 838.5 1206.6 838.9 1188.6 839.4 1153.9 839.8 1149.5 840.3 1153.6 840.7 1167.3 841.2 1175.1 841.6 1176.4 842.1 1179.9 842.5 1182.4 843 1185.8 843.4 1188 843.9 1182.9 844.3 1185.9 844.8 1182.9 845.2 1190.3 845.7 1188 846.1 1189.8 846.6 1193.5 847 1186.7 847.5 1194.3 847.9 1184.5 848.4 1184.1 848.8 1182.7 849.3 1180.8 849.7 1196.6 850.2 1189.3 850.6 1188.8 851.1 1187.2 851.5 1187.6 852 1192.8 852.4 1191.7 852.9 1187.6 853.3 1189.5 853.8 1191.8 854.2 1185 854.7 1192.9 855.1 1199.5 855.6 1198.8 856 1191 856.5 1197.7 856.9 1188.3 857.4 1194.2 857.8 1187.6 858.3 1185.8 858.7 1189.4 859.2 1191.2 859.6 1192.5 860.1 1193.7 860.5 1194.6 861 1194.8 861.4 1185.4 861.9 1188.5 862.3 1187.2 862.8 1187.1 863.2 1190.1 863.7 1190.4 864.1 1189M868.5 1197.3 868.9 1193.1 869.4 1201.4 869.8 1192.1 870.3 1190.6 870.7 1197.4 871.2 1190.3 871.6 1189.4 872.1 1193.5 872.5 1189 873 1193.3 873.4 1189.9 873.9 1186.3 874.3 1192.2 874.8 1194.7 875.2 1192.2 875.7 1185.3 876.1 1187.6 876.6 1193.4 877 1188.2 877.5 1194.8 877.9 1179.3 878.4 1191 878.8 1190 879.3 1188 879.7 1185.8 880.2 1184.3 880.6 1181.4 881.1 1182.8 881.5 1194.2 882 1197.9 882.4 1192.8 882.9 1198.7 883.3 1194.7 883.8 1198.1 884.2 1195.1 884.7 1201.3 885.1 1194.3 885.6 1200.9 886 1188.7 886.5 1198.3 886.9 1199.2 887.4 1195.3 887.8 1191 888.3 1203.7 888.7 1194.8 889.2 1196.6 889.6 1192.8 890.1 1199.5 890.5 1192.4 891 1197.7 891.4 1202.7 891.9 1196.7 892.3 1196.1 892.8 1196.4 893.2 1194.4 893.7 1202.4 894.1 1193.7 894.6 1194.9 895 1198 895.5 1195.2 895.9 1190.5 896.4 1160.4 896.8 1123 897.3 1109.9 897.7 1125.9 898.2 1145.6 898.6 1160.8 899.1 1169.3 899.5 1171.4 900 1177.3 900.4 1177.1 900.9 1180.9 901.3 1180 901.8 1185.4 902.2 1184.5 902.7 1184.4 903.1 1195.1 903.6 1188 904 1193.1 904.5 1186.1 904.9 1190.6 905.4 1174.5 905.8 1183.5 906.3 1200 906.7 1189.8 907.2 1188.2 907.6 1200.2 908.1 1185.6 908.5 1191.3 909 1191.8 909.4 1186.8 909.9 1195.9 910.3 1190.3 910.8 1184.7 911.2 1197.1 911.7 1203 912.1 1198.7 912.6 1192.7 913 1192.8 913.5 1189.6 913.9 1190.1 914.4 1189.5 914.8 1186.6 915.3 1188.5 915.7 1198.6 916.2 1187.6 916.6 1190.7 917.1 1189.5 917.5 1185.3 918 1184.4 918.4 1197.9 918.9 1190.6 919.3 1200.6 919.8 1184.7 920.2 1199.6 920.7 1188.8 921.1 1186.7 921.6 1186.2M63.9 1296.5 64.3 1297.5 64.8 1310.6 65.2 1297.1 65.7 1302.1 66.2 1304.8 66.6 1308.8 67 1294.6 67.5 1313 68 1304.8 68.4 1306.2 68.8 1304.7 69.3 1300.5 69.8 1307.3 70.2 1317.4 70.7 1304.8 71.1 1314.3 71.5 1306.6 72 1302.4 72.5 1302 72.9 1303.5 73.3 1296.5 73.8 1306.4 74.2 1300.4 74.7 1289.8 75.2 1302 75.6 1299.1 76 1300 76.5 1306.8 77 1289.5 77.4 1298.7 77.8 1297 78.3 1296.3 78.8 1301.7 79.2 1299.1 79.7 1294.4 80.1 1298.5 80.5 1288.8 81 1295 81.5 1294.2 81.9 1297.1 82.3 1303.8 82.8 1300.6 83.2 1296.6 83.7 1301.1 84.2 1299.7 84.6 1300.3 85 1311.9 85.5 1305.6 86 1308.4 86.4 1298.1 86.8 1301.8 87.3 1303.1 87.8 1304.7 88.2 1307.5 88.7 1298.9 89.1 1304.3 89.5 1304.3 90 1303.3 90.5 1302.2 90.9 1274 91.3 1240.6 91.8 1212.9 92.2 1238.2 92.7 1250.8 93.2 1274.6 93.6 1264.6 94 1283.5 94.5 1282.8 95 1290.3 95.4 1294.5 95.8 1296.9 96.3 1299.3 96.8 1294.3 97.2 1292.6 97.7 1304.8 98.1 1303.1 98.5 1300.4 99 1307.9 99.5 1304 99.9 1302.8 100.3 1305.6 100.8 1297.5 101.2 1294.9 101.7 1301.5 102.2 1300.1 102.6 1296.8 103 1295.9 103.5 1304.2 104 1296 104.4 1302.2 104.8 1293.8 105.3 1293.7 105.8 1305.8 106.2 1302.9 106.7 1294.3 107.1 1301.9 107.5 1300.2 108 1296.6 108.5 1295.5 108.9 1300.3 109.3 1292.3 109.8 1299.7 110.2 1295.2 110.7 1298.4 111.2 1301.5 111.6 1292.9 112 1301.9 112.5 1309.6 113 1305.6 113.4 1294.2 113.8 1298 114.3 1296.6 114.8 1296.1 115.2 1304.8 115.7 1300.4 116.1 1306.2 116.5 1297.2 117 1294.7M121.4 1302.1 121.8 1297.7 122.3 1306.4 122.7 1301.6 123.2 1304.6 123.6 1305.9 124.1 1303.3 124.5 1302.3 125 1295.3 125.4 1297.8 125.9 1301 126.3 1306.3 126.8 1289.5 127.2 1301.5 127.7 1301.6 128.1 1298.7 128.6 1295.4 129 1301.8 129.5 1305 129.9 1300.4 130.4 1305.6 130.8 1313.9 131.3 1300.1 131.7 1303.5 132.2 1299.9 132.6 1297.6 133.1 1298.5 133.5 1297.1 134 1294.5 134.4 1287.3 134.9 1282.8 135.3 1278.5 135.8 1282.3 136.2 1291.5 136.7 1293.2 137.1 1296.4 137.6 1296.5 138 1302.9 138.5 1306.3 138.9 1301.5 139.4 1312.1 139.8 1309.5 140.3 1303.2 140.7 1301.6 141.2 1303.5 141.6 1304.6 142.1 1305.1 142.5 1305 143 1306 143.4 1309.4 143.9 1304.3 144.3 1318.7 144.8 1303.5 145.2 1305.3 145.7 1317.6 146.1 1305.8 146.6 1301 147 1296.2 147.5 1300.1 147.9 1295.7 148.4 1272.9 148.8 1234.2 149.3 1221.2 149.7 1245.7 150.2 1261.8 150.6 1259.2 151.1 1275.4 151.5 1281.5 152 1287.6 152.4 1280.6 152.9 1278.5 153.3 1287.5 153.8 1299.7 154.2 1293.4 154.7 1282.7 155.1 1293 155.6 1296.2 156 1290.7 156.5 1292 156.9 1293.6 157.4 1292.7 157.8 1289.3 158.3 1288.5 158.7 1291.6 159.2 1287.7 159.6 1292.4 160.1 1297.1 160.5 1298 161 1296.4 161.4 1299.6 161.9 1298.5 162.3 1297.6 162.8 1304.7 163.2 1305.7 163.7 1312.5 164.1 1307.5 164.6 1306 165 1308.6 165.5 1300 165.9 1305.4 166.4 1304.1 166.8 1309.3 167.3 1307.6 167.7 1302.4 168.2 1306.5 168.6 1309.3 169.1 1305.9 169.5 1301.8 170 1304.5 170.4 1301.2 170.9 1308.7 171.3 1301.3 171.8 1310.4 172.2 1310.7 172.7 1306.2 173.1 1312.6 173.6 1300 174 1300.6 174.5 1306M178.8 1255.9 179.3 1277.2 179.7 1284.8 180.2 1288.6 180.6 1286.4 181.1 1293.2 181.5 1288.6 182 1299.3 182.4 1295.5 182.9 1297.7 183.3 1296.4 183.8 1293.4 184.2 1302.4 184.7 1305.7 185.1 1304.2 185.6 1301.9 186 1305.9 186.5 1308.6 186.9 1303.9 187.4 1304.4 187.8 1300.1 188.3 1297.2 188.7 1294.4 189.2 1298.7 189.6 1295.2 190.1 1298.1 190.5 1303.1 191 1294.7 191.4 1296.7 191.9 1299.2 192.3 1294.5 192.8 1299.5 193.2 1298.1 193.7 1298.8 194.1 1298.7 194.6 1297 195 1292.3 195.5 1291.1 195.9 1289.9 196.4 1286.8 196.8 1288.6 197.3 1299.3 197.7 1295.3 198.2 1298.9 198.6 1301 199.1 1310 199.5 1301 200 1307.4 200.4 1295.6 200.9 1299 201.3 1308.2 201.8 1304.5 202.2 1303.6 202.7 1302.4 203.1 1304.1 203.6 1295.3 204 1292.7 204.5 1298.2 204.9 1302.6 205.4 1294.8 205.8 1281.8 206.3 1256.9 206.7 1262.4 207.2 1276.5 207.6 1281.5 208.1 1285.4 208.5 1281.8 209 1285.7 209.4 1292.4 209.9 1291.7 210.3 1288.3 210.8 1300.7 211.2 1298.6 211.7 1281.1 212.1 1291.1 212.6 1293 213 1280.5 213.5 1293.6 213.9 1291.4 214.4 1289.4 214.8 1288.2 215.3 1295.5 215.7 1293.4 216.2 1291.9 216.6 1294.1 217.1 1295.6 217.5 1297.4 218 1296 218.4 1299.8 218.9 1294.7 219.3 1299.2 219.8 1295.9 220.2 1290.7 220.7 1298.7 221.1 1297.8 221.6 1297.2 222 1300.4 222.5 1301.4 222.9 1299.8 223.4 1304.4 223.8 1302.8 224.3 1299.7 224.7 1300.6 225.2 1309.1 225.6 1307.2 226.1 1304.8 226.5 1306.2 227 1307.6 227.4 1308.2 227.9 1299.4 228.3 1302.4 228.8 1302.3 229.2 1305.8 229.7 1299.3 230.1 1310.6 230.6 1312.1 231 1307.7 231.5 1308 231.9 1304.7M236.3 1301.8 236.8 1307 237.2 1298.2 237.7 1298.1 238.1 1290.4 238.6 1309.6 239 1304.7 239.5 1301.1 239.9 1296 240.4 1291.2 240.8 1297.5 241.3 1304.8 241.7 1303.8 242.2 1303.8 242.6 1306.3 243.1 1306.9 243.5 1294.6 244 1295 244.4 1300.7 244.9 1298.3 245.3 1306.1 245.8 1296.7 246.2 1300.4 246.7 1299.8 247.1 1297.7 247.6 1301 248 1301.2 248.5 1292 248.9 1295 249.4 1296.2 249.8 1297.4 250.3 1300.4 250.7 1296.6 251.2 1296.4 251.6 1301.6 252.1 1301.4 252.5 1293.2 253 1294.8 253.4 1287.1 253.9 1288 254.3 1276.7 254.8 1284.8 255.2 1277.3 255.7 1272.1 256.1 1271.7 256.6 1273.1 257 1276.8 257.5 1275.3 257.9 1278.7 258.4 1289.1 258.8 1286.9 259.3 1298.4 259.7 1294.9 260.2 1301.2 260.6 1299 261.1 1295.8 261.5 1308.6 262 1299.5 262.4 1295.1 262.9 1300.7 263.3 1283.4 263.8 1272.5 264.2 1267 264.7 1275 265.1 1281 265.6 1294.5 266 1289 266.5 1286.2 266.9 1299.1 267.4 1305.7 267.8 1303.6 268.3 1303.3 268.7 1303.6 269.2 1303.1 269.6 1304.4 270.1 1303.9 270.5 1303.2 271 1300.1 271.4 1301.3 271.9 1305.5 272.3 1306.1 272.8 1294.9 273.2 1300.2 273.7 1302 274.1 1302.4 274.6 1300.3 275 1300.5 275.5 1305 275.9 1294.3 276.4 1298 276.8 1309.8 277.3 1291 277.7 1299.2 278.2 1304.7 278.6 1306.9 279.1 1308.3 279.5 1304.4 280 1307.7 280.4 1302.6 280.9 1301.2 281.3 1305.9 281.8 1310.8 282.2 1304.1 282.7 1299.3 283.1 1305.4 283.6 1294.3 284 1296.7 284.5 1306.1 284.9 1296.4 285.4 1297.7 285.8 1309.5 286.3 1304.3 286.7 1296.3 287.2 1311.3 287.6 1304.3 288.1 1303.6 288.5 1306.2 289 1299.8 289.4 1299.2M293.8 1308.7 294.2 1291.1 294.7 1301.8 295.1 1303.2 295.6 1305.6 296 1309.1 296.5 1305.6 296.9 1302 297.4 1305.8 297.8 1298.4 298.3 1303.5 298.7 1311 299.2 1307.2 299.6 1309.1 300.1 1301.6 300.5 1297.1 301 1302 301.4 1308.1 301.9 1298.3 302.3 1306.3 302.8 1299.4 303.2 1304.5 303.7 1299.4 304.1 1310.2 304.6 1305.1 305 1303.4 305.5 1302.9 305.9 1304.9 306.4 1300.1 306.8 1300 307.3 1306.4 307.7 1301.7 308.2 1306.5 308.6 1301.4 309.1 1300.8 309.5 1302.2 310 1306.4 310.4 1300.9 310.9 1300.5 311.3 1302.1 311.8 1294 312.2 1299.5 312.7 1312.3 313.1 1299.8 313.6 1299.3 314 1296.5 314.5 1298.8 314.9 1293.2 315.4 1299.1 315.8 1296.9 316.3 1297.4 316.7 1296.8 317.2 1296.6 317.6 1303.1 318.1 1298.5 318.5 1303.2 319 1310.5 319.4 1294.5 319.9 1308.6 320.3 1301.7 320.8 1282.4 321.2 1254.7 321.7 1244.8 322.1 1253.1 322.6 1278.2 323 1276.2 323.5 1289.1 323.9 1291.7 324.4 1297.5 324.8 1294.7 325.3 1299.4 325.7 1300.2 326.2 1299.7 326.6 1300.7 327.1 1295.7 327.5 1296.2 328 1300.5 328.4 1304.6 328.9 1302.8 329.3 1307.1 329.8 1300.4 330.2 1312.4 330.7 1307.1 331.1 1304.8 331.6 1311.1 332 1308 332.5 1308.9 332.9 1315.2 333.4 1303.9 333.8 1309.3 334.3 1305.6 334.7 1308.9 335.2 1303.3 335.6 1306.8 336.1 1299.8 336.5 1300.6 337 1299.4 337.4 1304.3 337.9 1308.2 338.3 1301.4 338.8 1306.5 339.2 1307.7 339.7 1316 340.1 1299 340.6 1308.5 341 1304.9 341.5 1309.1 341.9 1311.5 342.4 1307.6 342.8 1312 343.3 1318.5 343.7 1313.7 344.2 1317.6 344.6 1313.3 345.1 1310.3 345.5 1308.4 346 1301 346.4 1302.1 346.9 1314M351.2 1301.2 351.7 1303.7 352.1 1301.4 352.6 1306.6 353.1 1301.6 353.5 1302.2 353.9 1294.9 354.4 1301.8 354.9 1307.7 355.3 1303.9 355.8 1297.6 356.2 1300.4 356.6 1303.4 357.1 1301.3 357.6 1301.5 358 1302.5 358.4 1301.7 358.9 1303.2 359.4 1302.9 359.8 1306.1 360.2 1304.2 360.7 1316.4 361.1 1307.6 361.6 1302.9 362.1 1305.7 362.5 1311.4 362.9 1307.1 363.4 1302.5 363.9 1309.1 364.3 1309.7 364.8 1308.8 365.2 1299.7 365.6 1294.3 366.1 1300.8 366.6 1301.5 367 1298.3 367.4 1298.8 367.9 1300.2 368.4 1301.3 368.8 1303.2 369.2 1300.5 369.7 1301.4 370.1 1302.8 370.6 1295.9 371.1 1311.1 371.5 1301.7 371.9 1293.3 372.4 1290.2 372.9 1301.9 373.3 1291.8 373.8 1299.9 374.2 1305.3 374.6 1293.9 375.1 1296.9 375.6 1301.5 376 1298 376.4 1302.6 376.9 1299.7 377.4 1304.2 377.8 1296.5 378.2 1304.4 378.7 1304.7 379.1 1288.8 379.6 1301.3 380.1 1288.2 380.5 1268.4 380.9 1260.5 381.4 1276.8 381.9 1280.5 382.3 1283.6 382.8 1290.9 383.2 1285.2 383.6 1297.6 384.1 1295.1 384.6 1295.2 385 1292.4 385.4 1288.7 385.9 1295.7 386.4 1303.3 386.8 1303.5 387.2 1300.6 387.7 1298.5 388.1 1292 388.6 1290.8 389.1 1295.3 389.5 1297.4 389.9 1305.3 390.4 1300.4 390.9 1307.6 391.3 1308.6 391.8 1306.1 392.2 1312 392.6 1309.5 393.1 1303.1 393.6 1304.5 394 1304.1 394.4 1301.5 394.9 1304 395.4 1316.6 395.8 1307.1 396.2 1315.6 396.7 1305.2 397.1 1304.7 397.6 1304.8 398.1 1301.6 398.5 1294.5 398.9 1295.9 399.4 1298.6 399.9 1311.9 400.3 1301 400.8 1310.5 401.2 1306.6 401.6 1302.4 402.1 1309.1 402.6 1310.2 403 1303.8 403.4 1307.2 403.9 1311.1 404.4 1297.6M408.7 1299.3 409.2 1302.3 409.6 1299 410.1 1297.7 410.5 1308.9 411 1303.4 411.4 1296.9 411.9 1303.4 412.3 1305.2 412.8 1296.5 413.2 1291.5 413.7 1305.1 414.1 1293.9 414.6 1290.1 415 1303 415.5 1302.6 415.9 1300.9 416.4 1301.4 416.8 1301.4 417.3 1298.4 417.7 1297.4 418.2 1302.4 418.6 1295 419.1 1293.1 419.5 1297 420 1298.3 420.4 1305.1 420.9 1301.7 421.3 1309.1 421.8 1300.1 422.2 1303.8 422.7 1310.9 423.1 1306.8 423.6 1313.3 424 1307.8 424.5 1313.8 424.9 1306.4 425.4 1305.7 425.8 1306.8 426.3 1311.8 426.7 1304.1 427.2 1311.9 427.6 1308.7 428.1 1305.6 428.5 1301.9 429 1295.4 429.4 1300.8 429.9 1296.5 430.3 1294.1 430.8 1296.4 431.2 1295.2 431.7 1294.3 432.1 1299.5 432.6 1305.9 433 1294.1 433.5 1301.7 433.9 1297.6 434.4 1292.2 434.8 1297.4 435.3 1288.8 435.7 1297.9 436.2 1303.1 436.6 1295.8 437.1 1305 437.5 1297.3 438 1282.6 438.4 1278.9 438.9 1285.5 439.3 1288 439.8 1286.7 440.2 1293.8 440.7 1289.5 441.1 1292 441.6 1296.3 442 1299.7 442.5 1302.6 442.9 1296.1 443.4 1298.8 443.8 1301.7 444.3 1294.8 444.7 1295.7 445.2 1308.5 445.6 1297 446.1 1303.8 446.5 1297.3 447 1299.4 447.4 1293.6 447.9 1303 448.3 1293.6 448.8 1297.9 449.2 1297.5 449.7 1306 450.1 1296.5 450.6 1305.1 451 1302.1 451.5 1302 451.9 1303.8 452.4 1294.6 452.8 1305.9 453.3 1294.9 453.7 1295.7 454.2 1296.8 454.6 1298.8 455.1 1297 455.5 1295.5 456 1296.2 456.4 1295.1 456.9 1296.1 457.3 1294.9 457.8 1298.5 458.2 1294.6 458.7 1294 459.1 1297.2 459.6 1303.1 460 1295.9 460.5 1294.3 460.9 1294.9 461.4 1301.4 461.8 1296.6M466.2 1297.9 466.6 1309 467.1 1306.2 467.5 1302.3 468 1299.7 468.4 1309.1 468.9 1309 469.3 1303.1 469.8 1304.9 470.2 1309.4 470.7 1310.7 471.1 1308.7 471.6 1305.4 472 1306.9 472.5 1300 472.9 1312.9 473.4 1303 473.8 1303.3 474.3 1302.4 474.7 1310.9 475.2 1301.3 475.6 1312.8 476.1 1312.1 476.5 1309.5 477 1310.8 477.4 1308.2 477.9 1316.6 478.3 1310.8 478.8 1308.8 479.2 1316 479.7 1301.9 480.1 1306.1 480.6 1306.8 481 1315.2 481.5 1311.3 481.9 1305.8 482.4 1299.6 482.8 1308.7 483.3 1308 483.7 1305.8 484.2 1312.5 484.6 1302.6 485.1 1307.4 485.5 1306 486 1303.7 486.4 1307.3 486.9 1311.5 487.3 1312.1 487.8 1308.3 488.2 1306.5 488.7 1301.6 489.1 1305.7 489.6 1296.5 490 1299.6 490.5 1301.2 490.9 1303 491.4 1298.1 491.8 1301.6 492.3 1301.3 492.7 1299.2 493.2 1302.2 493.6 1296.3 494.1 1304.5 494.5 1305.3 495 1291.3 495.4 1285.9 495.9 1271.7 496.3 1278.8 496.8 1295.2 497.2 1291.4 497.7 1292 498.1 1288.9 498.6 1292.8 499 1290.4 499.5 1286.5 499.9 1292.4 500.4 1293.7 500.8 1298 501.3 1299.5 501.7 1302.8 502.2 1308.9 502.6 1298.9 503.1 1296.1 503.5 1292.4 504 1297.1 504.4 1300.2 504.9 1307.5 505.3 1306.1 505.8 1307.7 506.2 1298.3 506.7 1304.1 507.1 1308.3 507.6 1296.5 508 1298.2 508.5 1300.8 508.9 1309.1 509.4 1303.4 509.8 1306.3 510.3 1305.5 510.7 1304.8 511.2 1309.5 511.6 1294.1 512.1 1300 512.5 1306.8 513 1306.2 513.4 1306.5 513.9 1305.3 514.3 1299 514.8 1294.5 515.2 1298.3 515.7 1299 516.1 1299.2 516.6 1298.2 517 1303.8 517.5 1304.1 517.9 1300.1 518.4 1304.4 518.8 1300.3 519.3 1301.6M523.7 1307.7 524.1 1308.8 524.6 1304.9 525 1307.8 525.5 1300.9 525.9 1304.3 526.4 1302.9 526.8 1299.1 527.3 1304.3 527.7 1301.8 528.2 1302.4 528.6 1301.4 529.1 1309.1 529.5 1320.8 530 1307.6 530.4 1300.5 530.9 1316.8 531.3 1309.2 531.8 1309.2 532.2 1308.4 532.7 1299.8 533.1 1299.6 533.6 1299.3 534 1300.3 534.5 1312.3 534.9 1307.4 535.4 1296.2 535.8 1300.9 536.3 1305.8 536.7 1302.2 537.2 1303.8 537.6 1303.2 538.1 1301.5 538.5 1301.5 539 1305.4 539.4 1307.7 539.9 1307.6 540.3 1297.1 540.8 1306 541.2 1303.4 541.7 1308.3 542.1 1297.2 542.6 1306.1 543 1301.1 543.5 1301.4 543.9 1305.8 544.4 1301.3 544.8 1300.5 545.3 1301.3 545.7 1303.7 546.2 1300.8 546.6 1297.9 547.1 1298 547.5 1291.1 548 1291.2 548.4 1303.6 548.9 1297.3 549.3 1301.9 549.8 1297.6 550.2 1307.1 550.7 1300.4 551.1 1296.4 551.6 1306.1 552 1306.3 552.5 1288.4 552.9 1271.6 553.4 1244.3 553.8 1254.5 554.3 1279.6 554.7 1282.8 555.2 1283.3 555.6 1286.2 556.1 1290.8 556.5 1293.3 557 1286.9 557.4 1293.6 557.9 1296.7 558.3 1294.6 558.8 1296 559.2 1295.3 559.7 1291.8 560.1 1289.7 560.6 1295.4 561 1297.7 561.5 1294.7 561.9 1292.5 562.4 1299.1 562.8 1301.3 563.3 1303.6 563.7 1297.6 564.2 1304.4 564.6 1302.8 565.1 1303.7 565.5 1300.2 566 1297.5 566.4 1301.9 566.9 1299 567.3 1303.1 567.8 1302 568.2 1301.8 568.7 1305.1 569.1 1312.7 569.6 1303.4 570 1304.2 570.5 1310.8 570.9 1306.7 571.4 1307 571.8 1308.1 572.3 1308.4 572.7 1300.7 573.2 1301.8 573.6 1306.3 574.1 1315.7 574.5 1319.4 575 1308.6 575.4 1298.9 575.9 1309 576.3 1309 576.8 1303.7M581.1 1308.4 581.6 1293 582 1293.2 582.5 1307 582.9 1298 583.4 1301.9 583.8 1296.6 584.3 1304.3 584.7 1295.3 585.2 1302.2 585.6 1301.8 586.1 1294.2 586.5 1300.5 587 1306.9 587.4 1299.3 587.9 1306 588.3 1296.1 588.8 1304.7 589.2 1305.9 589.7 1310.8 590.1 1303.7 590.6 1295.3 591 1299.3 591.5 1291.9 591.9 1299.6 592.4 1300.1 592.8 1305.8 593.3 1298.5 593.7 1307.6 594.2 1302.7 594.6 1301.2 595.1 1302.8 595.5 1296.1 596 1308.2 596.4 1299.2 596.9 1297.2 597.3 1305.2 597.8 1296.5 598.2 1307 598.7 1295.5 599.1 1294.7 599.6 1301.5 600 1292.4 600.5 1299.5 600.9 1306.9 601.4 1311.5 601.8 1304.2 602.3 1295.2 602.7 1291.4 603.2 1300 603.6 1302 604.1 1300.4 604.5 1302.7 605 1301.1 605.4 1300.4 605.9 1297.9 606.3 1305.1 606.8 1301.5 607.2 1298.7 607.7 1304.1 608.1 1298.5 608.6 1299.1 609 1296.2 609.5 1299.1 609.9 1291.5 610.4 1274 610.8 1255.6 611.3 1272.8 611.7 1283.1 612.2 1281.4 612.6 1287.3 613.1 1288.4 613.5 1292.6 614 1289.3 614.4 1296.8 614.9 1302.3 615.3 1303.1 615.8 1297.7 616.2 1300.8 616.7 1305.7 617.1 1298.7 617.6 1296.9 618 1308.6 618.5 1298.8 618.9 1305.9 619.4 1300.6 619.8 1297.6 620.3 1298.5 620.7 1302.1 621.2 1304.6 621.6 1306 622.1 1293.4 622.5 1302.4 623 1295.3 623.4 1294.9 623.9 1292.7 624.3 1301.7 624.8 1298.4 625.2 1298.7 625.7 1308.6 626.1 1296.9 626.6 1297.1 627 1303.3 627.5 1299.4 627.9 1299.1 628.4 1302.6 628.8 1295 629.3 1304.8 629.7 1302.1 630.2 1306.5 630.6 1305.9 631.1 1299.6 631.5 1302.6 632 1298.3 632.4 1298.8 632.9 1301.8 633.3 1306.5 633.8 1301.6 634.2 1303.8M638.6 1306.1 639.1 1301.3 639.5 1297.3 640 1300.8 640.4 1303.3 640.9 1305.6 641.3 1300.4 641.8 1299.1 642.2 1306.2 642.6 1311.9 643.1 1300 643.6 1299.4 644 1301.6 644.5 1299.5 644.9 1303 645.4 1301.8 645.8 1311.6 646.2 1301.8 646.7 1304.5 647.1 1300.4 647.6 1298.6 648.1 1295.5 648.5 1300.6 649 1296.3 649.4 1308.1 649.9 1303.8 650.3 1300.2 650.8 1296.3 651.2 1301.3 651.6 1298.9 652.1 1289.3 652.6 1297.8 653 1297.7 653.5 1300 653.9 1305.8 654.4 1305.4 654.8 1305.4 655.2 1315.7 655.7 1297.4 656.1 1305.8 656.6 1299.5 657.1 1303.6 657.5 1306.9 658 1308.5 658.4 1299.2 658.9 1302.7 659.3 1307.2 659.8 1306.1 660.2 1305.8 660.6 1310 661.1 1310.8 661.6 1302.6 662 1305.3 662.5 1307.3 662.9 1310.6 663.4 1302.1 663.8 1301 664.2 1313.1 664.7 1304.6 665.1 1304.7 665.6 1303.3 666.1 1297 666.5 1279.9 667 1254 667.4 1244.7 667.9 1256.8 668.3 1273.2 668.8 1281 669.2 1285.1 669.6 1294 670.1 1292.7 670.6 1289.2 671 1293.9 671.5 1292.5 671.9 1302.8 672.4 1293.6 672.8 1298.3 673.2 1297.3 673.7 1299 674.1 1302.3 674.6 1295.9 675.1 1295.5 675.5 1301.1 676 1301.7 676.4 1308.3 676.9 1306.9 677.3 1303.2 677.8 1300.7 678.2 1308 678.6 1304.7 679.1 1297.5 679.6 1311.4 680 1303.2 680.5 1304.2 680.9 1303.1 681.4 1310.9 681.8 1306.3 682.2 1306.2 682.7 1305.1 683.1 1304.3 683.6 1301.8 684.1 1301.7 684.5 1296.1 685 1302.4 685.4 1302.3 685.9 1298.9 686.3 1301 686.8 1292.7 687.2 1296.4 687.6 1303.4 688.1 1303.6 688.6 1304.2 689 1299.3 689.5 1293.8 689.9 1283.6 690.4 1283.8 690.8 1284.8 691.2 1296.2 691.7 1301.7M696.1 1297.3 696.5 1306.5 697 1301.4 697.4 1311 697.9 1307.1 698.3 1305 698.8 1306 699.2 1311.9 699.7 1300 700.1 1309.2 700.6 1309.3 701 1301.1 701.5 1308.4 701.9 1306.2 702.4 1304 702.8 1301.2 703.3 1300.4 703.7 1303.4 704.2 1299.4 704.6 1303 705.1 1294.1 705.5 1303.8 706 1301.5 706.4 1308.7 706.9 1298.8 707.3 1302.8 707.8 1297.3 708.2 1299.3 708.7 1296 709.1 1297.7 709.6 1299.1 710 1291.8 710.5 1294.4 710.9 1292.7 711.4 1299.5 711.8 1296.6 712.3 1297.5 712.7 1300.9 713.2 1294.8 713.6 1299.5 714.1 1301.9 714.5 1306.9 715 1299.4 715.4 1300.2 715.9 1306.3 716.3 1299.1 716.8 1302.4 717.2 1301.3 717.7 1303.2 718.1 1301 718.6 1293.3 719 1304.8 719.5 1298.5 719.9 1302.7 720.4 1304.1 720.8 1304 721.3 1301.7 721.7 1299.8 722.2 1303.7 722.6 1300.7 723.1 1304.4 723.5 1300.9 724 1278.5 724.4 1263.9 724.9 1252.9 725.3 1266.3 725.8 1278.8 726.2 1294.1 726.7 1293 727.1 1296 727.6 1291.6 728 1295.5 728.5 1291.7 728.9 1295.7 729.4 1299.9 729.8 1300.6 730.3 1292 730.7 1299.9 731.2 1294.9 731.6 1298 732.1 1291.4 732.5 1297 733 1293.2 733.4 1296.3 733.9 1297.6 734.3 1296 734.8 1291.5 735.2 1295.6 735.7 1293.7 736.1 1294.2 736.6 1294.6 737 1294.7 737.5 1299.2 737.9 1289.2 738.4 1291.4 738.8 1290 739.3 1293.3 739.7 1299.3 740.2 1301.3 740.6 1301 741.1 1291.2 741.5 1300.1 742 1293.1 742.4 1300.2 742.9 1301.2 743.3 1304 743.8 1298.6 744.2 1302.8 744.7 1307.1 745.1 1292.4 745.6 1302 746 1296.8 746.5 1290.6 746.9 1299.4 747.4 1295.1 747.8 1300 748.3 1305.7 748.7 1308.6 749.2 1305.1M753.5 1298.5 754 1301.5 754.4 1305.9 754.9 1304.2 755.3 1304.4 755.8 1297.8 756.2 1298.2 756.7 1298.6 757.1 1311.5 757.6 1309.8 758 1306.2 758.5 1301.3 758.9 1301 759.4 1310.2 759.8 1304.1 760.3 1311.8 760.7 1306 761.2 1309.9 761.6 1303.9 762.1 1309.5 762.5 1299.2 763 1315 763.4 1309.5 763.9 1306.5 764.3 1309.1 764.8 1301.8 765.2 1302.2 765.7 1298.9 766.1 1303.4 766.6 1307.4 767 1310.4 767.5 1298.6 767.9 1303.2 768.4 1309.2 768.8 1307.3 769.3 1294.7 769.7 1307.8 770.2 1308 770.6 1307 771.1 1303.4 771.5 1293.8 772 1296.2 772.4 1304.6 772.9 1304 773.3 1302.4 773.8 1305.2 774.2 1301.6 774.7 1297.3 775.1 1306.4 775.6 1307.4 776 1306.6 776.5 1301.7 776.9 1302 777.4 1301.1 777.8 1302.5 778.3 1300.1 778.7 1298.9 779.2 1298.9 779.6 1303.9 780.1 1305.2 780.5 1305.9 781 1300.5 781.4 1269.6 781.9 1257.9 782.3 1248.3 782.8 1258.7 783.2 1266.3 783.7 1275 784.1 1287.2 784.6 1289 785 1290 785.5 1285.7 785.9 1291.7 786.4 1301.4 786.8 1296.7 787.3 1295.6 787.7 1297.1 788.2 1290.8 788.6 1292 789.1 1299.5 789.5 1299.3 790 1301.9 790.4 1303.9 790.9 1296.3 791.3 1297 791.8 1297.2 792.2 1296.8 792.7 1301 793.1 1303.4 793.6 1308.9 794 1299.6 794.5 1301.3 794.9 1301.2 795.4 1297.9 795.8 1293.9 796.3 1301.1 796.7 1304.5 797.2 1298.9 797.6 1308 798.1 1311.6 798.5 1301.4 799 1296.6 799.4 1302.3 799.9 1298.5 800.3 1300.8 800.8 1299.2 801.2 1310.3 801.7 1306 802.1 1297.5 802.6 1305.9 803 1303.1 803.5 1297.7 803.9 1299.6 804.4 1301.3 804.8 1306.5 805.3 1296.4 805.7 1300.7 806.2 1305.3 806.6 1298.7M811 1293.7 811.5 1299.5 811.9 1301.4 812.4 1303.3 812.8 1298.7 813.3 1297.8 813.7 1304.3 814.2 1299.4 814.6 1301.8 815.1 1303.6 815.5 1302.3 816 1299 816.4 1304.8 816.9 1297 817.3 1307.9 817.8 1299.4 818.2 1309.1 818.7 1308.4 819.1 1299.3 819.6 1303.4 820 1302.8 820.5 1302 820.9 1309.7 821.4 1303.8 821.8 1298.6 822.3 1301.9 822.7 1302.7 823.2 1289.8 823.6 1300.8 824.1 1292.9 824.5 1299.7 825 1303.4 825.4 1291.7 825.9 1294.7 826.3 1297.8 826.8 1299.1 827.2 1295.7 827.7 1297.3 828.1 1294.3 828.6 1292.7 829 1290.2 829.5 1299.9 829.9 1293.9 830.4 1302.9 830.8 1293.9 831.3 1298.4 831.7 1291.6 832.2 1287 832.6 1304.6 833.1 1299.9 833.5 1302.9 834 1301.5 834.4 1295.1 834.9 1307.4 835.3 1306.9 835.8 1302.4 836.2 1308.2 836.7 1297.8 837.1 1292.3 837.6 1296.3 838 1301.2 838.5 1300.7 838.9 1283.3 839.4 1268.5 839.8 1260.3 840.3 1277.6 840.7 1280 841.2 1286 841.6 1293.6 842.1 1289.8 842.5 1295.1 843 1305.9 843.4 1303.1 843.9 1299.2 844.3 1297.9 844.8 1309 845.2 1294.4 845.7 1296 846.1 1297.5 846.6 1305.2 847 1302.2 847.5 1299.3 847.9 1303.9 848.4 1302 848.8 1299.8 849.3 1297.7 849.7 1299.2 850.2 1298.9 850.6 1307.2 851.1 1306.3 851.5 1295 852 1298.1 852.4 1301.8 852.9 1302 853.3 1298.8 853.8 1294.5 854.2 1302 854.7 1301.6 855.1 1309.9 855.6 1297.6 856 1299.1 856.5 1297.2 856.9 1296.4 857.4 1297.9 857.8 1304.8 858.3 1302.7 858.7 1298.2 859.2 1294 859.6 1302 860.1 1301.2 860.5 1304 861 1303.8 861.4 1298.1 861.9 1308.8 862.3 1300.9 862.8 1308.2 863.2 1302.1 863.7 1299.6 864.1 1300.2M868.5 1297.8 868.9 1302.2 869.4 1292 869.8 1296.9 870.3 1296.3 870.7 1297.5 871.2 1300.9 871.6 1300.3 872.1 1301.9 872.5 1296.6 873 1295.5 873.4 1303 873.9 1296.5 874.3 1295.4 874.8 1295.5 875.2 1298.5 875.7 1296.4 876.1 1297.2 876.6 1296.6 877 1292.2 877.5 1294.6 877.9 1292.8 878.4 1298.1 878.8 1295.3 879.3 1299 879.7 1295.4 880.2 1306.6 880.6 1303.1 881.1 1302.6 881.5 1303.5 882 1296.2 882.4 1297.8 882.9 1301.2 883.3 1298.4 883.8 1298.2 884.2 1301 884.7 1306.8 885.1 1300.7 885.6 1307.6 886 1305.9 886.5 1298.2 886.9 1299.9 887.4 1303.4 887.8 1296.4 888.3 1296.7 888.7 1300.1 889.2 1300 889.6 1298 890.1 1300 890.5 1295.7 891 1302.9 891.4 1307.1 891.9 1293.3 892.3 1303.2 892.8 1302.7 893.2 1295.6 893.7 1302 894.1 1302.4 894.6 1307.6 895 1302.3 895.5 1304.6 895.9 1303.5 896.4 1277.4 896.8 1244.1 897.3 1228.3 897.7 1245.1 898.2 1267 898.6 1279 899.1 1272.4 899.5 1283.5 900 1292 900.4 1284.6 900.9 1284.4 901.3 1279.7 901.8 1291.2 902.2 1291.6 902.7 1298.8 903.1 1293.9 903.6 1290.7 904 1299.1 904.5 1296.7 904.9 1296.2 905.4 1297 905.8 1293.6 906.3 1296.7 906.7 1293.4 907.2 1296.2 907.6 1301.6 908.1 1297.6 908.5 1303.2 909 1301.9 909.4 1296.6 909.9 1300.2 910.3 1303.2 910.8 1296.8 911.2 1295.3 911.7 1305.8 912.1 1302.5 912.6 1306.1 913 1302.8 913.5 1295.8 913.9 1303.6 914.4 1299.2 914.8 1297.1 915.3 1300.7 915.7 1300.1 916.2 1304.1 916.6 1296 917.1 1293.7 917.5 1297.7 918 1291.1 918.4 1293.6 918.9 1292.2 919.3 1294.9 919.8 1295.4 920.2 1295.5 920.7 1292.3 921.1 1299.1 921.6 1299.2M63.9 1410.6 64.3 1406.8 64.8 1406.6 65.2 1408.2 65.7 1406.7 66.2 1414.7 66.6 1407.2 67 1399.1 67.5 1400.6 68 1400.6 68.4 1402.8 68.8 1405.9 69.3 1412.6 69.8 1409.1 70.2 1406.7 70.7 1408.3 71.1 1409.4 71.5 1410.7 72 1402.9 72.5 1412.5 72.9 1410.4 73.3 1414.1 73.8 1415.1 74.2 1407.9 74.7 1407.8 75.2 1410.1 75.6 1410.4 76 1412.7 76.5 1415.7 77 1419.5 77.4 1420.4 77.8 1413.6 78.3 1415.2 78.8 1418 79.2 1415.5 79.7 1412.5 80.1 1414.1 80.5 1415.2 81 1422.4 81.5 1409.8 81.9 1412.5 82.3 1413.1 82.8 1410 83.2 1404.5 83.7 1406.8 84.2 1406.7 84.6 1398.1 85 1396.3 85.5 1402.6 86 1407.5 86.4 1405 86.8 1403.4 87.3 1404.6 87.8 1400 88.2 1401.6 88.7 1401.6 89.1 1409 89.5 1414.3 90 1402.8 90.5 1407.6 90.9 1368 91.3 1342.5 91.8 1316.7 92.2 1346.1 92.7 1357.6 93.2 1376 93.6 1389.7 94 1391.4 94.5 1392.5 95 1391.8 95.4 1398.9 95.8 1400.9 96.3 1399.9 96.8 1408.8 97.2 1403.3 97.7 1403.3 98.1 1405.8 98.5 1396.8 99 1404.2 99.5 1415.8 99.9 1412.4 100.3 1413.2 100.8 1409.5 101.2 1407 101.7 1407.1 102.2 1406.3 102.6 1409.2 103 1408.5 103.5 1412.2 104 1412.2 104.4 1413.2 104.8 1401.8 105.3 1410.6 105.8 1411 106.2 1407.6 106.7 1409.5 107.1 1406.8 107.5 1409.7 108 1410.1 108.5 1404.3 108.9 1406.3 109.3 1406.5 109.8 1414.5 110.2 1414.5 110.7 1404.2 111.2 1407.5 111.6 1400.4 112 1403.1 112.5 1405.7 113 1409.9 113.4 1410.1 113.8 1398.3 114.3 1402.1 114.8 1408.8 115.2 1408.3 115.7 1406.8 116.1 1399.4 116.5 1400.8 117 1402.8M121.4 1408.6 121.8 1407.8 122.3 1398 122.7 1408.6 123.2 1410.8 123.6 1402.7 124.1 1399.7 124.5 1401.3 125 1412 125.4 1409.6 125.9 1404.6 126.3 1404.9 126.8 1406.6 127.2 1406.1 127.7 1405.6 128.1 1401 128.6 1409.9 129 1399.7 129.5 1411.6 129.9 1409.1 130.4 1406.2 130.8 1412.6 131.3 1412 131.7 1408.3 132.2 1410.6 132.6 1406.5 133.1 1403.8 133.5 1408.8 134 1406.6 134.4 1408.1 134.9 1415.7 135.3 1413.1 135.8 1399.9 136.2 1415.3 136.7 1409.5 137.1 1409.6 137.6 1413.1 138 1414.4 138.5 1410.2 138.9 1411.4 139.4 1405.4 139.8 1407.3 140.3 1412.4 140.7 1406.6 141.2 1402.4 141.6 1406.5 142.1 1415.7 142.5 1406.3 143 1401.7 143.4 1403.7 143.9 1407.7 144.3 1412.4 144.8 1406.7 145.2 1409.7 145.7 1410.7 146.1 1411.9 146.6 1403.3 147 1413.7 147.5 1411.8 147.9 1404.2 148.4 1385.5 148.8 1353.2 149.3 1337.3 149.7 1353.7 150.2 1367.8 150.6 1382.8 151.1 1391.4 151.5 1390.5 152 1394.1 152.4 1396.2 152.9 1404.2 153.3 1405.5 153.8 1402.6 154.2 1407.9 154.7 1403.5 155.1 1408.3 155.6 1411.6 156 1412.3 156.5 1409.6 156.9 1409.8 157.4 1411.9 157.8 1407.9 158.3 1407.7 158.7 1411 159.2 1408.4 159.6 1416.4 160.1 1414.4 160.5 1417.5 161 1409.4 161.4 1410.1 161.9 1414.4 162.3 1412.7 162.8 1415.1 163.2 1410.4 163.7 1415 164.1 1408.6 164.6 1410.5 165 1407.7 165.5 1417.3 165.9 1412.9 166.4 1401.7 166.8 1410.7 167.3 1408.1 167.7 1415 168.2 1408.5 168.6 1413.7 169.1 1404.9 169.5 1405 170 1404.7 170.4 1409.5 170.9 1399.5 171.3 1401.8 171.8 1404.2 172.2 1407.1 172.7 1398.9 173.1 1403.3 173.6 1406.2 174 1405.5 174.5 1403.5M178.8 1409.7 179.3 1404.8 179.7 1408.9 180.2 1408.4 180.6 1403 181.1 1411.6 181.5 1403.2 182 1395.8 182.4 1395.6 182.9 1406.3 183.3 1402.3 183.8 1408 184.2 1408.4 184.7 1406.7 185.1 1409.3 185.6 1409 186 1402.5 186.5 1419.2 186.9 1408.8 187.4 1408 187.8 1414.1 188.3 1415.4 188.7 1418.5 189.2 1409.2 189.6 1411.7 190.1 1410.5 190.5 1405 191 1410.9 191.4 1409.1 191.9 1404.5 192.3 1407 192.8 1411.4 193.2 1407.9 193.7 1409.9 194.1 1406.3 194.6 1402.1 195 1402.9 195.5 1401.1 195.9 1409.5 196.4 1402.2 196.8 1410.8 197.3 1403.8 197.7 1407.6 198.2 1401.1 198.6 1409.3 199.1 1404.4 199.5 1412.7 200 1402.2 200.4 1404.7 200.9 1406.4 201.3 1405.6 201.8 1409 202.2 1412.4 202.7 1400.4 203.1 1406.6 203.6 1407.1 204 1409.2 204.5 1409.1 204.9 1407.4 205.4 1404 205.8 1380.8 206.3 1372 206.7 1356.6 207.2 1366 207.6 1382.7 208.1 1389.4 208.5 1392.5 209 1395.8 209.4 1398.6 209.9 1394.6 210.3 1402.5 210.8 1398 211.2 1404.8 211.7 1408.9 212.1 1402 212.6 1407.9 213 1409.3 213.5 1400.2 213.9 1411.8 214.4 1410.2 214.8 1412.5 215.3 1409.8 215.7 1408.1 216.2 1396.9 216.6 1403.3 217.1 1406.6 217.5 1406.8 218 1407.2 218.4 1404.7 218.9 1410.6 219.3 1405.7 219.8 1402.5 220.2 1403.9 220.7 1407.9 221.1 1407.5 221.6 1398.3 222 1403.5 222.5 1404.4 222.9 1406.7 223.4 1403.7 223.8 1406.9 224.3 1400.7 224.7 1407.7 225.2 1404.1 225.6 1406.2 226.1 1405.2 226.5 1410.8 227 1403.2 227.4 1409.7 227.9 1404.5 228.3 1404.5 228.8 1408.1 229.2 1406.9 229.7 1405.1 230.1 1411.6 230.6 1406.5 231 1410.3 231.5 1412.9 231.9 1406.3M236.3 1410.3 236.8 1408 237.2 1413.1 237.7 1408.7 238.1 1414.4 238.6 1415.7 239 1412.1 239.5 1409 239.9 1409.9 240.4 1405.9 240.8 1397.8 241.3 1410.2 241.7 1395.1 242.2 1406.2 242.6 1396.1 243.1 1403 243.5 1403.2 244 1411.6 244.4 1408.8 244.9 1406.9 245.3 1409.4 245.8 1407.2 246.2 1414.4 246.7 1414.5 247.1 1400.1 247.6 1402.3 248 1410 248.5 1407 248.9 1413.5 249.4 1406.2 249.8 1399.4 250.3 1408.4 250.7 1410.7 251.2 1401.4 251.6 1405.7 252.1 1404.5 252.5 1405.1 253 1401.8 253.4 1412.2 253.9 1398.9 254.3 1407 254.8 1400.1 255.2 1407.3 255.7 1410.4 256.1 1412.2 256.6 1415.6 257 1400.6 257.5 1407.8 257.9 1404.6 258.4 1407.6 258.8 1412.6 259.3 1406.7 259.7 1402.6 260.2 1416.7 260.6 1411.1 261.1 1409.2 261.5 1410.1 262 1406.9 262.4 1411.1 262.9 1412 263.3 1398.4 263.8 1369.4 264.2 1358.9 264.7 1377.5 265.1 1387.6 265.6 1395.3 266 1402.1 266.5 1404.8 266.9 1404.9 267.4 1394.6 267.8 1402.6 268.3 1399.4 268.7 1399 269.2 1413.4 269.6 1415.2 270.1 1406.1 270.5 1411.1 271 1408.2 271.4 1406.9 271.9 1415.7 272.3 1400.5 272.8 1408.5 273.2 1415.3 273.7 1408.9 274.1 1408.8 274.6 1407.3 275 1424.1 275.5 1417.6 275.9 1407.5 276.4 1411.9 276.8 1406.8 277.3 1416.4 277.7 1407.9 278.2 1402.3 278.6 1416.4 279.1 1414.2 279.5 1412.9 280 1412.1 280.4 1405.4 280.9 1412.3 281.3 1414.1 281.8 1406.4 282.2 1406.8 282.7 1403.1 283.1 1415.4 283.6 1412.4 284 1411.4 284.5 1411.8 284.9 1402.6 285.4 1405.9 285.8 1416.5 286.3 1406.6 286.7 1410.9 287.2 1402 287.6 1405.2 288.1 1403.2 288.5 1406.6 289 1412.8 289.4 1409.6M293.8 1405.5 294.2 1408.2 294.7 1410.2 295.1 1409.8 295.6 1413.8 296 1409.1 296.5 1408.6 296.9 1406.3 297.4 1407.8 297.8 1408.3 298.3 1409.5 298.7 1407.4 299.2 1412.4 299.6 1412.1 300.1 1408.4 300.5 1419.9 301 1411.4 301.4 1398.8 301.9 1406.2 302.3 1411.8 302.8 1405.9 303.2 1401.3 303.7 1399.9 304.1 1403.5 304.6 1402.8 305 1402 305.5 1403.4 305.9 1400 306.4 1404.2 306.8 1401.2 307.3 1399.7 307.7 1399.9 308.2 1407.5 308.6 1401.5 309.1 1406.5 309.5 1406.4 310 1408 310.4 1411.3 310.9 1409.3 311.3 1409.2 311.8 1404.8 312.2 1405.1 312.7 1407.4 313.1 1407.9 313.6 1408.6 314 1407.5 314.5 1405.5 314.9 1401.9 315.4 1399.7 315.8 1415.3 316.3 1412.2 316.7 1410.9 317.2 1411 317.6 1412.4 318.1 1414.3 318.5 1414.1 319 1398.5 319.4 1414.1 319.9 1414.4 320.3 1398 320.8 1378.9 321.2 1335.3 321.7 1332.8 322.1 1353.4 322.6 1374 323 1376.9 323.5 1393.4 323.9 1399.6 324.4 1400.2 324.8 1403.8 325.3 1400.7 325.7 1403.9 326.2 1405.4 326.6 1400 327.1 1399.9 327.5 1405.4 328 1402.1 328.4 1407 328.9 1405.7 329.3 1412.6 329.8 1409.6 330.2 1404.5 330.7 1407 331.1 1404.3 331.6 1397.7 332 1409.1 332.5 1405 332.9 1401 333.4 1404.4 333.8 1411.1 334.3 1413.5 334.7 1410.4 335.2 1396.2 335.6 1406.9 336.1 1402.6 336.5 1407.7 337 1412.4 337.4 1412.6 337.9 1420.8 338.3 1403.9 338.8 1408.4 339.2 1408.1 339.7 1415.1 340.1 1413.5 340.6 1416 341 1416 341.5 1413.9 341.9 1400.4 342.4 1406.9 342.8 1404.7 343.3 1404.1 343.7 1403.8 344.2 1404.3 344.6 1412.3 345.1 1408.4 345.5 1408.1 346 1409.3 346.4 1413.7 346.9 1413.6M351.2 1410.9 351.7 1409.4 352.1 1414 352.6 1409.1 353.1 1399.7 353.5 1408.3 353.9 1409.6 354.4 1397.3 354.9 1411 355.3 1406.6 355.8 1412.4 356.2 1407.5 356.6 1406.3 357.1 1404.1 357.6 1410.7 358 1412.1 358.4 1403.4 358.9 1409.8 359.4 1406.4 359.8 1409.9 360.2 1412.1 360.7 1413.2 361.1 1411.7 361.6 1406.6 362.1 1409.5 362.5 1416.8 362.9 1414.2 363.4 1404.3 363.9 1404.4 364.3 1403.7 364.8 1409.7 365.2 1410.9 365.6 1419.9 366.1 1410.5 366.6 1400 367 1412.8 367.4 1402.1 367.9 1395.2 368.4 1399.6 368.8 1406.6 369.2 1405 369.7 1407.2 370.1 1409.4 370.6 1409.9 371.1 1413 371.5 1404.9 371.9 1399.2 372.4 1409.7 372.9 1405.3 373.3 1398.1 373.8 1405.3 374.2 1409.4 374.6 1408.7 375.1 1400.2 375.6 1404.9 376 1400.9 376.4 1406.6 376.9 1401.4 377.4 1412.7 377.8 1405.9 378.2 1408.6 378.7 1407.3 379.1 1400.4 379.6 1407 380.1 1402 380.5 1396 380.9 1393.5 381.4 1391.4 381.9 1397.7 382.3 1395.9 382.8 1398.1 383.2 1408.7 383.6 1396.1 384.1 1396.1 384.6 1401.1 385 1411.7 385.4 1400 385.9 1404.1 386.4 1405.1 386.8 1403.3 387.2 1404.2 387.7 1406.6 388.1 1406.4 388.6 1409.3 389.1 1406.2 389.5 1396 389.9 1394.3 390.4 1393.1 390.9 1408.8 391.3 1404 391.8 1406.2 392.2 1406.5 392.6 1407.4 393.1 1402.9 393.6 1402 394 1409.6 394.4 1397.7 394.9 1409.4 395.4 1411.5 395.8 1411.8 396.2 1410 396.7 1399 397.1 1405 397.6 1399.8 398.1 1406.5 398.5 1408.2 398.9 1405.4 399.4 1405.8 399.9 1412 400.3 1414 400.8 1405.2 401.2 1410.1 401.6 1400.9 402.1 1406.4 402.6 1399.9 403 1408.2 403.4 1414.8 403.9 1401 404.4 1407.5M408.7 1409.7 409.2 1412.7 409.6 1409.9 410.1 1411.5 410.5 1420.2 411 1403.1 411.4 1405.6 411.9 1413.8 412.3 1411.2 412.8 1411 413.2 1409 413.7 1410.6 414.1 1409.4 414.6 1413.2 415 1410.1 415.5 1415.8 415.9 1411.1 416.4 1420.1 416.8 1409.9 417.3 1414.1 417.7 1411.2 418.2 1404 418.6 1408.5 419.1 1405.3 419.5 1403.5 420 1403 420.4 1414.9 420.9 1406.1 421.3 1406.6 421.8 1411.4 422.2 1412.6 422.7 1410.8 423.1 1406.8 423.6 1411.8 424 1413.1 424.5 1416.3 424.9 1415.4 425.4 1419.6 425.8 1420.5 426.3 1411.3 426.7 1418.6 427.2 1412.5 427.6 1421.9 428.1 1421 428.5 1418.5 429 1422.6 429.4 1413.5 429.9 1416.2 430.3 1409.1 430.8 1425.1 431.2 1413.1 431.7 1416.8 432.1 1410.2 432.6 1411.8 433 1416 433.5 1414.1 433.9 1411.6 434.4 1416.8 434.8 1408.9 435.3 1410.9 435.7 1407.7 436.2 1406.8 436.6 1407.9 437.1 1397.9 437.5 1398 438 1388.7 438.4 1392.7 438.9 1394.6 439.3 1394.5 439.8 1399.7 440.2 1400.8 440.7 1408.3 441.1 1403.4 441.6 1403.8 442 1398.7 442.5 1407.4 442.9 1401.2 443.4 1406.3 443.8 1401.4 444.3 1410.3 444.7 1410.3 445.2 1412.5 445.6 1406.9 446.1 1412.8 446.5 1416 447 1414.1 447.4 1412.3 447.9 1409.5 448.3 1413.9 448.8 1416.8 449.2 1410.7 449.7 1403.1 450.1 1410.9 450.6 1415 451 1413.8 451.5 1413.4 451.9 1413.5 452.4 1406 452.8 1411.2 453.3 1410.3 453.7 1406.1 454.2 1409 454.6 1406.9 455.1 1402.7 455.5 1404.7 456 1406.9 456.4 1410.7 456.9 1405.1 457.3 1402.4 457.8 1410.7 458.2 1408.9 458.7 1406.1 459.1 1401 459.6 1405.2 460 1402.3 460.5 1405.8 460.9 1405.2 461.4 1401.3 461.8 1403.1M466.2 1411.6 466.6 1405.9 467.1 1407.8 467.5 1407 468 1413.7 468.4 1410.5 468.9 1406.9 469.3 1404.5 469.8 1414.9 470.2 1409.4 470.7 1407.6 471.1 1416.9 471.6 1407.4 472 1411.6 472.5 1409.3 472.9 1411.3 473.4 1409.8 473.8 1411.9 474.3 1404.1 474.7 1406.6 475.2 1405.8 475.6 1410.2 476.1 1402.5 476.5 1407.7 477 1402.6 477.4 1406.8 477.9 1394.1 478.3 1404.7 478.8 1402.1 479.2 1395.2 479.7 1398.7 480.1 1407.4 480.6 1399.5 481 1400.4 481.5 1402.3 481.9 1406.7 482.4 1416.8 482.8 1410.1 483.3 1400.1 483.7 1403.1 484.2 1407.1 484.6 1397.2 485.1 1413.3 485.5 1408 486 1413.3 486.4 1409.7 486.9 1408.3 487.3 1405.8 487.8 1408.4 488.2 1407.7 488.7 1411.9 489.1 1406.9 489.6 1409.5 490 1414.3 490.5 1402.3 490.9 1407.6 491.4 1407.5 491.8 1416.5 492.3 1406.9 492.7 1411.4 493.2 1408 493.6 1416.3 494.1 1402.7 494.5 1403.3 495 1403.6 495.4 1404.9 495.9 1395.1 496.3 1392.4 496.8 1403.3 497.2 1403.2 497.7 1399 498.1 1403.4 498.6 1405.7 499 1402.2 499.5 1402.3 499.9 1402.2 500.4 1399.5 500.8 1407.5 501.3 1400 501.7 1399.9 502.2 1404.8 502.6 1387.6 503.1 1393.4 503.5 1401.8 504 1395.6 504.4 1399.8 504.9 1404.2 505.3 1401.3 505.8 1403.2 506.2 1403.5 506.7 1402.9 507.1 1406.7 507.6 1407.1 508 1393.1 508.5 1417.4 508.9 1405.4 509.4 1405.2 509.8 1407.1 510.3 1406.3 510.7 1409.4 511.2 1403.9 511.6 1400.7 512.1 1397.5 512.5 1403.9 513 1403.6 513.4 1408.2 513.9 1411.4 514.3 1411.9 514.8 1411.1 515.2 1411.4 515.7 1411.5 516.1 1410.4 516.6 1402.6 517 1409.3 517.5 1404.6 517.9 1406.8 518.4 1405.4 518.8 1409.3 519.3 1409.3M523.7 1411.5 524.1 1407.6 524.6 1408.8 525 1403.4 525.5 1410.9 525.9 1409.1 526.4 1410.9 526.8 1410.5 527.3 1406.2 527.7 1412.8 528.2 1406.6 528.6 1406.4 529.1 1397.9 529.5 1410.2 530 1409.9 530.4 1407.4 530.9 1415.3 531.3 1405.1 531.8 1403.3 532.2 1405.7 532.7 1403.2 533.1 1411.2 533.6 1408 534 1410.8 534.5 1404.5 534.9 1413.9 535.4 1413.1 535.8 1408.9 536.3 1417 536.7 1409.2 537.2 1408.6 537.6 1409.8 538.1 1415.2 538.5 1411.6 539 1414.5 539.4 1411.3 539.9 1407.2 540.3 1413.3 540.8 1409.5 541.2 1413.8 541.7 1420.9 542.1 1411.3 542.6 1414.6 543 1408.3 543.5 1402.8 543.9 1413.2 544.4 1416.4 544.8 1420.6 545.3 1417.7 545.7 1414.8 546.2 1414.3 546.6 1405.3 547.1 1410 547.5 1407.4 548 1412.8 548.4 1418.8 548.9 1420.2 549.3 1412.2 549.8 1416.4 550.2 1418.8 550.7 1406.9 551.1 1413.9 551.6 1409.1 552 1412.3 552.5 1400 552.9 1390.1 553.4 1386.8 553.8 1393.1 554.3 1391.2 554.7 1396.9 555.2 1403.9 555.6 1398.6 556.1 1408.1 556.5 1392.2 557 1406.1 557.4 1404.9 557.9 1406.7 558.3 1411.8 558.8 1401 559.2 1403.2 559.7 1410.6 560.1 1408.5 560.6 1421.7 561 1404.3 561.5 1406.2 561.9 1408.8 562.4 1411.5 562.8 1404.9 563.3 1407.5 563.7 1412.7 564.2 1404.9 564.6 1405.2 565.1 1405.7 565.5 1399.3 566 1408.3 566.4 1409.2 566.9 1409.7 567.3 1408.9 567.8 1411.1 568.2 1404.7 568.7 1409.9 569.1 1408.3 569.6 1413.1 570 1406 570.5 1399.8 570.9 1409.7 571.4 1404.7 571.8 1406.6 572.3 1400.2 572.7 1407.7 573.2 1415.1 573.6 1406.8 574.1 1401.8 574.5 1409.1 575 1406.2 575.4 1409.2 575.9 1412 576.3 1409.5 576.8 1403.7M581.1 1404.9 581.6 1404.7 582 1407 582.5 1416.9 582.9 1403.8 583.4 1408 583.8 1407.4 584.3 1405.7 584.7 1398.5 585.2 1398.7 585.6 1402 586.1 1395.4 586.5 1402.2 587 1403.3 587.4 1408.9 587.9 1408.5 588.3 1403.5 588.8 1406.5 589.2 1411 589.7 1412.9 590.1 1417.3 590.6 1411.4 591 1414.2 591.5 1416.1 591.9 1400.7 592.4 1407 592.8 1414 593.3 1414 593.7 1414.5 594.2 1416.7 594.6 1411.3 595.1 1410.1 595.5 1405.2 596 1403.8 596.4 1416.8 596.9 1406.9 597.3 1411.2 597.8 1412.2 598.2 1401.8 598.7 1408.9 599.1 1409.3 599.6 1407.1 600 1413.9 600.5 1411.8 600.9 1411.3 601.4 1402.6 601.8 1411.7 602.3 1413.6 602.7 1409 603.2 1415.2 603.6 1401.4 604.1 1411.9 604.5 1413.6 605 1415.2 605.4 1410.6 605.9 1412.5 606.3 1415.5 606.8 1402.9 607.2 1409.8 607.7 1405.7 608.1 1410.4 608.6 1413.7 609 1409.9 609.5 1403.3 609.9 1407 610.4 1394.2 610.8 1397.6 611.3 1393.8 611.7 1391.4 612.2 1406.4 612.6 1402.3 613.1 1396.9 613.5 1408.9 614 1408 614.4 1414 614.9 1403.6 615.3 1408.2 615.8 1411.9 616.2 1401.5 616.7 1407.1 617.1 1410 617.6 1410.1 618 1404.6 618.5 1409.4 618.9 1407.7 619.4 1411.7 619.8 1411.7 620.3 1409.9 620.7 1411.9 621.2 1410.4 621.6 1404.8 622.1 1406.9 622.5 1407.6 623 1411.2 623.4 1406.6 623.9 1409.9 624.3 1406.5 624.8 1409.4 625.2 1402.8 625.7 1409.8 626.1 1405.3 626.6 1405.4 627 1406.5 627.5 1410.9 627.9 1411.7 628.4 1409.8 628.8 1409.9 629.3 1417.5 629.7 1418 630.2 1419.3 630.6 1414.1 631.1 1411.7 631.5 1409.6 632 1418.2 632.4 1414.1 632.9 1410 633.3 1411.8 633.8 1418.6 634.2 1408.9M638.6 1411.7 639.1 1413.8 639.5 1415.9 640 1406.4 640.4 1407.2 640.9 1403.8 641.3 1413.7 641.8 1395.4 642.2 1404.3 642.6 1406.9 643.1 1408.7 643.6 1407 644 1412.6 644.5 1406.9 644.9 1404.1 645.4 1405.5 645.8 1403.5 646.2 1403.2 646.7 1408.6 647.1 1408.6 647.6 1407.7 648.1 1405.7 648.5 1415.4 649 1418.1 649.4 1411.7 649.9 1406.7 650.3 1414 650.8 1412.9 651.2 1408.9 651.6 1408.3 652.1 1399.6 652.6 1399.3 653 1413.4 653.5 1410.6 653.9 1405.6 654.4 1410.4 654.8 1411.6 655.2 1406.4 655.7 1407.7 656.1 1409.9 656.6 1411 657.1 1409.3 657.5 1412.6 658 1413.2 658.4 1431.6 658.9 1414 659.3 1409.6 659.8 1419.8 660.2 1412.1 660.6 1412.9 661.1 1416.4 661.6 1414 662 1411.1 662.5 1414.5 662.9 1408.3 663.4 1413.2 663.8 1407.5 664.2 1408 664.7 1406.4 665.1 1406.4 665.6 1406.9 666.1 1402.9 666.5 1380.4 667 1361.4 667.4 1347 667.9 1367.5 668.3 1377.7 668.8 1380.6 669.2 1384.1 669.6 1393.8 670.1 1387.6 670.6 1403.5 671 1393.3 671.5 1399.3 671.9 1396.8 672.4 1397.8 672.8 1397.7 673.2 1405.3 673.7 1410.7 674.1 1410.3 674.6 1402.7 675.1 1400.3 675.5 1409.9 676 1414.4 676.4 1407 676.9 1404.1 677.3 1405.9 677.8 1405.2 678.2 1407 678.6 1407.7 679.1 1403.8 679.6 1410.4 680 1401.1 680.5 1401.6 680.9 1410 681.4 1405.3 681.8 1400 682.2 1403 682.7 1414.9 683.1 1406.6 683.6 1402.8 684.1 1410.5 684.5 1410.4 685 1403.4 685.4 1397.5 685.9 1399.8 686.3 1394.2 686.8 1402.2 687.2 1406.3 687.6 1397 688.1 1407.7 688.6 1407.4 689 1398.1 689.5 1395.9 689.9 1408.5 690.4 1397.9 690.8 1408.1 691.2 1401.2 691.7 1410.6M696.1 1408.2 696.5 1408.6 697 1399.6 697.4 1406.1 697.9 1396.2 698.3 1413.4 698.8 1403.6 699.2 1413.4 699.7 1405.2 700.1 1405.2 700.6 1409.6 701 1420.5 701.5 1409.9 701.9 1403.8 702.4 1410.5 702.8 1403.2 703.3 1403.5 703.7 1421.2 704.2 1399.4 704.6 1401.7 705.1 1405.1 705.5 1407 706 1414.5 706.4 1406.2 706.9 1407.7 707.3 1412.5 707.8 1406.1 708.2 1417.5 708.7 1406.7 709.1 1412.5 709.6 1405.6 710 1417.4 710.5 1404.6 710.9 1420.9 711.4 1417 711.8 1411.3 712.3 1405.6 712.7 1420.4 713.2 1418.3 713.6 1414.3 714.1 1408.1 714.5 1404.4 715 1405.5 715.4 1419.3 715.9 1415.7 716.3 1407.7 716.8 1404.3 717.2 1417.6 717.7 1411.2 718.1 1419.3 718.6 1418.2 719 1412.2 719.5 1411.9 719.9 1413.6 720.4 1411.2 720.8 1418.3 721.3 1414.6 721.7 1417.5 722.2 1417.1 722.6 1412.2 723.1 1407.6 723.5 1407.3 724 1380.1 724.4 1354.4 724.9 1338.2 725.3 1358.8 725.8 1362.4 726.2 1377.8 726.7 1384.4 727.1 1380.9 727.6 1396.6 728 1398.8 728.5 1396.9 728.9 1400.1 729.4 1405.6 729.8 1402 730.3 1403.6 730.7 1401.5 731.2 1402.9 731.6 1404.9 732.1 1398.2 732.5 1403.1 733 1392.4 733.4 1400.5 733.9 1403.4 734.3 1394 734.8 1398.2 735.2 1401 735.7 1409.1 736.1 1398.8 736.6 1406.2 737 1402.5 737.5 1403.3 737.9 1410.3 738.4 1406 738.8 1402.3 739.3 1404.1 739.7 1395.6 740.2 1404.5 740.6 1395.2 741.1 1396.2 741.5 1397.4 742 1408.7 742.4 1403.6 742.9 1402.8 743.3 1404.8 743.8 1393.2 744.2 1401.8 744.7 1408.7 745.1 1403.7 745.6 1400.1 746 1403 746.5 1404.7 746.9 1408.6 747.4 1406.5 747.8 1410.3 748.3 1400.1 748.7 1413.8 749.2 1407.7M753.5 1407.3 754 1405.7 754.4 1407.5 754.9 1412.4 755.3 1412.5 755.8 1412.9 756.2 1413 756.7 1404.1 757.1 1409.7 757.6 1401.4 758 1406 758.5 1411.8 758.9 1414.5 759.4 1410.8 759.8 1408.5 760.3 1411.2 760.7 1402.8 761.2 1412.5 761.6 1399.3 762.1 1408.6 762.5 1404.1 763 1404.5 763.4 1407.3 763.9 1402.9 764.3 1404.3 764.8 1407.3 765.2 1404.8 765.7 1402.9 766.1 1401.2 766.6 1406.5 767 1405.6 767.5 1414.3 767.9 1411.4 768.4 1405.8 768.8 1405.1 769.3 1405.9 769.7 1405.4 770.2 1404.1 770.6 1406.4 771.1 1403.3 771.5 1405.9 772 1403.9 772.4 1406.4 772.9 1410.9 773.3 1405.8 773.8 1407.5 774.2 1404.1 774.7 1405.2 775.1 1405.9 775.6 1405.4 776 1414.9 776.5 1405.5 776.9 1401.5 777.4 1412.3 777.8 1408.8 778.3 1408.3 778.7 1402.3 779.2 1408.2 779.6 1404 780.1 1406.1 780.5 1406.8 781 1408.1 781.4 1373.1 781.9 1347.7 782.3 1325.1 782.8 1353.8 783.2 1367.8 783.7 1365.7 784.1 1385.6 784.6 1382.5 785 1384.5 785.5 1394.9 785.9 1393.1 786.4 1394.3 786.8 1401.4 787.3 1398.7 787.7 1398.6 788.2 1409.8 788.6 1408.8 789.1 1408.4 789.5 1409.8 790 1398.2 790.4 1408.8 790.9 1396.3 791.3 1410.7 791.8 1404 792.2 1409.3 792.7 1410.6 793.1 1401.1 793.6 1412.9 794 1402.9 794.5 1405.4 794.9 1407.7 795.4 1408.9 795.8 1411.5 796.3 1400.9 796.7 1415.3 797.2 1414.1 797.6 1412.6 798.1 1412.1 798.5 1417.2 799 1409.1 799.4 1415.5 799.9 1408.5 800.3 1420.5 800.8 1405.5 801.2 1407.5 801.7 1398.7 802.1 1422 802.6 1408.7 803 1413.9 803.5 1410.6 803.9 1414 804.4 1409.2 804.8 1410 805.3 1411.7 805.7 1412.9 806.2 1411.5 806.6 1416.9M811 1403.5 811.5 1407.3 811.9 1408.6 812.4 1404 812.8 1406.6 813.3 1412.9 813.7 1404.7 814.2 1411.4 814.6 1412.3 815.1 1407.8 815.5 1409.1 816 1414.7 816.4 1409.7 816.9 1408.8 817.3 1408.1 817.8 1413.2 818.2 1405.9 818.7 1408.5 819.1 1405.8 819.6 1407.8 820 1411.4 820.5 1412.9 820.9 1409 821.4 1410.5 821.8 1399.8 822.3 1404.4 822.7 1401.4 823.2 1402.1 823.6 1397.4 824.1 1403.5 824.5 1408.5 825 1404.5 825.4 1407.8 825.9 1401.5 826.3 1408.9 826.8 1401 827.2 1406.2 827.7 1405.1 828.1 1402.4 828.6 1404.1 829 1402.9 829.5 1407.4 829.9 1408.3 830.4 1422.8 830.8 1398.1 831.3 1405 831.7 1409.7 832.2 1401.9 832.6 1411.6 833.1 1407 833.5 1398.7 834 1400.5 834.4 1406.9 834.9 1398 835.3 1405.7 835.8 1404.6 836.2 1398.9 836.7 1400.2 837.1 1396.4 837.6 1400 838 1403.7 838.5 1402.8 838.9 1377.8 839.4 1365.2 839.8 1353.7 840.3 1362.2 840.7 1374.3 841.2 1382.3 841.6 1389.1 842.1 1393.1 842.5 1396.2 843 1399.3 843.4 1393.9 843.9 1403.7 844.3 1406.9 844.8 1392.6 845.2 1399.5 845.7 1403.5 846.1 1398.6 846.6 1402.9 847 1406.3 847.5 1400 847.9 1408.3 848.4 1403.6 848.8 1407.1 849.3 1394.4 849.7 1407.6 850.2 1406.4 850.6 1405.8 851.1 1392.6 851.5 1407.2 852 1411.3 852.4 1408.3 852.9 1409.5 853.3 1408.7 853.8 1405.7 854.2 1407.5 854.7 1416.4 855.1 1411.9 855.6 1417.2 856 1417.1 856.5 1422.3 856.9 1412.9 857.4 1407.7 857.8 1407.7 858.3 1414.6 858.7 1405.3 859.2 1406.5 859.6 1408.5 860.1 1420.2 860.5 1414.5 861 1412.6 861.4 1414.5 861.9 1405.6 862.3 1409.7 862.8 1410.7 863.2 1408.5 863.7 1408.4 864.1 1403.3M868.5 1408.5 868.9 1399 869.4 1411.7 869.8 1406.9 870.3 1409.6 870.7 1411.7 871.2 1404.2 871.6 1412.9 872.1 1407.8 872.5 1409.9 873 1418.2 873.4 1414.2 873.9 1415 874.3 1418.3 874.8 1412.9 875.2 1411.2 875.7 1402.5 876.1 1405.6 876.6 1410.5 877 1412.1 877.5 1413.7 877.9 1408.1 878.4 1406.2 878.8 1415.8 879.3 1409.7 879.7 1409.7 880.2 1420 880.6 1411.6 881.1 1408.8 881.5 1418.1 882 1409.7 882.4 1410.2 882.9 1411.2 883.3 1419.6 883.8 1413.2 884.2 1410.8 884.7 1418.2 885.1 1410 885.6 1404.9 886 1403.2 886.5 1412.8 886.9 1414 887.4 1413.5 887.8 1414.7 888.3 1414.4 888.7 1412 889.2 1411 889.6 1409.3 890.1 1413 890.5 1412.8 891 1410.5 891.4 1408.2 891.9 1408.9 892.3 1411.7 892.8 1415.3 893.2 1411.1 893.7 1412 894.1 1410.3 894.6 1410.8 895 1408.2 895.5 1409.8 895.9 1412.8 896.4 1373.9 896.8 1357.9 897.3 1325 897.7 1348.9 898.2 1358.7 898.6 1380.2 899.1 1380.3 899.5 1386.9 900 1394.1 900.4 1395.5 900.9 1399.6 901.3 1407.5 901.8 1402.4 902.2 1408.8 902.7 1411.8 903.1 1410.6 903.6 1409 904 1405.8 904.5 1407.8 904.9 1406.1 905.4 1413.7 905.8 1417.1 906.3 1409.1 906.7 1404.7 907.2 1395.4 907.6 1412.1 908.1 1408.7 908.5 1406.3 909 1405.6 909.4 1401.4 909.9 1409.1 910.3 1406.9 910.8 1406.7 911.2 1409.1 911.7 1408.5 912.1 1404.9 912.6 1406.8 913 1408.2 913.5 1404.5 913.9 1410.1 914.4 1406.4 914.8 1411.2 915.3 1409.8 915.7 1420.5 916.2 1406.3 916.6 1412.3 917.1 1414.7 917.5 1408.4 918 1411.6 918.4 1406.2 918.9 1415.4 919.3 1415.4 919.8 1409 920.2 1406.2 920.7 1409.3 921.1 1403.2 921.6 1404M63.9 1520.3 64.3 1516.4 64.8 1524.8 65.2 1520 65.7 1518.8 66.2 1521.2 66.6 1519.3 67 1520.4 67.5 1522.7 68 1519.4 68.4 1529.7 68.8 1520.9 69.3 1515.4 69.8 1515.1 70.2 1513.1 70.7 1512.4 71.1 1520.7 71.5 1510.5 72 1514.8 72.5 1512.6 72.9 1521 73.3 1524.3 73.8 1527.1 74.2 1525.3 74.7 1525 75.2 1518.1 75.6 1522.7 76 1516.8 76.5 1523.7 77 1530.6 77.4 1517.6 77.8 1517.1 78.3 1521.1 78.8 1519.2 79.2 1514.7 79.7 1509.4 80.1 1516.7 80.5 1513.7 81 1522.9 81.5 1525.3 81.9 1515.9 82.3 1522.5 82.8 1521.6 83.2 1514.2 83.7 1513.4 84.2 1517.5 84.6 1512.3 85 1512.6 85.5 1525 86 1521.1 86.4 1522.9 86.8 1518.3 87.3 1513.8 87.8 1524.7 88.2 1504.7 88.7 1510.2 89.1 1513.2 89.5 1515.8 90 1515.8 90.5 1506.5 90.9 1480.8 91.3 1454 91.8 1441.1 92.2 1454.3 92.7 1470.1 93.2 1485.2 93.6 1487.8 94 1490.3 94.5 1505 95 1496.1 95.4 1502.8 95.8 1504.6 96.3 1505 96.8 1502.3 97.2 1506 97.7 1509.7 98.1 1511.3 98.5 1508.4 99 1508.6 99.5 1517.7 99.9 1506.7 100.3 1516.5 100.8 1505.8 101.2 1517.8 101.7 1520.8 102.2 1518.4 102.6 1524.4 103 1521 103.5 1516.1 104 1517.1 104.4 1512.9 104.8 1520.1 105.3 1516.7 105.8 1526.2 106.2 1525.5 106.7 1525.5 107.1 1522.3 107.5 1518 108 1521.7 108.5 1519.8 108.9 1513.8 109.3 1513.7 109.8 1515.5 110.2 1514.8 110.7 1522.7 111.2 1523.8 111.6 1525.3 112 1526.9 112.5 1518.8 113 1523.9 113.4 1519.9 113.8 1514.3 114.3 1514.9 114.8 1513.4 115.2 1505.7 115.7 1507.2 116.1 1508.2 116.5 1515.5 117 1509.1M121.4 1527.8 121.8 1515.7 122.3 1513.6 122.7 1513.8 123.2 1513 123.6 1514.8 124.1 1527.6 124.5 1514 125 1512.1 125.4 1522.5 125.9 1521.2 126.3 1515.4 126.8 1512.1 127.2 1510.8 127.7 1511.5 128.1 1521 128.6 1511.8 129 1516.2 129.5 1522.4 129.9 1508.4 130.4 1514.8 130.8 1505.8 131.3 1516.7 131.7 1530.3 132.2 1512.9 132.6 1522.9 133.1 1518.5 133.5 1518.5 134 1516 134.4 1513.7 134.9 1517.3 135.3 1513.2 135.8 1516.3 136.2 1506 136.7 1511.8 137.1 1510.3 137.6 1517.3 138 1522 138.5 1517.3 138.9 1513.5 139.4 1502.6 139.8 1508.7 140.3 1506 140.7 1518.1 141.2 1511.3 141.6 1512.6 142.1 1507.4 142.5 1509.3 143 1508.2 143.4 1516.2 143.9 1508.4 144.3 1511.6 144.8 1510.9 145.2 1510.6 145.7 1519.4 146.1 1520.7 146.6 1516.1 147 1514.7 147.5 1510.1 147.9 1519 148.4 1490.8 148.8 1465.5 149.3 1454.9 149.7 1463.4 150.2 1483.1 150.6 1492.1 151.1 1500.8 151.5 1497 152 1513.5 152.4 1512.4 152.9 1513.2 153.3 1514.7 153.8 1515.7 154.2 1516.2 154.7 1519.1 155.1 1508.7 155.6 1509.9 156 1522 156.5 1521 156.9 1515.7 157.4 1513.1 157.8 1510 158.3 1524.6 158.7 1513.9 159.2 1518.9 159.6 1511.2 160.1 1514.1 160.5 1512.9 161 1511.3 161.4 1523 161.9 1516.8 162.3 1518.2 162.8 1517.9 163.2 1521.6 163.7 1514.3 164.1 1518.1 164.6 1519 165 1518.4 165.5 1517 165.9 1517.7 166.4 1526.3 166.8 1515.3 167.3 1513.4 167.7 1520.3 168.2 1523.5 168.6 1525.6 169.1 1526.9 169.5 1520.3 170 1528.9 170.4 1513 170.9 1511.5 171.3 1523.7 171.8 1521.7 172.2 1520.3 172.7 1513.4 173.1 1521.2 173.6 1515.3 174 1514.3 174.5 1522.7M178.8 1517.8 179.3 1517.4 179.7 1516.4 180.2 1526 180.6 1512.6 181.1 1517.2 181.5 1512.8 182 1519.9 182.4 1506.1 182.9 1513.1 183.3 1512.7 183.8 1516.7 184.2 1523.4 184.7 1515.7 185.1 1526.4 185.6 1512.2 186 1525.1 186.5 1513.5 186.9 1518.9 187.4 1516.6 187.8 1519.3 188.3 1511.6 188.7 1525.4 189.2 1523.2 189.6 1511.3 190.1 1522.4 190.5 1518.1 191 1515.5 191.4 1517.3 191.9 1518.2 192.3 1508.8 192.8 1517.6 193.2 1515.7 193.7 1509.4 194.1 1517.1 194.6 1511.4 195 1509.5 195.5 1519 195.9 1514.8 196.4 1512.4 196.8 1517.9 197.3 1515.4 197.7 1513.5 198.2 1518.8 198.6 1516.2 199.1 1523.6 199.5 1526.2 200 1520.6 200.4 1517.1 200.9 1513.2 201.3 1522.7 201.8 1523.6 202.2 1519.3 202.7 1520.5 203.1 1513.8 203.6 1513.6 204 1520.3 204.5 1519.5 204.9 1516 205.4 1509.1 205.8 1502.4 206.3 1479.5 206.7 1483.1 207.2 1500.3 207.6 1499.8 208.1 1504.9 208.5 1500.7 209 1517.3 209.4 1512.4 209.9 1521.3 210.3 1517.4 210.8 1519.2 211.2 1508.6 211.7 1522.3 212.1 1516.4 212.6 1515.6 213 1523.8 213.5 1516.4 213.9 1521.1 214.4 1511.3 214.8 1516 215.3 1515.2 215.7 1516.5 216.2 1520.1 216.6 1522.7 217.1 1511.3 217.5 1520.9 218 1521.4 218.4 1519.4 218.9 1507.2 219.3 1519 219.8 1514 220.2 1511.2 220.7 1519.4 221.1 1523.5 221.6 1515.6 222 1517.8 222.5 1520.8 222.9 1518.7 223.4 1515.6 223.8 1519.4 224.3 1530.2 224.7 1518.5 225.2 1515.5 225.6 1523.9 226.1 1518.1 226.5 1516.4 227 1513.7 227.4 1522.1 227.9 1519 228.3 1519.1 228.8 1511.8 229.2 1519.1 229.7 1525.1 230.1 1521.8 230.6 1524.2 231 1518.7 231.5 1517.5 231.9 1514.1M236.3 1520.8 236.8 1513 237.2 1518 237.7 1513.8 238.1 1526.6 238.6 1528.7 239 1520.5 239.5 1524.5 239.9 1521.9 240.4 1517.6 240.8 1517.2 241.3 1514.3 241.7 1518.2 242.2 1517.7 242.6 1513 243.1 1528 243.5 1512.9 244 1517.5 244.4 1517.6 244.9 1507.5 245.3 1507.7 245.8 1516.6 246.2 1506.5 246.7 1512.6 247.1 1511.3 247.6 1521.1 248 1507.4 248.5 1505.9 248.9 1504.4 249.4 1510.8 249.8 1510.4 250.3 1513.8 250.7 1516 251.2 1513.6 251.6 1513.7 252.1 1515.8 252.5 1516.7 253 1509.8 253.4 1511.1 253.9 1520.2 254.3 1516.4 254.8 1512.9 255.2 1519.6 255.7 1510.7 256.1 1518.2 256.6 1516 257 1516 257.5 1507.3 257.9 1517.6 258.4 1513.1 258.8 1512 259.3 1514.7 259.7 1512.9 260.2 1516.3 260.6 1516 261.1 1512.9 261.5 1520.2 262 1515 262.4 1517.5 262.9 1512.1 263.3 1490.6 263.8 1473.4 264.2 1459.8 264.7 1478.1 265.1 1492.6 265.6 1498.9 266 1500.1 266.5 1510.2 266.9 1504.3 267.4 1516.8 267.8 1512.8 268.3 1512.7 268.7 1515.2 269.2 1508.3 269.6 1504.5 270.1 1507.3 270.5 1508 271 1513.7 271.4 1518.6 271.9 1510.7 272.3 1511.1 272.8 1519.1 273.2 1522.1 273.7 1517.9 274.1 1519.6 274.6 1523.2 275 1518.5 275.5 1504.7 275.9 1515.4 276.4 1507.6 276.8 1510.7 277.3 1512.4 277.7 1511 278.2 1506.4 278.6 1500.2 279.1 1507.5 279.5 1510.7 280 1504 280.4 1511.3 280.9 1508.2 281.3 1510.4 281.8 1504.8 282.2 1510.9 282.7 1509.7 283.1 1521.3 283.6 1518.8 284 1520 284.5 1517.4 284.9 1513.7 285.4 1516.8 285.8 1516.6 286.3 1510.9 286.7 1514.9 287.2 1519.1 287.6 1515.7 288.1 1517 288.5 1518.6 289 1513.3 289.4 1526.6M293.8 1506.2 294.2 1512.1 294.7 1519.1 295.1 1509.1 295.6 1513.4 296 1518.1 296.5 1515.7 296.9 1519 297.4 1519.6 297.8 1518.5 298.3 1520.3 298.7 1519.1 299.2 1510.4 299.6 1531.6 300.1 1528.1 300.5 1516.3 301 1521.6 301.4 1517.4 301.9 1525.5 302.3 1517.4 302.8 1524.4 303.2 1517.8 303.7 1516.4 304.1 1518.6 304.6 1522.5 305 1525.3 305.5 1518.7 305.9 1514.3 306.4 1514.5 306.8 1513 307.3 1518.8 307.7 1513.9 308.2 1517.7 308.6 1517.6 309.1 1513.9 309.5 1512.4 310 1521.6 310.4 1513.8 310.9 1524.1 311.3 1515.7 311.8 1520.9 312.2 1513.8 312.7 1524.1 313.1 1520.9 313.6 1514.6 314 1520.4 314.5 1518.5 314.9 1515.5 315.4 1513.1 315.8 1520.9 316.3 1518.7 316.7 1524.2 317.2 1525.7 317.6 1515.5 318.1 1530.5 318.5 1522.7 319 1514.8 319.4 1524 319.9 1523 320.3 1515.2 320.8 1485.9 321.2 1448.3 321.7 1442.6 322.1 1455.2 322.6 1472 323 1480.6 323.5 1493.6 323.9 1497.9 324.4 1510.2 324.8 1504.8 325.3 1505.2 325.7 1505 326.2 1511.6 326.6 1514.3 327.1 1509.6 327.5 1513.4 328 1515.1 328.4 1513.4 328.9 1514.2 329.3 1512.3 329.8 1509.5 330.2 1508.2 330.7 1512.7 331.1 1506.6 331.6 1513.9 332 1515.5 332.5 1509.6 332.9 1507.8 333.4 1514.2 333.8 1509.2 334.3 1512.1 334.7 1514.7 335.2 1507.4 335.6 1516.6 336.1 1515.5 336.5 1505.5 337 1511.6 337.4 1508 337.9 1513.7 338.3 1508.3 338.8 1507.2 339.2 1513.6 339.7 1508.5 340.1 1514.1 340.6 1509.8 341 1507.5 341.5 1512.3 341.9 1507.7 342.4 1507.8 342.8 1510.4 343.3 1503.8 343.7 1505.5 344.2 1512.4 344.6 1509.7 345.1 1515.3 345.5 1512.2 346 1517.2 346.4 1518 346.9 1512M351.2 1518.7 351.7 1517.4 352.1 1525.5 352.6 1518.4 353.1 1516.3 353.5 1528.8 353.9 1508.9 354.4 1510.7 354.9 1521.1 355.3 1525.4 355.8 1523.9 356.2 1520.6 356.6 1515 357.1 1513.7 357.6 1512.1 358 1514 358.4 1512 358.9 1513.5 359.4 1523.1 359.8 1514 360.2 1516.4 360.7 1515.7 361.1 1519.5 361.6 1517.7 362.1 1511.8 362.5 1514.7 362.9 1513.2 363.4 1518.7 363.9 1512.4 364.3 1509.1 364.8 1520.2 365.2 1518.7 365.6 1523.2 366.1 1514 366.6 1512.8 367 1505.5 367.4 1509.6 367.9 1515.6 368.4 1504.9 368.8 1511.6 369.2 1522.6 369.7 1515.8 370.1 1508.5 370.6 1514.7 371.1 1517.6 371.5 1513.6 371.9 1521.1 372.4 1516.7 372.9 1516.3 373.3 1511.2 373.8 1506.1 374.2 1521.9 374.6 1523 375.1 1529.6 375.6 1526.2 376 1520 376.4 1522.4 376.9 1512.6 377.4 1520.8 377.8 1519.9 378.2 1513 378.7 1514.5 379.1 1514.6 379.6 1517 380.1 1508.2 380.5 1495.5 380.9 1477.4 381.4 1491.3 381.9 1501.7 382.3 1518.8 382.8 1507.7 383.2 1514 383.6 1519 384.1 1515.9 384.6 1517.4 385 1521.6 385.4 1516.4 385.9 1517 386.4 1521.7 386.8 1519.8 387.2 1526.3 387.7 1524.8 388.1 1507 388.6 1514.4 389.1 1520.8 389.5 1509.3 389.9 1509.4 390.4 1516.8 390.9 1525.8 391.3 1508.8 391.8 1511.2 392.2 1521.5 392.6 1526.1 393.1 1527.5 393.6 1511.8 394 1518.4 394.4 1519.3 394.9 1517.7 395.4 1521.3 395.8 1523.1 396.2 1524.4 396.7 1522.7 397.1 1526 397.6 1526.8 398.1 1520.7 398.5 1523.6 398.9 1527.8 399.4 1524 399.9 1519.7 400.3 1516.9 400.8 1519.9 401.2 1523.3 401.6 1529.8 402.1 1516.7 402.6 1515.2 403 1521.6 403.4 1517.4 403.9 1530.1 404.4 1520.4M408.7 1518.8 409.2 1516.6 409.6 1517.4 410.1 1513.7 410.5 1521 411 1516 411.4 1513.6 411.9 1509.3 412.3 1514.3 412.8 1519.5 413.2 1512.5 413.7 1517.6 414.1 1514.9 414.6 1511 415 1520.5 415.5 1519.1 415.9 1511.2 416.4 1511.7 416.8 1516.1 417.3 1525 417.7 1508.5 418.2 1520.4 418.6 1518.7 419.1 1518.7 419.5 1528 420 1520 420.4 1524.3 420.9 1517.4 421.3 1522.5 421.8 1524.5 422.2 1533.1 422.7 1520.2 423.1 1522.6 423.6 1524.4 424 1523.5 424.5 1515.2 424.9 1517.4 425.4 1527.7 425.8 1519.8 426.3 1518.9 426.7 1521.3 427.2 1520.5 427.6 1522 428.1 1525.5 428.5 1518.2 429 1518.6 429.4 1511.1 429.9 1517.1 430.3 1513.6 430.8 1519.5 431.2 1514.6 431.7 1519 432.1 1526.5 432.6 1517.8 433 1513.9 433.5 1517.3 433.9 1513.2 434.4 1513.9 434.8 1520.9 435.3 1517.3 435.7 1512.4 436.2 1513.7 436.6 1509.8 437.1 1520.5 437.5 1510.6 438 1503.4 438.4 1489.9 438.9 1491.7 439.3 1497.6 439.8 1498.2 440.2 1500.6 440.7 1498.4 441.1 1499.8 441.6 1510.7 442 1514 442.5 1504.3 442.9 1517.8 443.4 1509.1 443.8 1511.2 444.3 1516 444.7 1513.6 445.2 1519.1 445.6 1507.8 446.1 1508.9 446.5 1520.4 447 1512.9 447.4 1520.9 447.9 1514.6 448.3 1518.4 448.8 1523.8 449.2 1517.9 449.7 1515.5 450.1 1522.6 450.6 1513.5 451 1524 451.5 1530.8 451.9 1520.8 452.4 1524.8 452.8 1523.5 453.3 1521.7 453.7 1531.9 454.2 1528.4 454.6 1529.3 455.1 1527.4 455.5 1522.7 456 1520.5 456.4 1517.7 456.9 1529.1 457.3 1516.2 457.8 1519.7 458.2 1523 458.7 1519.6 459.1 1523.2 459.6 1512.4 460 1511.7 460.5 1512.8 460.9 1508.7 461.4 1518.6 461.8 1512.3M466.2 1513.3 466.6 1519.2 467.1 1508.1 467.5 1517.2 468 1512.7 468.4 1515.2 468.9 1517.6 469.3 1509.1 469.8 1517.5 470.2 1521.8 470.7 1520 471.1 1516.3 471.6 1509.6 472 1511.7 472.5 1521.3 472.9 1509.5 473.4 1513.1 473.8 1516.2 474.3 1508.8 474.7 1508.5 475.2 1512.3 475.6 1505.8 476.1 1508.8 476.5 1511.4 477 1507.6 477.4 1506.1 477.9 1512.4 478.3 1514.2 478.8 1508 479.2 1506.6 479.7 1507 480.1 1510.4 480.6 1513.7 481 1509.4 481.5 1510.3 481.9 1513.6 482.4 1521.9 482.8 1516.6 483.3 1510.2 483.7 1518.8 484.2 1521 484.6 1515.2 485.1 1518.2 485.5 1516.5 486 1516.6 486.4 1520.4 486.9 1519.6 487.3 1519.9 487.8 1511.2 488.2 1524.3 488.7 1520.1 489.1 1516.7 489.6 1516.5 490 1514 490.5 1522.1 490.9 1518.3 491.4 1525.6 491.8 1522.5 492.3 1520 492.7 1519.2 493.2 1522.9 493.6 1522.8 494.1 1517.1 494.5 1514.7 495 1518.1 495.4 1507.7 495.9 1501.6 496.3 1508.3 496.8 1505.2 497.2 1515 497.7 1514.7 498.1 1518.1 498.6 1511.8 499 1518.6 499.5 1515.2 499.9 1518.2 500.4 1512.9 500.8 1517.1 501.3 1518.5 501.7 1521.2 502.2 1527.6 502.6 1516.1 503.1 1517.5 503.5 1517.9 504 1518.5 504.4 1515.8 504.9 1520.4 505.3 1521.3 505.8 1510 506.2 1515.4 506.7 1521.3 507.1 1516.4 507.6 1513.3 508 1512.7 508.5 1513.9 508.9 1515.4 509.4 1510.5 509.8 1512.5 510.3 1515.1 510.7 1512.4 511.2 1526.5 511.6 1510.5 512.1 1522.7 512.5 1512.6 513 1512.6 513.4 1516.9 513.9 1512.7 514.3 1517.5 514.8 1515.8 515.2 1518.1 515.7 1516.5 516.1 1522.6 516.6 1517.4 517 1515.3 517.5 1509 517.9 1518.1 518.4 1512.5 518.8 1522.1 519.3 1525M523.7 1518.5 524.1 1513.8 524.6 1516.9 525 1518.6 525.5 1519.2 525.9 1516.7 526.4 1518.4 526.8 1515.6 527.3 1516.2 527.7 1515.5 528.2 1516.2 528.6 1519.5 529.1 1527.5 529.5 1511.4 530 1515.3 530.4 1519.8 530.9 1526.4 531.3 1515.8 531.8 1519.5 532.2 1525.5 532.7 1529.5 533.1 1524.2 533.6 1526.8 534 1521.8 534.5 1522.8 534.9 1525.3 535.4 1519.7 535.8 1514.5 536.3 1521.6 536.7 1520.3 537.2 1514.5 537.6 1512.6 538.1 1516.2 538.5 1510.1 539 1520.2 539.4 1511.9 539.9 1522.1 540.3 1513 540.8 1516 541.2 1518.7 541.7 1522.3 542.1 1513.1 542.6 1515.7 543 1515.1 543.5 1516.6 543.9 1519.3 544.4 1514.7 544.8 1510.3 545.3 1507.6 545.7 1510.5 546.2 1515.5 546.6 1516.6 547.1 1513.5 547.5 1508.2 548 1514.4 548.4 1510.3 548.9 1518.7 549.3 1513.3 549.8 1519.5 550.2 1513.5 550.7 1510.4 551.1 1517.2 551.6 1516.5 552 1516.6 552.5 1514.4 552.9 1493 553.4 1491.6 553.8 1501 554.3 1496.1 554.7 1507.2 555.2 1506.3 555.6 1509.7 556.1 1510 556.5 1501 557 1507.8 557.4 1506.5 557.9 1506.1 558.3 1508.7 558.8 1512.4 559.2 1513.7 559.7 1515.9 560.1 1517.8 560.6 1518.1 561 1516 561.5 1511.8 561.9 1515.4 562.4 1515.7 562.8 1522.4 563.3 1509.5 563.7 1515.6 564.2 1516.6 564.6 1518.5 565.1 1511.3 565.5 1517.8 566 1510 566.4 1520.7 566.9 1527.1 567.3 1519.7 567.8 1524.6 568.2 1519.5 568.7 1520.8 569.1 1508.7 569.6 1512.7 570 1513.9 570.5 1520.9 570.9 1518.9 571.4 1516.6 571.8 1518.6 572.3 1518.4 572.7 1518.9 573.2 1509.7 573.6 1522.2 574.1 1515.8 574.5 1520.8 575 1516.7 575.4 1516 575.9 1521.4 576.3 1520.3 576.8 1516.9M581.1 1519.2 581.6 1507.6 582 1514.2 582.5 1512.6 582.9 1515.8 583.4 1523.9 583.8 1509.3 584.3 1516.7 584.7 1520.2 585.2 1510.5 585.6 1517.4 586.1 1517.5 586.5 1517.2 587 1513.7 587.4 1514.3 587.9 1516 588.3 1518.8 588.8 1526.3 589.2 1522.2 589.7 1508.3 590.1 1521.7 590.6 1516.5 591 1524.5 591.5 1516.6 591.9 1514.5 592.4 1519.9 592.8 1525 593.3 1514.6 593.7 1510.9 594.2 1520.5 594.6 1510.1 595.1 1523.7 595.5 1525 596 1514.3 596.4 1511.5 596.9 1514.4 597.3 1522.9 597.8 1527.3 598.2 1520.7 598.7 1526.6 599.1 1527.2 599.6 1525.9 600 1522.4 600.5 1518.8 600.9 1530.6 601.4 1517.9 601.8 1515.1 602.3 1521.3 602.7 1526.8 603.2 1514.7 603.6 1521.2 604.1 1520.9 604.5 1522.8 605 1518 605.4 1514.6 605.9 1518 606.3 1517.6 606.8 1513.9 607.2 1517.8 607.7 1522.4 608.1 1514.3 608.6 1510.7 609 1523.8 609.5 1519.9 609.9 1504 610.4 1497 610.8 1496.6 611.3 1496.6 611.7 1507.2 612.2 1505.2 612.6 1518.3 613.1 1509.5 613.5 1510.6 614 1517.1 614.4 1519.7 614.9 1519 615.3 1517.8 615.8 1518.7 616.2 1520.9 616.7 1514 617.1 1516.5 617.6 1518.4 618 1508.1 618.5 1511.4 618.9 1510.9 619.4 1512.9 619.8 1508.7 620.3 1514.6 620.7 1511.2 621.2 1512.9 621.6 1511.4 622.1 1504.2 622.5 1516.1 623 1504.5 623.4 1517.4 623.9 1523.7 624.3 1525.9 624.8 1511.9 625.2 1523.5 625.7 1520.4 626.1 1529.5 626.6 1519.1 627 1532.6 627.5 1520.3 627.9 1526.4 628.4 1522.3 628.8 1519.4 629.3 1526.3 629.7 1515.7 630.2 1509 630.6 1519.2 631.1 1513.9 631.5 1517.7 632 1522 632.4 1513.6 632.9 1513.1 633.3 1519.1 633.8 1518.8 634.2 1519.2M638.6 1515.3 639.1 1528.8 639.5 1515.4 640 1518.9 640.4 1526.2 640.9 1517.5 641.3 1519.7 641.8 1515.3 642.2 1520.5 642.6 1518.7 643.1 1524.6 643.6 1521.8 644 1517.2 644.5 1511.8 644.9 1521.2 645.4 1521.7 645.8 1522.2 646.2 1525.1 646.7 1511.2 647.1 1516.1 647.6 1523.9 648.1 1525.5 648.5 1524.4 649 1523.2 649.4 1523.7 649.9 1520.4 650.3 1528 650.8 1515.4 651.2 1519.1 651.6 1515.1 652.1 1517.3 652.6 1521 653 1517.5 653.5 1524.2 653.9 1518.8 654.4 1523.8 654.8 1522.8 655.2 1523 655.7 1523.9 656.1 1527.5 656.6 1521.1 657.1 1531.7 657.5 1521.3 658 1517.6 658.4 1518.9 658.9 1507.3 659.3 1517.2 659.8 1509.9 660.2 1515.1 660.6 1516.6 661.1 1526.5 661.6 1517.8 662 1523.8 662.5 1523.7 662.9 1524.2 663.4 1521.8 663.8 1520.5 664.2 1518 664.7 1516 665.1 1519.6 665.6 1511.1 666.1 1521.4 666.5 1499.7 667 1478 667.4 1462.3 667.9 1474.7 668.3 1488.5 668.8 1495.5 669.2 1501.8 669.6 1503 670.1 1505.2 670.6 1508.7 671 1509.8 671.5 1516.6 671.9 1509.9 672.4 1515.2 672.8 1517.6 673.2 1522.7 673.7 1514.5 674.1 1520.2 674.6 1515.2 675.1 1516.5 675.5 1511 676 1510.8 676.4 1523.5 676.9 1507.9 677.3 1500.8 677.8 1508.3 678.2 1511.7 678.6 1512.6 679.1 1514.5 679.6 1515.8 680 1504 680.5 1509.2 680.9 1517.2 681.4 1520.6 681.8 1520.7 682.2 1521.2 682.7 1518.3 683.1 1517.3 683.6 1517.2 684.1 1510.2 684.5 1517.5 685 1518 685.4 1517.5 685.9 1524.6 686.3 1518.5 686.8 1518.4 687.2 1517.1 687.6 1524 688.1 1518.4 688.6 1521.1 689 1519.3 689.5 1522.3 689.9 1518 690.4 1506.2 690.8 1517.6 691.2 1512.9 691.7 1521.8M696.1 1522.3 696.5 1519.4 697 1512.5 697.4 1519.1 697.9 1510.7 698.3 1509 698.8 1511.7 699.2 1507.4 699.7 1523.5 700.1 1515.1 700.6 1514 701 1519.7 701.5 1518.6 701.9 1521 702.4 1511.2 702.8 1506.3 703.3 1523.9 703.7 1525.6 704.2 1518.8 704.6 1521 705.1 1518.8 705.5 1528.3 706 1521.7 706.4 1526.9 706.9 1516.2 707.3 1515.8 707.8 1518.5 708.2 1518.1 708.7 1517.7 709.1 1514.3 709.6 1514 710 1517.4 710.5 1523.4 710.9 1513.9 711.4 1519.3 711.8 1519.1 712.3 1512.2 712.7 1511.2 713.2 1523 713.6 1517.2 714.1 1512.9 714.5 1513.3 715 1512.4 715.4 1514.4 715.9 1515 716.3 1513.1 716.8 1510.6 717.2 1513.7 717.7 1512.6 718.1 1518.4 718.6 1514.6 719 1521.3 719.5 1521.9 719.9 1523.2 720.4 1517.3 720.8 1515.6 721.3 1521 721.7 1519 722.2 1515.3 722.6 1526.6 723.1 1518.5 723.5 1517.1 724 1491.6 724.4 1471.4 724.9 1464.3 725.3 1471.8 725.8 1484 726.2 1497.8 726.7 1498.3 727.1 1499.9 727.6 1506.4 728 1502.9 728.5 1502.9 728.9 1511.6 729.4 1508 729.8 1504.4 730.3 1504.6 730.7 1505.9 731.2 1513.9 731.6 1521.1 732.1 1516.4 732.5 1510.5 733 1508.7 733.4 1517.1 733.9 1510.2 734.3 1516.2 734.8 1517.4 735.2 1510.9 735.7 1512.9 736.1 1520.5 736.6 1511.1 737 1515.9 737.5 1521.2 737.9 1518.6 738.4 1520.5 738.8 1514 739.3 1511.8 739.7 1515.2 740.2 1518.1 740.6 1514.4 741.1 1510.5 741.5 1512.3 742 1519.6 742.4 1525.8 742.9 1525.3 743.3 1517.5 743.8 1519.7 744.2 1514.5 744.7 1517.2 745.1 1520.8 745.6 1514.7 746 1523.3 746.5 1521.1 746.9 1522.8 747.4 1521.4 747.8 1521.8 748.3 1515 748.7 1509.2 749.2 1524.8M753.5 1512.1 754 1518.3 754.4 1515.6 754.9 1514 755.3 1520 755.8 1522.7 756.2 1525.4 756.7 1516.6 757.1 1514.1 757.6 1521.2 758 1517.1 758.5 1523.6 758.9 1521.9 759.4 1525.6 759.8 1523.2 760.3 1522.1 760.7 1525.5 761.2 1522.1 761.6 1519.2 762.1 1523.6 762.5 1516.1 763 1518 763.4 1528.3 763.9 1523.1 764.3 1525.4 764.8 1529 765.2 1529.5 765.7 1526.8 766.1 1520.4 766.6 1526.7 767 1527.2 767.5 1519.9 767.9 1522 768.4 1520.4 768.8 1526.9 769.3 1528.2 769.7 1529.6 770.2 1526.7 770.6 1525.1 771.1 1527 771.5 1518.8 772 1527.2 772.4 1526.2 772.9 1523.6 773.3 1528.2 773.8 1526.4 774.2 1518.2 774.7 1522.3 775.1 1519 775.6 1517.5 776 1513.6 776.5 1515.6 776.9 1513.6 777.4 1510.8 777.8 1514.8 778.3 1513.4 778.7 1510.3 779.2 1511 779.6 1511.9 780.1 1511.6 780.5 1509.5 781 1505.1 781.4 1482.4 781.9 1467.4 782.3 1449.3 782.8 1467.8 783.2 1483 783.7 1490.9 784.1 1494 784.6 1500 785 1507.5 785.5 1511.3 785.9 1507.5 786.4 1504.5 786.8 1500.6 787.3 1515.4 787.7 1510 788.2 1502.4 788.6 1504 789.1 1506.9 789.5 1516.4 790 1510.8 790.4 1512.5 790.9 1522.6 791.3 1514.7 791.8 1502.3 792.2 1507.5 792.7 1515.1 793.1 1516.7 793.6 1514.2 794 1514.5 794.5 1517.9 794.9 1525.8 795.4 1516.9 795.8 1520.9 796.3 1520.4 796.7 1517.1 797.2 1516.5 797.6 1521 798.1 1522.8 798.5 1515.2 799 1517.6 799.4 1513.9 799.9 1522.9 800.3 1515.7 800.8 1519.6 801.2 1513.4 801.7 1515.8 802.1 1521.5 802.6 1514.1 803 1519.4 803.5 1509.8 803.9 1515 804.4 1517.3 804.8 1519.9 805.3 1522.9 805.7 1519.5 806.2 1516.8 806.6 1515.1M811 1519.7 811.5 1511.5 811.9 1517 812.4 1520.5 812.8 1521.5 813.3 1518 813.7 1515.8 814.2 1522.7 814.6 1517 815.1 1513.9 815.5 1518.1 816 1522.6 816.4 1509.4 816.9 1520.5 817.3 1514.1 817.8 1512.4 818.2 1520.1 818.7 1520.8 819.1 1518.5 819.6 1515.9 820 1518.3 820.5 1515.1 820.9 1520.5 821.4 1520.8 821.8 1520.7 822.3 1509.6 822.7 1512.5 823.2 1514.5 823.6 1515.6 824.1 1510.7 824.5 1514.7 825 1513.7 825.4 1520.9 825.9 1519.7 826.3 1514.5 826.8 1520 827.2 1515.5 827.7 1518.6 828.1 1519.7 828.6 1512.5 829 1520.2 829.5 1526.4 829.9 1518.6 830.4 1517.5 830.8 1523.9 831.3 1514.9 831.7 1520.8 832.2 1517.7 832.6 1522.4 833.1 1525.6 833.5 1515.6 834 1519.7 834.4 1514.2 834.9 1524.3 835.3 1517 835.8 1513.6 836.2 1522.2 836.7 1522.7 837.1 1525.4 837.6 1523.2 838 1518.2 838.5 1514.6 838.9 1503.3 839.4 1473.4 839.8 1465.4 840.3 1481.3 840.7 1489.6 841.2 1486.3 841.6 1498.9 842.1 1501 842.5 1507.2 843 1515.4 843.4 1506 843.9 1512.5 844.3 1510 844.8 1515.9 845.2 1505.5 845.7 1517 846.1 1518.3 846.6 1517.5 847 1510.9 847.5 1516.9 847.9 1513.9 848.4 1517.7 848.8 1513.8 849.3 1518 849.7 1519.5 850.2 1514.1 850.6 1512 851.1 1512.1 851.5 1512.4 852 1522.1 852.4 1517.9 852.9 1525.9 853.3 1522.5 853.8 1529.9 854.2 1519.3 854.7 1523.4 855.1 1520.5 855.6 1523.7 856 1517.7 856.5 1517.4 856.9 1519.5 857.4 1510.6 857.8 1512.2 858.3 1517.2 858.7 1511 859.2 1521.7 859.6 1523.7 860.1 1511.2 860.5 1509.9 861 1522.1 861.4 1518 861.9 1511.2 862.3 1515.7 862.8 1508.5 863.2 1514.8 863.7 1512.2 864.1 1519M868.5 1522.1 868.9 1514.4 869.4 1513.4 869.8 1514.7 870.3 1525.5 870.7 1524.2 871.2 1512.7 871.6 1509.7 872.1 1521.1 872.5 1519.4 873 1512.4 873.4 1515.3 873.9 1525.6 874.3 1520.3 874.8 1519.9 875.2 1520.9 875.7 1519 876.1 1520.2 876.6 1518.6 877 1519.8 877.5 1526.1 877.9 1516 878.4 1521.5 878.8 1520.8 879.3 1520.8 879.7 1517.9 880.2 1509.6 880.6 1515.2 881.1 1516.2 881.5 1519.9 882 1520.1 882.4 1514.8 882.9 1518.8 883.3 1515.2 883.8 1506 884.2 1512.6 884.7 1524 885.1 1514 885.6 1509.7 886 1513.6 886.5 1517.3 886.9 1516.3 887.4 1514.7 887.8 1522 888.3 1515.7 888.7 1524.5 889.2 1520.4 889.6 1514.6 890.1 1526 890.5 1525.4 891 1520.8 891.4 1522.5 891.9 1519.1 892.3 1521.6 892.8 1519.1 893.2 1523.9 893.7 1522.9 894.1 1529.9 894.6 1517.8 895 1518 895.5 1521.4 895.9 1517.5 896.4 1494.2 896.8 1465.7 897.3 1450.1 897.7 1461.4 898.2 1483.4 898.6 1492.1 899.1 1491.3 899.5 1505.4 900 1501.9 900.4 1508.2 900.9 1513.6 901.3 1509.7 901.8 1504.7 902.2 1504.9 902.7 1515.4 903.1 1515.5 903.6 1514.1 904 1509.3 904.5 1507 904.9 1502.6 905.4 1517.2 905.8 1510.8 906.3 1512.1 906.7 1517.1 907.2 1514.8 907.6 1506.8 908.1 1500.2 908.5 1514.9 909 1511.5 909.4 1510.2 909.9 1513.9 910.3 1510.2 910.8 1516.6 911.2 1520.9 911.7 1514.8 912.1 1513 912.6 1508.6 913 1524.5 913.5 1522.6 913.9 1515.7 914.4 1524.6 914.8 1512.8 915.3 1517.3 915.7 1521.1 916.2 1515.3 916.6 1514.4 917.1 1515.8 917.5 1513 918 1516.7 918.4 1522.2 918.9 1514.4 919.3 1516.6 919.8 1520 920.2 1521.9 920.7 1520.4 921.1 1519.8 921.6 1519.9" stroke="#000" stroke-width="1.7" fill="none" stroke-linejoin="round"/>
<g transform="translate(1144,698.1) scale(4.9939)" stroke-width="1.02" fill="none" shape-rendering="crispEdges">
<path stroke="#000" d="M0 0h1M1 1h1M2 2h1M3 3h1M4 4h1M5 5h1M6 6h1M7 7h1M8 8h1M9 9h1M10 10h1M11 11h1M12 12h1M13 13h1M14 14h1M15 15h1M16 16h1M17 17h1M18 18h1M19 19h1M20 20h1M21 21h1M22 22h1M23 23h1M24 24h1M25 25h1M26 26h1M27 27h1M28 28h1M29 29h1M30 30h1M31 31h1M32 32h1M33 33h1M34 34h1M35 35h1M36 36h1M37 37h1M38 38h1M39 39h1M40 40h1M41 41h1M42 42h1M43 43h1M44 44h1M45 45h1M46 46h1M47 47h1M48 48h1"/>
<path stroke="#ff0" d="M1 0h1M14 0h1M17 0h1M24 0h1M0 1h1M16 1h1M10 2h1M16 2h1M45 2h1M39 3h1M41 3h1M48 3h1M23 4h1M22 5h2M26 5h1M40 5h2M23 6h1M42 6h1M38 7h1M10 8h1M13 8h1M17 8h1M31 8h1M46 9h1M2 10h1M8 10h1M28 10h1M30 11h1M8 13h1M23 13h1M36 13h1M0 14h1M19 14h1M23 15h1M30 15h1M36 15h1M1 16h2M0 17h1M8 17h1M22 17h2M36 17h1M36 18h1M14 19h1M26 19h1M32 19h1M30 21h1M33 21h1M35 21h1M5 22h1M17 22h1M42 22h1M47 22h1M4 23h3M13 23h1M15 23h1M17 23h1M25 23h1M29 23h1M37 23h1M0 24h1M23 25h1M5 26h1M19 26h1M48 26h1M33 27h1M37 27h1M47 27h1M10 28h1M23 29h1M36 29h1M11 30h1M15 30h1M21 30h1M44 30h1M46 30h1M8 31h1M19 32h1M21 33h1M27 33h1M47 33h1M36 34h1M48 34h1M21 35h1M37 35h1M47 35h1M13 36h1M15 36h1M17 36h2M29 36h1M34 36h1M42 36h1M44 36h1M23 37h1M27 37h1M35 37h1M7 38h1M3 39h1M48 39h1M5 40h1M3 41h1M5 41h1M48 41h1M6 42h1M22 42h1M36 42h1M30 44h1M36 44h1M2 45h1M9 46h1M30 46h1M22 47h1M27 47h1M33 47h1M35 47h1M48 47h1M3 48h1M26 48h1M34 48h1M39 48h1M41 48h1M47 48h1"/>
<path stroke="#e5ff1a" d="M2 0h1M8 0h1M10 0h1M21 0h1M28 0h1M32 0h1M31 1h1M45 1h3M0 2h1M18 2h1M32 2h1M46 2h1M48 2h1M38 4h1M48 4h1M39 5h1M42 5h1M48 5h1M22 6h1M26 6h1M34 6h1M38 6h1M41 6h1M22 7h2M48 7h1M0 8h1M15 8h2M21 8h1M44 8h1M18 9h1M22 9h2M29 9h1M42 9h1M44 9h1M0 10h1M11 10h1M13 10h4M10 11h1M36 11h1M19 12h1M10 13h1M19 13h1M10 14h1M20 14h1M8 15h1M10 15h1M8 16h1M10 16h1M23 16h1M30 16h1M33 16h1M36 16h1M2 18h1M9 18h1M19 18h1M12 19h2M18 19h1M24 19h1M38 19h1M40 19h1M14 20h1M26 20h1M31 20h1M38 20h1M0 21h1M8 21h1M36 21h1M6 22h2M9 22h1M23 22h1M48 22h1M7 23h1M9 23h1M16 23h1M22 23h1M33 23h3M42 23h1M45 23h1M19 24h1M6 26h1M20 26h1M0 28h1M30 28h1M48 28h1M9 29h1M30 29h1M16 30h1M28 30h2M34 30h1M42 30h1M1 31h1M20 31h1M36 31h1M0 32h1M2 32h1M16 33h1M23 33h1M35 33h1M48 33h1M6 34h1M23 34h1M30 34h1M23 35h1M33 35h1M11 36h1M16 36h1M21 36h1M31 36h1M39 36h1M46 36h1M4 38h1M6 38h1M19 38h2M5 39h1M36 39h1M19 40h1M43 40h1M6 41h1M5 42h1M9 42h1M23 42h1M30 42h1M40 43h1M8 44h2M1 45h1M23 45h1M1 46h2M36 46h1M1 47h1M2 48h1M4 48h2M7 48h1M22 48h1M28 48h1M33 48h1"/>
<path stroke="#ffe500" d="M3 0h1M9 0h1M13 0h1M8 1h1M10 1h1M13 1h2M21 1h1M31 2h1M44 2h1M0 3h1M22 3h1M26 3h1M18 4h1M22 4h1M29 4h1M40 4h1M42 4h1M46 4h2M38 5h1M16 6h1M25 6h1M40 6h1M17 7h1M26 7h1M29 7h1M40 7h1M42 7h1M1 8h1M9 8h1M11 8h1M0 9h1M8 9h1M10 9h2M15 9h3M21 9h1M32 9h1M45 9h1M1 10h1M9 10h1M12 10h1M21 10h1M8 11h2M35 11h1M48 11h1M10 12h1M22 12h1M0 13h2M27 13h1M1 14h1M23 14h1M9 15h1M48 15h1M6 16h1M9 16h1M27 16h1M47 16h1M7 17h1M9 17h1M27 17h1M4 18h1M30 18h1M1 21h1M9 21h2M22 21h2M3 22h2M12 22h1M21 22h1M26 22h1M29 22h1M32 22h1M41 22h1M44 22h1M46 22h1M14 23h1M21 23h1M24 23h1M28 23h1M39 23h1M44 23h1M46 23h2M23 24h1M30 24h1M36 24h1M6 25h1M35 25h2M3 26h1M7 26h1M22 26h1M13 27h1M16 27h2M35 27h1M48 27h1M23 28h1M4 29h1M7 29h1M22 29h1M48 29h1M18 30h1M24 30h1M47 30h1M2 31h1M9 32h1M22 32h1M35 32h2M37 33h1M39 33h1M35 34h1M11 35h1M25 35h1M27 35h1M32 35h1M34 35h1M42 35h1M44 35h1M46 35h1M24 36h2M32 36h1M33 37h1M5 38h1M23 39h1M33 39h1M4 40h1M6 40h2M22 41h1M4 42h1M7 42h1M35 42h1M48 42h1M2 44h1M22 44h2M35 44h1M9 45h1M4 46h1M22 46h2M35 46h1M48 46h1M4 47h1M16 47h1M23 47h1M30 47h1M11 48h1M15 48h1M27 48h1M29 48h1M42 48h1M46 48h1"/>
<path stroke="#fc0" d="M4 0h4M12 0h1M11 1h1M15 1h1M17 1h1M28 1h1M32 1h1M8 2h2M11 2h1M13 2h3M17 2h1M21 2h1M28 2h1M29 3h1M38 3h1M40 3h1M47 3h1M0 4h1M8 4h1M10 4h1M25 4h1M32 4h1M45 4h1M0 5h1M10 5h2M17 5h2M25 5h1M29 5h1M46 5h2M0 6h1M8 6h1M18 6h1M29 6h1M45 6h1M47 6h1M0 7h1M10 7h1M18 7h1M25 7h1M45 7h1M2 8h1M4 8h1M6 8h1M24 8h1M28 8h1M2 9h1M12 9h2M31 9h1M4 10h2M7 10h1M24 10h1M1 11h2M5 11h1M22 11h1M0 12h1M9 12h1M27 12h1M30 12h1M36 12h1M2 13h1M9 13h1M30 13h1M33 13h1M35 13h1M2 14h1M35 14h2M1 15h2M35 15h1M37 15h1M28 16h1M32 16h1M35 16h1M37 16h1M39 16h1M1 17h2M5 17h1M21 17h1M28 17h1M30 17h1M33 17h1M35 17h1M47 17h2M5 18h3M22 18h1M2 21h1M17 21h1M41 21h1M48 21h1M11 22h1M18 22h1M25 22h1M39 22h1M45 22h1M26 23h1M38 23h1M41 23h1M8 24h1M10 24h1M48 24h1M4 25h2M7 25h1M22 25h1M23 26h1M30 26h1M35 26h2M12 27h1M34 27h1M42 27h1M44 27h2M1 28h2M8 28h1M16 28h2M35 28h1M3 29h1M5 29h2M35 29h1M12 30h2M17 30h1M26 30h1M31 30h2M39 30h1M9 31h1M30 31h1M48 31h1M1 32h1M4 32h1M16 32h1M30 32h1M33 32h1M13 33h1M17 33h1M32 33h1M34 33h1M41 33h1M44 33h1M46 33h1M27 34h1M33 34h1M47 34h1M13 35h5M26 35h1M28 35h2M38 35h2M41 35h1M45 35h1M12 36h1M14 36h1M26 36h1M45 36h1M15 37h2M39 37h1M47 37h1M3 38h1M23 38h1M35 38h1M16 39h1M22 39h1M30 39h1M35 39h1M37 39h1M46 39h1M3 40h1M48 40h1M21 41h1M23 41h1M33 41h1M35 41h1M27 42h1M27 44h1M33 44h1M48 44h1M4 45h1M6 45h2M22 45h1M27 45h1M35 45h2M48 45h1M5 46h1M33 46h1M39 46h1M3 47h1M5 47h2M17 47h1M34 47h1M37 47h1M17 48h1M21 48h1M24 48h1M31 48h1M40 48h1M44 48h2"/>
<path stroke="#cf3" d="M11 0h1M15 0h2M31 0h1M45 0h2M22 1h1M29 1h1M44 1h1M22 2h1M29 2h1M33 3h2M26 4h1M30 5h1M39 6h1M48 6h1M27 7h1M30 7h1M18 8h1M45 8h1M25 9h1M47 9h1M17 10h1M31 10h2M44 10h1M0 11h1M0 15h1M19 15h1M0 16h1M22 16h1M10 17h1M8 18h1M20 18h1M43 18h1M15 19h1M25 19h1M39 19h1M42 19h1M46 19h1M18 20h1M28 20h1M46 20h2M1 22h2M16 22h1M27 22h2M33 22h1M35 22h1M48 23h1M9 25h1M19 25h1M4 26h1M43 26h1M7 27h1M22 27h1M30 27h1M20 28h1M22 28h1M1 29h2M5 30h1M7 30h1M27 30h1M35 30h1M41 30h1M0 31h1M10 31h1M10 32h1M43 32h1M3 33h1M22 33h1M3 34h1M43 34h1M22 35h1M30 35h1M36 35h1M35 36h1M37 36h2M41 36h1M47 36h1M36 37h1M48 37h1M36 38h1M6 39h1M19 39h1M30 41h1M36 41h1M19 42h1M18 43h1M26 43h1M32 43h1M34 43h1M45 43h1M1 44h1M10 44h1M0 45h1M8 45h1M43 45h1M0 46h1M19 46h2M9 47h1M20 47h1M36 47h1M6 48h1M23 48h1M37 48h1"/>
<path stroke="#80ff80" d="M18 0h1M42 0h1M38 1h1M40 1h1M26 2h1M38 2h1M33 4h1M37 4h1M33 6h1M19 7h1M33 7h1M36 7h1M22 8h2M29 8h1M47 8h1M38 9h1M40 9h1M25 10h1M29 10h1M42 10h1M47 10h1M43 11h1M43 13h1M20 16h1M20 17h1M0 18h1M7 19h1M30 19h1M34 19h1M37 19h1M48 19h1M16 20h2M29 20h1M37 20h1M8 22h1M36 22h1M8 23h1M10 25h1M2 26h1M43 28h1M8 29h1M10 29h1M20 29h1M19 30h1M36 30h1M48 30h1M4 33h1M6 33h2M19 34h1M7 36h1M22 36h1M30 36h1M4 37h1M19 37h2M43 37h1M1 38h2M9 38h1M1 40h1M9 40h1M0 42h1M10 42h1M11 43h1M13 43h1M28 43h1M37 43h1M44 43h1M43 44h1M8 47h1M10 47h1M19 48h1M30 48h1"/>
<path stroke="#00e5ff" d="M19 0h2M27 0h1M33 0h5M43 0h1M20 1h1M33 1h1M35 1h1M43 1h1M20 2h1M35 2h1M43 2h1M43 4h1M43 5h1M43 6h1M19 8h2M35 8h3M39 8h1M43 8h1M20 9h1M43 9h1M33 10h3M37 10h1M41 10h1M43 10h1M0 19h1M8 19h1M0 20h3M8 20h2M0 27h1M0 33h2M10 33h1M0 34h1M10 34h1M0 35h3M8 35h1M10 35h1M0 36h1M8 36h1M0 37h1M8 37h1M10 37h1M8 39h1M10 41h1M0 43h3M4 43h3M8 43h3"/>
<path stroke="#b3ff4c" d="M22 0h1M23 1h1M25 1h1M40 2h1M42 2h1M47 2h1M27 3h1M30 3h1M37 3h1M34 4h1M41 4h1M34 7h1M41 7h1M32 8h1M46 8h1M48 9h1M18 10h1M45 10h2M19 11h2M43 12h1M43 14h1M19 17h1M10 18h1M11 19h1M17 19h1M21 19h1M29 19h1M31 19h1M41 19h1M45 19h1M11 20h1M25 20h1M39 20h2M42 20h1M45 20h1M19 21h1M43 21h1M0 22h1M30 22h1M37 22h1M1 23h1M27 23h1M30 23h1M36 23h1M43 24h1M1 25h1M20 25h1M43 25h1M3 27h1M23 27h1M36 27h1M36 28h1M19 29h1M43 29h1M3 30h1M22 30h2M33 30h1M37 30h1M19 31h1M43 31h1M8 32h1M30 33h1M4 34h1M7 34h1M48 35h1M23 36h1M27 36h2M48 36h1M3 37h1M22 37h1M30 37h1M43 38h1M20 39h1M2 40h1M20 40h1M4 41h1M7 41h1M19 41h1M43 41h1M2 42h1M20 42h1M43 42h1M12 43h1M14 43h1M21 43h1M24 43h2M29 43h1M31 43h1M38 43h1M41 43h2M46 43h1M10 45h1M19 45h2M8 46h1M10 46h1M43 46h1M2 47h1M9 48h1M35 48h2"/>
<path stroke="#9f6" d="M23 0h1M44 0h1M47 0h1M18 1h1M42 1h1M23 2h1M25 2h1M19 3h1M35 3h2M27 4h1M30 4h1M35 4h2M39 4h1M33 5h3M37 5h1M27 6h1M30 6h1M35 6h1M37 6h1M35 7h1M37 7h1M39 7h1M25 8h1M26 9h1M22 10h1M20 12h1M20 15h1M43 15h1M19 16h1M43 16h1M43 17h1M1 18h1M3 19h1M16 19h1M27 19h2M33 19h1M35 19h1M44 19h1M12 20h1M15 20h1M21 20h1M24 20h1M32 20h1M34 20h2M41 20h1M44 20h1M20 21h1M10 22h1M0 23h1M2 23h1M20 24h1M2 25h1M8 25h1M9 26h1M4 27h1M6 27h1M19 27h1M19 28h1M4 30h1M6 30h1M20 32h1M5 33h1M19 33h1M36 33h1M5 34h1M20 34h1M3 35h5M19 35h2M3 36h2M33 36h1M5 37h3M4 39h1M7 39h1M43 39h1M20 41h1M1 42h1M15 43h3M39 43h1M47 43h1M0 44h1M19 44h2M0 47h1M43 47h1"/>
<path stroke="#6f9" d="M25 0h1M29 0h1M48 0h1M30 2h1M19 4h1M27 5h1M36 5h1M20 7h1M40 8h1M42 8h1M48 8h1M30 9h1M23 10h1M20 13h1M4 19h1M22 19h2M36 19h1M47 19h1M7 20h1M13 20h1M23 20h1M27 20h1M30 20h1M33 20h1M19 22h1M43 22h1M10 23h1M19 23h2M43 23h1M0 25h1M5 27h1M20 27h1M43 27h1M0 29h1M2 30h1M9 30h1M20 30h1M20 33h1M43 33h1M43 35h1M5 36h1M19 36h1M8 40h1M8 42h1M22 43h2M27 43h1M33 43h1M35 43h1M48 43h1M19 47h1M0 48h1M8 48h1M43 48h1"/>
<path stroke="#1affe5" d="M26 0h1M38 0h1M40 0h1M36 1h2M19 2h1M33 2h1M39 2h1M41 2h1M43 3h1M20 5h1M19 6h1M30 8h1M19 9h1M27 9h1M33 9h1M36 9h1M26 10h1M30 10h1M39 10h1M2 19h1M6 19h1M9 19h1M20 19h1M43 19h1M5 20h1M19 20h1M0 26h1M10 26h1M9 27h1M8 30h1M10 30h1M2 33h1M9 33h1M1 36h1M9 36h1M1 37h1M0 38h1M2 39h1M10 39h1M0 40h1M2 41h1M3 43h1M19 43h1"/>
<path stroke="#3fc" d="M30 0h1M34 1h1M27 2h1M34 2h1M36 2h1M20 6h1M43 7h1M38 8h1M34 9h1M37 9h1M39 9h1M38 10h1M6 20h1M36 20h1M48 20h1M2 27h1M0 30h1M1 34h2M9 34h1M2 36h1M20 36h1M9 37h1M8 38h1M10 38h1M9 39h1M7 43h1M20 48h1"/>
<path stroke="#0ff" d="M39 0h1M41 0h1M19 1h1M27 1h1M39 1h1M37 2h1M27 8h1M33 8h2M41 8h1M35 9h1M19 10h2M27 10h1M36 10h1M1 19h1M10 19h1M10 20h1M43 20h1M1 27h1M8 27h1M10 27h1M8 33h1M8 34h1M9 35h1M10 36h1M43 36h1M2 37h1M0 39h2M0 41h1M8 41h1M20 43h1M36 43h1"/>
<path stroke="#ffb300" d="M2 1h1M4 1h1M9 1h1M12 1h1M24 1h1M1 2h1M23 3h1M25 3h1M32 3h1M42 3h1M45 3h1M1 4h1M21 4h1M44 4h1M8 5h1M21 5h1M31 5h2M9 6h2M12 6h2M17 6h1M32 6h1M44 6h1M46 6h1M8 7h1M13 7h1M15 7h2M47 7h1M5 8h1M7 8h1M12 8h1M14 8h1M1 9h1M6 9h1M28 9h1M6 10h1M23 11h1M28 11h1M37 11h1M39 11h1M1 12h1M6 12h1M8 12h1M23 12h1M33 12h1M47 12h2M6 13h2M16 13h1M22 13h1M37 13h1M48 13h1M8 14h1M22 14h1M33 14h1M48 14h1M7 15h1M22 15h1M27 15h2M47 15h1M7 16h1M13 16h1M17 16h1M34 16h1M41 16h1M44 16h1M48 16h1M6 17h1M16 17h1M39 17h1M41 17h1M23 18h1M27 18h1M33 18h3M48 18h1M4 21h2M27 21h3M47 21h1M13 22h3M24 22h1M31 22h1M34 22h1M38 22h1M40 22h1M3 23h1M11 23h2M18 23h1M31 23h2M40 23h1M1 24h1M22 24h1M27 24h1M33 24h1M35 24h1M37 24h1M3 25h1M30 25h1M33 25h1M47 25h2M27 26h1M15 27h1M18 27h1M21 27h1M24 27h1M26 27h1M28 27h2M32 27h1M38 27h1M41 27h1M46 27h1M9 28h1M11 28h1M15 28h1M21 28h1M27 28h1M33 28h1M37 28h1M46 28h2M21 29h1M27 29h1M33 29h1M47 29h1M25 30h1M38 30h1M45 30h1M5 31h1M22 31h2M33 31h1M47 31h1M3 32h1M5 32h2M23 32h1M27 32h1M34 32h1M37 32h1M48 32h1M12 33h1M14 33h1M18 33h1M24 33h2M28 33h2M31 33h1M38 33h1M42 33h1M16 34h1M18 34h1M22 34h1M32 34h1M18 35h1M24 35h1M40 35h1M11 37h1M13 37h1M24 37h1M28 37h1M32 37h1M42 37h1M44 37h2M22 38h1M27 38h1M30 38h1M33 38h1M47 38h1M11 39h1M17 39h1M47 39h1M22 40h2M35 40h1M16 41h2M27 41h1M47 41h1M3 42h1M33 42h1M37 42h1M47 42h1M4 44h1M6 44h1M16 44h1M37 44h1M46 44h2M3 45h1M30 45h1M37 45h1M6 46h1M27 46h2M44 46h1M7 47h1M12 47h1M15 47h1M21 47h1M25 47h1M28 47h2M31 47h1M38 47h2M41 47h2M44 47h1M12 48h3M16 48h1M18 48h1M25 48h1M32 48h1"/>
<path stroke="#f60" d="M3 1h1M1 3h1M11 3h1M14 3h1M16 3h1M28 3h1M7 4h1M12 4h1M6 5h2M5 6h1M11 6h1M14 6h1M4 7h2M9 7h1M12 7h1M7 9h1M3 11h1M6 11h1M12 11h3M25 11h1M29 11h1M31 11h1M41 11h1M46 11h1M4 12h1M7 12h1M11 12h1M16 12h2M21 12h1M26 12h1M32 12h1M41 12h2M44 12h2M11 13h1M26 13h1M28 13h1M39 13h1M42 13h1M3 14h1M6 14h1M11 14h1M37 14h1M39 14h1M41 14h2M29 15h1M38 15h1M46 15h1M3 16h1M12 16h1M24 16h1M12 17h1M38 17h1M40 17h1M46 17h1M21 18h1M25 18h1M29 18h1M38 18h1M41 18h2M45 18h2M12 21h1M18 21h1M38 21h2M42 21h1M46 21h1M16 24h1M32 24h1M38 24h2M11 25h1M18 25h1M26 25h1M29 25h1M38 25h1M12 26h2M25 26h1M37 26h1M31 27h1M3 28h1M13 28h1M11 29h1M15 29h1M18 29h1M25 29h1M32 29h1M45 29h1M11 31h1M27 31h1M34 31h1M41 31h1M12 32h1M24 32h1M29 32h1M39 32h1M42 32h1M31 34h1M14 37h1M26 37h1M38 37h1M41 37h1M15 38h1M17 38h2M21 38h1M24 38h2M37 38h1M44 38h1M13 39h2M21 39h1M24 39h1M32 39h1M42 39h1M17 40h1M11 41h2M14 41h1M18 41h1M31 41h1M37 41h1M45 41h1M12 42h3M18 42h1M21 42h1M32 42h1M39 42h1M12 44h1M38 44h1M12 45h1M18 45h1M29 45h1M41 45h1M11 46h1M15 46h1M17 46h2M21 46h1M47 46h1M46 47h1"/>
<path stroke="#f90" d="M5 1h3M5 2h1M10 3h1M17 3h2M21 3h1M46 3h1M5 4h1M9 4h1M11 4h1M16 4h2M28 4h1M1 5h2M4 5h1M13 5h1M16 5h1M28 5h1M44 5h1M1 6h1M21 6h1M24 6h1M31 6h1M1 7h1M21 7h1M32 7h1M44 7h1M46 7h1M4 9h1M3 10h1M4 11h1M16 11h1M27 11h1M33 11h1M29 12h1M35 12h1M37 12h1M5 13h1M17 13h1M34 13h1M44 13h1M46 13h2M30 14h1M16 15h2M21 15h1M24 15h1M33 15h2M42 15h1M44 15h1M4 16h2M11 16h1M15 16h1M21 16h1M25 16h2M31 16h1M42 16h1M45 16h2M3 17h2M13 17h1M15 17h1M24 17h2M42 17h1M44 17h1M3 18h1M28 18h1M37 18h1M3 21h1M6 21h2M15 21h2M34 21h1M37 21h1M6 24h1M15 24h1M17 24h1M28 24h1M34 24h1M41 24h1M16 25h2M27 25h2M34 25h1M37 25h1M39 25h1M42 25h1M44 25h2M16 26h1M33 26h2M11 27h1M25 27h1M39 27h1M4 28h2M18 28h1M24 28h2M29 28h1M32 28h1M34 28h1M41 28h2M12 29h1M28 29h1M37 29h1M14 30h1M6 31h1M16 31h1M35 31h1M7 32h1M28 32h1M41 32h1M44 32h1M11 33h1M15 33h1M26 33h1M45 33h1M13 34h1M15 34h1M21 34h1M24 34h3M28 34h1M37 34h1M42 34h1M46 34h1M12 35h1M31 35h1M40 36h1M12 37h1M18 37h1M21 37h1M25 37h1M29 37h1M34 37h1M46 37h1M25 39h1M27 39h1M41 39h1M36 40h1M24 41h1M28 41h1M32 41h1M39 41h1M42 41h1M46 41h1M15 42h3M25 42h1M28 42h1M34 42h1M41 42h1M5 44h1M7 44h1M13 44h1M15 44h1M17 44h1M25 44h1M32 44h1M45 44h1M16 45h1M25 45h1M33 45h1M44 45h1M47 45h1M3 46h1M7 46h1M13 46h1M16 46h1M34 46h1M37 46h1M41 46h1M13 47h1M45 47h1"/>
<path stroke="#4dffb2" d="M26 1h1M30 1h1M41 1h1M48 1h1M20 3h1M20 4h1M19 5h1M36 6h1M26 8h1M41 9h1M40 10h1M48 10h1M5 19h1M3 20h2M22 20h1M20 22h1M1 26h1M8 26h1M1 30h1M43 30h1M6 36h1M10 40h1M1 41h1M9 41h1M30 43h1M1 48h1M10 48h1"/>
<path stroke="#ff4c00" d="M3 2h1M2 3h1M4 3h4M9 3h1M12 3h1M24 3h1M3 4h1M24 4h1M3 5h1M3 6h1M15 6h1M3 7h1M14 7h1M24 7h1M3 9h1M18 11h1M26 11h1M38 11h1M40 11h1M44 11h1M47 11h1M3 12h1M13 12h2M18 12h1M25 12h1M31 12h1M38 12h3M46 12h1M12 13h1M14 13h1M18 13h1M24 13h1M31 13h1M38 13h1M40 13h1M45 13h1M7 14h1M12 14h2M15 14h1M17 14h2M24 14h3M28 14h1M31 14h2M38 14h1M40 14h1M44 14h3M6 15h1M14 15h1M18 15h1M40 15h1M18 16h1M38 16h1M40 16h1M14 17h1M18 17h1M26 17h1M11 18h7M24 18h1M26 18h1M31 18h2M39 18h2M26 21h1M31 21h2M40 21h1M3 24h2M7 24h1M13 24h2M18 24h1M26 24h1M31 24h1M40 24h1M44 24h3M12 25h1M14 25h1M31 25h1M40 25h1M11 26h1M14 26h1M17 26h2M21 26h1M24 26h1M29 26h1M31 26h2M38 26h3M44 26h3M14 28h1M40 28h1M26 29h1M31 29h1M38 29h1M40 29h1M42 29h1M12 31h3M18 31h1M21 31h1M24 31h3M29 31h1M32 31h1M38 31h3M44 31h3M14 32h1M18 32h1M21 32h1M26 32h1M31 32h1M38 32h1M40 32h1M46 32h1M40 34h1M11 38h4M16 38h1M26 38h1M29 38h1M31 38h2M40 38h3M45 38h1M12 39h1M18 39h1M26 39h1M31 39h1M40 39h1M45 39h1M11 40h6M18 40h1M21 40h1M24 40h3M28 40h2M31 40h2M34 40h1M38 40h2M41 40h2M44 40h3M38 41h1M40 41h1M29 42h1M38 42h1M40 42h1M45 42h2M11 44h1M14 44h1M24 44h1M26 44h1M31 44h1M40 44h1M13 45h2M24 45h1M26 45h1M31 45h1M38 45h3M42 45h1M46 45h1M12 46h1M14 46h1M24 46h1M26 46h1M31 46h2M40 46h1M42 46h1M45 46h1M11 47h1"/>
<path stroke="#ff8000" d="M4 2h1M6 2h2M12 2h1M24 2h1M8 3h1M13 3h1M15 3h1M31 3h1M44 3h1M2 4h1M6 4h1M13 4h3M31 4h1M9 5h1M12 5h1M14 5h2M24 5h1M45 5h1M2 6h1M4 6h1M7 6h1M28 6h1M2 7h1M6 7h1M11 7h1M28 7h1M31 7h1M3 8h1M5 9h1M14 9h1M24 9h1M7 11h1M15 11h1M17 11h1M21 11h1M24 11h1M32 11h1M34 11h1M42 11h1M45 11h1M2 12h1M5 12h1M15 12h1M24 12h1M28 12h1M34 12h1M3 13h2M15 13h1M21 13h1M25 13h1M29 13h1M32 13h1M41 13h1M4 14h2M9 14h1M16 14h1M21 14h1M27 14h1M29 14h1M34 14h1M47 14h1M3 15h3M11 15h3M25 15h2M31 15h2M39 15h1M41 15h1M45 15h1M14 16h1M29 16h1M11 17h1M29 17h1M31 17h2M34 17h1M37 17h1M45 17h1M44 18h1M47 18h1M11 21h1M13 21h2M24 21h2M44 21h2M2 24h1M5 24h1M9 24h1M11 24h2M21 24h1M25 24h1M29 24h1M42 24h1M47 24h1M13 25h1M15 25h1M21 25h1M24 25h1M32 25h1M41 25h1M46 25h1M15 26h1M28 26h1M41 26h2M47 26h1M14 27h1M40 27h1M6 28h2M12 28h1M26 28h1M31 28h1M38 28h2M44 28h2M13 29h2M16 29h2M24 29h1M34 29h1M39 29h1M41 29h1M44 29h1M46 29h1M40 30h1M3 31h2M7 31h1M15 31h1M17 31h1M28 31h1M37 31h1M42 31h1M11 32h1M13 32h1M15 32h1M17 32h1M25 32h1M45 32h1M47 32h1M40 33h1M11 34h2M14 34h1M17 34h1M29 34h1M38 34h2M41 34h1M44 34h2M17 37h1M31 37h1M40 37h1M28 38h1M34 38h1M39 38h1M46 38h1M48 38h1M15 39h1M28 39h2M34 39h1M38 39h1M44 39h1M27 40h1M30 40h1M33 40h1M37 40h1M47 40h1M13 41h1M15 41h1M25 41h2M29 41h1M34 41h1M44 41h1M11 42h1M24 42h1M26 42h1M31 42h1M44 42h1M3 44h1M18 44h1M21 44h1M28 44h2M34 44h1M39 44h1M41 44h2M5 45h1M11 45h1M15 45h1M17 45h1M21 45h1M28 45h1M32 45h1M34 45h1M25 46h1M29 46h1M38 46h1M14 47h1M18 47h1M24 47h1M26 47h1M32 47h1M40 47h1M38 48h1"/>
</g>
<g transform="translate(1144,960.4) scale(4.9939)" stroke-width="1.02" fill="none" shape-rendering="crispEdges">
<path stroke="#000" d="M0 0h1M1 1h1M2 2h1M3 3h1M4 4h1M5 5h1M6 6h1M7 7h1M8 8h1M9 9h1M10 10h1M11 11h1M12 12h1M13 13h1M14 14h1M15 15h1M16 16h1M17 17h1M18 18h1M19 19h1M20 20h1M21 21h1M22 22h1M23 23h1M24 24h1M25 25h1M26 26h1M27 27h1M28 28h1M29 29h1M30 30h1M31 31h1M32 32h1M33 33h1M34 34h1M35 35h1M36 36h1M37 37h1M38 38h1M39 39h1M40 40h1M41 41h1M42 42h1M43 43h1M44 44h1M45 45h1M46 46h1M47 47h1M48 48h1"/>
<path stroke="#009" d="M1 0h1M8 0h2M0 1h1M10 1h1M40 2h1M48 2h1M10 3h1M40 3h2M10 4h1M40 4h1M40 5h1M9 6h2M40 6h2M22 7h1M33 7h1M40 7h1M0 8h1M22 8h1M33 8h3M40 8h2M45 8h1M48 8h1M0 9h1M6 9h1M33 9h1M35 9h2M40 9h2M48 9h1M1 10h1M3 10h2M6 10h1M34 10h1M40 10h2M46 10h1M48 10h1M22 15h1M40 15h1M7 22h2M15 22h1M34 22h1M40 23h1M7 33h3M40 33h1M8 34h1M10 34h1M22 34h1M41 34h1M8 35h2M9 36h1M2 40h9M15 40h1M23 40h1M33 40h1M3 41h1M6 41h1M8 41h3M34 41h1M8 45h1M10 46h1M2 48h1M8 48h3"/>
<path stroke="#004dff" d="M2 0h1M22 0h1M30 0h1M8 1h1M29 1h1M0 2h1M10 2h1M23 2h1M29 2h1M4 3h1M14 3h1M34 3h1M3 4h1M22 4h1M34 4h1M39 4h1M42 4h1M10 5h1M26 5h1M34 5h1M38 5h1M46 5h1M7 6h1M45 6h1M6 7h1M9 7h1M34 7h1M36 7h1M1 8h1M7 9h1M19 9h1M31 9h1M2 10h1M5 10h1M20 10h1M14 12h1M22 12h1M3 14h1M12 14h1M20 14h2M24 14h1M33 15h1M38 15h1M23 18h1M9 19h1M41 19h1M10 20h1M14 20h1M29 20h1M14 21h1M0 22h1M4 22h1M12 22h1M37 22h1M43 22h1M2 23h1M18 23h1M33 23h1M14 24h1M5 26h1M29 26h1M33 26h2M1 29h2M20 29h1M26 29h1M0 30h1M9 31h1M48 31h1M33 32h1M48 32h1M15 33h1M23 33h1M26 33h1M32 33h1M35 33h1M41 33h1M3 34h3M7 34h1M26 34h1M42 34h1M33 35h1M7 36h1M22 37h1M5 38h1M15 38h1M4 39h1M48 39h1M43 40h1M45 40h1M19 41h1M33 41h1M4 42h1M34 42h1M22 43h1M40 43h1M6 45h1M40 45h1M5 46h1M48 46h1M31 48h2M39 48h1M46 48h1"/>
<path stroke="#001aff" d="M3 0h1M6 0h1M46 0h1M3 1h1M15 1h1M26 1h1M33 2h2M0 3h2M33 3h1M15 4h1M9 5h1M14 5h1M35 5h1M0 6h1M22 6h1M10 8h1M37 8h1M5 9h1M14 9h1M22 9h2M44 9h1M46 9h1M8 10h1M26 10h1M31 10h1M43 10h1M5 14h1M9 14h1M23 14h1M35 14h2M1 15h1M4 15h1M19 15h1M42 15h1M33 16h1M22 17h1M15 19h1M40 20h1M6 22h1M9 22h1M17 22h1M28 22h1M47 22h1M9 23h1M14 23h1M1 26h1M10 26h1M48 26h1M22 28h1M40 29h1M10 31h1M40 31h1M40 32h1M2 33h2M16 33h1M48 33h1M2 34h1M5 35h1M14 35h1M40 35h1M14 36h1M8 37h1M20 40h1M29 40h1M31 40h2M35 40h1M41 40h1M46 40h1M40 41h1M15 42h1M10 43h1M9 44h1M0 46h1M9 46h1M40 46h1M22 47h1M26 48h1M33 48h1"/>
<path stroke="#0080ff" d="M4 0h1M26 0h1M29 0h1M33 0h1M38 0h1M30 1h2M5 2h1M28 2h1M0 4h1M5 4h1M7 4h1M44 4h1M2 5h1M4 5h1M8 5h1M23 5h1M29 5h1M23 6h1M4 7h1M35 7h1M42 7h1M5 8h1M12 8h1M16 8h1M28 8h1M26 9h3M23 10h1M33 11h1M8 12h1M15 12h1M19 14h1M26 14h1M12 15h1M25 15h2M8 16h1M40 16h1M23 17h1M22 18h1M14 19h1M23 19h1M18 22h1M42 22h1M45 22h1M5 23h2M10 23h1M17 23h1M19 23h1M27 23h1M32 23h1M15 25h1M41 25h1M48 25h1M0 26h1M9 26h1M14 26h2M9 27h1M23 27h1M2 28h1M8 28h2M0 29h1M5 29h1M34 29h1M47 29h1M1 30h1M34 30h1M41 30h1M48 30h1M1 31h1M23 32h1M0 33h1M11 33h1M45 33h1M29 34h2M36 34h1M7 35h1M48 35h1M34 36h1M0 38h1M16 40h1M47 40h1M25 41h1M30 41h1M7 42h1M22 42h1M4 44h1M22 45h1M33 45h1M29 47h1M40 47h1M25 48h1M30 48h1M35 48h1"/>
<path stroke="#03f" d="M5 0h1M9 1h1M14 1h1M8 2h1M22 2h1M36 3h1M33 4h1M41 4h1M0 5h1M37 5h1M48 5h1M42 6h1M15 7h1M2 8h1M27 8h1M1 9h1M30 9h1M32 9h1M45 9h1M11 10h1M19 10h1M28 10h1M30 10h1M35 10h1M47 10h1M10 11h1M40 12h1M22 13h1M1 14h1M34 14h1M7 15h1M30 15h1M48 15h1M10 19h1M40 19h1M41 20h1M2 22h1M13 22h1M26 22h1M39 22h1M46 22h1M25 23h1M34 23h1M41 23h2M23 25h1M22 26h1M8 27h1M48 27h1M10 28h1M9 30h2M15 30h1M9 32h1M41 32h1M4 33h1M34 33h1M14 34h1M23 34h1M33 34h1M48 34h1M10 35h1M3 36h1M5 37h1M22 39h1M12 40h1M19 40h1M4 41h1M20 41h1M23 41h1M32 41h1M48 41h1M6 42h1M23 42h1M48 42h1M9 45h1M22 46h1M10 47h1M5 48h1M15 48h1M27 48h1M34 48h1M41 48h2"/>
<path stroke="#0cf" d="M7 0h1M20 0h1M27 0h1M47 0h1M11 1h1M20 1h1M42 1h1M4 2h1M7 3h1M2 4h1M13 4h1M27 4h1M30 4h1M11 5h1M19 5h1M25 5h1M32 5h1M44 5h1M11 6h1M39 6h1M44 6h1M0 7h1M3 7h1M19 7h1M26 7h1M28 7h1M30 7h1M44 7h1M19 8h1M24 9h1M25 10h1M1 11h1M5 11h2M33 12h1M4 13h1M34 13h1M48 13h1M18 14h1M27 14h1M24 15h1M34 15h2M44 15h1M29 16h1M14 18h1M41 18h1M5 19h1M7 19h2M26 19h1M34 19h1M0 20h2M33 21h1M44 22h1M30 23h1M44 23h1M9 24h1M15 24h1M33 24h1M46 24h1M5 25h1M10 25h1M29 25h1M7 26h1M19 26h1M0 27h1M4 27h1M14 27h1M7 28h1M41 28h1M16 29h1M25 29h1M31 29h1M36 29h2M4 30h1M7 30h1M23 30h1M29 31h1M5 32h1M12 33h1M21 33h1M24 33h1M36 33h1M13 34h1M15 34h1M19 34h1M37 34h1M39 34h1M15 35h1M29 36h1M33 36h1M41 36h1M29 37h1M34 37h1M6 39h1M34 39h1M18 41h1M28 41h1M36 41h1M1 42h1M5 44h3M15 44h1M22 44h2M24 46h1M0 47h1M13 48h1"/>
<path stroke="#0000b2" d="M10 0h1M34 0h1M40 0h1M23 3h1M10 7h1M9 8h1M15 8h1M46 8h1M8 9h1M29 9h1M42 9h1M0 10h1M7 10h1M22 10h1M33 10h1M42 10h1M45 10h1M8 15h1M10 22h1M3 23h1M48 23h1M9 29h1M10 33h1M0 34h1M0 40h1M9 42h2M10 45h1M8 46h1M23 48h1"/>
<path stroke="#00c" d="M11 0h1M48 0h1M23 1h1M34 1h1M48 1h1M9 3h1M8 4h2M33 5h1M8 6h1M15 6h1M8 7h1M48 7h1M4 8h1M6 8h2M14 8h1M36 8h1M39 8h1M3 9h2M25 9h1M14 10h1M39 10h1M0 11h1M15 13h1M8 14h1M10 14h1M6 15h1M13 15h1M20 15h1M37 15h1M15 20h1M22 20h1M20 22h1M23 22h1M40 22h1M48 22h1M1 23h1M22 23h1M9 25h1M33 29h1M40 30h1M5 33h1M29 33h1M1 34h1M40 34h1M8 36h1M15 37h1M8 39h1M10 39h1M22 40h1M30 40h1M34 40h1M0 48h2M7 48h1M22 48h1"/>
<path stroke="#00b2ff" d="M12 0h1M17 0h2M6 1h2M22 1h1M35 1h1M7 2h1M14 2h1M38 2h1M35 4h1M37 4h1M30 5h1M1 6h1M36 6h1M1 7h2M14 7h1M20 7h1M32 7h1M37 7h1M45 7h2M17 8h1M26 8h1M12 9h1M21 9h1M13 10h1M22 11h1M40 11h1M0 12h1M9 12h1M10 13h1M2 14h1M7 14h1M17 14h1M28 14h2M44 14h1M47 14h1M21 15h1M39 15h1M41 16h1M0 17h1M8 17h1M14 17h1M34 17h1M0 18h1M48 18h1M7 20h1M9 21h1M15 21h1M1 22h1M11 22h1M24 23h1M26 23h1M31 23h1M39 23h1M43 23h1M23 24h1M41 24h1M8 26h1M23 26h1M14 28h1M48 28h1M14 29h1M39 29h1M42 29h1M48 29h1M5 30h1M23 31h1M7 32h1M17 34h1M43 34h1M1 35h1M4 35h1M6 36h1M4 37h1M7 37h1M48 37h1M2 38h1M41 38h1M15 39h1M23 39h1M29 39h1M11 40h1M16 41h1M24 41h1M38 41h1M43 41h1M46 41h1M29 42h1M23 43h1M34 43h1M41 43h1M14 44h1M7 45h1M7 46h1M41 46h1M14 47h1M48 47h1M18 48h1M28 48h2M37 48h1M47 48h1"/>
<path stroke="#3fc" d="M13 0h1M18 1h1M32 1h1M43 1h1M16 3h1M32 3h1M38 3h2M47 3h1M12 4h1M17 4h1M20 4h1M32 4h1M27 5h1M12 6h2M17 6h1M31 6h1M27 7h1M31 7h1M13 8h1M13 11h1M29 11h1M4 12h1M6 12h1M0 13h1M6 13h1M8 13h1M11 13h1M41 13h1M3 16h1M31 16h1M4 17h1M6 17h1M1 18h1M29 18h1M4 20h1M25 21h1M38 23h1M21 25h1M31 25h1M35 26h1M42 26h1M5 27h1M7 27h1M33 27h1M11 29h1M18 29h1M6 31h2M16 31h1M25 31h1M35 31h1M1 32h1M3 32h2M27 33h1M42 33h1M35 34h1M47 34h1M26 35h1M31 35h1M34 35h1M3 38h1M23 38h1M3 39h1M13 41h1M26 42h1M33 42h1M1 43h1M48 43h1M3 47h1M34 47h1M43 48h1"/>
<path stroke="#00f" d="M14 0h2M5 1h1M40 1h1M9 2h1M42 3h1M48 4h1M1 5h1M41 5h1M14 6h1M33 6h1M48 6h1M29 7h1M41 7h1M29 8h2M43 8h1M2 9h1M10 9h1M34 9h1M39 9h1M43 9h1M9 10h1M12 10h1M24 10h1M29 10h1M36 10h1M38 10h1M10 12h1M40 13h1M0 14h1M6 14h1M15 14h1M22 14h1M40 14h2M48 14h1M0 15h1M14 15h1M29 15h1M45 15h1M48 19h1M22 21h1M14 22h1M21 22h1M27 22h1M30 22h4M35 22h1M29 23h1M10 24h1M40 25h1M40 26h1M22 27h1M40 27h1M7 29h2M10 29h1M15 29h1M23 29h1M41 29h1M8 30h1M22 30h1M22 31h1M22 32h1M6 33h1M22 33h1M9 34h1M22 35h1M10 36h1M40 37h1M10 38h1M9 39h1M1 40h1M13 40h2M25 40h3M37 40h1M44 40h1M48 40h1M5 41h1M7 41h1M14 41h1M29 41h1M3 42h1M8 43h2M40 44h1M15 45h1M4 48h1M6 48h1M14 48h1M19 48h1M40 48h1"/>
<path stroke="#09f" d="M16 0h1M24 0h2M32 0h1M36 0h1M39 0h1M27 1h1M33 1h1M41 1h1M31 2h1M43 3h1M6 4h1M14 4h1M23 4h1M7 5h1M15 5h1M4 6h1M29 6h1M46 6h1M5 7h1M21 7h1M20 8h1M24 8h2M15 9h1M16 10h1M21 10h1M32 10h1M23 11h1M48 12h1M14 13h1M4 14h1M13 14h1M16 14h1M25 14h1M5 15h1M9 15h1M36 15h1M43 15h1M0 16h1M10 16h1M14 16h1M22 16h1M34 16h1M48 17h1M22 19h1M8 20h1M7 21h1M10 21h1M29 21h1M40 21h1M16 22h1M19 22h1M24 22h1M4 23h1M11 23h1M46 23h1M0 24h1M8 24h1M22 24h1M0 25h1M8 25h1M14 25h1M33 25h1M30 26h1M1 27h1M6 29h1M21 29h1M26 30h1M2 31h1M0 32h1M10 32h1M1 33h1M25 33h1M37 33h1M39 33h1M47 33h1M16 34h1M46 34h1M0 36h1M15 36h1M33 37h1M0 39h1M33 39h1M21 40h1M1 41h1M42 41h1M41 42h1M3 43h1M15 43h1M48 44h1M6 46h1M23 46h1M34 46h1M33 47h1M12 48h1M17 48h1M44 48h1"/>
<path stroke="#0ff" d="M19 0h1M43 0h1M21 1h1M25 1h1M28 1h1M45 1h2M24 2h1M39 2h1M42 2h1M45 2h1M5 3h1M35 3h1M18 4h2M24 4h1M29 4h1M43 4h1M3 5h1M21 5h1M45 5h1M20 6h1M47 6h1M38 7h1M11 8h1M8 11h1M41 11h1M20 12h1M29 13h1M42 14h1M45 14h1M17 15h1M27 15h2M31 15h1M23 16h1M48 16h1M15 17h1M4 18h1M33 18h2M0 19h1M4 19h1M6 20h1M12 20h1M34 20h1M1 21h1M5 21h1M23 21h1M34 21h1M48 21h1M16 23h1M21 23h1M28 23h1M45 23h1M2 24h1M4 24h1M29 24h1M40 24h1M1 25h1M15 27h1M29 27h1M34 27h1M1 28h1M15 28h1M23 28h1M29 28h1M4 29h1M13 29h1M24 29h1M27 29h2M43 29h2M15 31h1M18 33h1M38 33h1M18 34h1M20 34h2M27 34h1M3 35h1M41 37h1M7 38h1M33 38h1M48 38h1M2 39h1M24 40h1M11 41h1M37 41h1M47 41h1M2 42h1M14 42h1M0 43h1M4 43h1M29 43h1M29 44h1M1 45h2M5 45h1M14 45h1M23 45h1M1 46h1M6 47h1M41 47h1M16 48h1M21 48h1M38 48h1"/>
<path stroke="#06f" d="M21 0h1M28 0h1M31 0h1M42 0h1M44 0h1M2 1h1M4 1h1M13 1h1M1 2h1M15 2h1M41 2h1M8 3h1M15 3h1M22 3h1M29 3h1M46 3h1M1 4h1M36 4h1M45 4h1M6 5h1M22 5h1M36 5h1M39 5h1M5 6h1M43 6h1M23 7h1M43 7h1M3 8h1M18 8h1M21 8h1M38 8h1M47 8h1M11 9h1M13 9h1M15 10h1M44 10h1M9 11h1M48 11h1M1 13h1M9 13h1M23 13h1M33 14h1M38 14h1M46 14h1M2 15h2M10 15h1M41 15h1M46 15h1M40 17h2M8 18h1M40 18h1M23 20h1M48 20h1M0 21h1M8 21h1M3 22h1M5 22h1M25 22h1M7 23h1M13 23h1M20 23h1M36 23h2M48 24h1M22 25h1M0 28h1M34 28h1M40 28h1M3 29h1M32 29h1M33 30h1M0 31h1M29 32h1M14 33h1M30 33h1M28 34h1M45 34h1M4 36h2M23 36h1M40 36h1M48 36h1M23 37h1M8 38h1M14 38h1M5 39h1M40 39h1M17 40h2M28 40h1M36 40h1M39 40h1M42 40h1M2 41h1M15 41h1M17 41h1M0 42h1M40 42h1M6 43h2M0 44h1M10 44h1M4 45h1M34 45h1M3 46h1M14 46h2M8 47h1M11 48h1M20 48h1M24 48h1M36 48h1"/>
<path stroke="#0000e6" d="M23 0h1M41 0h1M48 3h1M42 5h1M34 6h1M23 8h1M32 8h1M42 8h1M44 8h1M20 9h1M37 9h2M47 9h1M27 10h1M23 15h1M9 20h1M29 22h1M36 22h1M38 22h1M41 22h1M0 23h1M8 23h1M15 23h1M10 27h1M22 29h1M8 32h1M6 34h1M22 36h1M9 37h1M9 38h1M22 38h1M0 41h1M22 41h1M5 42h1M8 42h1M8 44h1M9 47h1M3 48h1"/>
<path stroke="#1affe5" d="M35 0h1M12 1h1M36 1h1M39 1h1M3 2h1M13 2h1M35 2h1M37 2h1M44 2h1M46 2h1M2 3h1M13 3h1M21 3h1M25 3h1M37 3h1M44 3h1M28 5h1M19 6h1M21 6h1M27 6h1M38 6h1M11 7h1M47 7h1M16 9h1M7 11h1M14 11h1M32 11h1M34 11h1M1 12h1M41 12h1M2 13h2M11 14h1M16 15h1M9 16h1M15 16h1M33 17h1M6 19h1M29 19h1M33 20h1M42 20h1M3 21h1M6 21h1M41 21h2M3 25h1M6 27h1M5 28h1M33 28h1M19 29h1M46 29h1M41 31h1M11 32h1M34 32h1M17 33h1M20 33h1M28 33h1M43 33h1M46 33h1M11 34h1M32 34h1M38 34h1M44 34h1M0 35h1M2 35h1M41 35h1M1 36h1M2 37h2M6 38h1M34 38h1M1 39h1M12 41h1M21 41h1M31 41h1M35 41h1M44 41h1M20 42h2M33 43h1M2 44h2M34 44h1M41 44h1M2 46h1M29 46h1M33 46h1M7 47h1"/>
<path stroke="#4dffb2" d="M37 0h1M45 0h1M32 2h1M36 2h1M30 3h1M45 3h1M11 4h1M21 4h1M28 4h1M12 5h1M17 5h2M30 6h1M17 9h1M4 11h1M26 11h1M5 12h1M42 12h1M37 14h1M5 17h1M9 17h1M5 18h1M32 19h1M46 20h1M4 21h1M46 21h1M27 24h1M34 24h1M46 25h1M11 26h1M28 26h1M44 26h1M24 27h1M4 28h1M26 28h1M35 29h1M3 30h1M6 30h1M46 30h1M32 31h1M2 32h1M19 32h1M31 32h1M47 32h1M24 34h1M29 35h1M2 36h1M0 37h1M14 37h1M45 41h1M12 42h1M47 42h1M26 44h1M0 45h1M3 45h1M41 45h1M20 46h2M25 46h1M30 46h1M32 47h1M42 47h1"/>
<path stroke="#00e5ff" d="M16 1h1M24 1h1M44 1h1M47 1h1M6 2h1M26 2h1M6 3h1M26 4h1M31 4h1M38 4h1M46 4h1M16 5h1M43 5h1M2 6h2M25 6h1M28 6h1M32 6h1M35 6h1M37 6h1M39 7h1M31 8h1M18 9h1M17 10h2M37 10h1M15 11h1M23 12h1M29 12h1M34 12h1M26 13h1M33 13h1M30 14h3M39 14h1M43 14h1M11 15h1M18 15h1M32 15h1M47 15h1M1 16h1M5 16h1M10 17h1M29 17h1M9 18h2M15 18h1M33 19h1M12 23h1M35 23h1M47 23h1M1 24h1M6 25h1M2 26h1M4 26h1M13 26h1M41 27h1M6 28h1M12 29h1M17 29h1M30 29h1M38 29h1M14 30h1M29 30h1M4 31h1M8 31h1M14 31h1M33 31h1M6 32h1M14 32h2M13 33h1M19 33h1M31 33h1M44 33h1M12 34h1M6 35h1M23 35h1M6 37h1M10 37h1M4 38h1M29 38h1M40 38h1M7 39h1M14 39h1M41 39h1M38 40h1M27 41h1M39 41h1M5 43h1M14 43h1M1 44h1M33 44h1M48 45h1M4 46h1M1 47h1M15 47h1M23 47h1M45 48h1"/>
<path stroke="#80ff80" d="M17 1h1M20 2h2M26 3h1M18 7h1M24 7h1M25 11h1M30 12h1M32 12h1M46 12h1M1 17h1M42 17h1M7 18h1M46 18h1M2 20h1M24 20h1M30 20h1M37 20h1M2 21h1M24 21h1M32 21h1M7 24h1M20 24h2M42 24h1M11 25h1M34 25h1M43 25h1M3 26h1M27 26h1M32 26h1M26 27h1M46 28h1M12 30h1M20 30h1M12 32h1M21 32h1M26 32h1M25 34h1M20 37h1M17 42h1M24 42h1M25 43h1M12 46h1M18 46h1M28 46h1"/>
<path stroke="#6f9" d="M19 1h1M37 1h2M12 2h1M27 2h1M17 3h1M19 3h2M24 3h1M28 3h1M16 4h1M25 4h1M47 4h1M13 5h1M31 5h1M47 5h1M26 6h1M12 7h1M28 11h1M2 12h1M7 12h1M5 13h1M4 16h1M26 16h1M30 16h1M3 17h1M31 17h1M1 19h1M3 19h1M3 20h1M28 20h1M32 20h1M26 21h1M28 21h1M30 21h1M3 24h1M25 24h2M4 25h1M24 25h1M32 25h1M6 26h1M16 26h1M21 26h1M24 26h1M41 26h1M46 26h1M2 27h1M32 27h1M3 28h1M11 28h1M20 28h2M16 30h1M21 30h1M35 30h1M5 31h1M17 31h1M34 31h1M20 32h1M25 32h1M27 32h1M31 34h1M30 35h1M36 35h1M35 36h1M1 37h1M1 38h1M26 41h1M26 46h1M4 47h2"/>
<path stroke="#9f6" d="M11 2h1M16 2h1M19 2h1M25 2h1M30 2h1M43 2h1M11 3h1M31 3h1M24 5h1M13 7h1M16 7h1M25 7h1M2 11h2M18 11h1M42 11h1M46 11h2M18 12h1M7 13h1M21 13h1M30 13h1M44 13h1M2 16h1M7 16h1M24 16h1M26 17h1M46 17h1M11 18h2M2 19h1M30 19h1M26 20h1M44 20h1M13 21h1M44 21h1M47 21h1M5 24h1M16 24h1M28 24h1M31 24h1M2 25h1M7 25h1M27 25h1M30 25h1M17 26h1M20 26h1M36 26h1M43 26h1M25 27h1M24 28h1M45 29h1M2 30h1M13 30h1M19 30h1M25 30h1M3 31h1M24 31h1M46 31h1M35 32h1M37 32h1M32 35h1M26 36h1M32 37h1M11 42h1M2 43h1M26 43h1M13 44h1M20 44h2M29 45h1M11 46h1M17 46h1M31 46h1M11 47h1M21 47h1"/>
<path stroke="#b3ff4c" d="M17 2h1M47 2h1M20 5h1M24 6h1M31 11h1M17 12h1M28 12h1M20 13h1M2 17h1M12 17h1M20 17h1M26 18h1M25 19h1M46 19h2M5 20h1M13 20h1M17 20h1M21 20h1M25 20h1M39 20h1M20 21h1M31 21h1M6 24h1M19 25h2M26 25h1M42 25h1M44 25h1M18 26h1M25 26h1M31 26h1M45 26h1M12 28h1M31 28h1M32 30h1M36 30h1M44 30h1M11 31h1M21 31h1M26 31h1M28 31h1M39 31h1M30 32h1M42 32h2M46 32h1M30 36h1M42 37h1M44 37h1M20 39h1M31 39h1M25 42h1M32 42h1M37 42h1M46 42h1M32 43h1M25 44h1M30 44h1M37 44h1M26 45h1M19 46h1M32 46h1M42 46h1M47 46h1M2 47h1M19 47h1M46 47h1"/>
<path stroke="#ffb300" d="M18 2h1M38 11h1M43 11h1M39 12h1M36 16h1M27 17h1M35 17h1M2 18h1M27 18h1M38 18h1M36 19h1M38 19h1M45 19h1M43 20h1M45 21h1M17 27h2M35 27h1M44 27h1M36 28h1M38 28h1M45 28h1M38 31h1M43 31h3M17 35h1M27 35h1M43 35h1M16 36h1M19 36h1M28 36h1M37 36h1M43 36h1M36 37h1M11 38h1M18 38h2M28 38h1M31 38h1M12 39h1M42 39h1M39 42h1M45 42h1M11 43h1M20 43h1M31 43h1M35 43h2M27 44h1M31 44h1M19 45h1M21 45h1M28 45h1M31 45h1M42 45h1"/>
<path stroke="#cf3" d="M12 3h1M18 3h1M16 6h1M17 7h1M30 11h1M45 11h1M3 12h1M26 12h1M31 12h1M19 13h1M32 13h1M35 13h1M6 16h1M21 16h1M32 16h1M46 16h1M7 17h1M3 18h1M20 18h1M24 18h1M32 18h1M13 19h1M28 19h1M18 20h1M27 20h1M31 20h1M16 21h1M37 21h2M18 24h1M47 25h1M12 26h1M38 26h1M47 26h1M20 27h1M19 28h1M32 28h1M42 28h1M11 30h1M47 30h1M12 31h1M20 31h1M13 32h1M16 32h1M18 32h1M28 32h1M44 32h1M13 35h1M42 35h1M44 36h1M21 37h1M21 38h1M26 38h1M28 42h1M35 42h1M44 42h1M46 43h1M32 44h1M36 44h1M42 44h1M11 45h1M16 46h1M43 46h1M25 47h2M30 47h1"/>
<path stroke="#e5ff1a" d="M27 3h1M18 6h1M16 11h1M20 11h2M24 11h1M35 11h1M44 11h1M19 12h1M21 12h1M43 12h1M45 12h1M24 13h2M39 13h1M42 13h1M46 13h1M11 16h1M32 17h1M6 18h1M25 18h1M28 18h1M37 18h1M12 19h1M43 19h1M11 20h1M35 20h1M11 21h2M27 21h1M11 24h1M13 24h1M32 24h1M35 24h1M13 25h1M18 25h1M28 25h1M3 27h1M21 27h1M28 27h1M42 27h1M46 27h1M18 28h1M25 28h1M27 28h1M30 28h1M28 30h1M31 30h1M39 30h1M30 31h1M37 31h1M47 31h1M17 32h1M24 32h1M36 32h1M39 32h1M11 35h1M20 35h1M24 35h1M44 35h1M32 36h1M18 37h1M31 37h1M13 39h1M30 39h1M32 39h1M13 42h1M27 42h1M12 43h1M19 43h1M11 44h1M35 44h1M12 45h1M13 46h1M27 46h1M31 47h1"/>
<path stroke="#ffe500" d="M12 11h1M27 11h1M37 11h1M11 12h1M27 12h1M31 13h1M17 16h1M27 16h1M42 16h1M16 17h1M36 17h1M19 18h1M31 18h1M42 18h1M18 19h1M21 19h1M31 19h1M19 21h1M30 24h1M37 25h2M45 25h1M11 27h2M16 27h1M30 27h1M36 27h1M43 28h2M24 30h1M27 30h1M37 30h1M42 30h1M13 31h1M18 31h2M36 31h1M38 32h1M45 32h1M17 36h1M27 36h1M31 36h1M11 37h1M25 37h1M30 37h1M25 38h1M32 38h1M39 38h1M38 39h1M16 42h1M18 42h1M30 42h1M28 43h1M28 44h1M25 45h1M32 45h1"/>
<path stroke="#fc0" d="M17 11h1M39 11h1M13 12h1M16 12h1M24 12h1M12 13h1M28 13h1M38 13h1M12 16h1M20 16h1M11 17h1M18 17h2M24 17h2M17 18h1M21 18h1M30 18h1M47 18h1M17 19h1M27 19h1M16 20h1M36 20h1M18 21h1M35 21h2M12 24h1M17 24h1M36 24h3M17 25h1M36 25h1M39 25h1M37 26h1M39 26h1M19 27h1M39 27h1M13 28h1M37 28h1M18 30h1M21 35h1M38 35h1M47 35h1M20 36h2M24 36h2M39 36h1M42 36h1M46 36h1M24 37h1M26 37h1M28 37h1M46 37h2M13 38h1M24 38h1M35 38h1M11 39h1M25 39h3M36 39h1M44 39h1M36 42h1M39 44h1M46 44h1M36 46h2M44 46h1M18 47h1M35 47h1M37 47h1"/>
<path stroke="#ff0" d="M19 11h1M36 11h1M25 12h1M35 12h4M47 12h1M36 13h2M47 13h1M19 16h1M39 16h1M30 17h1M39 17h1M36 18h1M11 19h1M16 19h1M20 19h1M24 19h1M37 19h1M44 19h1M19 20h1M38 20h1M45 20h1M47 20h1M39 21h1M43 21h1M19 24h1M12 25h1M37 27h1M39 28h1M17 30h1M43 30h1M45 30h1M42 31h1M12 35h1M11 36h3M18 36h1M12 37h2M19 37h1M27 37h1M12 38h1M20 38h1M44 38h1M16 39h2M21 39h1M28 39h1M46 39h2M31 42h1M43 42h1M21 43h1M30 43h1M42 43h1M47 43h1M19 44h1M38 44h1M20 45h1M30 45h1M39 46h1M12 47h2M20 47h1M39 47h1M43 47h1"/>
<path stroke="#f90" d="M44 12h1M16 13h1M13 16h1M35 16h1M43 16h1M45 16h1M47 16h1M35 19h1M42 19h1M39 24h1M44 24h1M47 27h1M35 28h1M16 35h1M19 35h1M28 35h1M39 35h1M46 35h1M38 36h1M36 38h1M46 38h2M24 39h1M35 39h1M19 42h1M16 43h1M44 43h1M12 44h1M24 44h1M43 44h1M16 45h1M35 46h1M38 46h1M16 47h1M27 47h1M38 47h1"/>
<path stroke="#ff8000" d="M17 13h1M25 16h1M44 16h1M13 17h1M21 17h1M17 21h1M16 25h1M35 25h1M38 27h1M47 28h1M25 35h1M45 35h1M45 36h1M47 36h1M38 37h1M27 38h1M37 38h1M43 38h1M45 39h1M38 43h1M16 44h1M47 44h1M35 45h2M39 45h1M28 47h1M36 47h1M44 47h1"/>
<path stroke="#ff4c00" d="M18 13h1M45 13h1M13 18h1M31 27h1M38 30h1M27 31h1M39 37h1M30 38h1M45 38h1M37 39h1M45 43h1M13 45h1M38 45h1M43 45h1"/>
<path stroke="#f60" d="M27 13h1M18 16h1M28 16h1M37 16h1M28 17h1M43 17h1M45 17h1M47 17h1M16 18h1M35 18h1M44 18h1M43 24h1M47 24h1M13 27h1M45 27h1M16 28h2M18 35h1M37 35h1M16 37h1M35 37h1M43 37h1M42 38h1M38 42h1M17 43h1M24 43h1M37 43h1M18 44h1M17 45h1M27 45h1M47 45h1M17 47h1M24 47h1M45 47h1"/>
<path stroke="#c00" d="M43 13h1M43 18h1M13 43h1M18 43h1"/>
<path stroke="#f30" d="M38 16h1M44 17h1M39 18h1M39 19h1M45 24h1M16 38h1M18 39h2M17 44h1M45 44h1M24 45h1M44 45h1"/>
<path stroke="#f00" d="M37 17h1M43 27h1M17 37h1M45 37h1M27 43h1M37 45h1"/>
<path stroke="#ff1a00" d="M38 17h1M45 18h1M17 38h1M43 39h1M39 43h1M18 45h1M46 45h1M45 46h1"/>
</g>
<g transform="translate(1144,1222.8) scale(4.9939)" stroke-width="1.02" fill="none" shape-rendering="crispEdges">
<path stroke="#000" d="M0 0h1M1 1h1M2 2h1M3 3h1M4 4h1M5 5h1M6 6h1M7 7h1M8 8h1M9 9h1M10 10h1M11 11h1M12 12h1M13 13h1M14 14h1M15 15h1M16 16h1M17 17h1M18 18h1M19 19h1M20 20h1M21 21h1M22 22h1M23 23h1M24 24h1M25 25h1M26 26h1M27 27h1M28 28h1M29 29h1M30 30h1M31 31h1M32 32h1M33 33h1M34 34h1M35 35h1M36 36h1M37 37h1M38 38h1M39 39h1M40 40h1M41 41h1M42 42h1M43 43h1M44 44h1M45 45h1M46 46h1M47 47h1M48 48h1"/>
<path stroke="#0cf" d="M1 0h1M4 0h1M31 0h1M33 0h2M0 1h1M0 4h1M0 31h1M0 33h1M0 34h1"/>
<path stroke="#3fc" d="M2 0h1M10 0h1M12 0h1M14 0h1M21 0h1M36 0h2M43 0h1M0 2h1M0 10h1M0 12h1M0 14h1M0 21h1M0 36h1M0 37h1M0 43h1"/>
<path stroke="#0ff" d="M3 0h1M13 0h1M22 0h1M26 0h1M39 0h1M0 3h1M0 13h1M0 22h1M0 26h1M0 39h1"/>
<path stroke="#00e5ff" d="M5 0h1M8 0h1M18 0h1M27 0h1M29 0h1M38 0h1M44 0h3M0 5h1M0 8h1M0 18h1M0 27h1M0 29h1M0 38h1M0 44h1M0 45h1M0 46h1"/>
<path stroke="#9f6" d="M6 0h2M0 6h1M0 7h1M22 15h1M15 22h1M25 22h1M42 22h1M22 25h1M22 42h1"/>
<path stroke="#00b2ff" d="M9 0h1M16 0h1M47 0h2M0 9h1M0 16h1M0 47h1M0 48h1"/>
<path stroke="#4dffb2" d="M11 0h1M20 0h1M0 11h1M0 20h1"/>
<path stroke="#004dff" d="M15 0h1M0 15h1"/>
<path stroke="#b3ff4c" d="M17 0h1M22 7h1M22 14h1M0 17h1M7 22h1M14 22h1M36 22h1M22 36h1"/>
<path stroke="#6f9" d="M19 0h1M30 0h1M35 0h1M22 1h1M0 19h1M1 22h1M0 30h1M0 35h1"/>
<path stroke="#80ff80" d="M23 0h1M41 0h1M22 3h1M3 22h1M0 23h1M0 41h1"/>
<path stroke="#1affe5" d="M24 0h2M28 0h1M32 0h1M0 24h1M0 25h1M0 28h1M0 32h1"/>
<path stroke="#09f" d="M40 0h1M0 40h1"/>
<path stroke="#06f" d="M42 0h1M0 42h1"/>
<path stroke="#cf3" d="M2 1h1M4 1h2M14 1h1M1 2h1M1 4h1M22 4h1M1 5h1M22 5h1M22 6h1M1 14h1M42 15h1M22 16h1M22 18h1M4 22h3M16 22h1M18 22h1M24 22h1M27 22h1M29 22h1M38 22h1M41 22h1M43 22h5M22 24h1M22 27h1M22 29h1M22 38h1M22 41h1M15 42h1M22 43h1M22 44h1M22 45h1M22 46h1M22 47h1"/>
<path stroke="#ff0" d="M3 1h1M6 1h1M8 1h1M12 1h1M16 1h1M19 1h1M26 1h2M7 2h1M16 2h1M1 3h1M4 3h1M7 3h1M15 3h1M46 3h1M3 4h1M5 4h1M7 4h1M4 5h1M9 5h1M12 5h1M15 5h2M18 5h1M43 5h1M48 5h1M1 6h1M2 7h3M20 7h2M42 7h1M1 8h1M15 8h1M42 8h1M5 9h1M22 9h1M1 12h1M5 12h1M42 12h1M3 15h1M5 15h1M8 15h1M19 15h1M48 15h1M1 16h2M5 16h1M5 18h1M1 19h1M15 19h1M7 20h1M42 20h1M7 21h1M22 21h1M9 22h1M21 22h1M23 22h1M28 22h1M30 22h1M33 22h2M22 23h1M42 25h1M1 26h1M1 27h1M22 28h1M22 30h1M22 33h1M22 34h1M7 42h2M12 42h1M20 42h1M25 42h1M5 43h1M3 46h1M5 48h1M15 48h1"/>
<path stroke="#fc0" d="M7 1h1M20 1h2M23 1h3M32 1h2M38 1h2M43 1h1M45 1h3M8 2h2M11 2h1M13 2h1M17 2h2M20 2h1M23 2h1M26 2h1M30 2h2M33 2h1M37 2h2M45 2h1M11 3h2M16 3h2M36 3h1M47 3h1M9 4h1M11 4h2M16 4h1M18 4h1M26 4h1M39 4h1M43 4h1M20 5h2M29 5h1M31 5h1M36 5h1M38 5h1M1 7h1M10 7h1M12 7h1M16 7h1M19 7h1M25 7h1M29 7h1M44 7h1M47 7h1M2 8h1M16 8h1M2 9h1M4 9h1M14 9h2M43 9h1M45 9h1M7 10h1M42 10h1M2 11h3M22 11h1M3 12h2M7 12h1M16 12h1M2 13h1M42 13h1M9 14h1M38 14h1M45 14h1M48 14h1M9 15h1M16 15h1M18 15h1M25 15h2M31 15h1M45 15h3M3 16h2M7 16h2M12 16h1M15 16h1M18 16h1M47 16h1M2 17h2M20 17h1M2 18h1M4 18h1M15 18h2M19 18h1M48 18h1M7 19h1M18 19h1M42 19h1M1 20h2M5 20h1M17 20h1M1 21h1M5 21h1M11 22h1M1 23h2M1 24h1M1 25h1M7 25h1M15 25h1M2 26h1M4 26h1M15 26h1M42 26h1M42 27h1M5 29h1M7 29h1M42 29h1M2 30h1M2 31h1M5 31h1M15 31h1M1 32h1M1 33h2M3 36h1M5 36h1M2 37h1M1 38h2M5 38h1M14 38h1M42 38h1M1 39h1M4 39h1M10 42h1M13 42h1M19 42h1M26 42h2M29 42h1M38 42h1M1 43h1M4 43h1M9 43h1M7 44h1M1 45h2M9 45h1M14 45h2M1 46h1M15 46h1M1 47h1M3 47h1M7 47h1M15 47h2M14 48h1M18 48h1"/>
<path stroke="#ffe500" d="M9 1h3M18 1h1M29 1h1M36 1h1M41 1h1M48 1h1M3 2h1M5 2h2M19 2h1M44 2h1M47 2h2M2 3h1M5 3h1M18 3h1M42 3h1M6 4h1M14 4h1M44 4h5M2 5h2M6 5h3M13 5h1M17 5h1M19 5h1M47 5h1M2 6h1M4 6h2M8 6h1M16 6h1M42 6h1M5 7h1M9 7h1M15 7h1M27 7h1M5 8h2M1 9h1M7 9h1M42 9h1M1 10h1M1 11h1M22 12h1M5 13h1M4 14h1M15 14h1M25 14h1M7 15h1M14 15h1M20 15h1M38 15h1M6 16h1M5 17h1M1 18h1M3 18h1M42 18h1M2 19h1M5 19h1M15 20h1M42 21h1M12 22h1M32 22h1M35 22h1M37 22h1M40 22h1M14 25h1M7 27h1M1 29h1M22 32h1M22 35h1M1 36h1M42 36h1M22 37h1M15 38h1M22 40h1M42 40h1M1 41h1M3 42h1M6 42h1M9 42h1M18 42h1M21 42h1M36 42h1M40 42h1M45 42h2M48 42h1M2 44h1M4 44h1M4 45h1M42 45h1M4 46h1M42 46h1M2 47h1M4 47h2M1 48h2M4 48h1M42 48h1"/>
<path stroke="#ffb300" d="M13 1h1M17 1h1M30 1h1M10 2h1M12 2h1M14 2h1M25 2h1M27 2h1M35 2h2M39 2h1M43 2h1M46 2h1M6 3h1M14 3h1M19 3h3M23 3h1M27 3h1M33 3h1M41 3h1M43 3h1M45 3h1M8 4h1M13 4h1M15 4h1M17 4h1M19 4h1M21 4h1M23 4h1M25 4h1M27 4h1M31 4h2M35 4h3M40 4h2M10 5h2M14 5h1M25 5h1M37 5h1M39 5h2M44 5h2M3 6h1M7 6h1M9 6h1M12 6h3M19 6h2M26 6h1M37 6h2M43 6h2M6 7h1M17 7h1M23 7h2M28 7h1M36 7h2M39 7h2M43 7h1M46 7h1M4 8h1M9 8h1M18 8h2M39 8h1M44 8h1M46 8h2M6 9h1M8 9h1M18 9h1M20 9h1M47 9h2M2 10h1M5 10h1M14 10h3M5 11h1M14 11h1M42 11h1M48 11h1M2 12h1M6 12h1M15 12h1M38 12h1M44 12h2M1 13h1M4 13h1M6 13h1M15 13h1M47 13h1M2 14h2M5 14h2M10 14h2M17 14h2M20 14h1M26 14h1M47 14h1M4 15h1M10 15h1M12 15h2M17 15h1M34 15h1M39 15h1M43 15h2M10 16h1M20 16h1M31 16h1M33 16h1M37 16h1M41 16h1M1 17h1M4 17h1M7 17h1M14 17h2M8 18h2M14 18h1M43 18h1M47 18h1M3 19h2M6 19h1M8 19h1M26 19h1M46 19h1M48 19h1M3 20h1M6 20h1M9 20h1M14 20h1M16 20h1M37 20h1M46 20h1M48 20h1M3 21h2M3 23h2M7 23h1M42 23h1M7 24h1M2 25h1M4 25h2M6 26h1M14 26h1M19 26h1M2 27h3M46 27h2M7 28h1M42 28h1M48 29h1M1 30h1M42 30h1M4 31h1M16 31h1M4 32h1M42 32h1M3 33h1M16 33h1M42 33h1M15 34h1M2 35h1M4 35h1M2 36h1M4 36h1M7 36h1M48 36h1M4 37h4M16 37h1M20 37h1M6 38h1M12 38h1M48 38h1M2 39h1M5 39h1M7 39h2M15 39h1M46 39h1M4 40h2M7 40h1M3 41h2M16 41h1M11 42h1M23 42h1M28 42h1M30 42h1M32 42h2M43 42h2M2 43h2M6 43h2M15 43h1M18 43h1M42 43h1M5 44h2M8 44h1M12 44h1M15 44h1M42 44h1M3 45h1M5 45h1M12 45h1M48 45h1M2 46h1M7 46h2M19 46h2M27 46h1M39 46h1M47 46h1M8 47h2M13 47h2M18 47h1M27 47h1M46 47h1M9 48h1M11 48h1M19 48h2M29 48h1M36 48h1M38 48h1M45 48h1"/>
<path stroke="#e5ff1a" d="M15 1h1M42 1h1M4 2h1M15 2h1M22 2h1M42 2h1M2 4h1M42 4h1M42 5h1M46 5h1M15 6h1M14 7h1M22 8h1M22 10h1M22 13h1M7 14h1M42 14h1M1 15h2M6 15h1M42 16h1M22 17h1M22 19h1M22 20h1M2 22h1M8 22h1M10 22h1M13 22h1M17 22h1M19 22h2M26 22h1M31 22h1M39 22h1M48 22h1M22 26h1M22 31h1M22 39h1M1 42h2M4 42h2M14 42h1M16 42h1M47 42h1M5 46h1M42 47h1M22 48h1"/>
<path stroke="#f90" d="M28 1h1M31 1h1M35 1h1M37 1h1M44 1h1M28 2h2M40 2h2M8 3h3M24 3h3M31 3h2M35 3h1M37 3h2M44 3h1M48 3h1M20 4h1M28 4h2M33 4h2M38 4h1M23 5h2M26 5h2M30 5h1M33 5h3M17 6h2M21 6h1M24 6h1M27 6h1M36 6h1M40 6h1M46 6h1M11 7h1M18 7h1M26 7h1M30 7h2M33 7h1M45 7h1M3 8h1M10 8h1M12 8h1M14 8h1M25 8h1M43 8h1M45 8h1M48 8h1M3 9h1M12 9h1M19 9h1M46 9h1M3 10h1M8 10h1M12 10h1M18 10h1M7 11h1M15 11h1M18 11h2M25 11h1M8 12h3M33 12h1M43 12h1M46 12h1M16 13h1M19 13h1M21 13h1M43 13h2M48 13h1M8 14h1M16 14h1M24 14h1M29 14h1M36 14h1M43 14h1M46 14h1M11 15h1M24 15h1M27 15h1M36 15h2M40 15h2M13 16h2M17 16h1M19 16h1M24 16h2M32 16h1M38 16h1M43 16h1M45 16h1M48 16h1M6 17h1M16 17h1M18 17h1M28 17h1M36 17h1M42 17h6M6 18h2M10 18h2M17 18h1M20 18h1M26 18h1M40 18h1M46 18h1M9 19h1M11 19h1M13 19h1M16 19h1M20 19h1M24 19h2M38 19h1M44 19h1M4 20h1M18 20h2M26 20h2M47 20h1M6 21h1M13 21h1M43 21h1M46 21h1M5 23h1M3 24h1M5 24h2M14 24h3M19 24h1M3 25h1M8 25h1M11 25h1M16 25h1M19 25h1M3 26h1M5 26h1M7 26h1M18 26h1M20 26h1M43 26h1M47 26h1M5 27h2M15 27h1M20 27h1M1 28h2M4 28h1M17 28h1M2 29h1M4 29h1M14 29h1M5 30h1M7 30h1M1 31h1M3 31h1M7 31h1M42 31h2M3 32h1M16 32h1M4 33h2M7 33h1M12 33h1M4 34h2M1 35h1M3 35h1M5 35h1M6 36h1M14 36h2M17 36h1M45 36h2M1 37h1M3 37h1M15 37h1M42 37h2M45 37h2M3 38h2M16 38h1M19 38h1M42 39h1M48 39h1M2 40h1M6 40h1M15 40h1M18 40h1M43 40h1M2 41h1M15 41h1M42 41h1M17 42h1M31 42h1M37 42h1M39 42h1M41 42h1M8 43h1M12 43h3M16 43h2M21 43h1M26 43h1M31 43h1M37 43h1M40 43h1M45 43h1M47 43h1M1 44h1M3 44h1M13 44h1M17 44h1M19 44h1M7 45h2M16 45h2M36 45h2M43 45h1M6 46h1M9 46h1M12 46h1M14 46h1M17 46h2M21 46h1M36 46h2M48 46h1M17 47h1M20 47h1M26 47h1M43 47h1M48 47h1M3 48h1M8 48h1M13 48h1M16 48h1M39 48h1M46 48h2"/>
<path stroke="#ff8000" d="M34 1h1M40 1h1M21 2h1M24 2h1M32 2h1M34 2h1M13 3h1M29 3h1M34 3h1M39 3h2M10 4h1M24 4h1M30 4h1M28 5h1M32 5h1M41 5h1M10 6h2M25 6h1M29 6h1M32 6h1M35 6h1M41 6h1M45 6h1M47 6h1M8 7h1M13 7h1M38 7h1M41 7h1M48 7h1M7 8h1M17 8h1M20 8h2M27 8h1M29 8h1M33 8h1M35 8h1M37 8h1M40 8h2M10 9h2M16 9h1M25 9h3M30 9h1M35 9h2M44 9h1M4 10h1M6 10h1M9 10h1M11 10h1M19 10h2M27 10h1M31 10h1M36 10h1M43 10h2M46 10h2M6 11h1M9 11h2M16 11h2M33 11h1M36 11h1M45 11h3M14 12h1M19 12h1M25 12h1M27 12h1M36 12h1M40 12h1M3 13h1M7 13h1M14 13h1M18 13h1M20 13h1M27 13h1M46 13h1M12 14h2M19 14h1M21 14h1M28 14h1M39 14h3M44 14h1M21 15h1M28 15h3M33 15h1M35 15h1M9 16h1M11 16h1M27 16h3M35 16h2M40 16h1M44 16h1M8 17h1M11 17h1M29 17h1M31 17h1M13 18h1M25 18h1M33 18h1M36 18h1M38 18h2M45 18h1M10 19h1M12 19h1M14 19h1M27 19h3M31 19h2M37 19h1M39 19h2M43 19h1M45 19h1M47 19h1M8 20h1M10 20h1M13 20h1M31 20h1M36 20h1M38 20h2M43 20h1M45 20h1M2 21h1M8 21h1M14 21h2M29 21h1M38 21h1M40 21h1M44 21h1M45 23h1M47 23h1M2 24h1M4 24h1M42 24h1M46 24h1M6 25h1M9 25h1M12 25h1M18 25h1M40 25h1M46 25h2M9 26h1M31 26h1M45 26h1M48 26h1M8 27h3M12 27h2M16 27h1M19 27h1M29 27h1M32 27h1M5 28h1M14 28h3M19 28h1M47 28h1M3 29h1M6 29h1M8 29h1M15 29h3M19 29h1M21 29h1M27 29h1M37 29h1M47 29h1M4 30h1M9 30h1M15 30h1M48 30h1M10 31h1M17 31h1M19 31h2M26 31h1M2 32h1M5 32h2M19 32h1M27 32h1M43 32h1M47 32h2M8 33h1M11 33h1M15 33h1M18 33h1M38 33h1M45 33h1M48 33h1M1 34h3M6 35h1M8 35h2M15 35h2M9 36h4M16 36h1M18 36h1M20 36h1M38 36h2M43 36h1M8 37h1M19 37h1M29 37h1M38 37h1M44 37h1M7 38h1M18 38h1M20 38h2M33 38h1M36 38h2M43 38h1M45 38h1M3 39h1M14 39h1M18 39h3M36 39h1M43 39h2M47 39h1M1 40h1M3 40h1M8 40h1M12 40h1M14 40h1M16 40h1M19 40h1M21 40h1M25 40h1M5 41h4M14 41h1M43 41h1M48 41h1M24 42h1M10 43h1M19 43h2M32 43h1M36 43h1M38 43h2M41 43h1M44 43h1M46 43h1M48 43h1M9 44h2M14 44h1M16 44h1M21 44h1M37 44h1M39 44h1M43 44h1M46 44h2M6 45h1M11 45h1M18 45h3M23 45h1M26 45h1M33 45h1M38 45h1M46 45h2M10 46h2M13 46h1M24 46h2M43 46h3M6 47h1M10 47h2M19 47h1M23 47h1M25 47h1M28 47h2M32 47h1M39 47h1M44 47h2M7 48h1M26 48h1M30 48h1M32 48h2M41 48h1M43 48h1"/>
<path stroke="#f60" d="M28 3h1M30 3h1M23 6h1M30 6h1M33 6h2M48 6h1M32 7h1M34 7h1M11 8h1M23 8h2M28 8h1M31 8h2M38 8h1M17 9h1M21 9h1M23 9h2M31 9h1M37 9h4M13 10h1M17 10h1M21 10h1M25 10h2M29 10h1M33 10h1M38 10h2M48 10h1M8 11h1M20 11h1M27 11h1M29 11h1M38 11h2M43 11h1M13 12h1M17 12h2M20 12h1M30 12h1M37 12h1M47 12h2M10 13h1M12 13h1M25 13h1M28 13h3M36 13h2M40 13h1M45 13h1M27 14h1M30 14h1M32 14h2M37 14h1M32 15h1M21 16h1M26 16h1M30 16h1M34 16h1M9 17h2M12 17h1M19 17h1M21 17h1M23 17h5M32 17h1M38 17h1M40 17h2M12 18h1M21 18h1M27 18h1M32 18h1M37 18h1M41 18h1M44 18h1M17 19h1M21 19h1M23 19h1M30 19h1M33 19h1M35 19h1M11 20h2M21 20h1M24 20h2M28 20h3M32 20h1M35 20h1M40 20h1M44 20h1M9 21h2M16 21h5M25 21h3M35 21h1M37 21h1M47 21h2M6 23h1M8 23h2M17 23h1M19 23h1M26 23h1M30 23h1M36 23h1M44 23h1M46 23h1M48 23h1M8 24h2M17 24h1M20 24h1M25 24h3M33 24h1M47 24h1M10 25h1M13 25h1M17 25h1M20 25h2M24 25h1M26 25h1M29 25h1M36 25h1M38 25h1M43 25h3M48 25h1M10 26h1M16 26h2M21 26h1M23 26h3M27 26h1M29 26h1M34 26h2M38 26h1M40 26h2M44 26h1M46 26h1M11 27h1M14 27h1M17 27h2M21 27h1M24 27h1M26 27h1M31 27h1M35 27h1M38 27h1M43 27h2M3 28h1M8 28h1M13 28h1M20 28h1M43 28h2M10 29h2M13 29h1M20 29h1M25 29h2M33 29h1M38 29h1M43 29h1M45 29h2M3 30h1M6 30h1M12 30h3M16 30h1M19 30h2M23 30h1M36 30h2M39 30h2M43 30h1M47 30h1M8 31h2M27 31h1M37 31h1M47 31h1M7 32h2M14 32h2M17 32h2M20 32h1M35 32h1M45 32h1M6 33h1M10 33h1M14 33h1M19 33h1M24 33h1M29 33h1M39 33h1M44 33h1M46 33h1M6 34h2M16 34h1M26 34h1M36 34h1M38 34h1M42 34h2M46 34h2M19 35h3M26 35h2M32 35h1M39 35h1M42 35h3M46 35h2M13 36h1M23 36h1M25 36h1M30 36h1M34 36h1M44 36h1M47 36h1M9 37h1M12 37h3M18 37h1M21 37h1M30 37h2M41 37h1M47 37h2M8 38h4M17 38h1M25 38h3M29 38h1M34 38h1M41 38h1M46 38h2M9 39h3M30 39h1M33 39h1M35 39h1M45 39h1M9 40h1M13 40h1M17 40h1M20 40h1M26 40h1M30 40h1M44 40h4M17 41h2M26 41h1M37 41h2M45 41h1M34 42h2M11 43h1M25 43h1M27 43h4M34 43h2M18 44h1M20 44h1M23 44h1M25 44h4M33 44h1M35 44h2M40 44h1M45 44h1M48 44h1M13 45h1M25 45h1M29 45h1M32 45h1M39 45h3M44 45h1M23 46h1M26 46h1M29 46h1M33 46h3M38 46h1M40 46h1M12 47h1M21 47h1M24 47h1M30 47h2M34 47h5M40 47h1M6 48h1M10 48h1M12 48h1M21 48h1M23 48h1M25 48h1M37 48h1M44 48h1"/>
<path stroke="#ff4c00" d="M28 6h1M31 6h1M39 6h1M13 8h1M26 8h1M34 8h1M36 8h1M13 9h1M28 9h2M32 9h2M41 9h1M24 10h1M32 10h1M34 10h2M45 10h1M12 11h2M21 11h1M24 11h1M26 11h1M28 11h1M30 11h1M40 11h1M44 11h1M11 12h1M21 12h1M23 12h2M26 12h1M28 12h2M31 12h2M39 12h1M8 13h2M11 13h1M17 13h1M24 13h1M26 13h1M32 13h1M35 13h1M39 13h1M41 13h1M31 14h1M34 14h2M23 15h1M23 16h1M46 16h1M13 17h1M30 17h1M33 17h2M37 17h1M39 17h1M48 17h1M24 18h1M29 18h3M35 18h1M36 19h1M41 19h1M23 20h1M34 20h1M41 20h1M11 21h2M23 21h1M31 21h4M36 21h1M39 21h1M45 21h1M12 23h1M15 23h2M20 23h2M27 23h1M31 23h2M35 23h1M38 23h1M10 24h4M18 24h1M29 24h1M39 24h2M44 24h1M48 24h1M27 25h1M8 26h1M11 26h3M28 26h1M30 26h1M32 26h2M36 26h2M39 26h1M23 27h1M25 27h1M28 27h1M30 27h1M33 27h1M36 27h2M40 27h2M45 27h1M48 27h1M6 28h1M9 28h1M11 28h2M26 28h2M37 28h1M45 28h2M9 29h1M12 29h1M18 29h1M24 29h1M35 29h2M40 29h1M44 29h1M11 30h1M17 30h2M26 30h2M44 30h3M6 31h1M12 31h1M14 31h1M18 31h1M21 31h1M23 31h1M38 31h1M40 31h1M45 31h2M48 31h1M9 32h2M12 32h2M21 32h1M23 32h1M26 32h1M38 32h2M44 32h1M46 32h1M9 33h1M17 33h1M21 33h1M26 33h2M34 33h3M40 33h1M43 33h1M47 33h1M8 34h1M10 34h1M14 34h1M17 34h1M20 34h2M33 34h1M35 34h1M48 34h1M10 35h1M13 35h2M18 35h1M23 35h1M29 35h1M33 35h2M36 35h1M38 35h1M40 35h1M45 35h1M8 36h1M19 36h1M21 36h1M26 36h2M29 36h1M33 36h1M35 36h1M41 36h1M17 37h1M26 37h3M39 37h2M23 38h1M31 38h2M35 38h1M39 38h2M44 38h1M6 39h1M12 39h2M17 39h1M21 39h1M24 39h1M26 39h1M32 39h1M37 39h2M41 39h1M11 40h1M24 40h1M27 40h1M29 40h1M31 40h1M33 40h1M35 40h1M37 40h2M48 40h1M9 41h1M13 41h1M19 41h2M27 41h1M36 41h1M39 41h1M44 41h1M46 41h1M33 43h1M11 44h1M24 44h1M29 44h2M32 44h1M38 44h1M41 44h1M10 45h1M21 45h1M27 45h2M30 45h2M35 45h1M16 46h1M28 46h1M30 46h3M41 46h1M33 47h1M17 48h1M24 48h1M27 48h1M31 48h1M34 48h1M40 48h1"/>
<path stroke="#f30" d="M35 7h1M30 8h1M34 9h1M28 10h1M30 10h1M37 10h1M40 10h1M35 11h1M37 11h1M35 12h1M41 12h1M23 13h1M33 13h2M38 13h1M23 14h1M39 16h1M35 17h1M23 18h1M28 18h1M34 18h1M33 20h1M28 21h1M41 21h1M13 23h2M18 23h1M25 23h1M37 23h1M39 23h3M30 24h1M32 24h1M35 24h2M38 24h1M43 24h1M23 25h1M28 25h1M30 25h2M33 25h3M37 25h1M34 27h1M39 27h1M10 28h1M18 28h1M21 28h1M25 28h1M29 28h2M33 28h2M38 28h2M41 28h1M48 28h1M28 29h1M30 29h3M34 29h1M41 29h1M8 30h1M10 30h1M24 30h2M28 30h2M33 30h2M25 31h1M29 31h1M32 31h2M35 31h2M44 31h1M24 32h1M29 32h1M31 32h1M33 32h1M36 32h2M13 33h1M20 33h1M25 33h1M28 33h1M30 33h3M37 33h1M9 34h1M13 34h1M18 34h1M25 34h1M27 34h4M39 34h3M44 34h2M7 35h1M11 35h2M17 35h1M24 35h2M31 35h1M41 35h1M48 35h1M24 36h1M31 36h2M37 36h1M10 37h2M23 37h1M25 37h1M32 37h2M36 37h1M13 38h1M24 38h1M28 38h1M16 39h1M23 39h1M27 39h2M34 39h1M10 40h1M23 40h1M34 40h1M12 41h1M21 41h1M23 41h1M28 41h2M34 41h2M47 41h1M24 43h1M31 44h1M34 44h1M34 45h1M41 47h1M28 48h1M35 48h1"/>
<path stroke="#ff1a00" d="M23 10h1M41 10h1M23 11h1M31 11h2M34 11h1M41 11h1M34 12h1M31 13h1M34 19h1M24 21h1M30 21h1M10 23h2M24 23h1M28 23h2M33 23h2M43 23h1M21 24h1M23 24h1M28 24h1M31 24h1M34 24h1M37 24h1M41 24h1M45 24h1M32 25h1M39 25h1M41 25h1M23 28h2M31 28h2M35 28h2M40 28h1M23 29h1M39 29h1M21 30h1M31 30h2M35 30h1M38 30h1M41 30h1M11 31h1M13 31h1M24 31h1M28 31h1M30 31h1M34 31h1M39 31h1M41 31h1M11 32h1M25 32h1M28 32h1M30 32h1M34 32h1M40 32h2M23 33h1M41 33h1M11 34h2M19 34h1M23 34h2M31 34h2M37 34h1M28 35h1M30 35h1M37 35h1M28 36h1M40 36h1M24 37h1M34 37h2M30 38h1M25 39h1M29 39h1M31 39h1M40 39h1M28 40h1M32 40h1M36 40h1M39 40h1M41 40h1M10 41h2M24 41h2M30 41h4M40 41h1M23 43h1M24 45h1"/>
</g>
<defs><linearGradient id="jeth" x1="0" y1="0" x2="1" y2="0">
<stop offset="0" stop-color="#000080"/>
<stop offset=".031" stop-color="#00009f"/>
<stop offset=".062" stop-color="#0000bf"/>
<stop offset=".094" stop-color="#0000df"/>
<stop offset=".125" stop-color="#00f"/>
<stop offset=".156" stop-color="#0020ff"/>
<stop offset=".188" stop-color="#0040ff"/>
<stop offset=".219" stop-color="#0060ff"/>
<stop offset=".25" stop-color="#0080ff"/>
<stop offset=".281" stop-color="#009fff"/>
<stop offset=".312" stop-color="#00bfff"/>
<stop offset=".344" stop-color="#00dfff"/>
<stop offset=".375" stop-color="#0ff"/>
<stop offset=".406" stop-color="#20ffdf"/>
<stop offset=".438" stop-color="#40ffbf"/>
<stop offset=".469" stop-color="#60ff9f"/>
<stop offset=".5" stop-color="#80ff80"/>
<stop offset=".531" stop-color="#9fff60"/>
<stop offset=".562" stop-color="#bfff40"/>
<stop offset=".594" stop-color="#dfff20"/>
<stop offset=".625" stop-color="#ff0"/>
<stop offset=".656" stop-color="#ffdf00"/>
<stop offset=".688" stop-color="#ffbf00"/>
<stop offset=".719" stop-color="#ff9f00"/>
<stop offset=".75" stop-color="#ff8000"/>
<stop offset=".781" stop-color="#ff6000"/>
<stop offset=".812" stop-color="#ff4000"/>
<stop offset=".844" stop-color="#ff2000"/>
<stop offset=".875" stop-color="#f00"/>
<stop offset=".906" stop-color="#df0000"/>
<stop offset=".938" stop-color="#bf0000"/>
<stop offset=".969" stop-color="#9f0000"/>
<stop offset="1" stop-color="#800000"/>
</linearGradient></defs>
<rect x="1163.3" y="1473.8" width="224" height="15.3" fill="url(#jeth)"/><rect x="1142.5" y="1473.8" width="21" height="15.3" fill="#000"/>
<text x="1097" y="664.7" font-size="43" font-weight="bold">d</text>
<text x="1265.5" y="682" font-size="24.8" text-anchor="middle">ROIs</text>
<text x="1140" y="688" font-size="24.8">1</text>
<text x="1368.5" y="688" font-size="24.8">49</text>
<text x="1132.5" y="715.1" font-size="24.8" text-anchor="end">1</text>
<text x="1132.5" y="946.3" font-size="24.8" text-anchor="end">49</text>
<text x="1132.5" y="977.4" font-size="24.8" text-anchor="end">1</text>
<text x="1132.5" y="1208.6" font-size="24.8" text-anchor="end">49</text>
<text x="1132.5" y="1239.8" font-size="24.8" text-anchor="end">1</text>
<text x="1132.5" y="1471" font-size="24.8" text-anchor="end">49</text>
<text font-size="24.8" text-anchor="middle" transform="translate(1412.5,817) rotate(90)">15 min before EtOH</text>
<text font-size="24.8" text-anchor="middle" transform="translate(1414,1081) rotate(90)">3–15 min after EtOH</text>
<text font-size="24.8" text-anchor="middle" transform="translate(1428.5,1342) rotate(90)">18–30 min after EtOH</text>
<text font-size="24.8" text-anchor="middle" transform="translate(1399,1342) rotate(90)">3–15 min after MK912</text>
<text x="1158.5" y="1512.5" font-size="24.8">0</text>
<text x="1388" y="1512.5" font-size="24.8" text-anchor="end">1</text>
<text x="1139" y="1542" font-size="24.8">NaN</text>
<text x="1204" y="1542" font-size="24.8">Correlation (<tspan font-style="italic">r</tspan>)</text>
<path d="M1151.2 1510V1498" stroke="#000" stroke-width="1.8"/><path d="M1151.2 1491.5l-4 10.5q4-2 8 0z"/>
</svg></body></html>
